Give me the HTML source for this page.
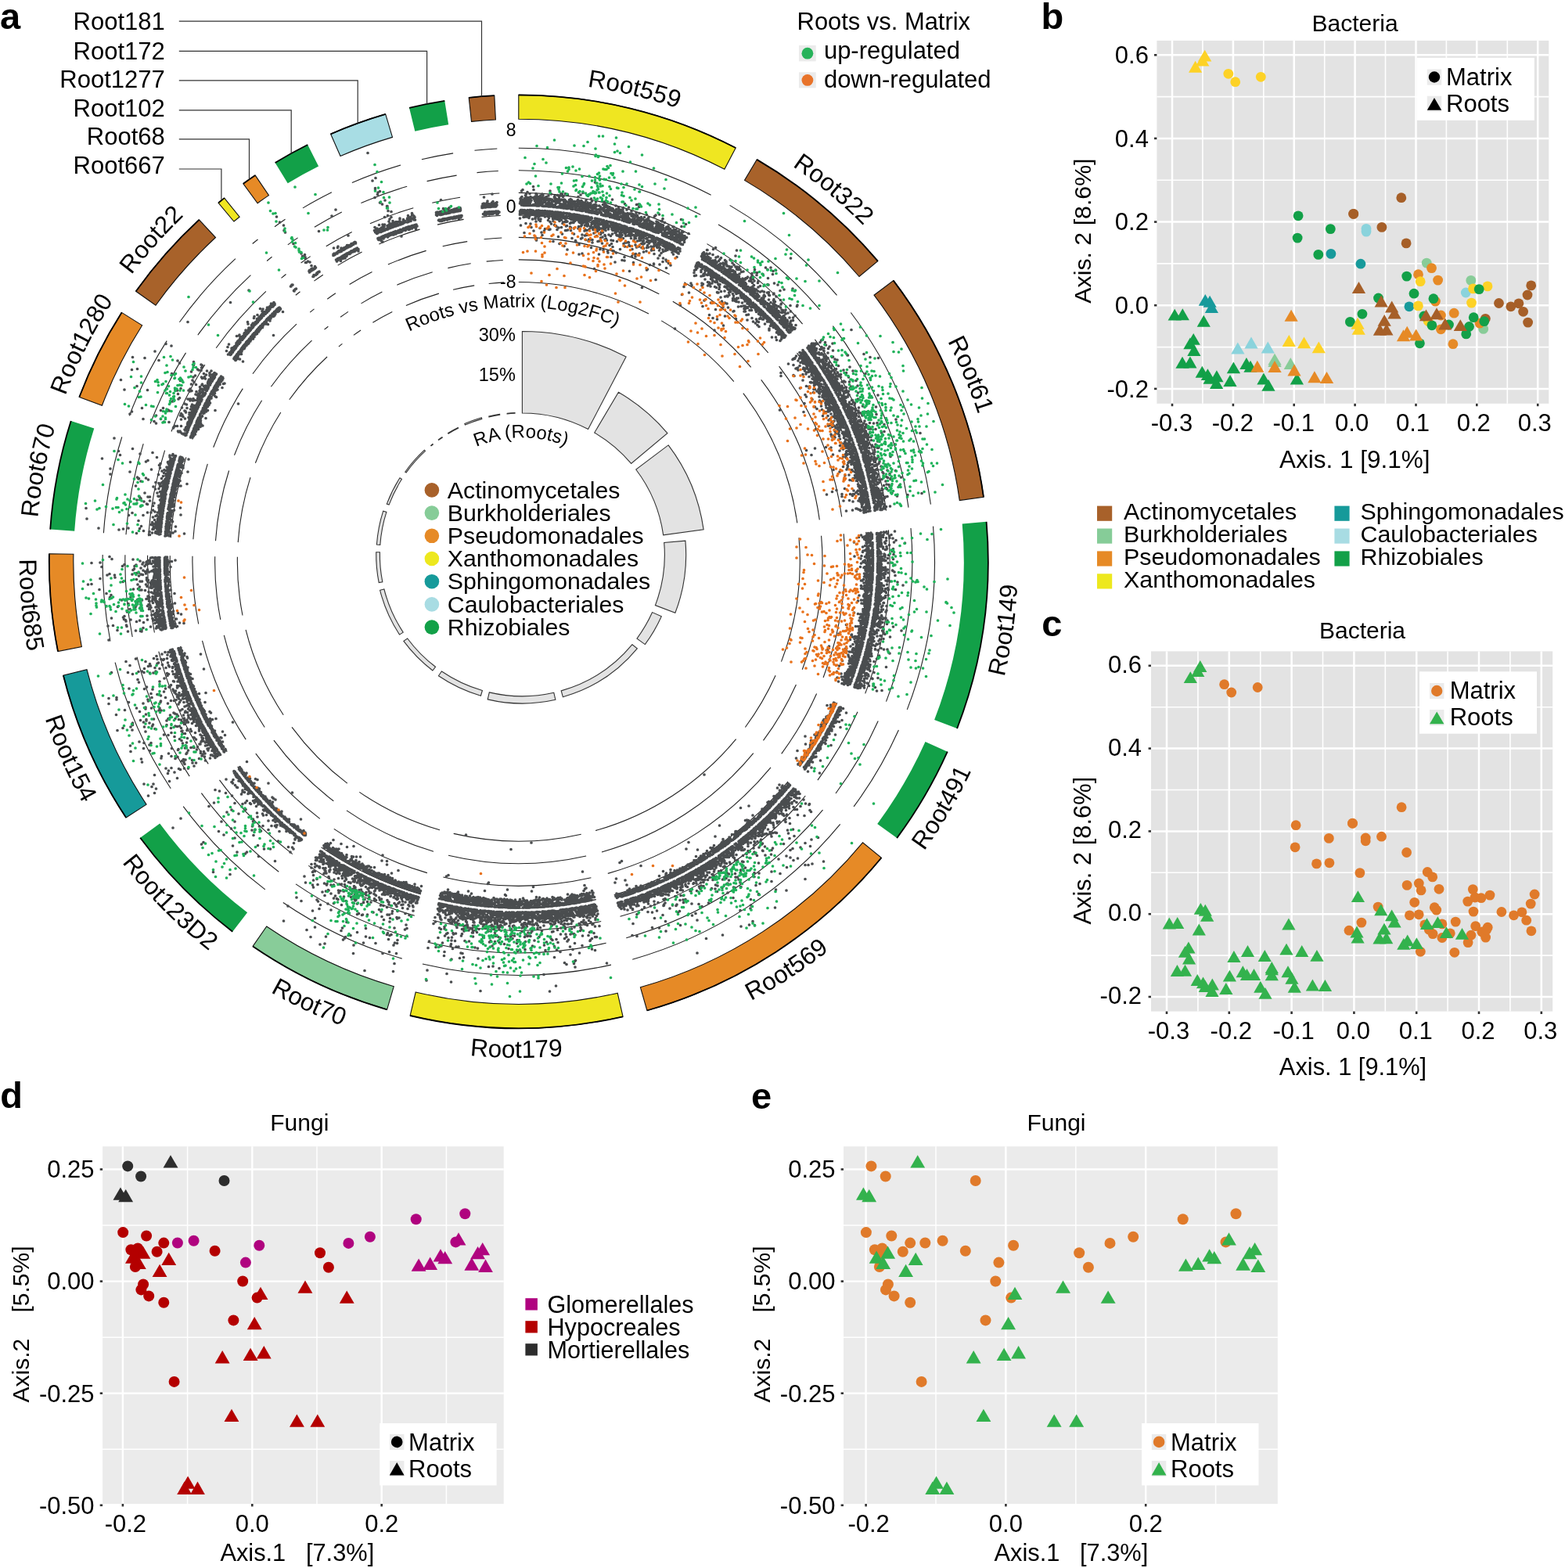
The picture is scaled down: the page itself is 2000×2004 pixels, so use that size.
<!DOCTYPE html><html><head><meta charset="utf-8"><title>Figure</title>
<style>html,body{margin:0;padding:0;background:#fff;}svg{display:block;}text{font-family:"Liberation Sans",Arial,sans-serif;fill:#000;}</style></head><body>
<svg xmlns="http://www.w3.org/2000/svg" width="2000" height="2004" viewBox="0 0 2000 2004">
<defs><path id="lp0" d="M149.9 376.9A617 613.3 0 0 1 1276.2 651.2"/><path id="lp1" d="M356.1 185.6A617 613.3 0 0 1 1241.9 929.5"/><path id="lp2" d="M636 105.1A617 613.3 0 0 1 1079.6 1170"/><path id="lp3" d="M795.2 1338.2A638 634.2 0 0 0 962.6 158"/><path id="lp4" d="M550 1342A638 634.2 0 0 0 1152.8 311.7"/><path id="lp5" d="M280.9 1225.8A638 634.2 0 0 0 1283.9 572.6"/><path id="lp6" d="M62.3 931.9A638 634.2 0 0 0 1261.3 937.4"/><path id="lp7" d="M27.6 658.3A638 634.2 0 0 0 1110.9 1169.2"/><path id="lp8" d="M87.6 443.5A638 634.2 0 0 0 926.1 1295.4"/><path id="lp9" d="M222.1 259.3A638 634.2 0 0 0 703.9 1350.6"/><path id="lp10" d="M392.6 143.3A638 634.2 0 0 0 498.3 1330.5"/><path id="lp11" d="M347.3 1244.9A617 613.3 0 0 1 563.6 112.5"/><path id="lp12" d="M215.5 1140.3A617 613.3 0 0 1 732.2 108.4"/><path id="lp13" d="M121.9 1012.8A617 613.3 0 0 1 886.4 146.2"/><path id="tt1" d="M339 669.1A327.5 325.5 0 0 1 983.8 653.5"/><path id="tt2" d="M518.9 684.5A150.5 149.6 0 0 1 815.3 681.4"/></defs>
<rect width="2000" height="2004" fill="#fff"/>
<path d="M662.8 121.4A600 596.4 0 0 1 940.2 189L925.9 216.3A569 565.6 0 0 0 662.8 152.2Z" fill="#efe621" stroke="#111" stroke-width="1.1"/>
<path d="M662.8 121.4A600 596.4 0 0 1 940.2 189" fill="none" stroke="#000" stroke-width="1.8"/>
<path d="M967.2 203.9A600 596.4 0 0 1 1121.8 333.7L1098 353.5A569 565.6 0 0 0 951.5 230.4Z" fill="#a8622a" stroke="#111" stroke-width="1.1"/>
<path d="M967.2 203.9A600 596.4 0 0 1 1121.8 333.7" fill="none" stroke="#000" stroke-width="1.8"/>
<path d="M1141.8 358.6A600 596.4 0 0 1 1257 635.3L1226.3 639.6A569 565.6 0 0 0 1117 377.2Z" fill="#a8622a" stroke="#111" stroke-width="1.1"/>
<path d="M1141.8 358.6A600 596.4 0 0 1 1257 635.3" fill="none" stroke="#000" stroke-width="1.8"/>
<path d="M1260.6 666.8A600 596.4 0 0 1 1223.1 931.1L1194.1 920.1A569 565.6 0 0 0 1229.7 669.4Z" fill="#12a048"/>
<path d="M1260.6 666.8A600 596.4 0 0 1 1223.1 931.1" fill="none" stroke="#000" stroke-width="1.8"/>
<path d="M1210.8 960.7A600 596.4 0 0 1 1146.2 1071.1L1121.2 1052.9A569 565.6 0 0 0 1182.5 948.1Z" fill="#12a048"/>
<path d="M1210.8 960.7A600 596.4 0 0 1 1146.2 1071.1" fill="none" stroke="#000" stroke-width="1.8"/>
<path d="M1126.4 1096.3A600 596.4 0 0 1 826.9 1291.5L818.4 1261.8A569 565.6 0 0 0 1102.5 1076.8Z" fill="#e68a26" stroke="#111" stroke-width="1.1"/>
<path d="M1126.4 1096.3A600 596.4 0 0 1 826.9 1291.5" fill="none" stroke="#000" stroke-width="1.8"/>
<path d="M796.1 1299.3A600 596.4 0 0 1 524.1 1298L531.2 1268A569 565.6 0 0 0 789.2 1269.2Z" fill="#efe621" stroke="#111" stroke-width="1.1"/>
<path d="M796.1 1299.3A600 596.4 0 0 1 524.1 1298" fill="none" stroke="#000" stroke-width="1.8"/>
<path d="M494.6 1290.3A600 596.4 0 0 1 323.1 1209.4L340.7 1184A569 565.6 0 0 0 503.3 1260.7Z" fill="#88cc99" stroke="#111" stroke-width="1.1"/>
<path d="M494.6 1290.3A600 596.4 0 0 1 323.1 1209.4" fill="none" stroke="#000" stroke-width="1.8"/>
<path d="M297.2 1190.7A600 596.4 0 0 1 179.2 1070.8L204.2 1052.5A569 565.6 0 0 0 316.1 1166.3Z" fill="#12a048"/>
<path d="M297.2 1190.7A600 596.4 0 0 1 179.2 1070.8" fill="none" stroke="#000" stroke-width="1.8"/>
<path d="M161.1 1045A600 596.4 0 0 1 80.9 863.2L111 855.7A569 565.6 0 0 0 187.1 1028.1Z" fill="#169a9a" stroke="#111" stroke-width="1.1"/>
<path d="M161.1 1045A600 596.4 0 0 1 80.9 863.2" fill="none" stroke="#000" stroke-width="1.8"/>
<path d="M74 832.5A600 596.4 0 0 1 62.9 707.7L93.9 708.2A569 565.6 0 0 0 104.4 826.6Z" fill="#e68a26" stroke="#111" stroke-width="1.1"/>
<path d="M74 832.5A600 596.4 0 0 1 62.9 707.7" fill="none" stroke="#000" stroke-width="1.8"/>
<path d="M64.2 676.6A600 596.4 0 0 1 90.7 538.1L120.3 547.4A569 565.6 0 0 0 95.2 678.7Z" fill="#12a048"/>
<path d="M64.2 676.6A600 596.4 0 0 1 90.7 538.1" fill="none" stroke="#000" stroke-width="1.8"/>
<path d="M101.3 507.5A600 596.4 0 0 1 155.5 399.4L181.7 415.8A569 565.6 0 0 0 130.4 518.3Z" fill="#e68a26" stroke="#111" stroke-width="1.1"/>
<path d="M101.3 507.5A600 596.4 0 0 1 155.5 399.4" fill="none" stroke="#000" stroke-width="1.8"/>
<path d="M173.7 372.3A600 596.4 0 0 1 254.4 280.9L275.5 303.5A569 565.6 0 0 0 199 390.2Z" fill="#a8622a" stroke="#111" stroke-width="1.1"/>
<path d="M173.7 372.3A600 596.4 0 0 1 254.4 280.9" fill="none" stroke="#000" stroke-width="1.8"/>
<path d="M279.1 259.3A600 596.4 0 0 1 286.7 253.1L306.1 277.2A569 565.6 0 0 0 298.9 283Z" fill="#efe621" stroke="#111" stroke-width="1.1"/>
<path d="M279.1 259.3A600 596.4 0 0 1 286.7 253.1" fill="none" stroke="#000" stroke-width="1.8"/>
<path d="M310.9 234.8A600 596.4 0 0 1 326.2 224.1L343.5 249.6A569 565.6 0 0 0 329.1 259.7Z" fill="#e68a26" stroke="#111" stroke-width="1.1"/>
<path d="M310.9 234.8A600 596.4 0 0 1 326.2 224.1" fill="none" stroke="#000" stroke-width="1.8"/>
<path d="M351.6 207.9A600 596.4 0 0 1 393.2 185L407.1 212.5A569 565.6 0 0 0 367.7 234.2Z" fill="#12a048"/>
<path d="M351.6 207.9A600 596.4 0 0 1 393.2 185" fill="none" stroke="#000" stroke-width="1.8"/>
<path d="M422.6 171.3A600 596.4 0 0 1 492.7 145.9L501.5 175.4A569 565.6 0 0 0 435 199.5Z" fill="#a8dde4" stroke="#111" stroke-width="1.1"/>
<path d="M422.6 171.3A600 596.4 0 0 1 492.7 145.9" fill="none" stroke="#000" stroke-width="1.8"/>
<path d="M523 137.8A600 596.4 0 0 1 568.3 128.9L573.2 159.3A569 565.6 0 0 0 530.3 167.8Z" fill="#12a048"/>
<path d="M523 137.8A600 596.4 0 0 1 568.3 128.9" fill="none" stroke="#000" stroke-width="1.8"/>
<path d="M599.2 124.8A600 596.4 0 0 1 631.8 122.2L633.4 153A569 565.6 0 0 0 602.5 155.4Z" fill="#a8622a" stroke="#111" stroke-width="1.1"/>
<path d="M599.2 124.8A600 596.4 0 0 1 631.8 122.2" fill="none" stroke="#000" stroke-width="1.8"/>
<path d="M662.8 360.5A359.5 357.3 0 0 1 829 401M662.8 331.9A388.2 385.9 0 0 1 842.3 375.7M662.8 303.4A416.9 414.4 0 0 1 855.6 350.4M662.8 274.9A445.6 442.9 0 0 1 868.8 325.1M662.8 246.4A474.3 471.4 0 0 1 882.1 299.8M662.8 217.8A503 500 0 0 1 895.4 274.5M662.8 189.3A531.7 528.5 0 0 1 908.6 249.2M845.2 409.9A359.5 357.3 0 0 1 937.8 487.6M859.8 385.3A388.2 385.9 0 0 1 959.7 469.3M874.3 360.7A416.9 414.4 0 0 1 981.7 450.9M888.9 336.1A445.6 442.9 0 0 1 1003.6 432.5M903.5 311.6A474.3 471.4 0 0 1 1025.6 414.1M918 287A503 500 0 0 1 1047.6 395.8M932.6 262.4A531.7 528.5 0 0 1 1069.5 377.4M949.8 502.6A359.5 357.3 0 0 1 1018.8 668.4M972.7 485.4A388.2 385.9 0 0 1 1047.3 664.4M995.6 468.2A416.9 414.4 0 0 1 1075.7 660.5M1018.5 451.1A445.6 442.9 0 0 1 1104.1 656.5M1041.4 433.9A474.3 471.4 0 0 1 1132.5 652.6M1064.4 416.7A503 500 0 0 1 1161 648.7M1087.3 399.5A531.7 528.5 0 0 1 1189.4 644.7M1021 687.2A359.5 357.3 0 0 1 998.5 845.6M1049.6 684.8A388.2 385.9 0 0 1 1025.3 855.8M1078.2 682.3A416.9 414.4 0 0 1 1052.1 866M1106.8 679.9A445.6 442.9 0 0 1 1078.9 876.2M1135.4 677.4A474.3 471.4 0 0 1 1105.7 886.4M1164 675A503 500 0 0 1 1132.5 896.6M1192.5 672.6A531.7 528.5 0 0 1 1159.3 906.9M991.1 863.3A359.5 357.3 0 0 1 952.4 929.5M1017.4 874.9A388.2 385.9 0 0 1 975.5 946.4M1043.6 886.5A416.9 414.4 0 0 1 998.7 963.3M1069.8 898.2A445.6 442.9 0 0 1 1021.8 980.2M1096 909.8A474.3 471.4 0 0 1 1044.9 997.1M1122.2 921.4A503 500 0 0 1 1068 1014M1148.4 933A531.7 528.5 0 0 1 1091.1 1030.9M940.6 944.6A359.5 357.3 0 0 1 761.1 1061.5M962.8 962.7A388.2 385.9 0 0 1 769 1089M985 980.8A416.9 414.4 0 0 1 776.8 1116.4M1007.1 998.9A445.6 442.9 0 0 1 784.7 1143.8M1029.3 1017A474.3 471.4 0 0 1 792.5 1171.3M1051.5 1035.1A503 500 0 0 1 800.3 1198.7M1073.7 1053.3A531.7 528.5 0 0 1 808.2 1226.2M742.7 1066.2A359.5 357.3 0 0 1 579.7 1065.4M749.1 1094A388.2 385.9 0 0 1 573 1093.2M755.4 1121.8A416.9 414.4 0 0 1 566.4 1121M761.8 1149.6A445.6 442.9 0 0 1 559.8 1148.7M768.2 1177.5A474.3 471.4 0 0 1 553.1 1176.5M774.6 1205.3A503 500 0 0 1 546.5 1204.2M781 1233.1A531.7 528.5 0 0 1 539.9 1232M562 1060.8A359.5 357.3 0 0 1 459.3 1012.4M554 1088.2A388.2 385.9 0 0 1 443 1035.9M545.9 1115.6A416.9 414.4 0 0 1 426.8 1059.4M537.9 1143A445.6 442.9 0 0 1 410.5 1082.9M529.8 1170.3A474.3 471.4 0 0 1 394.3 1106.4M521.8 1197.7A503 500 0 0 1 378 1129.9M513.7 1225.1A531.7 528.5 0 0 1 361.8 1153.5M443.8 1001.1A359.5 357.3 0 0 1 373 929.3M426.3 1023.8A388.2 385.9 0 0 1 349.9 946.2M408.8 1046.4A416.9 414.4 0 0 1 326.8 963.1M391.3 1069A445.6 442.9 0 0 1 303.6 979.9M373.8 1091.6A474.3 471.4 0 0 1 280.5 996.8M356.3 1114.2A503 500 0 0 1 257.4 1013.7M338.8 1136.9A531.7 528.5 0 0 1 234.2 1030.6M362.2 913.8A359.5 357.3 0 0 1 314.1 804.9M338.2 929.5A388.2 385.9 0 0 1 286.3 811.9M314.2 945.1A416.9 414.4 0 0 1 258.5 818.8M290.2 960.8A445.6 442.9 0 0 1 230.6 825.8M266.2 976.4A474.3 471.4 0 0 1 202.8 832.7M242.2 992.1A503 500 0 0 1 175 839.7M218.2 1007.7A531.7 528.5 0 0 1 147.1 846.6M310 786.5A359.5 357.3 0 0 1 303.4 711.8M281.8 792A388.2 385.9 0 0 1 274.7 711.3M253.7 797.5A416.9 414.4 0 0 1 246 710.8M225.5 803A445.6 442.9 0 0 1 217.3 710.3M197.4 808.5A474.3 471.4 0 0 1 188.6 709.8M169.2 814A503 500 0 0 1 159.9 709.3M141 819.5A531.7 528.5 0 0 1 131.2 708.9M304.2 693.1A359.5 357.3 0 0 1 320 610.1M275.5 691.2A388.2 385.9 0 0 1 292.6 601.5M246.9 689.2A416.9 414.4 0 0 1 265.3 592.9M218.3 687.2A445.6 442.9 0 0 1 237.9 584.3M189.6 685.2A474.3 471.4 0 0 1 210.6 575.7M161 683.3A503 500 0 0 1 183.2 567.1M132.4 681.3A531.7 528.5 0 0 1 155.8 558.5M326.4 591.8A359.5 357.3 0 0 1 358.8 527M299.5 581.7A388.2 385.9 0 0 1 334.6 511.8M272.7 571.7A416.9 414.4 0 0 1 310.3 496.6M245.8 561.6A445.6 442.9 0 0 1 286 481.3M219 551.5A474.3 471.4 0 0 1 261.8 466.1M192.1 541.5A503 500 0 0 1 237.5 450.9M165.3 531.4A531.7 528.5 0 0 1 213.2 435.6M369.8 510.8A359.5 357.3 0 0 1 418.1 456M346.4 494.3A388.2 385.9 0 0 1 398.5 435.1M323 477.8A416.9 414.4 0 0 1 379 414.2M299.6 461.2A445.6 442.9 0 0 1 359.5 393.3M276.2 444.7A474.3 471.4 0 0 1 339.9 372.4M252.8 428.2A503 500 0 0 1 320.4 351.6M229.4 411.7A531.7 528.5 0 0 1 300.9 330.7M432.9 443.1A359.5 357.3 0 0 1 437.4 439.4M414.5 421.2A388.2 385.9 0 0 1 419.4 417.2M396.2 399.2A416.9 414.4 0 0 1 401.5 394.9M377.8 377.3A445.6 442.9 0 0 1 383.5 372.7M359.5 355.4A474.3 471.4 0 0 1 365.5 350.5M341.1 333.5A503 500 0 0 1 347.5 328.3M322.7 311.5A531.7 528.5 0 0 1 329.5 306M451.9 428.4A359.5 357.3 0 0 1 461.1 422M435.1 405.3A388.2 385.9 0 0 1 445 398.4M418.3 382.2A416.9 414.4 0 0 1 428.9 374.8M401.4 359.1A445.6 442.9 0 0 1 412.8 351.2M384.6 336A474.3 471.4 0 0 1 396.7 327.6M367.8 312.9A503 500 0 0 1 380.6 303.9M351 289.8A531.7 528.5 0 0 1 364.5 280.3M476.4 412.3A359.5 357.3 0 0 1 501.3 398.6M461.5 387.9A388.2 385.9 0 0 1 488.4 373.1M446.6 363.5A416.9 414.4 0 0 1 475.5 347.6M431.7 339.1A445.6 442.9 0 0 1 462.6 322.1M416.8 314.7A474.3 471.4 0 0 1 449.7 296.6M401.9 290.3A503 500 0 0 1 436.8 271.1M387 265.9A531.7 528.5 0 0 1 423.9 245.7M518.9 390.4A359.5 357.3 0 0 1 560.9 375.1M507.4 364.2A388.2 385.9 0 0 1 552.7 347.8M495.9 338.1A416.9 414.4 0 0 1 544.6 320.4M484.4 311.9A445.6 442.9 0 0 1 536.5 293.1M472.9 285.8A474.3 471.4 0 0 1 528.3 265.7M461.4 259.6A503 500 0 0 1 520.2 238.3M449.9 233.5A531.7 528.5 0 0 1 512.1 211M579.1 370.3A359.5 357.3 0 0 1 606.2 364.9M572.4 342.6A388.2 385.9 0 0 1 601.7 336.8M565.7 314.8A416.9 414.4 0 0 1 597.2 308.6M559 287.1A445.6 442.9 0 0 1 592.6 280.4M552.3 259.3A474.3 471.4 0 0 1 588.1 252.2M545.6 231.6A503 500 0 0 1 583.6 224.1M538.9 203.8A531.7 528.5 0 0 1 579.1 195.9M624.7 362.5A359.5 357.3 0 0 1 644.2 360.9M621.7 334.1A388.2 385.9 0 0 1 642.8 332.5M618.6 305.7A416.9 414.4 0 0 1 641.3 304M615.6 277.4A445.6 442.9 0 0 1 639.8 275.5M612.6 249A474.3 471.4 0 0 1 638.3 247M609.5 220.6A503 500 0 0 1 636.8 218.5M606.5 192.3A531.7 528.5 0 0 1 635.3 190" fill="none" stroke="#222" stroke-width="1.1"/>
<path d="M667.4 423.5A287.1 285.4 0 0 1 800.1 455.9L751.6 548.5A182 180.9 0 0 0 667.4 528Z" fill="#e3e3e3" stroke="#333" stroke-width="1.1"/>
<path d="M790.4 501.2A242.5 241 0 0 1 852.9 553.6L806.6 592.4A182 180.9 0 0 0 759.7 553Z" fill="#e3e3e3" stroke="#333" stroke-width="1.1"/>
<path d="M854.1 568.9A233.9 232.5 0 0 1 899.1 676.7L847.7 683.9A182 180.9 0 0 0 812.7 600Z" fill="#e3e3e3" stroke="#333" stroke-width="1.1"/>
<path d="M875.9 691.1A209.3 208 0 0 1 862.9 783.3L837.4 773.6A182 180.9 0 0 0 848.7 693.4Z" fill="#e3e3e3" stroke="#333" stroke-width="1.1"/>
<path d="M845.3 787.7A194.8 193.6 0 0 1 824.3 823.6L814 816.1A182 180.9 0 0 0 833.6 782.6Z" fill="#e3e3e3" stroke="#333" stroke-width="1.1"/>
<path d="M814.3 828.8A190.1 189 0 0 1 719.4 890.7L717.2 882.9A182 180.9 0 0 0 808 823.7Z" fill="#e3e3e3" stroke="#333" stroke-width="1.1"/>
<path d="M709.9 894.3A191.3 190.1 0 0 1 623.2 893.9L625.3 884.9A182 180.9 0 0 0 707.8 885.3Z" fill="#e3e3e3" stroke="#333" stroke-width="1.1"/>
<path d="M614.4 889.2A189 187.9 0 0 1 560.4 863.8L564.4 858A182 180.9 0 0 0 616.4 882.5Z" fill="#e3e3e3" stroke="#333" stroke-width="1.1"/>
<path d="M552.9 857A187.9 186.8 0 0 1 515.9 819.4L520.7 816A182 180.9 0 0 0 556.5 852.3Z" fill="#e3e3e3" stroke="#333" stroke-width="1.1"/>
<path d="M510.6 811.1A187.5 186.4 0 0 1 485.6 754.3L490.9 753A182 180.9 0 0 0 515.2 808.1Z" fill="#e3e3e3" stroke="#333" stroke-width="1.1"/>
<path d="M484.2 744.6A186.7 185.6 0 0 1 480.7 705.8L485.4 705.8A182 180.9 0 0 0 488.8 743.7Z" fill="#e3e3e3" stroke="#333" stroke-width="1.1"/>
<path d="M481.4 696.1A186.4 185.3 0 0 1 489.7 653.1L493.9 654.4A182 180.9 0 0 0 485.8 696.4Z" fill="#e3e3e3" stroke="#333" stroke-width="1.1"/>
<path d="M494.3 644.1A185 183.9 0 0 1 511 610.7L513.5 612.3A182 180.9 0 0 0 497.1 645.1Z" fill="#e3e3e3" stroke="#333" stroke-width="1.1"/>
<path d="M517.7 603.2A183.6 182.5 0 0 1 542.4 575.2L543.5 576.4A182 180.9 0 0 0 519 604.1Z" fill="#e3e3e3" stroke="#333" stroke-width="1.1"/>
<path d="M550.6 569.4A182.6 181.5 0 0 1 552.9 567.5L553.3 568A182 180.9 0 0 0 551 569.8Z" fill="#e3e3e3" stroke="#333" stroke-width="1.1"/>
<path d="M560.3 561.9A182.6 181.5 0 0 1 564.9 558.7L565.3 559.2A182 180.9 0 0 0 560.7 562.4Z" fill="#e3e3e3" stroke="#333" stroke-width="1.1"/>
<path d="M572.6 553.5A182.8 181.7 0 0 1 585.3 546.6L585.6 547.3A182 180.9 0 0 0 573 554.2Z" fill="#e3e3e3" stroke="#333" stroke-width="1.1"/>
<path d="M593.8 541.5A183.8 182.7 0 0 1 615.3 533.7L615.8 535.4A182 180.9 0 0 0 594.5 543.1Z" fill="#e3e3e3" stroke="#333" stroke-width="1.1"/>
<path d="M624.8 532A183 181.9 0 0 1 638.6 529.3L638.7 530.3A182 180.9 0 0 0 625 533Z" fill="#e3e3e3" stroke="#333" stroke-width="1.1"/>
<path d="M648.1 528.4A182.6 181.5 0 0 1 658 527.6L658 528.2A182 180.9 0 0 0 648.1 529Z" fill="#e3e3e3" stroke="#333" stroke-width="1.1"/>
<g transform="scale(.5)" fill="none" stroke-linecap="round" stroke-width="7.4">
<path stroke="#4a4d4f" d="M1325 2350h0m0-10h0m-1 6h0m0-14h0m0-18h0m0-8h0m-1 125h0m0-79h0m0-9h0m0-10h0m0-1h0m-1 72h0m0-1h0m0-55h0m0-5h0m0-11h0m0-12h0m0-2h0m0-8h0m0-1h0m-1 102h0m0-67h0m0-3h0m0-2h0m0-19h0m-1 21h0m0-3h0m0-3h0m0-2h0m0-13h0m0-11h0m-1 45h0m0-2h0m0-42h0m0-5h0m-1 38h0m0-3h0m0-1h0m0-2h0m0-2h0m0-15h0m0-2h0m0-7h0m0-3h0m-1 47h0m0-15h0m0-34h0m0-6h0m-1 37h0m0-1h0m0-20h0m0-2h0m0-9h0m-1 87h0m0-48h0m0-27h0m0-7h0m0-5h0m-1 62h0m0-11h0m0-5h0m0-31h0m0-4h0m0-6h0m-1 59h0m0-3h0m0-21h0m0-3h0m0-10h0m0-12h0m0-3h0m0-4h0m0-9h0m-1 65h0m0-15h0m0-2h0m0-2h0m0-15h0m0-16h0m-1 48h0m0-21h0m-1 53h0m1-63h0m-1 15h0m0-7h0m0-4h0m-1 42h0m1-62h0m0-5h0m0-11h0m-1 52h0m0-6h0m0-7h0m-1 48h0m1-59h0m0-19h0m0-10h0m-1 30h0m0-1h0m-1 43h0m1-66h0m0-8h0m-1 41h0m0-4h0m0-2h0m0-16h0m0-9h0m-1 45h0m0-2h0m0-2h0m-1 43h0m1-53h0m0-3h0m-1 37h0m1-56h0m-1 35h0m1-51h0m-2 56h0m0-4h0m0-6h0m0-5h0m1-44h0m-1 39h0m0-3h0m0-17h0m0-12h0m-1 33h0m1-41h0m-2 67h0m1-50h0m0-2h0m0-2h0m-1 38h0m1-41h0m-3 115h0m2-78h0m0-1h0m1-39h0m-1 36h0m0-11h0m4-161h0m-4 149h0m0-3h0m0-10h0m-1 32h0m0-2h0m0-5h0m-1 11h0m1-41h0m-3 99h0m2-86h0m0-4h0m0-1h0m0-4h0m0-4h0m-1 18h0m-1 27h0m1-41h0m-2 13h0m0-9h0m0-10h0m-1 19h0m-1 24h0m0-6h0m1-33h0m-1 29h0m2-59h0m-2 58h0m-1 29h0m2-62h0m-1 17h0m-3 78h0m3-87h0m-1 28h0m0-16h0m-1 24h0m0-10h0m0-1h0m1-30h0m-2 47h0m0-4h0m1-30h0m-1 19h0m-3 79h0m2-64h0m1-30h0m-1 24h0m2-54h0m-2 50h0m-1 24h0m1-28h0m1-33h0m-1 16h0m-1 25h0m1-31h0m0-4h0m-2 39h0m2-60h0m-2 48h0m-1 22h0m2-54h0m-2 47h0m-1-1h0m2-51h0m-2 42h0m1-27h0m-2 26h0m1-27h0m0-11h0m-3 67h0m1-28h0m1-23h0m0-3h0m-2 44h0m1-24h0m-1 21h0m2-50h0m-1 14h0m-1 15h0m1-31h0m0-3h0m-2 36h0m0-1h0m0-4h0m-7 144h0m6-129h0m0-5h0m1-22h0m0-3h0m-3 52h0m3-63h0m-3 60h0m2-46h0m0-3h0m-1 18h0m-2 35h0m1-23h0m-1 19h0m1-24h0m-1 16h0m1-20h0m1-21h0m-1 17h0m1-21h0m-1 19h0m-4 78h0m4-90h0m1-20h0m-2 38h0m2-39h0m-2 36h0m0-2h0m-1 18h0m-2 26h0m2-45h0m-4 64h0m4-79h0m-3 55h0m2-40h0m-1 7h0m1-19h0m1-21h0m-1 14h0m-3 42h0m1-18h0m1-20h0m-3 51h0m1-18h0m1-18h0m-1 11h0m2-36h0m-2 34h0m0-3h0m1-18h0m1-19h0m-4 67h0m3-57h0m-2 33h0m2-35h0m0-6h0m0-2h0m-2 31h0m1-19h0m-3 50h0m1-18h0m-1 13h0m3-54h0m-2 32h0m-1 7h0m2-34h0m-4 63h0m2-40h0m-4 62h0m3-53h0m2-36h0m-3 48h0m-4 55h0m1-17h0m1-19h0m2-34h0m1-20h0m-1 14h0m-9 139h0m8-130h0m-3 44h0m4-69h0m1-17h0m-4 49h0m-1 14h0m3-46h0m-3 42h0m2-39h0m0-3h0m-3 40h0m2-37h0m-4 57h0m0-7h0m1-16h0m3-45h0m0-2h0m-2 27h0m-6 86h0m7-105h0m-2 25h0m1-20h0m1-20h0m-1 13h0m-2 28h0m2-31h0m-2 22h0m2-29h0m-5 67h0m4-56h0m0-2h0m-2 25h0m0-1h0m-1 11h0m2-35h0m-3 34h0m2-33h0m-7 94h0m3-41h0m4-55h0m-12 162h0m13-176h0m-3 40h0m-3 35h0m1-18h0m3-42h0m-3 34h0m-3 36h0m5-70h0m-2 20h0m-6 78h0m3-41h0m2-28h0m-1 6h0m-1 11h0m2-26h0m1-13h0m-2 22h0m-1 12h0m0-7h0m3-39h0m-2 25h0m2-30h0m-3 37h0m0-7h0m1-13h0m1-15h0m-1 10h0m-5 56h0m3-37h0m0-1h0m1-16h0m-3 34h0m3-42h0m-4 46h0m3-38h0m-3 33h0m0-2h0m-3 36h0m4-49h0m0-1h0m2-27h0m-1 9h0m0-4h0m-2 20h0m1-18h0m-4 46h0m1-14h0m-1 10h0m2-24h0m1-14h0m-2 18h0m1-16h0m1-12h0m-1 11h0m-3 30h0m4-46h0m-5 52h0m2-23h0m-3 31h0m1-16h0m-1 11h0m2-24h0m-18 202h0m15-171h0m-1 11h0m3-34h0m2-26h0m-4 43h0m3-40h0m1-17h0m-3 30h0m-1 10h0m-3 32h0m5-59h0m-3 31h0m-1 9h0m4-44h0m0-4h0m-1 9h0m0-2h0m5-55h0m-5 51h0m-1 9h0m-3 30h0m4-43h0m-4 41h0m3-33h0m-8 84h0m8-91h0m-1 10h0m0-2h0m5-53h0m-10 104h0m1-11h0m5-54h0m-3 30h0m2-27h0m-6 62h0m5-53h0m-6 58h0m3-32h0m3-32h0m-3 29h0m0-5h0m1-12h0m-3 28h0m0-1h0m4-44h0m0-2h0m-4 37h0m-1 10h0m4-41h0m-1 6h0m-3 29h0m3-30h0m-3 25h0m-1 9h0m4-40h0m-3 27h0m2-23h0m-5 49h0m4-40h0m-3 29h0m3-31h0m-14 137h0m10-100h0m2-22h0m5-51h0m-9 84h0m5-50h0m-1 4h0m2-20h0m-6 53h0m0-1h0m1-11h0m2-24h0m-12 112h0m10-95h0m-3 25h0m1-10h0m5-48h0m-6 54h0m5-47h0m-6 55h0m2-23h0m0-2h0m3-29h0m-8 71h0m8-75h0m-5 46h0m3-31h0m1-12h0m-3 24h0m-1 8h0m-1 9h0m4-39h0m0-7h0m-1 9h0m-3 27h0m-1 6h0m0-7h0m2-19h0m-8 69h0m8-73h0m-13 112h0m14-124h0m-5 44h0m1-9h0m0-4h0m2-22h0m-3 26h0m3-29h0m1-10h0m-6 50h0m5-44h0m-2 13h0m2-18h0m-6 47h0m5-45h0m-4 33h0m2-20h0m-8 68h0m5-45h0m-5 36h0m3-29h0m3-26h0m-4 32h0m1-10h0m-1 7h0m2-17h0m2-19h0m-1 7h0m0-2h0m2-19h0m-1 8h0m-1 8h0m-7 57h0m3-27h0m3-25h0m-10 80h0m12-100h0m-5 38h0m2-19h0m0-2h0m-9 73h0m7-58h0m-4 32h0m1-10h0m-4 31h0m6-50h0m4-33h0m-4 30h0m-1 8h0m0-2h0m-1 8h0m-2 16h0m6-50h0m-1 7h0m-9 71h0m7-56h0m3-25h0m-8 63h0m9-72h0m-8 63h0m7-56h0m-5 39h0m3-27h0m-3 23h0m5-41h0m-4 31h0m-6 47h0m6-48h0m2-17h0m-1 5h0m1-8h0m-3 23h0m-3 23h0m5-40h0m2-16h0m-1 6h0m-10 73h0m5-39h0m5-40h0m-4 30h0m-1 5h0m-2 15h0m5-42h0m-5 38h0m4-32h0m-13 97h0m13-100h0m-5 36h0m2-17h0m3-25h0m0-1h0m-10 74h0m8-62h0m-2 14h0m3-23h0m-5 37h0m1-8h0m4-34h0m-2 15h0m-3 19h0m-1 7h0m1-8h0m-3 19h0m5-40h0m2-16h0m-1 6h0m-11 79h0m4-33h0m2-17h0m4-30h0m-1 6h0m-3 20h0m-3 17h0m2-17h0m3-23h0m-2 11h0m2-16h0m-21 151h0m20-146h0m0-1h0m-10 71h0m8-59h0m-2 14h0m4-29h0m0-1h0m-10 70h0m5-39h0m-2 12h0m5-36h0m-6 40h0m2-15h0m-5 35h0m-6 42h0m17-121h0m-9 63h0m5-37h0m-4 25h0m5-35h0m-4 27h0m-16 110h0m16-114h0m-5 34h0m-2 9h0m6-43h0m-1 6h0m-3 18h0m1-7h0m4-29h0m1-7h0m2-14h0m-5 33h0m-1 5h0m-4 27h0m3-21h0m-3 20h0m6-43h0m-4 27h0m5-35h0m0-2h0m-20 135h0m20-137h0m-12 81h0m8-55h0m-4 25h0m2-14h0m4-27h0m-10 67h0m12-81h0m-23 154h0m21-142h0m-9 60h0m9-63h0m-1 6h0m-10 64h0m11-74h0m-6 37h0m4-27h0m-2 13h0m3-21h0m-5 33h0m-2 10h0m1-9h0m6-40h0m-14 91h0m9-60h0m7-49h0m-5 31h0m-2 13h0m-4 26h0m3-20h0m-10 64h0m10-67h0m3-21h0m-11 71h0m6-39h0m4-26h0m2-13h0m-4 25h0m-1 4h0m-2 11h0m2-13h0m5-33h0m-8 51h0m0-2h0m0-1h0m-2 11h0m9-58h0m-20 128h0m14-91h0m1-7h0m3-25h0m0-1h0m-1 3h0m-6 36h0m5-32h0m-1 6h0m2-14h0m0-3h0m-6 36h0m6-38h0m-1 6h0m-8 49h0m3-19h0m-3 17h0m7-44h0m-34 211h0m26-162h0m8-51h0m-5 29h0m-2 12h0m7-44h0m-9 53h0m7-44h0m-1 6h0m-18 111h0m13-81h0m2-13h0m-1 4h0m-1 4h0m-5 28h0m10-63h0m-8 48h0m4-25h0m0-1h0m-1 5h0m-3 18h0m6-40h0m1-7h0m-2 11h0m-9 54h0m5-33h0m-1 6h0m6-37h0m-1 5h0m-7 41h0m3-20h0m3-18h0m-5 29h0m1-6h0m-13 76h0m13-78h0m1-7h0m2-12h0m2-13h0m0-1h0m-13 77h0m3-18h0m-17 99h0m11-66h0m16-95h0m-5 29h0m2-12h0m-9 53h0m10-60h0m2-13h0m-6 35h0m-18 102h0m20-121h0m-11 62h0m13-76h0m-3 17h0m-9 51h0m3-18h0m1-9h0m5-33h0m-5 27h0m-29 164h0m17-101h0m15-86h0m-4 22h0m4-23h0m-8 45h0m-1 2h0m-2 11h0m7-40h0m4-24h0m-16 90h0m-5 28h0m22-125h0m-23 129h0m2-13h0m12-69h0m-4 22h0m9-51h0m-16 90h0m18-102h0m-7 39h0m8-46h0m-7 39h0m0-2h0m4-24h0m-1 5h0m3-18h0m-12 65h0m6-34h0m-6 33h0m11-62h0m-6 33h0m5-30h0m-6 33h0m3-19h0m1-10h0m-2 10h0m1-7h0m-6 32h0m0-1h0m5-28h0m4-22h0m-14 73h0m10-56h0m-4 21h0m-8 43h0m6-33h0m7-38h0m-3 15h0m4-22h0m-13 69h0m9-49h0m-10 54h0m7-39h0m-2 10h0m4-23h0m1-6h0m-1 5h0m2-13h0m-6 32h0m-14 74h0m13-70h0m7-41h0m-12 62h0m8-43h0m1-7h0m-1 4h0m-4 20h0m-23 121h0m16-85h0m10-53h0m2-13h0m-8 42h0m3-16h0m-22 115h0m21-111h0m7-37h0m-8 40h0m-4 19h0m11-58h0m-19 99h0m10-55h0m2-14h0m-2 10h0m37-192h0m-42 217h0m3-19h0m3-16h0m-1 5h0m-13 66h0m19-98h0m-1 4h0m-12 61h0m5-26h0m8-43h0m-10 51h0m1-8h0m2-12h0m-7 35h0m9-47h0m0-1h0m-5 24h0m-13 65h0m14-71h0m3-18h0m-6 30h0m-1 4h0m3-17h0m0-5h0m-1 5h0m-18 90h0m18-94h0m6-31h0m-3 14h0m3-15h0m-27 134h0m26-131h0m-18 87h0m15-76h0m-1 4h0m2-10h0m-5 23h0m-11 54h0m10-50h0m-2 8h0m-3 12h0m3-16h0m5-25h0m-25 121h0m26-127h0m-6 27h0m5-25h0m2-10h0m-13 62h0m6-32h0m-5 23h0m10-49h0m-2 9h0m-4 19h0m5-25h0m2-10h0m-5 21h0m-3 12h0m-4 18h0m1-5h0m8-39h0m-2 9h0m-1 4h0m1-5h0m-4 18h0m0-1h0m-4 16h0m-10 46h0m13-62h0m3-18h0m1-5h0m-5 23h0m-1 3h0m4-20h0m2-10h0m1-5h0m-3 14h0m-22 102h0m20-96h0m-26 120h0m19-89h0m11-52h0m1-6h0m-17 77h0m8-39h0m-13 60h0m19-90h0m-4 18h0m-3 12h0m4-19h0m-6 25h0m-2 9h0m-5 22h0m0-1h0m12-55h0m0-2h0m2-10h0m-8 35h0m-42 190h0m41-187h0m-6 26h0m0-3h0m9-44h0m-3 13h0m4-18h0m2-9h0m-11 44h0m-34 152h0m54-243h0m-13 58h0m-5 21h0m8-36h0m-7 31h0m-4 16h0m1-5h0m6-27h0m-5 21h0m-5 22h0m6-27h0m-1 4h0m-4 15h0m4-19h0m3-14h0m3-14h0m-7 30h0m4-18h0m1-5h0m-2 8h0m-7 30h0m4-18h0m-2 8h0m-5 19h0m3-14h0m19-83h0m-12 52h0m1-5h0m-2 8h0m-4 16h0m-11 45h0m17-74h0m-10 43h0m6-28h0m1-5h0m1-5h0m-9 36h0m3-14h0m-1 3h0m3-15h0m3-13h0m-33 139h0m18-78h0m13-56h0m-17 72h0m-11 45h0m-31-98h0m4-14h0m5-17h0m-7 22h0m5-17h0m1-5h0m-5 16h0m-3 10h0m11-38h0m-10 33h0m5-19h0m-9 29h0m8-27h0m-5 14h0m-10 33h0m9-32h0m6-20h0m-6 16h0m6-20h0m-31 101h0m30-99h0m-2 6h0m1-4h0m-13 42h0m7-23h0m0-1h0m-58 189h0m63-207h0m-5 16h0m-1 1h0m-1 3h0m-6 19h0m7-23h0m0-1h0m5-17h0m-9 28h0m-23 74h0m-27 87h0m51-165h0m1-4h0m-14 45h0m21-68h0m-29 93h0m19-62h0m10-33h0m-11 35h0m4-13h0m4-15h0m-1 3h0m-5 15h0m-1 3h0m-44 140h0m45-147h0m-4 11h0m9-29h0m-6 19h0m0-1h0m-6 18h0m1-5h0m3-10h0m0-1h0m-3 9h0m2-7h0m0-1h0m-1 3h0m7-23h0m-11 34h0m4-13h0m-7 22h0m12-39h0m-4 12h0m-39 122h0m37-117h0m6-19h0m-10 30h0m12-38h0m-1 3h0m-8 25h0m-9 28h0m9-29h0m-35 109h0m31-97h0m11-35h0m-2 5h0m-12 37h0m7-22h0m4-15h0m-19 59h0m24-75h0m-12 36h0m2-7h0m6-19h0m-2 6h0m2-7h0m-6 18h0m6-19h0m-7 21h0m4-14h0m-4 12h0m-40 123h0m-3 6h0m42-129h0m-1 3h0m-3 9h0m2-8h0m5-16h0m-4 12h0m-1 2h0m-3 8h0m10-32h0m-3 9h0m-5 14h0m-2 4h0m1-5h0m-3 9h0m-1 3h0m8-25h0m-53 159h0m55-166h0m-1 0h0m-7 21h0m-6 18h0m12-37h0m0-2h0m-10 29h0m9-27h0m1-3h0m-10 29h0m-9 26h0m17-51h0m-26 76h0m17-52h0m7-21h0m1-3h0m1-3h0m-8 23h0m2-6h0m4-12h0m3-9h0m-17 49h0m9-28h0m6-20h0m-7 20h0m5-15h0m1-3h0m1-3h0m-37 109h0m28-83h0m8-25h0m0-1h0m-29 85h0m19-56h0m7-22h0m-6 17h0m-9 26h0m-26 76h0m42-123h0m-13 38h0m5-15h0m-20 56h0m25-74h0m2-6h0m0-1h0m-10 28h0m-38 109h0m47-137h0m-10 29h0m-34 98h0m42-123h0m-5 14h0m4-12h0m-5 14h0m-5 14h0m13-38h0m-24 69h0m20-59h0m-58 167h0m51-147h0m3-9h0m-4 9h0m8-23h0m-7 18h0m-2 5h0m2-6h0m1-3h0m4-12h0m-13 37h0m4-12h0m11-33h0m2-6h0m-20 54h0m-27 76h0m37-105h0m7-20h0m-3 8h0m-43 121h0m25-72h0m13-37h0m4-12h0m-5 14h0m6-17h0m-9 24h0m7-22h0m-6 15h0m1-3h0m4-13h0m-17 47h0m11-31h0m1-3h0m-1 2h0m-27 75h0m21-59h0m15-42h0m-5 12h0m0-1h0m-12 33h0m-13 36h0m26-73h0m-7 19h0m6-17h0m-30 83h0m29-81h0m-8 22h0m9-25h0m1-3h0m-25 69h0m24-67h0m1-3h0m-7 19h0m-3 8h0m-2 5h0m4-13h0m0-1h0m6-17h0m-11 30h0m-7 19h0m11-31h0m-7 19h0m4-12h0m10-29h0m-8 21h0m-23 61h0m30-82h0m-2 5h0m-6 16h0m7-20h0m0-1h0m-3 8h0m1-4h0m-6 16h0m-5 12h0m4-12h0m4-12h0m-9 24h0m-10 27h0m19-53h0m2-6h0m-14 37h0m5-14h0m-22 59h0m20-54h0m-1 2h0m-3 8h0m11-31h0m2-7h0m-2 5h0m2-6h0m-11 29h0m11-30h0m-3 8h0m-5 13h0m-51 136h0m51-137h0m6-16h0m-7 16h0m-29 77h0m-49 130h0m41-109h0m44-117h0m-9 22h0m6-16h0m-20 51h0m20-54h0m-6 15h0m-3 7h0m7-19h0m-8 21h0m3-10h0m-13 34h0m-5 13h0m22-58h0m-12 29h0m-1 1h0m3-8h0m4-11h0m-13 33h0m17-45h0m-8 19h0m3-8h0m-2 5h0m-26 67h0m32-84h0m-7 18h0m10-26h0m-2 3h0m1-4h0m-13 33h0m-7 18h0m19-49h0m-9 23h0m-2 3h0m2-6h0m-1 2h0m19-49h0m-11 28h0m-2 5h0m0-2h0m1-3h0m-10 25h0m3-8h0m-2 4h0m6-16h0m-11 28h0m11-29h0m-23 58h0m-6 15h0m21-54h0m9-23h0m-7 17h0m0-1h0m-2 4h0m-5 12h0m-45 112h0m57-144h0m-6 15h0m7-18h0m-3 7h0m-10 25h0m11-28h0m-7 16h0m6-16h0m-9 22h0m12-31h0m-10 24h0m5-13h0m-6 15h0m1-4h0m8-20h0m-1 1h0m-31 77h0m28-70h0m-13 32h0m-11 27h0m17-43h0m8-20h0m-2 4h0m-6 13h0m-5 12h0m10-25h0m4-10h0m-11 27h0m7-18h0m-13 32h0m6-15h0m-1 2h0m-1 0h0m1-3h0m8-20h0m-1 2h0m-19 46h0m13-32h0m9-23h0m-68 167h0m52-128h0m2-5h0m2-5h0m2-5h0m6-15h0m-58 142h0m66-162h0m-19 43h0m13-32h0m-14 34h0m2-5h0m11-27h0m-17 41h0m15-37h0m-21 51h0m14-36h0m-2 4h0m-3 7h0m0-1h0m9-22h0m-1 0h0m-7 16h0m-27 64h0m15-38h0m10-25h0m13-32h0m-15 36h0m12-29h0m-10 24h0m2-5h0m7-17h0m-53 127h0m54-132h0m-1 2h0m-13 31h0m5-12h0m5-12h0m-9 21h0m3-9h0m-3 4h0m-15 35h0m-58 136h0m73-173h0m-6 12h0m4-11h0m2-5h0m6-15h0m0-1h0m-2 4h0m-7 16h0m-3 7h0m11-26h0m-24 56h0m17-40h0m8-20h0m-1 2h0m-1 2h0m-19 44h0m8-19h0m14-33h0m-5 11h0m-21 49h0m12-29h0m-30 70h0m44-103h0m-1 2h0m-22 51h0m12-29h0m5-12h0m-73 169h0m63-147h0m-2 1h0m10-24h0m2-5h0m-10 22h0m1-3h0m-20 46h0m28-66h0m13-30h0m-15 34h0m-18 41h0m-43 98h0m46-107h0m8-19h0m9-22h0m-19 43h0m3-7h0m11-26h0m3-7h0m-8 18h0m8-20h0m15-35h0m-24 54h0m-1 2h0m5-14h0m-42 95h0m34-77h0m-1 2h0m-35 76h0m33-75h0m-19 41h0m18-41h0m-13 29h0m-2 4h0m15-34h0m4-9h0m-6 13h0m15-34h0m-22 49h0m20-45h0m-10 21h0m7-16h0m4-9h0m0-1h0m-1 1h0m-22 49h0m13-29h0m-2 4h0m-12 26h0m6-14h0m-55 122h0m62-138h0m-1 2h0m-3 5h0m12-28h0m-4 8h0m-7 15h0m7-16h0m-6 13h0m-3 6h0m8-18h0m-18 38h0m19-42h0m-45 99h0m38-84h0m-5 11h0m-21 45h0m0-1h0m25-55h0m-22 48h0m14-31h0m4-9h0m9-21h0m-23 50h0m40-88h0m-27 59h0m4-9h0m-40 87h0m48-105h0m-12 26h0m-2 4h0m13-29h0m-17 37h0m5-12h0m11-24h0m-13 27h0m-23 50h0m33-73h0m-20 43h0m4-9h0m-57 123h0m67-146h0m-69 149h0m65-141h0m-2 4h0m13-29h0m-13 28h0m34-74h0m-34 73h0m4-9h0m6-13h0m3-7h0m-13 28h0m-67 144h0m54-118h0m13-28h0m10-24h0m-7 15h0m-2 4h0m-2 4h0m2-5h0m10-22h0m-9 19h0m5-11h0m-24 51h0m25-54h0m-7 14h0m-4 8h0m-6 12h0m15-32h0m-12 23h0m19-41h0m-44 93h0m30-64h0m-5 9h0m-12 25h0m15-32h0m-2 4h0m8-18h0m-6 11h0m9-20h0m-13 26h0m-51 106h0m61-128h0m-1 2h0m-1 2h0m-8 16h0m8-18h0m-12 25h0m4-9h0m-14 27h0m10-21h0m-3 6h0m6-13h0m-26 54h0m-38 79h0m3-7h0m70-146h0m-37 76h0m26-54h0m10-21h0m0-1h0m-16 33h0m14-29h0m-16 33h0m10-21h0m12-25h0m-17 35h0m13-27h0m-1 2h0m-2 4h0m2-5h0m-8 16h0m-32 66h0m41-85h0m-13 26h0m11-23h0m-24 49h0m5-11h0m-17 34h0m23-48h0m-1 2h0m5-11h0m-23 47h0m18-37h0m10-22h0m-7 14h0m7-15h0m-11 22h0m10-21h0m-11 22h0m-5 10h0m10-21h0m5-11h0m7-15h0m-38 77h0m2-5h0m29-59h0m-13 25h0m-3 6h0m9-19h0m8-17h0m-3 6h0m3-7h0m-1 2h0m4-9h0m-2 4h0m-18 35h0m15-31h0m-1 2h0m-7 14h0m-5 10h0m-13 26h0m29-59h0m-5 10h0m-1 2h0m1-3h0m-1 2h0m-7 14h0m12-25h0m-1 2h0m-2 4h0m-1 2h0m-2 3h0m-8 16h0m-1 2h0m-2 4h0m15-31h0m-4 8h0m-13 26h0m-21 42h0m22-45h0m11-22h0m-6 11h0m-16 31h0m16-32h0m10-20h0m-11 21h0m6-12h0m-16 31h0m3-6h0m14-28h0m-32 63h0m21-42h0m2-4h0m1-2h0m8-18h0m-29 57h0m2-4h0m28-56h0m-31 61h0m17-34h0m-12 22h0m13-26h0m2-4h0m-90 177h0m86-170h0m11-23h0m-43 84h0m33-66h0m1-3h0m8-16h0m3-6h0m-15 29h0m0-2h0m-8 15h0m5-10h0m4-8h0m8-16h0m-16 31h0m7-14h0m-18 35h0m20-39h0m-83 161h0m77-150h0m5-12h0m-42 81h0m33-65h0m-3 5h0m17-33h0m-15 29h0m19-37h0m2-4h0m-12 23h0m-5 9h0m-4 7h0m16-31h0m-27 52h0m29-56h0m-10 19h0m-95 183h0m103-200h0m-13 25h0m10-20h0m-11 21h0m-28 52h0m38-73h0m4-9h0m-25 47h0m0-1h0m5-10h0m15-29h0m-2-1h0m-1 1h0m-7 13h0m7-14h0m3-6h0m1-2h0m-1 1h0m-12 22h0m-25 47h0m27-51h0m-15 28h0m27-52h0m-40 75h0m34-64h0m-29 53h0m27-52h0m-6 11h0m9-18h0m-13 24h0m9-17h0m-45 84h0m39-73h0m-5 9h0m11-21h0m4-8h0m-14 26h0m10-19h0m2-4h0m1-2h0m9-17h0m-25 46h0m4-8h0m8-16h0m-62 114h0m35-65h0m14-26h0m14-26h0m1-2h0m-11 20h0m-4 7h0m-34 63h0m39-73h0m5-11h0m-6 11h0m-46 85h0m55-102h0m-38 70h0m24-45h0m15-28h0m-24 44h0m8-15h0m-3 5h0m-24 44h0m32-59h0m7-14h0m5-10h0m-29 53h0m22-41h0m-19 34h0m18-34h0m-15 27h0m17-32h0m-3 5h0m1-2h0m-10 18h0m-27 49h0m37-68h0m-45 82h0m35-64h0m-19 34h0m-20 36h0m51-93h0m-16 29h0m6-11h0m17-31h0m-23 41h0m-6 10h0m17-31h0m-10 18h0m13-24h0m1-2h0m-18 32h0m7-13h0m-98 174h0m93-168h0m2-5h0m1-2h0m-2 3h0m-8 14h0m10-18h0m6-11h0m-29 52h0m22-40h0m-14 25h0m-70 125h0m83-149h0m-50 89h0m49-88h0m-4 6h0m16-29h0m-16 28h0m5-9h0m11-20h0m4-8h0m-16 27h0m-8 14h0m14-25h0m-11 19h0m-8 14h0m23-41h0m-16 28h0m18-32h0m-22 39h0m7-13h0m-4 7h0m12-22h0m2-4h0m2-4h0m-12 21h0m-2 3h0m-36 63h0m45-80h0m8-15h0m-20 34h0m4-8h0m7-13h0m-10 17h0m-15 26h0m25-44h0m-9 15h0m-3 5h0m2-4h0m1-3h0m-76 133h0m70-123h0m-22 38h0m21-38h0m2-4h0m4-7h0m6-11h0m-18 31h0m-52 90h0m60-105h0m1-2h0m1-2h0m-94 163h0m101-176h0m-7 11h0m6-11h0m-65 112h0m21-37h0m35-61h0m8-14h0m-15 25h0m4-7h0m11-19h0m-9 15h0m30-52h0m-65 112h0m7-13h0m29-50h0m-21 36h0m-24 41h0m56-98h0m-3 5h0m-20 34h0m4-7h0m18-31h0m-16 27h0m4-7h0m-3 5h0m3-6h0m-13 22h0m9-16h0m15-26h0m-3 5h0m-48 82h0m51-88h0m-17 29h0m16-28h0m-17 29h0m20-35h0m-6 9h0m-2 3h0m-10 17h0m-7 11h0m16-28h0m-8 13h0m11-19h0m-81 137h0m69-117h0m-55 93h0m53-91h0m10-17h0m-22 34h0m-19 32h0m-11 18h0m35-59h0m-23 38h0m20-34h0m20-34h0m-9 15h0m6-11h0m-63 105h0m63-106h0m-15 25h0m19-32h0m-5 7h0m-9 15h0m-2 3h0m1-2h0m10-17h0m-8 13h0m-23 38h0m13-22h0m8-14h0m10-17h0m-15 24h0m30-50h0m-26 43h0m-4 5h0m15-25h0m-32 53h0m19-32h0m-30 49h0m32-53h0m1-2h0m12-20h0m-17 27h0m14-24h0m-10 16h0m-2 3h0m8-14h0m6-10h0m-6 9h0m-13 21h0m6-10h0m8-14h0m-13 21h0m3-6h0m-16 26h0m27-45h0m-4 6h0m-21 34h0m11-18h0m-2 3h0m-3 4h0m-8 13h0m22-36h0m3-5h0m-17 27h0m6-10h0m10-18h0m1-2h0m-2 3h0m-13 21h0m-4 6h0m16-26h0m-2 3h0m5-9h0m-13 21h0m-10 16h0m3-5h0m-13 21h0m15-25h0m-6 9h0m11-18h0m11-18h0m-15 24h0m11-18h0m1-4h0m-17 27h0m-4 6h0m18-29h0m-15 24h0m8-13h0m-40 64h0m51-82h0m-21 33h0m-12 19h0m28-45h0m-26 41h0m26-42h0m-30 48h0m33-53h0m-10 16h0m-19 30h0m14-23h0m11-18h0m1-2h0m8-13h0m-22 35h0m6-10h0m7-12h0m6-10h0m-17 27h0m-2 3h0m-1 1h0m20-32h0m-22 35h0m20-32h0m-31 49h0m42-67h0m-24 38h0m-9 14h0m4-7h0m5-8h0m-16 25h0m-31 49h0m53-85h0m5-8h0m-13 20h0m-4 6h0m-4 6h0m3-5h0m17-27h0m-20 30h0m22-35h0m-20 31h0m12-19h0m-7 11h0m10-16h0m-3 4h0m-42 66h0m31-49h0m10-16h0m-16 25h0m18-29h0m-11 17h0m14-22h0m-57 89h0m45-71h0m-18 28h0m29-47h0m-4 6h0m-12 18h0m-69 107h0m80-125h0m5-8h0m-13 20h0m12-19h0m-2 3h0m-4 6h0m-12 18h0m5-8h0m-1 0h0m9-14h0m-11 17h0m14-22h0m-51 79h0m51-80h0m-24 37h0m23-36h0m-4 6h0m-21 32h0m20-31h0m3-5h0m-22 34h0m20-31h0m-11 17h0m-8 11h0m20-31h0m-3 4h0m6-10h0m-7 10h0m-27 41h0m16-26h0m-6 9h0m-10 15h0m18-28h0m-19 29h0m0-2h0m-91 139h0m100-153h0m20-31h0m-44 67h0m26-40h0m15-23h0m-20 29h0m9-14h0m-6 9h0m-20 29h0m26-40h0m10-16h0m-10 15h0m9-14h0m1-2h0m-1 1h0m2-4h0m-84 127h0m80-121h0m-18 27h0m19-30h0m-12 18h0m-6 9h0m-20 30h0m9-14h0m7-11h0m-18 27h0m-18 27h0m40-61h0m17-26h0m-9 13h0m-4 6h0m27-41h0m-29 43h0m-18 26h0m22-33h0m10-15h0m-15 22h0m18-27h0m-21 31h0m6-9h0m20-30h0m-22 32h0m16-24h0m-103 153h0m85-127h0m16-24h0m4-6h0m-17 25h0m-3 4h0m4-6h0m14-21h0m-3 4h0m0-1h0m-11 16h0m12-18h0m-13 19h0m14-21h0m-5 7h0m-28 41h0m12-18h0m6-9h0m-3 4h0m-10 14h0m13-20h0m-9 13h0m22-33h0m-40 59h0m27-40h0m-13 19h0m25-37h0m-3 4h0m5-8h0m-19 28h0m11-17h0m-7 10h0m-15 22h0m25-37h0m-15 22h0m-39 56h0m51-76h0m-9 12h0m-11 16h0m10-16h0m13-19h0m-36 52h0m32-47h0m-21 30h0m21-31h0m-47-27h0m-10 12h0m9-12h0m-11 13h0m-1 1h0m10-13h0m3-4h0m-11 14h0m9-12h0m-29 37h0m19-26h0m-27 34h0m22-29h0m13-17h0m3-4h0m-3 3h0m-2 2h0m-8 10h0m-3 2h0m-17 21h0m29-37h0m-2 2h0m-9 11h0m8-11h0m-8 10h0m7-12h0m-21 26h0m25-32h0m-4 5h0m-10 12h0m9-12h0m2-3h0m-1 1h0m-13 15h0m11-14h0m-16 19h0m16-20h0m-16 18h0m-17 21h0m21-27h0m-2 0h0m10-13h0m-10 12h0m12-15h0m-1 1h0m-11 13h0m-53 65h0m63-80h0m-3 2h0m1-2h0m-12 14h0m2-3h0m8-10h0m-10 12h0m1-3h0m9-11h0m-1-1h0m-2 1h0m2-3h0m1-2h0m-4 4h0m1-2h0m-11 13h0m12-15h0m-11 13h0m8-10h0m2-3h0m2-3h0m-13 15h0m10-12h0m-11 13h0m-1 1h0m0-1h0m9-14h0m-10 11h0m-2 2h0m9-12h0m-11 13h0m3-4h0m25-30h0m-15 16h0m-2 2h0m-10 10h0m-2 2h0m-1 1h0m12-15h0m-10 11h0m11-13h0m-1 0h0m-3 3h0m-8 9h0m10-12h0m-12 13h0m9-11h0m-9 9h0m-27 31h0m35-41h0m-14 16h0m2-3h0m12-15h0m-1 1h0m-54 62h0m43-51h0m-2 1h0m11-13h0m-8 9h0m-2 2h0m1-2h0m-1 1h0m0-1h0m0-1h0m-1 1h0m-2 1h0m2-4h0m-2-1h0m8-10h0m-77 87h0m78-89h0m-13 14h0m-51 56h0m51-58h0m-12 13h0m22-25h0m-9 10h0m10-12h0m-10 11h0m8-9h0m-9 9h0m-3 3h0m16-18h0m-3 3h0m-2 2h0m-12 13h0m3-4h0m8-11h0m-12 13h0m11-13h0m-10 11h0m12-14h0m-14 13h0m-3 3h0m13-15h0m-9 9h0m-3 3h0m13-15h0m-12 13h0m1-2h0m-2 2h0m10-12h0m-12 13h0m2-3h0m0-1h0m10-11h0m-22 23h0m20-22h0m2-3h0m0-1h0m-20 21h0m-49 52h0m45-51h0m-1 1h0m-115 124h0m126-137h0m-2 2h0m1-3h0m10-11h0m-2 1h0m-9 9h0m-3 2h0m12-13h0m-1 1h0m-12 12h0m-22 23h0m34-37h0m-16 17h0m-10 10h0m-63 67h0m-4 4h0m91-98h0m-9 9h0m8-9h0m2-3h0m-14 13h0m14-15h0m-3 3h0m-11 11h0m13-14h0m-2 2h0m-1 1h0m-9 9h0m10-11h0m-1 1h0m-13 13h0m14-15h0m-11 11h0m-1 1h0m16-17h0m-22 23h0m17-18h0m-10 10h0m11-12h0m-3 3h0m-10 10h0m11-12h0m-10 10h0m10-12h0m-2 1h0m-45 47h0m44-46h0m-9 9h0m0-1h0m11-12h0m-1 1h0m-2 2h0m0-1h0m-11 11h0m10-11h0m1-2h0m-24 24h0m-14 13h0m-24 24h0m62-64h0m-1 1h0m-2 2h0m-101 104h0m90-93h0m11-13h0m-1 1h0m-9 9h0m-1 1h0m-1 0h0m-1 1h0m11-12h0m-10 10h0m-1 1h0m-1 0h0m12-13h0m-1 1h0m-11 11h0m-30 30h0m44-45h0m40-41h0m-54 55h0m0-1h0m-41 41h0m-107 108h0m148-151h0m11-12h0m-3 3h0m-9 9h0m0-1h0m-3 1h0m-45 44h0m46-47h0m9-10h0m-18 18h0m17-18h0m-9 9h0m-1 1h0m-2 2h0m13-14h0m-12 12h0m1-2h0m9-9h0m-10 8h0m11-11h0m-15 14h0m12-12h0m-100 99h0m50-50h0m28-28h0m21-22h0m1-1h0m1-3h0m-15 14h0m2-2h0m1-1h0m-3 2h0m-10 9h0m12-12h0m-3 2h0m2-2h0m12-12h0m-14 13h0m11-11h0m1-1h0m2-2h0m1-1h0m-5 4h0m3-3h0m-46 45h0m57-56h0m-29 28h0m5-5h0m12-12h0m1-1h0m4-4h0m-39 38h0m22-22h0m-2 1h0m2-2h0m9-9h0m-89 86h0m73-72h0m5-5h0m1-1h0m9-9h0m-41 39h0m31-31h0m9-9h0m1-1h0m11-12h0m-22 21h0m9-9h0m3-3h0m-13 11h0m9-9h0m2-2h0m1-1h0m2-2h0m-33 31h0m29-28h0m-12 11h0m10-11h0m-12 11h0m24-23h0m-22 21h0m8-10h0m2-3h0m-3 2h0m2-2h0m-13 12h0m12-12h0m-2 1h0m3-3h0m-15 14h0m13-13h0m-2 0h0m2-2h0m-14 13h0m11-12h0m-10 9h0m10-10h0m-11 10h0m12-12h0m1-1h0m-4 3h0m1-1h0m-11 10h0m10-10h0m-14 13h0m4-4h0m-11 10h0m5-5h0m6-6h0m10-10h0m-14 13h0m12-12h0m-14 13h0m-69 64h0m72-67h0m1-1h0m1-1h0m9-9h0m4-4h0m-106 98h0m101-94h0m-9 8h0m-4 3h0m15-14h0m-12 10h0m-3 1h0m14-13h0m-12 11h0m-4 3h0m14-13h0m-11 9h0m9-9h0m-70 64h0m72-66h0m-12 10h0m12-11h0m-15 13h0m12-11h0m-19 17h0m4-4h0m16-15h0m-11 10h0m-3 2h0m13-12h0m1-1h0m-13 11h0m1-1h0m-30 27h0m28-26h0m11-10h0m-10 9h0m-3 2h0m-13 11h0m11-10h0m4-6h0m-9 8h0m-37 33h0m45-41h0m12-11h0m-108 97h0m80-72h0m27-25h0m-3 1h0m2-2h0m2-2h0m-4 3h0m2-2h0m-13 10h0m-137 122h0m5-5h0m128-116h0m2-2h0m36-33h0m-26 23h0m3-3h0m-14 11h0m10-9h0m-32 28h0m32-29h0m-28 24h0m17-15h0m0-1h0m-28 24h0m43-39h0m-97 84h0m90-79h0m2-2h0m-12 10h0m14-14h0m-15 13h0m10-9h0m-1 0h0m5-5h0m-15 12h0m-52 44h0m61-53h0m-10 8h0m-3 2h0m1-1h0m-1 0h0m15-13h0m-75 63h0m71-61h0m-13 11h0m2-2h0m1-1h0m-7 6h0m16-16h0m-12 10h0m11-10h0m-13 11h0m15-13h0m-13 10h0m-38 32h0m49-42h0m-11 9h0m-2 0h0m12-11h0m-11 9h0m10-9h0m-12 9h0m-10 7h0m7-6h0m13-11h0m-10 8h0m10-9h0m-28 23h0m33-28h0m-6 5h0m-12 10h0m16-14h0m-14 11h0m9-8h0m-11 9h0m13-11h0m13-11h0m-38 31h0m22-19h0m-10 8h0m-5 4h0m15-13h0m-13 10h0m2-2h0m13-11h0m-15 12h0m-9 7h0m8-7h0m15-13h0m-13 10h0m23-19h0m-27 21h0m1-1h0m1-1h0m1-1h0m11-10h0m0-1h0m1-1h0m-4 2h0m-10 8h0m13-11h0m-47 38h0m33-28h0m-3 2h0m13-11h0m-15 11h0m2-2h0m12-10h0m-10 8h0m11-9h0m2-2h0m-4 2h0m5-5h0m-6 4h0m3-3h0m-16 12h0m-13 10h0m27-22h0m-15 12h0m13-11h0m0-1h0m-27 21h0m16-13h0m-3 2h0m13-11h0m2-2h0m-3 2h0m1-1h0m-12 9h0m-2 1h0m2-2h0m10-9h0m-12 9h0m11-9h0m-81 64h0m71-57h0m-84 66h0m43-34h0m37-30h0m-13 10h0m26-21h0m-12 9h0m1-1h0m11-9h0m-11 8h0m-4 3h0m15-13h0m-17 13h0m15-12h0m-13 10h0m16-13h0m-13 10h0m9-8h0m-11 8h0m17-15h0m-17 13h0m-18 13h0m15-13h0m2-2h0m11-9h0m1-1h0m-13 10h0m10-8h0m-10 7h0m-169 130h0m166-128h0m-15 11h0m16-13h0m13-10h0m-30 23h0m18-14h0m13-10h0m-62 47h0m61-47h0m-16 12h0m13-11h0m2-2h0m-25 19h0m12-10h0m10-8h0m-12 9h0m-2 1h0m-142 107h0m157-120h0m-12 9h0m-1-1h0m-2 1h0m1-1h0m0-1h0m-3 2h0m3-3h0m13-10h0m-68 51h0m64-49h0m-10 7h0m11-9h0m1-2h0m-3 2h0m1-1h0m2-2h0m-15 11h0m0-1h0m-23 17h0m36-27h0m-15 11h0m15-12h0m-3 2h0m-10 7h0m12-9h0m-13 8h0m13-11h0m-15 11h0m33-25h0m-33 24h0m-35-42h0m-13 8h0m23-15h0m-18 11h0m18-12h0m-14 9h0m3-2h0m15-10h0m-5 3h0m-12 7h0m12-8h0m-11 7h0m-11 7h0m11-8h0m-5 3h0m20-13h0m-23 14h0m23-15h0m-20 12h0m0-1h0m3-2h0m-22 14h0m14-9h0m3-2h0m-9 5h0m-150 95h0m130-83h0m-72 45h0m105-67h0m11-7h0m0-1h0m-190 120h0m189-120h0m-18 11h0m-8 5h0m26-17h0m-72 45h0m52-33h0m19-12h0m-134 84h0m106-67h0m29-19h0m-20 12h0m6-4h0m-155 97h0m169-106h0m3-2h0m-90 56h0m74-47h0m-54 33h0m65-41h0m-17 10h0m3-2h0m2-2h0m11-7h0m-42 26h0m25-16h0m17-12h0m-94 58h0m75-47h0m6-4h0m-60 37h0m50-31h0m-33 20h0m43-27h0m11-7h0m-12 7h0m11-7h0m-18 11h0m-83 51h0m-73 44h0m128-79h0m32-20h0m-102 62h0m119-73h0m-41 25h0m37-23h0m-15 9h0m-24 14h0m-4 2h0m-61 37h0m-65 39h0m177-108h0m-20 12h0m-5 3h0m-53 32h0m74-45h0m-5 3h0m-28 17h0m16-10h0m15-10h0m-91 55h0m89-54h0m-2 1h0m-14 8h0m14-9h0m-130 78h0m117-71h0m-25 15h0m21-13h0m18-11h0m-27 16h0m-20 12h0m31-19h0m-5 3h0m21-13h0m-30 18h0m-60 36h0m69-42h0m21-13h0m-15 9h0m1-1h0m16-10h0m-92 55h0m73-44h0m-1 0h0m-111 66h0m82-49h0m46-28h0m-16 9h0m-2 1h0m16-10h0m-83 49h0m-36 21h0m106-63h0m-176 104h0m187-111h0m-14 8h0m25-15h0m-22 13h0m-9 5h0m-70 41h0m89-53h0m21-13h0m-36 21h0m15-9h0m5-3h0m5-3h0m-95 56h0m71-42h0m-11 6h0m12-8h0m-16 9h0m17-10h0m14-9h0m-161 94h0m29-17h0m109-64h0m6-5h0m-36 21h0m32-19h0m18-11h0m3-2h0m-16 9h0m-6 3h0m-3 1h0m5-3h0m18-11h0m-21 12h0m17-10h0m-14 8h0m3-2h0m-2 1h0m-61 35h0m57-33h0m17-10h0m1-1h0m-26 15h0m27-16h0m-14 8h0m-33 19h0m46-27h0m-73 42h0m54-32h0m37-22h0m-21 12h0m-100 57h0m64-37h0m-16 9h0m-42 24h0m74-43h0m19-11h0m5-3h0m-42 24h0m24-14h0m-53 30h0m70-40h0m-57 32h0m42-24h0m-6 3h0m17-10h0m-27 15h0m-32 17h0m58-33h0m-32 18h0m36-21h0m-22 12h0m-1 0h0m-11 6h0m17-10h0m-6 3h0m7-4h0m-17 9h0m28-16h0m-12 6h0m14-8h0m48-27h0m-51 28h0m-106 59h0m94-53h0m-13 7h0m8-5h0m-54 30h0m75-42h0m-5 2h0m5-3h0m-6 3h0m7-4h0m-18 9h0m-4 2h0m-11 6h0m-40 22h0m54-30h0m-2 1h0m14-8h0m2-2h0m-2 1h0m-87 48h0m88-49h0m-20 11h0m7-4h0m-4 2h0m18-10h0m-88 48h0m45-25h0m28-16h0m-13 7h0m27-15h0m-131 72h0m111-62h0m-92 50h0m110-61h0m-17 9h0m17-10h0m-14 7h0m-114 62h0m64-35h0m50-28h0m-15 8h0m9-5h0m-24 13h0m29-16h0m13-8h0m-44 23h0m24-13h0m-52 28h0m72-39h0m-14 6h0m-86 46h0m98-53h0m-12 6h0m-3 1h0m19-11h0m-24 12h0m5-3h0m-4 2h0m-39 20h0m39-21h0m1-1h0m-156 83h0m159-85h0m1-1h0m-6 3h0m-53 28h0m54-29h0m20-11h0m-29 15h0m13-7h0m-23 12h0m34-18h0m3-2h0m-16 7h0m12-7h0m-14 7h0m-3 1h0m20-11h0m-18 9h0m-8 4h0m-50 26h0m61-32h0m-4 2h0m-155 81h0m170-89h0m-18 9h0m24-13h0m-4 1h0m-15 7h0m34-18h0m-63 32h0m49-26h0m-29 14h0m23-12h0m-18 9h0m-2 1h0m31-16h0m-70 36h0m60-31h0m-16 8h0m11-6h0m-18 9h0m-1 0h0m5-3h0m-131 67h0m146-75h0m-62 31h0m60-31h0m-40 20h0m40-21h0m-25 12h0m35-18h0m-59 30h0m51-26h0m-2 1h0m-16 8h0m-65 33h0m55-28h0m13-7h0m17-9h0m-2 1h0m-2 1h0m-15 7h0m-33 16h0m35-18h0m-7 3h0m-2 1h0m9-5h0m-10 5h0m21-11h0m-20 10h0m5-3h0m-44 22h0m-2 1h0m65-33h0m-2 1h0m-1 0h0m-2 1h0m-20 8h0m8-4h0m-9 4h0m-1 0h0m2-1h0m-137 68h0m142-71h0m2-2h0m-129 64h0m143-71h0m-3 1h0m-31 15h0m20-10h0m-81 40h0m94-47h0m-19 9h0m17-9h0m-136 67h0m77-38h0m32-16h0m10-5h0m-67 33h0m83-41h0m-19 9h0m8-4h0m29-15h0m-38 18h0m20-10h0m4-2h0m-19 9h0m14-7h0m-186 91h0m166-82h0m26-13h0m-31 15h0m-76 37h0m104-51h0m2-1h0m-17 8h0m-37 17h0m2-1h0m8-4h0m55-27h0m-17 8h0m4-2h0m-64 31h0m48-24h0m-29 14h0m-110 53h0m126-61h0m12-6h0m1-1h0m-54 26h0m68-33h0m-23 11h0m8-4h0m-14 6h0m29-14h0m-15 7h0m-15 7h0m27-13h0m-13 6h0m12-6h0m-48 23h0m29-14h0m2-1h0m6-3h0m-19 9h0m31-15h0m2-1h0m2-1h0m-74 35h0m48-23h0m4-2h0m-63 30h0m56-27h0m5-3h0m18-9h0m-38 18h0m44-21h0m-19 9h0m-30 14h0m48-23h0m2-1h0m-30 14h0m-28 13h0m39-19h0m-148 70h0m160-76h0m-183 86h0m162-77h0m6-3h0m-3 1h0m4-2h0m16-8h0m-36 17h0m33-16h0m-13 6h0m19-9h0m-39 18h0m21-10h0m16-8h0m-24 11h0m7-4h0m-39 18h0m51-24h0m-43 20h0m44-21h0m-27 12h0m13-7h0m-9 4h0m6-3h0m1-1h0m19-9h0m-37 17h0m17-8h0m-41 19h0m43-20h0m17-8h0m-26 12h0m-65 30h0m75-35h0m-7 3h0m18-9h0m-12 5h0m11-6h0m-11 5h0m14-7h0m-118 54h0m99-46h0m4-2h0m-30 13h0m26-12h0m4-2h0m13-6h0m-18 8h0m-46 21h0m62-29h0m-21 9h0m-117 53h0m140-64h0m-33 15h0m19-9h0m17-8h0m-4 1h0m-14 6h0m-42 19h0m55-25h0m-20 9h0m22-10h0m-27 12h0m24-11h0m-20 9h0m24-11h0m-40 18h0m15-7h0m-62 28h0m64-29h0m4-3h0m2-1h0m-1 0h0m-21 9h0m-85 38h0m100-45h0m35-16h0m-94 42h0m77-35h0m-55 24h0m57-26h0m2-1h0m-30 13h0m29-13h0m-119 53h0m121-54h0m0-1h0m-6 2h0m-12 5h0m17-8h0m-64 28h0m47-21h0m-125 55h0m141-63h0m-75 33h0m49-22h0m-23 10h0m49-22h0m-44 19h0m-22 9h0m60-27h0m-21 9h0m-101 44h0m109-48h0m16-7h0m-1 0h0m-14 6h0m-154 67h0m169-74h0m-15 6h0m-15 6h0m-5 2h0m9-4h0m-1 0h0m4-2h0m23-10h0m-21 9h0m22-10h0m2-1h0m-7 3h0m-110 47h0m89-39h0m24-11h0m-5 1h0m-12 5h0m-122 52h0m121-52h0m18-8h0m-17 7h0m-115 49h0m128-55h0m-13 5h0m-155 66h0m171-73h0m-5 1h0m-12 5h0m-114 48h0m127-54h0m-162 68h0m139-59h0m27-12h0m-18 7h0m-187 78h0m14-6h0m171-72h0m14-6h0m-17 7h0m-12 5h0m56-24h0m-167 70h0m126-53h0m-29 12h0m-117 48h0m148-62h0m16-7h0m-5 2h0m-17 7h0m2-1h0m-5 2h0m7-3h0m14-6h0m-87 36h0m67-28h0m2-1h0m21-9h0m-22 9h0m20-9h0m-41 17h0m38-16h0m4-2h0m-95 39h0m79-33h0m12-5h0m12-5h0m-13 5h0m-17 7h0m19-8h0m2-1h0m-22 9h0m7-3h0m14-6h0m-20 8h0m17-7h0m6-3h0m-27 11h0m9-4h0m-22 9h0m19-8h0m-5 2h0m-103 42h0m96-40h0m9-4h0m17-7h0m-87 35h0m73-30h0m-14 5h0m16-7h0m-5 1h0m16-7h0m-65 26h0m21-9h0m-5 2h0m37-15h0m-25 10h0m42-17h0m-5 2h0m6-3h0m-4 1h0m-3 1h0m1-1h0m-13 5h0m-10 4h0m-15 6h0m37-15h0m-25 10h0m-31 12h0m39-16h0m5-2h0m15-6h0m-109 43h0m109-44h0m-3 0h0m-13 5h0m-8 3h0m22-9h0m-33 13h0m10-4h0m-114 45h0m96-38h0m27-11h0m15-6h0m-3 1h0m-120 47h0m119-47h0m-26 10h0m5-2h0m10-4h0m-23 9h0m34-14h0m-23 9h0m5-2h0m-3 1h0m5-2h0m-18 7h0m40-16h0m-23 9h0m-64 25h0m86-34h0m-24 9h0m-18 7h0m38-15h0m-2 0h0m-13 5h0m-105 41h0m120-47h0m-81 31h0m79-31h0m-16 5h0m15-6h0m-19 7h0m-12 4h0m-8 3h0m18-7h0m5-2h0m16-7h0m5-2h0m-21 8h0m18-7h0m-3 1h0m-65 25h0m65-26h0m-139 53h0m146-56h0m-19 7h0m13-5h0m-1 0h0m5-2h0m-21 8h0m-3 0h0m18-7h0m-190 72h0m178-68h0m-29 11h0m41-16h0m2-1h0m-1 0h0m4-2h0m-126 47h0m124-47h0m-3 1h0m-168 63h0m130-49h0m21-8h0m-3 1h0m21-8h0m-109 41h0m95-36h0m-8 3h0m8-4h0m-63 23h0m54-21h0m8-3h0m-30 11h0m29-11h0m13-5h0m-14 5h0m2-1h0m-95 35h0m87-33h0m8-3h0m15-6h0m-100 37h0m98-37h0m-14 5h0m-19 7h0m-11 4h0m46-17h0m-25 9h0m5-2h0m16-6h0m4-2h0m-4 1h0m-30 11h0m-52 19h0m83-31h0m-66 24h0m67-25h0m-22 8h0m19-7h0m-14 5h0m-11 4h0m26-10h0m-29 10h0m16-6h0m-3 1h0m-15 5h0m31-12h0m-16 5h0m17-7h0m-3 1h0m-153 55h0m157-57h0m-18 6h0m-45 16h0m11-4h0m58-21h0m-106 38h0m75-27h0m5-2h0m-34 12h0m54-20h0m-20 7h0m16-6h0m-21 7h0m22-8h0m1-1h0m-23 8h0m25-9h0m-20 7h0m-6 2h0m8-3h0m-31 11h0m48-18h0m-17 6h0m14-5h0m5-2h0m-7 2h0m5-2h0m-5 1h0m-26 9h0m31-11h0m-3 1h0m-20 7h0m17-6h0m-20 7h0m-3 1h0m28-10h0m-20 7h0m-3 0h0m-3 1h0m21-8h0m-89 31h0m77-27h0m-22 7h0m13-5h0m23-8h0m-24 8h0m23-8h0m-202 70h0m186-65h0m-21 7h0m14-5h0m5-2h0m15-6h0m-13 4h0m-6 2h0m19-7h0m-179 61h0m166-57h0m23-8h0m-10 3h0m-12 4h0m-7 2h0m20-7h0m-18 6h0m61-21h0m-59 20h0m-7 2h0m-86 29h0m113-39h0m-6 2h0m-12 4h0m-9 3h0m23-8h0m5-2h0m-3 1h0m-27 9h0m11-4h0m-15 5h0m-151 51h0m183-62h0m-106 35h0m88-30h0m0-1h0m0-1h0m-15 5h0m32-11h0m-72 24h0m-130 43h0m184-62h0m-9 2h0m21-7h0m-16 5h0m4-2h0m-42 13h0m37-13h0m-4 1h0m6-2h0m18-6h0m-28 9h0m6-2h0m24-8h0m-23 7h0m4-2h0m-130 42h0m113-37h0m12-4h0m-1 0h0m-26 8h0m32-11h0m12-4h0m-12 3h0m-8 2h0m27-9h0m-7 2h0m-41 13h0m40-14h0m3-1h0m-19 6h0m25-8h0m-21 6h0m0-1h0m-104 33h0m72-23h0m28-9h0m3-1h0m-17 5h0m34-11h0m-24 6h0m5-2h0m19-6h0m-26 8h0m6-2h0m15-5h0m4-2h0m-2 0h0m-20 6h0m5-2h0m12-4h0m5-2h0m-4 1h0m-14 4h0m-104 32h0m122-38h0m-18 5h0m-1 0h0m-1 0h0m19-6h0m-17 5h0m12-4h0m-27 8h0m32-10h0m-20 6h0m3-1h0m-8 2h0m3-1h0m4-2h0m-63 19h0m59-18h0m-10 3h0m13-4h0m15-5h0m-14 4h0m-1 0h0m-4 1h0m25-8h0m-27 8h0m-50 15h0m69-21h0m-84 25h0m72-22h0m-31 9h0m9-3h0m33-10h0m-18 5h0m18-6h0m-17 5h0m19-6h0m-60 17h0m59-18h0m6-2h0m-7 2h0m3-1h0m-24 7h0m-14 4h0m37-11h0m-22 6h0m-78 23h0m101-30h0m-22 6h0m18-6h0m2-2h0m-15 4h0m-56 16h0m68-20h0m-125 36h0m24-7h0m116-34h0m34-10h0m-46 13h0m-16 4h0m-97 28h0m110-32h0m-49 14h0m51-15h0m-14 4h0m-23 6h0m38-11h0m-18 5h0m29-9h0m-36 10h0m-1 0h0m10-3h0m-82 23h0m80-23h0m17-5h0m-2 0h0m-25 7h0m6-2h0m-5 1h0m-113 32h0m112-32h0m-54 15h0m83-24h0m-18 5h0m14-4h0m-85 24h0m23-7h0m48-14h0m-4 1h0m-41 11h0m66-19h0m-22 6h0m-3 0h0m-4 1h0m0-1h0m24-7h0m-83 23h0m81-23h0m-47 13h0m10-4h0m-8 2h0m43-12h0m10-3h0m-30 8h0m5-2h0m18-5h0m-26 7h0m25-7h0m-4 1h0m-48 13h0m28-8h0m-4 1h0m-151 41h0m175-48h0m-21 5h0m1-1h0m-38 10h0m37-10h0m7-2h0m17-5h0m-26 7h0m22-7h0m-12 3h0m-75 20h0m74-20h0m18-5h0m-132 35h0m127-34h0m3-1h0m-34 8h0m11-3h0m7-2h0m-53 14h0m49-13h0m21-6h0m2-1h0m-24 6h0m-1 0h0m-2-1h0m21-6h0m-59 15h0m57-15h0m-12 3h0m-8 2h0m25-7h0m-5 1h0m-43 11h0m19-5h0m27-7h0m2-1h0m-32 8h0m29-8h0m-20 5h0m-1 0h0m19-5h0m3-1h0m-1 0h0m-37 9h0m34-9h0m6-2h0m-25 6h0m19-5h0m-16 4h0m-4 1h0m-114 29h0m113-29h0m3-1h0m-91 23h0m94-24h0m0-55h0m-163 31h0m135-26h0m25-5h0m4-1h0m-19 3h0m-6 1h0m-6 1h0m42-8h0m-11 2h0m-1 0h0m-19 3h0m21-4h0m5-1h0m-38 7h0m5-1h0m9-2h0m-3 0h0m18-4h0m5-1h0m-20 3h0m-1 0h0m-61 11h0m58-11h0m50-10h0m-71 13h0m21-4h0m16-3h0m-77 14h0m86-16h0m-22 4h0m-18 3h0m-43 7h0m53-10h0m33-6h0m-7 1h0m-1 0h0m-17 3h0m36-7h0m-112 20h0m61-11h0m4-1h0m11-2h0m20-4h0m-23 4h0m-17 3h0m38-7h0m-40 7h0m22-4h0m-96 17h0m110-20h0m-29 5h0m27-5h0m-50 8h0m56-10h0m-35 6h0m11-2h0m-51 9h0m41-8h0m28-5h0m-23 4h0m28-5h0m-2 0h0m-19 3h0m-6 1h0m31-6h0m-1 0h0m-33 5h0m33-6h0m-37 6h0m16-3h0m15-3h0m-137 23h0m122-21h0m-1 0h0m17-3h0m-4 0h0m-13 2h0m-25 4h0m23-4h0m-6 1h0m28-5h0m-7 1h0m-24 4h0m29-5h0m-31 5h0m-6 1h0m10-2h0m-8 1h0m47-8h0m-35 5h0m5-1h0m-7 1h0m-3 0h0m24-4h0m-111 18h0m77-13h0m17-3h0m-9 1h0m12-2h0m-7 1h0m6-1h0m13-3h0m-32 5h0m-34 5h0m74-12h0m-118 19h0m85-14h0m-1 0h0m-15 2h0m18-3h0m-13 2h0m-3 0h0m10-2h0m29-5h0m5-1h0m-21 3h0m3-1h0m-9 1h0m24-4h0m-146 23h0m143-23h0m-83 13h0m89-14h0m-39 6h0m37-6h0m-160 25h0m101-16h0m55-9h0m6-1h0m25-4h0m-73 11h0m45-7h0m-78 12h0m50-8h0m25-4h0m-13 2h0m-12 1h0m32-5h0m-20 3h0m13-2h0m-33 5h0m38-6h0m-38 5h0m32-5h0m-34 5h0m12-2h0m-87 13h0m78-12h0m3-1h0m52-8h0m-14 2h0m-27 4h0m-80 11h0m99-15h0m6-1h0m-27 4h0m24-4h0m-115 17h0m114-17h0m-17 2h0m-7 1h0m4-1h0m16-3h0m-21 3h0m-15 2h0m11-2h0m-89 13h0m121-18h0m-62 9h0m26-4h0m-14 2h0m30-5h0m-14 2h0m-44 6h0m76-11h0m-42 6h0m39-6h0m-3 0h0m13-2h0m-28 4h0m-12 1h0m32-5h0m-37 5h0m33-5h0m-116 16h0m102-15h0m0-1h0m-15 2h0m-117 16h0m121-17h0m-1 0h0m-87 12h0m89-13h0m9-2h0m-2 0h0m-4 0h0m22-3h0m-23 3h0m-8 1h0m-10 1h0m44-6h0m-3 0h0m5-1h0m-36 4h0m34-5h0m-5 0h0m7-1h0m-21 1h0m23-3h0m-23 2h0m-55 7h0m45-6h0m31-4h0m-9 1h0m-47 6h0m-56 7h0m111-15h0m-8 1h0m-12 1h0m-2 0h0m17-3h0m-16 2h0m-17 2h0m-16 2h0m4-1h0m16-2h0m31-4h0m-21 2h0m24-3h0m-33 4h0m32-4h0m-33 4h0m12-2h0m-9 1h0m23-3h0m6-1h0m-26 3h0m32-4h0m-108 13h0m96-12h0m-21 2h0m24-3h0m16-2h0m-18 2h0m-2 0h0m-83 10h0m65-8h0m-1 0h0m-31 3h0m50-6h0m-43 5h0m-38 4h0m57-7h0m8-1h0m-3 0h0m7-1h0m13-2h0m-26 3h0m-1 0h0m14-2h0m18-3h0m-26 3h0m-27 3h0m30-4h0m25-3h0m-87 10h0m83-10h0m-71 8h0m42-5h0m25-3h0m-13 1h0m-23 2h0m-90 10h0m112-13h0m-14 1h0m35-4h0m-27 3h0m7-1h0m17-2h0m-18 1h0m18-2h0m-30 3h0m27-3h0m-30 3h0m36-4h0m-20 2h0m18-2h0m-20 2h0m-2 0h0m24-3h0m-20 2h0m-86 9h0m54-6h0m7-1h0m9-1h0m-1 0h0m17-2h0m-2 0h0m-31 3h0m47-5h0m-2 0h0m-13 1h0m18-2h0m-79 8h0m56-6h0m19-2h0m-29 3h0m31-4h0m-2 0h0m-32 3h0m38-4h0m-40 3h0m-30 3h0m67-7h0m-20 2h0m-20 2h0m8-1h0m29-3h0m-29 2h0m36-4h0m-60 6h0m59-6h0m-20 2h0m-62 6h0m79-8h0m-52 5h0m47-5h0m8-1h0m-22 2h0m17-2h0m-15 1h0m16-2h0m-32 3h0m28-3h0m-114 11h0m71-7h0m30-3h0m-14 1h0m27-3h0m-12 1h0m-32 3h0m30-3h0m-21 2h0m37-4h0m-23 2h0m21-2h0m-27 2h0m-1 0h0m28-3h0m7-1h0m-54 5h0m53-5h0m-25 2h0m-3 0h0m43-4h0m-14 1h0m-6 0h0m-1 0h0m-13 1h0m-11 1h0m-67 6h0m96-9h0m-5 0h0m-24 2h0m11-1h0m-9 0h0m22-2h0m-27 2h0m-1 0h0m11-1h0m-127 10h0m111-10h0m0-1h0m11-1h0m23-2h0m-14 1h0m-14 1h0m26-3h0m6-1h0m-43 3h0m8-1h0m29-3h0m-29 2h0m-111 9h0m96-8h0m56-5h0m-41 3h0m10-1h0m-2 0h0m24-2h0m-18 1h0m-6 0h0m-1 0h0m2-1h0m25-2h0m-4 0h0m-1 0h0m-29 2h0m-123 9h0m153-12h0m-1 0h0m-53 4h0m40-4h0m13-1h0m-62 4h0m62-5h0m-67 5h0m52-4h0m-1 0h0m-5 0h0m-4 0h0m28-3h0m-2 0h0m-16 1h0m-21 1h0m41-3h0m-2 0h0m-28 2h0m-58 4h0m12-1h0m70-5h0m-16 1h0m-2 0h0m-21 1h0m27-2h0m-12 0h0m27-2h0m-33 2h0m14-1h0m25-2h0m-46 2h0m10-1h0m14-1h0m13-1h0m-47 3h0m-122 8h0m149-10h0m-46 3h0m43-3h0m-3 0h0m13-1h0m-16 1h0m29-2h0m-46 3h0m29-2h0m-20 1h0m45-3h0m-31 2h0m10-1h0m-11 0h0m-1 0h0m-6-1h0m31-2h0m-33 2h0m9-1h0m11-1h0m-37 2h0m50-4h0m-71 4h0m52-4h0m-1 0h0m-18 1h0m46-3h0m-36 2h0m15-1h0m-19 1h0m15-1h0m-1 0h0m-6 0h0m34-2h0m-24 1h0m13-1h0m-37 2h0m9-1h0m28-2h0m-22 1h0m-22 1h0m49-3h0m-20 1h0m15-1h0m-25 1h0m27-2h0m-28 1h0m-171 9h0m205-11h0m-1 0h0m-19 1h0m-22 1h0m-154 8h0m189-10h0m-20 1h0m19-1h0m-59 3h0m-5 0h0m19-1h0m19-1h0m14-1h0m-2 0h0m-1 0h0m17-1h0m-20 1h0m-90 4h0m118-6h0m-2 0h0m-40 2h0m13-1h0m19-1h0m-43 2h0m12-1h0m39-2h0m-3 0h0m-52 2h0m54-3h0m-80 2h0m80-4h0m-1 0h0m-19 0h0m-1 0h0m-3 0h0m18-1h0m-26 1h0m10-1h0m18-1h0m-23 1h0m-1 0h0m-26 1h0m18-1h0m16-1h0m-3 0h0m-1 0h0m-4-1h0m8-1h0m-153 6h0m150-7h0m-2 0h0m-110 4h0m100-4h0m11-1h0m-1 0h0m21-1h0m-70 2h0m75-3h0m-28 1h0m25-1h0m-1 0h0m-29 1h0m-1 0h0m26-1h0m-13 0h0m-1 0h0m-4 0h0m20-1h0m-22 0h0m24-1h0m-61 2h0m44-2h0m-2 0h0m-2 0h0m-2 0h0m-8 0h0m-34 1h0m-68 2h0m45-2h0m-64 2h0m151-5h0m-2 0h0m-2 0h0m-48 1h0m56-2h0m-5 0h0m-25 0h0m-1 0h0m25-1h0m-74 2h0m-69 2h0m151-5h0m-3 0h0m-1 0h0m-72 2h0m67-2h0m-16 0h0m17-1h0m-2 0h0m-40 1h0m28-1h0m-16 0h0m36-1h0m-3 0h0m-55 1h0m35-1h0m-2 0h0m-7 0h0m29-1h0m-39 1h0m34-1h0m-46 1h0m34-1h0m-6 0h0m-14 0h0m33-2h0m-56 1h0m36-1h0m-5 0h0m24-1h0m-12 0h0m-3 0h0m-5 0h0m-8 0h0m-53 1h0m88-2h0m-51 1h0m32-1h0m19-1h0m-4-1h0m-2 0h0m-1 0h0m-23 0h0m-55 1h0m79-3h0m-1 0h0m-61 1h0m46-1h0m21-1h0m-19 0h0m28-1h0m-11 0h0m-1 0h0m-1 0h0m4-1h0m-19 0h0m-16 0h0m36-1h0m-168 2h0m143-2h0m-6 0h0m-27 0h0m-26 0h0m80-1h0m-3 0h0m-13 0h0m-2 0h0m-1 0h0m-92 1h0m85-1h0m25-1h0m-1 0h0m-25 0h0m24-1h0m-13 0h0m-1 0h0m-10 0h0m-49 0h0m81-1h0m-8 0h0m-17 0h0m-1 0h0m-30 0h0m-55 0h0m111-1h0m-8 0h0m-13 0h0m-3 0h0m-41 0h0m57-1h0m-18 0h0m-1 0h0m-5 0h0m-10 0h0m-7 0h0m47-1h0m-6 0h0m1-1h0m-1 0h0m-13 0h0m-7 0h0m-4 0h0m-163 0h0m187-1h0m-13 0h0m-6 0h0m-9 0h0m-1 0h0m-26 0h0m-110 0h0m176-1h0m-11 0h0m-13 0h0m-2 0h0m-23 0h0m-9 0h0m54-1h0m-2 0h0m-5 0h0m-13 0h0m-32-1h0m17 0h0m2 0h0m5 0h0m4 0h0m27 0h0m8 0h0m-81-1h0m25 0h0m8 0h0m6 0h0m11 0h0m13 0h0m-41-1h0m17 0h0m-15-1h0m22 0h0m1 0h0m3 0h0m13 0h0m27 0h0m-51-1h0m6 0h0m2 0h0m3 0h0m13 0h0m-81-1h0m64 0h0m1 0h0m2 0h0m14 0h0m3 0h0m4 0h0m-142-1h0m121 0h0m19 0h0m-5-1h0m3 0h0m0-1h0m-39-1h0m8 0h0m2 0h0m1 0h0m5 0h0m20 0h0m1 0h0m-33-1h0m8 0h0m8 0h0m3 0h0m14 0h0m-142-2h0m143 1h0m4 0h0m-5-54h0m-39-3h0m50 3h0m-52-4h0m44 3h0m-76-6h0m80 5h0m1 0h0m3 0h0m-26-2h0m3-1h0m14 1h0m-22-2h0m3 0h0m18 1h0m-22-2h0m-12-1h0m8 0h0m-145-12h0m152 12h0m-100-8h0m94 7h0m27 2h0m-43-4h0m41 3h0m-21-2h0m-35-3h0m61 5h0m-23-2h0m-7-1h0m-83-7h0m121 10h0m6 0h0m-31-3h0m12 1h0m48 4h0m-46-4h0m6 0h0m-7-1h0m-96-9h0m83 7h0m12 1h0m9 0h0m-7-1h0m-68-6h0m47 4h0m-14-2h0m58 5h0m-44-4h0m26 2h0m1 0h0m-22-2h0m-16-2h0m8 0h0m-10-1h0m12 1h0m2 0h0m6 0h0m14 1h0m5 0h0m1 0h0m-30-3h0m1 0h0m22 2h0m8 0h0m-30-3h0m-41-4h0m48 4h0m-10-1h0m4 0h0m-10-1h0m32 3h0m-18-2h0m21 2h0m1 0h0m5 0h0m-4-1h0m-18-2h0m14 1h0m-2-1h0m1 0h0m-20-2h0m23 2h0m-29-3h0m-177-18h0m202 20h0m-16-2h0m1 0h0m-19-2h0m10 1h0m-14-2h0m26 2h0m22 2h0m-27-3h0m2 0h0m40 4h0m-54-6h0m30 3h0m-19-2h0m23 2h0m-19-2h0m-19-2h0m21 2h0m-4-1h0m17 1h0m10 1h0m-8-1h0m-37-4h0m45 4h0m-9-1h0m-28-3h0m-9-1h0m38 4h0m-25-3h0m11 1h0m-7-1h0m-17-2h0m-35-4h0m48 5h0m30 3h0m-7-1h0m-26-3h0m28 3h0m-14-2h0m-5-1h0m1 0h0m19 2h0m-15-3h0m0-1h0m21 2h0m-25-3h0m19 2h0m-25-3h0m24 2h0m-32-4h0m31 3h0m-22-3h0m9 1h0m-8-1h0m36 4h0m-33-4h0m-5-1h0m8 0h0m1 0h0m17 2h0m-18-3h0m-8-1h0m-74-9h0m85 10h0m23 2h0m-30-4h0m29 3h0m-24-3h0m-21-3h0m43 5h0m1 0h0m-8-1h0m-20-3h0m5 0h0m-7-1h0m-185-23h0m146 18h0m46 5h0m2 0h0m-8-1h0m1 0h0m20 2h0m2 0h0m-31-4h0m9 1h0m8 1h0m-6-1h0m-71-9h0m76 9h0m0-1h0m-13-2h0m32 4h0m-6-1h0m-15-3h0m16 2h0m10 1h0m-23-3h0m17 2h0m-3-1h0m-14-2h0m13 1h0m-51-7h0m53 7h0m-22-3h0m0-1h0m-22-3h0m23 3h0m6 0h0m23 3h0m-22-3h0m15 2h0m-3-1h0m8 1h0m-20-3h0m-13-2h0m31 4h0m-6-1h0m-12-2h0m-20-3h0m35 4h0m-20-3h0m22 3h0m29 4h0m-50-7h0m-5-1h0m29 4h0m-7-1h0m6 0h0m-19-3h0m22 3h0m-28-4h0m-19-3h0m44 6h0m-26-4h0m30 4h0m-22-4h0m-8-2h0m8 1h0m17 2h0m-27-4h0m7 1h0m-6-1h0m9 1h0m23 3h0m-24-4h0m-5-1h0m30 4h0m-81-12h0m57 8h0m21 3h0m-27-4h0m2 0h0m-6-1h0m4 0h0m21 3h0m-24-4h0m37 5h0m-39-6h0m28 4h0m-24-4h0m20 3h0m-24-4h0m2 0h0m7 1h0m15 2h0m-13-2h0m1 0h0m-27-5h0m19 2h0m-2-1h0m26 4h0m-57-9h0m35 5h0m-37-6h0m34 5h0m22 3h0m-25-4h0m27 4h0m4 0h0m-18-3h0m22 2h0m20 3h0m-43-7h0m1 0h0m-51-9h0m26 4h0m25 4h0m13 2h0m7 1h0m-89-15h0m63 10h0m32 5h0m-34-6h0m25 4h0m-17-3h0m13 2h0m-12-3h0m13 2h0m2 0h0m-52-9h0m62 10h0m-11-2h0m-14-3h0m-3-1h0m-57-10h0m60 10h0m-8-2h0m24 4h0m6 1h0m-84-15h0m56 9h0m6 1h0m-5-1h0m25 4h0m-19-4h0m12 2h0m7 1h0m-28-5h0m-56-10h0m53 9h0m25 4h0m-23-4h0m31 5h0m-21-4h0m12 2h0m2 0h0m-14-3h0m-4-1h0m-39-7h0m56 9h0m-51-9h0m29 5h0m6 1h0m-5-1h0m29 5h0m-4-1h0m1 0h0m-4-1h0m9 1h0m-22-4h0m12 2h0m-16-3h0m4 0h0m16 2h0m-16-3h0m-5-1h0m18 3h0m-22-4h0m28 5h0m-5-1h0m-19-4h0m-11-2h0m29 5h0m-15-3h0m-16-3h0m33 6h0m-15-3h0m13 2h0m6 1h0m-71-14h0m52 9h0m-10-3h0m6 0h0m1 0h0m27 5h0m-10-2h0m-19-4h0m-5-1h0m4 0h0m3 0h0m25 4h0m-42-8h0m22 4h0m17 3h0m-26-5h0m24 4h0m-15-3h0m12 2h0m1 0h0m-25-5h0m34 6h0m-10-2h0m1-1h0m-15-3h0m17 3h0m-30-6h0m32 6h0m-4-1h0m5 0h0m-19-4h0m-5-1h0m-5-1h0m31 6h0m-3-1h0m-19-4h0m-75-15h0m99 19h0m-29-6h0m32 6h0m-25-5h0m-27-6h0m41 8h0m-20-5h0m2 0h0m-4-1h0m9 1h0m-19-4h0m16 3h0m22 4h0m-28-6h0m31 6h0m-2-1h0m-53-11h0m49 10h0m-19-4h0m17 3h0m9 1h0m-9-2h0m-12-3h0m-2-1h0m-8-2h0m10 2h0m0-1h0m-4-1h0m-14-3h0m34 7h0m-23-5h0m29 6h0m-22-5h0m-8-2h0m1 0h0m20 4h0m-18-4h0m19 4h0m-14-3h0m-14-3h0m29 6h0m-14-3h0m21 4h0m-89-19h0m57 12h0m33 7h0m-27-6h0m-13-3h0m38 8h0m-8-2h0m-18-4h0m-140-30h0m146 31h0m-20-5h0m17 3h0m16 3h0m-22-5h0m29 6h0m-30-7h0m-64-14h0m52 11h0m42 9h0m-50-11h0m46 10h0m-26-6h0m28 6h0m-91-20h0m95 20h0m-22-5h0m-9-2h0m7 1h0m-13-3h0m-62-14h0m100 22h0m-9-2h0m-63-14h0m68 15h0m-20-5h0m-4-1h0m19 4h0m9 2h0m-22-5h0m27 6h0m-14-4h0m-12-3h0m18 4h0m14 3h0m-89-20h0m72 16h0m-3-1h0m-12-3h0m23 5h0m-28-7h0m-8-2h0m29 6h0m-3-1h0m-161-37h0m138 31h0m23 5h0m-20-5h0m28 6h0m-20-5h0m0-1h0m13 3h0m-112-26h0m115 26h0m9 2h0m-30-7h0m27 6h0m-24-6h0m-16-4h0m9 2h0m22 5h0m9 2h0m-30-7h0m2 0h0m1 0h0m52 12h0m-34-8h0m0-1h0m-16-4h0m26 6h0m-2-1h0m-20-5h0m13 3h0m-15-4h0m-2-1h0m18 4h0m14 3h0m-12-3h0m-15-4h0m21 5h0m-29-7h0m26 6h0m-4-1h0m-2-1h0m9 2h0m-37-9h0m39 9h0m-51-13h0m42 10h0m6 1h0m-7-3h0m-12-3h0m-4-1h0m-6-2h0m10 2h0m-4-1h0m-2-1h0m6 1h0m-6-2h0m-167-42h0m186 46h0m5 1h0m-27-8h0m34 8h0m-40-10h0m33 8h0m-3-1h0m-62-16h0m40 10h0m4 1h0m4 1h0m13 3h0m4 1h0m-18-5h0m1 0h0m16 4h0m-21-6h0m20 5h0m9 2h0m-23-6h0m12 3h0m-34-9h0m36 9h0m-21-6h0m29 7h0m-23-6h0m1 0h0m-103-27h0m125 32h0m-3-1h0m-23-6h0m17 4h0m-15-4h0m-11-3h0m28 7h0m-23-6h0m21 5h0m-29-8h0m11 2h0m28 7h0m-23-6h0m-7-2h0m24 6h0m-44-12h0m50 13h0m-7-2h0m-23-7h0m31 8h0m4 1h0m-33-9h0m19 5h0m8 2h0m-29-8h0m9 2h0m-10-3h0m32 8h0m-3-1h0m-18-5h0m-9-3h0m9 2h0m-3-1h0m15 4h0m-14-4h0m15 4h0m-145-39h0m150 40h0m-18-5h0m-66-18h0m34 9h0m19 5h0m34 9h0m-5-2h0m-3-2h0m-20-6h0m48 13h0m-24-7h0m-20-6h0m4 1h0m-62-17h0m55 15h0m20 5h0m-43-12h0m26 7h0m4 1h0m-7-2h0m20 5h0m2 0h0m-18-5h0m16 4h0m-14-4h0m-136-38h0m138 38h0m-2-1h0m2 0h0m0-1h0m18 5h0m-28-8h0m33 9h0m4 1h0m-14-4h0m-21-6h0m1 0h0m29 8h0m-21-6h0m15 4h0m-3-1h0m10 2h0m-3-1h0m-7-2h0m-21-6h0m1 0h0m8 2h0m-13-4h0m8 2h0m18 5h0m4 1h0m-24-7h0m-6-2h0m4 1h0m-75-22h0m85 24h0m25 7h0m-13-4h0m-23-7h0m11 3h0m18 5h0m-3-1h0m-2-1h0m-17-5h0m-2-1h0m28 8h0m-26-8h0m-38-11h0m34 9h0m9 2h0m16 3h0m1 0h0m-122-36h0m100 29h0m24 7h0m-27-8h0m23 6h0m-20-6h0m-2-1h0m-1-1h0m7 2h0m17 5h0m-20-6h0m18 5h0m7 2h0m-19-6h0m19 5h0m-23-7h0m-6-2h0m-46-14h0m71 21h0m-3-1h0m7 2h0m-19-6h0m16 4h0m-28-9h0m10 3h0m24 7h0m-9-4h0m4 1h0m-16-5h0m20 6h0m-8-3h0m2 0h0m-27-9h0m-142-44h0m177 54h0m-9-3h0m-12-4h0m12 3h0m-19-6h0m23 7h0m1 0h0m-22-7h0m17 5h0m1 0h0m-12-4h0m13 4h0m4 1h0m-2-1h0m-3-1h0m21 6h0m-40-13h0m45-43h0m-13-5h0m-108-42h0m-34-13h0m137 52h0m1 0h0m-5-2h0m24 9h0m-13-5h0m16 6h0m-2-1h0m-34-13h0m-57-22h0m77 29h0m12 4h0m-13-5h0m-13-5h0m-7-3h0m16 6h0m2 0h0m-79-31h0m66 25h0m34 13h0m-18-7h0m-33-14h0m52 20h0m-18-7h0m-140-55h0m153 58h0m-46-18h0m52 20h0m-1-1h0m-16-7h0m13 5h0m3 1h0m-4-2h0m-18-8h0m18 7h0m8 3h0m-25-10h0m-55-22h0m28 11h0m44 17h0m3 1h0m-22-9h0m23 9h0m2 0h0m-44-18h0m45 17h0m-17-7h0m-70-28h0m21 8h0m48 19h0m1 0h0m-4-2h0m20 8h0m-17-7h0m13 5h0m-30-13h0m36 14h0m-24-10h0m-76-31h0m102 41h0m-19-8h0m-6-3h0m6 2h0m16 6h0m-2-1h0m3 1h0m-22-9h0m18 7h0m5 2h0m-2-1h0m-3-2h0m-12-5h0m-120-49h0m135 55h0m-16-7h0m-1-1h0m20 8h0m-18-8h0m18 7h0m3 1h0m-8-4h0m5 2h0m2 0h0m-4-2h0m-14-6h0m22 9h0m-9-4h0m8 3h0m-2-1h0m-24-10h0m-1-1h0m22 9h0m3 1h0m-24-10h0m5 2h0m14 5h0m-19-8h0m24 10h0m-2-1h0m3 1h0m-6-3h0m-1-1h0m-11-5h0m13 5h0m-16-7h0m3 1h0m-7-3h0m-17-8h0m36 15h0m-16-7h0m5 2h0m-7-3h0m24 10h0m-94-40h0m100 42h0m-28-12h0m5 2h0m24 10h0m-27-12h0m4 1h0m-3-2h0m-2-1h0m19 8h0m-14-7h0m19 8h0m-24-11h0m-11-5h0m17 7h0m-2-1h0m-2-1h0m32 13h0m-16-7h0m3 1h0m10 4h0m-11-5h0m-71-31h0m51 22h0m-67-29h0m44 19h0m7 3h0m-38-17h0m74 32h0m-13-6h0m-25-11h0m37 16h0m7 3h0m-23-10h0m16 6h0m-18-8h0m23 10h0m-18-8h0m13 5h0m-18-8h0m-167-73h0m195 85h0m-9-4h0m3 1h0m-25-11h0m-16-7h0m23 10h0m3 1h0m16 6h0m-2-1h0m-2-1h0m-41-18h0m30 12h0m15 6h0m-2-1h0m-1-1h0m-17-8h0m3 1h0m16 7h0m-20-9h0m26 11h0m-3-2h0m-4-2h0m-11-5h0m-1-1h0m1 0h0m-11-5h0m23 10h0m3 1h0m-15-7h0m12 5h0m-11-5h0m-6-3h0m18 8h0m-13-6h0m-20-9h0m32 14h0m-11-6h0m16 7h0m-2-1h0m-13-6h0m16 7h0m-22-10h0m-17-8h0m-2-1h0m38 17h0m-13-6h0m-13-6h0m10 4h0m-2-1h0m5 2h0m1 0h0m-11-5h0m10 4h0m-2-1h0m3 1h0m15 6h0m-204-94h0m204 93h0m-48-22h0m46 21h0m-19-9h0m7 3h0m-4-2h0m31 14h0m-28-13h0m19 8h0m-26-12h0m-141-65h0m161 74h0m-17-8h0m-1-1h0m19 8h0m-135-63h0m64 29h0m37 17h0m22 10h0m1 0h0m11 5h0m-17-8h0m-8-4h0m11 5h0m15 6h0m-70-33h0m59 27h0m-4-2h0m1 0h0m-7-4h0m9 3h0m16 7h0m-23-11h0m21 9h0m7 3h0m-50-24h0m43 20h0m-38-18h0m26 12h0m-4-2h0m-10-5h0m15 7h0m15 7h0m3 1h0m-6-3h0m-12-6h0m-4-2h0m19 9h0m-14-8h0m-6-3h0m-6-3h0m-37-18h0m67 32h0m-2-1h0m-20-10h0m26 11h0m-31-15h0m-2-1h0m24 11h0m-27-13h0m9 3h0m23 11h0m-64-31h0m48 23h0m-7-4h0m3 1h0m28 12h0m-6-3h0m-6-3h0m-16-9h0m1 0h0m3 1h0m-21-11h0m23 11h0m-29-15h0m47 23h0m-20-10h0m19 9h0m-71-35h0m55 27h0m0-1h0m-6-3h0m-11-6h0m-8-4h0m43 21h0m-6-3h0m-11-6h0m-24-12h0m37 18h0m-2-1h0m-185-92h0m189 93h0m-2-1h0m26 12h0m-42-21h0m-10-5h0m33 16h0m-6-3h0m-77-40h0m46 23h0m34 17h0m-79-40h0m4 2h0m51 25h0m20 10h0m5 1h0m-15-8h0m11 5h0m-174-88h0m163 82h0m20 10h0m-7-4h0m-19-10h0m18 9h0m4 2h0m-17-9h0m2 1h0m-10-6h0m4 1h0m23 11h0m-1-1h0m-15-8h0m12 6h0m2 1h0m-68-35h0m48 24h0m18 9h0m-21-11h0m6 3h0m18 9h0m6 3h0m-26-14h0m18 9h0m-15-8h0m15 7h0m3 1h0m-32-17h0m29 15h0m-25-13h0m31 16h0m-3-2h0m2 1h0m-52-27h0m4 2h0m45 23h0m-1-1h0m-17-9h0m2 1h0m16 7h0m-21-11h0m4 2h0m4 2h0m-28-15h0m43 21h0m-26-14h0m25 13h0m-22-12h0m8 4h0m2 1h0m-34-18h0m46 24h0m1 0h0m-31-17h0m31 16h0m-15-8h0m4 2h0m-11-6h0m23 12h0m1 0h0m-196-104h0m197 103h0m-13-7h0m17 9h0m-29-16h0m23 12h0m6 2h0m-22-12h0m-57-31h0m75 40h0m-26-14h0m6 3h0m2 1h0m21 11h0m-18-10h0m15 8h0m-11-6h0m0-1h0m-60-33h0m53 26h0m-79-43h0m50 27h0m23 12h0m26 14h0m-23-13h0m23 12h0m15 8h0m-183-100h0m180 98h0m-34-19h0m25 13h0m-20-11h0m24 13h0m-17-10h0m-1-1h0m-16-9h0m11 6h0m24 13h0m-45-25h0m28 15h0m11 6h0m4 2h0m-18-10h0m17 9h0m-16-9h0m20 11h0m-18-10h0m12 6h0m3 1h0m2 1h0m2 1h0m-7-4h0m-18-10h0m-27-15h0m48 26h0m4 2h0m-7-4h0m6 3h0m-18-10h0m20 11h0m-18-11h0m-39-22h0m39 21h0m15 8h0m-25-14h0m27 15h0m-16-9h0m-16-9h0m27 15h0m-16-9h0m2 1h0m3 1h0m-1-1h0m-125-70h0m111 61h0m9 5h0m-1-1h0m20 10h0m64 36h0m-76-43h0m-1-1h0m16 9h0m2 0h0m2 1h0m-19-11h0m-3-2h0m-36-21h0m55 29h0m2 1h0m-4-3h0m-14-8h0m23 13h0m-24-14h0m4 2h0m18 10h0m-17-10h0m-5-3h0m5 2h0m-3-2h0m-3-2h0m6 3h0m-38-22h0m54 31h0m-19-11h0m16 9h0m-1-1h0m-12-7h0m-141-83h0m154 89h0m-16-10h0m-17-10h0m33 19h0m-18-11h0m-43-25h0m50 29h0m-5-3h0m19 11h0m-38-23h0m42 24h0m-24-14h0m-13-8h0m18 10h0m-13-8h0m9 5h0m23 13h0m-17-10h0m12 7h0m-93-55h0m79 46h0m30 17h0m-26-16h0m-3-2h0m-5-3h0m24 14h0m-22-13h0m-13-8h0m19 11h0m-88-52h0m86 50h0m17 10h0m-3-2h0m-11-7h0m11 6h0m8 4h0m-1-1h0m-6-4h0m7 4h0m-5-3h0m-13-8h0m17 10h0m-20-12h0m3 1h0m-1-1h0m-4-3h0m-18-11h0m39 23h0m-15-9h0m-5-3h0m-13-8h0m32 19h0m-51-31h0m-3-2h0m52 31h0m-11-7h0m-1-1h0m-1-1h0m15 9h0m-14-9h0m2 1h0m-33-20h0m22 13h0m35 21h0m-26-16h0m19 11h0m-69-43h0m70 42h0m-21-13h0m15 9h0m15 9h0m-25-16h0m-3-2h0m-10-7h0m24 14h0m-18-11h0m21 12h0m-16-10h0m15 9h0m-26-16h0m-21-13h0m46 28h0m-16-10h0m23 14h0m-39-24h0m15 9h0m5 3h0m18 11h0m-19-12h0m18 11h0m-71-45h0m67 41h0m-14-9h0m18 11h0m2 1h0m-17-11h0m18 11h0m-3-2h0m-142-88h0m126 77h0m1 0h0m19 11h0m-53-33h0m-3-2h0m34 21h0m-8-5h0m13 8h0m-3-2h0m18 11h0m-130-81h0m130 80h0m-3-2h0m37-41h0m-4-4h0m3 2h0m-18-13h0m17 12h0m3 2h0m-4-3h0m-1-1h0m3 2h0m-1-1h0m-1-2h0m-10-8h0m11 7h0m-12-9h0m-1-1h0m3 2h0m10 7h0m-11-8h0m-2-2h0m-8-6h0m27 19h0m-15-11h0m17 12h0m-2-2h0m-19-14h0m-107-78h0m122 88h0m1 0h0m18 13h0m-8-6h0m-9-7h0m-1-1h0m2 0h0m3 2h0m-14-11h0m14 10h0m-4-3h0m-13-10h0m14 10h0m-10-8h0m13 9h0m-16-12h0m15 11h0m-1-1h0m-11-9h0m-3-3h0m14 10h0m-24-18h0m11 8h0m4 1h0m13 8h0m2 1h0m-20-15h0m7 4h0m-1-1h0m11 8h0m-14-12h0m15 11h0m7 5h0m-17-13h0m14 10h0m-16-12h0m-13-10h0m15 11h0m12 9h0m4 3h0m-18-14h0m3 2h0m1 0h0m10 7h0m4 3h0m-18-14h0m4 3h0m-2-3h0m3 2h0m11 8h0m1 0h0m-14-11h0m-1-1h0m18 13h0m-17-13h0m3 2h0m-1-1h0m15 11h0m-14-11h0m11 8h0m1 0h0m-13-10h0m1-1h0m15 11h0m-1-1h0m0-1h0m-1-1h0m-10-8h0m-3-3h0m2 1h0m-1-1h0m13 10h0m3 2h0m-2-2h0m3 2h0m-15-12h0m12 9h0m-15-12h0m15 11h0m2 1h0m-14-11h0m17 13h0m-19-15h0m3 2h0m1 0h0m-2-2h0m18 14h0m-14-11h0m-3-3h0m13 10h0m-9-9h0m-5-4h0m15 11h0m4 3h0m-3-3h0m-14-11h0m-1-1h0m18 14h0m-14-11h0m2 0h0m-3-3h0m14 11h0m-1-1h0m-10-8h0m-3-3h0m-1-1h0m17 13h0m-2-2h0m3 2h0m1 0h0m-3-3h0m4 3h0m-17-15h0m14 11h0m-14-12h0m4 2h0m-12-10h0m24 19h0m3 2h0m-17-14h0m4 3h0m11 8h0m-16-13h0m15 11h0m5 4h0m-17-14h0m14 11h0m-11-9h0m10 8h0m1 0h0m-11-9h0m-9-8h0m10 8h0m0-1h0m10 8h0m5 4h0m-18-15h0m-1-1h0m3 2h0m-8-7h0m21 17h0m-10-9h0m-3-3h0m16 13h0m-3-3h0m4 3h0m-13-11h0m12 9h0m-1-1h0m-14-12h0m4 2h0m12 9h0m3 2h0m-14-12h0m11 9h0m-1-1h0m-9-9h0m0-1h0m-1-1h0m11 9h0m4 3h0m-17-16h0m2 0h0m14 11h0m-15-13h0m5 4h0m-1-1h0m15 11h0m-13-11h0m0-1h0m10 8h0m6 5h0m-15-13h0m-4-4h0m17 14h0m-14-12h0m12 9h0m-10-9h0m-2-2h0m-1-1h0m16 12h0m-2-2h0m-14-12h0m5 4h0m-7-6h0m4 3h0m16 13h0m-3-3h0m5 4h0m-15-13h0m-1-1h0m12 10h0m4 3h0m-1-1h0m-3-3h0m-11-10h0m11 9h0m-9-8h0m10 8h0m3 2h0m-14-12h0m11 9h0m-9-8h0m10 8h0m-10-9h0m-3-3h0m4 3h0m-2-2h0m12 10h0m1 0h0m-1-1h0m4 3h0m-3-4h0m-9-8h0m10 8h0m-15-13h0m5 4h0m-1-1h0m15 13h0m-13-13h0m15 12h0m-17-15h0m2 1h0m1 0h0m11 8h0m1 0h0m-10-9h0m-11-10h0m21 18h0m3 2h0m-2-3h0m-11-10h0m-1-1h0m3 2h0m14 12h0m-28-25h0m13 11h0m-3-3h0m14 12h0m3 2h0m-12-11h0m14 12h0m-17-16h0m17 15h0m-3-4h0m-12-12h0m-1-2h0m15 12h0m-12-11h0m-2-2h0m18 16h0m-13-12h0m-63-57h0m73 64h0m2 1h0m3 1h0m-12-12h0m-1-1h0m-1-1h0m3 1h0m11 10h0m-2-2h0m-12-11h0m3 1h0m-1-1h0m11 10h0m5 4h0m-2-2h0m-14-13h0m3 2h0m13 11h0m-12-12h0m-10-10h0m10 9h0m12 11h0m-1-1h0m2 1h0m27 24h0m-27-26h0m-2-2h0m-9-9h0m-4-4h0m-7-7h0m11 10h0m-4-4h0m5 4h0m-1-2h0m11 10h0m2 1h0m-15-14h0m15 13h0m-10-10h0m12 11h0m1 0h0m-2-3h0m-10-10h0m-1-1h0m15 14h0m1 0h0m-1-1h0m-14-14h0m11 10h0m-9-9h0m-4-4h0m14 13h0m-19-18h0m23 21h0m4 3h0m-20-20h0m4 3h0m-2-2h0m13 9h0m-13-13h0m2 1h0m12 11h0m-10-10h0m11 8h0m-8-9h0m-1-1h0m10 9h0m-13-13h0m2 1h0m18 17h0m-5-5h0m-13-13h0m3 2h0m11 10h0m2 1h0m-2-3h0m-9-9h0m-1-1h0m11 10h0m-17-17h0m4 3h0m-9-9h0m26 25h0m-12-12h0m13 12h0m-2-2h0m-11-11h0m-3-4h0m16 14h0m-2-2h0m-10-10h0m11 10h0m-11-11h0m-8-8h0m19 18h0m-9-9h0m10 9h0m-1-1h0m-9-9h0m1 0h0m0-1h0m-2-2h0m12 11h0m5 3h0m-17-17h0m5 3h0m10 9h0m4 4h0m-13-14h0m10 10h0m-61-62h0m60 60h0m-12-13h0m13 13h0m-9-10h0m14 14h0m-19-20h0m15 15h0m1 1h0m2 2h0m-14-15h0m12 11h0m-12-13h0m2 2h0m1 1h0m0-2h0m13 13h0m1 1h0m-16-17h0m14 14h0m-1-2h0m2 2h0m-1-2h0m-11-12h0m-1-2h0m3 2h0m11 11h0m0-1h0m-11-12h0m1 1h0m-2-3h0m15 15h0m-11-12h0m10 10h0m-9-10h0m9 9h0m3 3h0m1 1h0m-1-2h0m-12-13h0m12 12h0m-14-15h0m1 1h0m1 1h0m-4-5h0m6 6h0m-2-3h0m11 11h0m4 4h0m1 1h0m-17-18h0m3 3h0m11 11h0m-12-13h0m2 1h0m14 14h0m-15-16h0m13 13h0m1 1h0m-11-12h0m-3-4h0m3 3h0m10 9h0m2 2h0m-12-13h0m-2-3h0m23 24h0m-6-7h0m-3-4h0m1 1h0m36-44h0m1 1h0m-9-12h0m9 10h0m-8-10h0m9 10h0m-8-12h0m9 10h0m-8-11h0m9 10h0m-9-11h0m2 0h0m9 10h0m34-42h0m0-1h0m9 12h0m-10-14h0m2 2h0m9 12h0m-10-16h0m11 15h0m0-1h0m0-1h0m0-1h0m1 1h0m0-1h0m-9-13h0m-13-19h0m15 21h0m-13-21h0m-54-77h0m67 94h0m-46-65h0m-24-34h0m47 66h0m34 48h0m-11-16h0m3 3h0m-29-42h0m28 39h0m1 1h0m-84-120h0m94 133h0m-28-40h0m19 27h0m1 1h0m-2-3h0m-20-29h0m-72-103h0m80 114h0m22 31h0m-29-42h0m22 31h0m-6-9h0m15 21h0m-1-2h0m-85-122h0m86 122h0m-19-28h0m12 17h0m-25-36h0m25 35h0m8 11h0m-7-11h0m7 10h0m1 0h0m1-1h0m-7-11h0m-2-3h0m11 14h0m0-1h0m45-26h0m-9-15h0m7 11h0m-44-73h0m46 74h0m-9-15h0m2 2h0m1-1h0m9 14h0m-10-17h0m2 3h0m8 13h0m-1-3h0m3-1h0m5 7h0m-4-7h0m1 1h0m-8-14h0m1 1h0m-1-2h0m-7-12h0m15 25h0m-6-11h0m10 13h0m-1-3h0m1 0h0m-8-15h0m9 13h0m3 5h0m-10-19h0m10 17h0m-1-2h0m-9-16h0m2 3h0m7 12h0m0-1h0m-7-13h0m-5-9h0m15 25h0m-2-4h0m-6-11h0m-1-2h0m8 13h0m2 3h0m-8-14h0m-7-13h0m7 12h0m-1-2h0m1 1h0m11 19h0m-4-7h0m-6-11h0m0-1h0m7 12h0m-6-11h0m9 14h0m-1-2h0m-9-16h0m9 13h0m2 3h0m-11-20h0m11 19h0m1 1h0m2 1h0m-8-16h0m8 14h0m-1-2h0m0-2h0m2 2h0m-9-17h0m8 14h0m-6-11h0m-1-3h0m2 3h0m1-1h0m0-1h0m-1-2h0m8 14h0m-7-14h0m8 14h0m-7-14h0m9 16h0m-1-2h0m-7-13h0m8 13h0m-7-13h0m7 12h0m-8-15h0m10 18h0m-8-15h0m8 14h0m-1-3h0m1 1h0m-7-14h0m8 14h0m-7-14h0m0-1h0m9 15h0m-10-19h0m3 5h0m-1-2h0m8 13h0m-49-91h0m49 90h0m-7-13h0m9 15h0m-9-17h0m2 3h0m7 12h0m-6-12h0m8 14h0m-7-14h0m6 11h0m-5-11h0m-1-2h0m1 1h0m-1-2h0m8 14h0m-6-12h0m-1-2h0m10 16h0m-7-15h0m6 11h0m-5-12h0m8 15h0m-2-4h0m-7-15h0m8 15h0m1-1h0m2 3h0m-19-38h0m19 35h0m-6-12h0m-1-2h0m7 13h0m-7-14h0m-44-86h0m52 100h0m1 1h0m1 1h0m-8-16h0m8 13h0m4 7h0m-10-20h0m7 13h0m0-1h0m-6-12h0m0-1h0m-1-2h0m2 3h0m8 15h0m-9-18h0m2 3h0m-1-3h0m1 1h0m57-10h0m1 2h0m-10-23h0m2 4h0m7 16h0m2 4h0m-8-19h0m7 15h0m2 4h0m0-1h0m-9-21h0m2 4h0m1 2h0m7 15h0m-6-15h0m-2-5h0m7 16h0m-11-27h0m6 13h0m-3-7h0m1 2h0m10 23h0m-1-4h0m-5-13h0m6 14h0m3 7h0m-10-24h0m1 2h0m7 16h0m-9-22h0m10 23h0m4 7h0m-14-34h0m4 9h0m6 13h0m-4-13h0m-2-5h0m3 3h0m6 14h0m-5-12h0m-2-6h0m10 23h0m-7-17h0m5 11h0m-4-11h0m-3-8h0m3 7h0m-2-6h0m3 6h0m0-1h0m-6-16h0m13 31h0m-6-15h0m5 12h0m-6-15h0m0-1h0m8 19h0m-6-15h0m-2-9h0m4 8h0m5 12h0m-7-18h0m3 6h0m-2-5h0m0-1h0m7 17h0m-5-13h0m6 13h0m-8-21h0m10 22h0m-5-13h0m-4-11h0m11 27h0m-10-25h0m1 2h0m-3-8h0m13 32h0m-2-6h0m-7-21h0m9 20h0m-5-13h0m7 16h0m1 1h0m-7-18h0m1 2h0m-5-13h0m10 24h0m-35-93h0m32 81h0m0-2h0m1 2h0m-1-3h0m6 14h0m2 4h0m-1-3h0m0-1h0m-7-20h0m1 2h0m7 17h0m-5-13h0m-10-28h0m16 41h0m1 2h0m-5-14h0m-3-8h0m-21-58h0m24 61h0m2 4h0m-38-99h0m37 96h0m6 15h0m2 5h0m-8-22h0m-31-81h0m-6-16h0m45 117h0m-52-136h0m52 133h0m2 5h0m-1-3h0m-8-22h0m-1-3h0m-19-50h0m23 60h0m-6-16h0m4 10h0m-32-84h0m39 102h0m-7-19h0m9 23h0m-1-5h0m2 4h0m-17-46h0m8 21h0m8 21h0m2 5h0m-8-22h0m2 5h0m0-2h0m-7-19h0m14 35h0m-5-15h0m-34-91h0m41 109h0m-1-6h0m-51-137h0m46 123h0m-1-3h0m6 16h0m-19-52h0m13 34h0m-1-3h0m2 4h0m2 5h0m-19-52h0m25 67h0m-30-82h0m23 62h0m-7-19h0m4 10h0m10 27h0m-24-65h0m-50-136h0m66 177h0m4 9h0m-2-6h0m8 21h0m-5-14h0m6 15h0m1 2h0m-6-17h0m-1-3h0m-2-6h0m3 8h0m5 13h0m-5-14h0m-2-6h0m-10-29h0m11 28h0m3 8h0m-2-6h0m8 22h0m-1-4h0m-6-19h0m-1-3h0m10 27h0m-1-3h0m5 13h0m-12-34h0m8 20h0m-5-14h0m6 16h0m-6-18h0m-2-6h0m9 25h0m-6-17h0m0-1h0m7 18h0m-2-6h0m2 4h0m1 2h0m-2-6h0m2 4h0m-8-24h0m3 7h0m2 0h0m6 16h0m-1-3h0m-5-15h0m6 17h0m-8-23h0m3 8h0m-2-8h0m8 19h0m-5-15h0m-3-10h0m0-2h0m9 26h0m-5-16h0m6 17h0m0-1h0m-4-12h0m5 14h0m-4-14h0m5 14h0m-6-18h0m7 20h0m1 1h0m-7-21h0m7 19h0m-1-3h0m2 4h0m-1-3h0m0-2h0m-4-13h0m0-1h0m5 13h0m-5-16h0m-1-3h0m7 19h0m-7-21h0m8 23h0m-6-18h0m-1-3h0m7 19h0m-4-14h0m5 13h0m-5-16h0m7 20h0m0-4h0m2 5h0m1 1h0m-2-7h0m1 3h0m1 3h0m0-2h0m-4-16h0m4 12h0m2 6h0m-1-7h0m2 4h0m-7-22h0m0-2h0m3 8h0m5 15h0m-5-16h0m-2-9h0m8 24h0m-6-20h0m2 2h0m5 15h0m2 6h0m-8-26h0m-2-7h0m3 9h0m2 5h0m-2-8h0m7 20h0m1 3h0m-7-23h0m2 6h0m1 2h0m4 12h0m-4-13h0m-2-7h0m0-1h0m7 22h0m0-1h0m1 1h0m-7-23h0m8 24h0m-7-23h0m8 23h0m-6-20h0m7 22h0m-1-5h0m-5-18h0m6 19h0m4 8h0m-8-27h0m8 25h0m-2-7h0m-8-26h0m8 25h0m-5-17h0m2 4h0m5 16h0m-10-33h0m1 3h0m5 14h0m0-1h0m5 14h0m0-1h0m-3-12h0m-3-10h0m1 3h0m7 23h0m-6-23h0m55-6h0m0-5h0m0-1h0m2 8h0m0-4h0m4 16h0m1-1h0m-4-20h0m5 21h0m1 2h0m0-3h0m-3-14h0m0-1h0m4 16h0m1-1h0m-2-14h0m4 17h0m-5-23h0m2 7h0m4 16h0m-5-23h0m1 3h0m1 4h0m-1-8h0m2 8h0m-1-7h0m5 22h0m-3-16h0m3 12h0m1 3h0m0-1h0m-3-14h0m3 12h0m1 0h0m-4-20h0m2 8h0m3 13h0m0-1h0m1 3h0m0-1h0m-3-15h0m-1-5h0m5 21h0m-3-16h0m3 13h0m-3-14h0m3 13h0m1 1h0m-4-19h0m-6-30h0m7 31h0m1 1h0m-2-10h0m6 26h0m-2-13h0m0-4h0m-1-5h0m5 23h0m-3-17h0m5 19h0m-3-16h0m3 12h0m-3-16h0m1 4h0m0-1h0m0-1h0m-1-6h0m1 3h0m2 4h0m1-2h0m3 14h0m-2-12h0m4 15h0m-3-15h0m3 12h0m-3-16h0m-1-5h0m2 8h0m-2-10h0m2 9h0m4 14h0m-3-19h0m4 18h0m-2-12h0m3 14h0m-5-27h0m6 25h0m-3-16h0m1 2h0m3 15h0m-3-16h0m3 15h0m-3-18h0m1 4h0m4 17h0m0-1h0m-3-17h0m3 15h0m-3-19h0m2 5h0m0-2h0m0-3h0m4 18h0m1 3h0m-3-16h0m3 13h0m0-1h0m-2-12h0m-1-6h0m1 4h0m3 16h0m-2-14h0m3 16h0m-3-23h0m2 5h0m3 16h0m0-1h0m0-1h0m1 3h0m-3-17h0m-1-6h0m2 7h0m1-2h0m3 14h0m2 1h0m0-1h0m-2-13h0m-1-7h0m1 5h0m5 21h0m-3-19h0m-1-6h0m4 18h0m-3-20h0m1 5h0m3 15h0m-2-13h0m3 17h0m-3-20h0m4 17h0m0-1h0m1 4h0m0-1h0m-3-19h0m3 17h0m-3-18h0m4 21h0m0-1h0m-3-20h0m3 16h0m-2-12h0m0-8h0m1 6h0m0-3h0m3 18h0m0-1h0m52-20h0m0-4h0m1 4h0m2 16h0m-1-17h0m0-7h0m0-2h0m1 8h0m0-1h0m1 2h0m2 19h0m0-1h0m-1-20h0m2 18h0m0-1h0m0-3h0m-2-22h0m3 25h0m0-1h0m0-2h0m-1-12h0m0-2h0m0-1h0m-2-23h0m2 18h0m2 20h0m-1-12h0m2 19h0m-1-19h0m2 18h0m1-4h0m1-2h0m-1-13h0m0-3h0m0-2h0m2 21h0m-2-26h0m1 2h0m0-2h0m1 10h0m2 13h0m-1-13h0m-1-15h0m1 9h0m0-3h0m3 28h0m0-4h0m-1-23h0m2 23h0m0-3h0m-1-13h0m0-2h0m0-4h0m1 7h0m0-5h0m2 21h0m-1-16h0m2 18h0m-1-18h0m0-6h0m1 6h0m0-5h0m2 18h0m0-1h0m-1-20h0m2 24h0m0-3h0m-1-14h0m0-3h0m0-4h0m2 26h0m0-1h0m0-2h0m-1-16h0m2 18h0m-2-28h0m2 23h0m0-18h0m2 23h0m0-5h0m-3-45h0m2 22h0m2 27h0m-2-30h0m2 27h0m0-1h0m-1-17h0m1 4h0m0-1h0m0-5h0m1 4h0m1-5h0m1 5h0m0-4h0m1 3h0m1 15h0m1 4h0m-1-16h0m0-1h0m0-8h0m1 8h0m1 15h0m0-2h0m-1-16h0m2 24h0m-1-24h0m0-4h0m1 4h0m0-7h0m3 29h0m0-6h0m1 1h0m2 1h0m53-22h0m0 20h0m0 5h0m0 3h0m0 10h0m1-50h0m0 8h0m0 3h0m0 20h0m0 1h0m0 3h0m0 1h0m1-35h0m0 4h0m0 5h0m0 19h0m0 1h0m0 8h0m0 30h0m1-71h0m0 1h0m0 14h0m0 17h0m1-49h0m0 35h0m0 1h0m0 13h0m1-34h0m0 7h0m0 2h0m0 5h0m0 28h0m1-35h0m0 5h0m0 1h0m0 8h0m0 13h0m0 6h0m1-58h0m0 59h0m0 1h0m1-34h0m0 26h0m1-18h0m0 2h0m0 4h0m0 19h0m0 11h0m1-30h0m0 13h0m0 4h0m0 13h0m1-16h0m1-32h0m0 4h0m0 9h0m0 4h0m0 1h0m-1 70h0m1-58h0m0 9h0m1-37h0m0 6h0m0 7h0m0 19h0m1-42h0m0 26h0m0 18h0m1-45h0m-1 51h0m1-47h0m-1 52h0m1-33h0m0 4h0m1-29h0m-1 51h0m1-43h0m-1 67h0m1-46h0m0 16h0m0 3h0m1-32h0m0 6h0m0 4h0m0 2h0m0 16h0m0 3h0m0 3h0m0 3h0m1-41h0m1-17h0m-1 48h0m1-33h0m-1 48h0m1-41h0m0 9h0m0 3h0m0 12h0m1-18h0m1-14h0m1 2h0m-1 37h0m0 3h0m0 5h0m1-34h0m1-5h0m1-8h0m0 4h0m0 3h0m-1 36h0m1-26h0m-1 35h0m1-32h0m1-30h0m-1 42h0m1-32h0m0 1h0m-1 38h0m0 7h0m0 2h0m1-28h0m0 12h0m1-30h0m-1 33h0m0 5h0m0 2h0m1-30h0m0 2h0m1-16h0m0 2h0m-1 32h0m0 4h0m0 5h0m1-30h0m-1 33h0m1-24h0m0 13h0m2-33h0m-1 32h0m0 2h0m1-27h0m-2 60h0m1-26h0m1-21h0m0 13h0m0 11h0m1-8h0m0 6h0m1-22h0m-2 56h0m2-43h0m0 4h0m0 5h0m3-70h0m-2 61h0m2-33h0m1-20h0m-3 75h0m2-37h0m0 2h0m0 13h0m0 7h0m2-37h0m0 16h0m1-15h0m0 1h0m-1 30h0m0 2h0m0 7h0m2-36h0m-3 77h0m4-88h0m0 4h0m0 1h0m-1 36h0m0 2h0m1-21h0m0 1h0m-1 25h0m3-55h0m-1 24h0m-1 26h0m1-20h0m-1 32h0m0 2h0m3-60h0m0 12h0m1-14h0m-1 22h0m-1 25h0m2-39h0m0 11h0m0 1h0m-1 21h0m1-16h0m0 1h0m1-18h0m-1 21h0m-2 40h0m3-53h0m0 4h0m-1 23h0m1-18h0m1-19h0m0 1h0m0 3h0m-2 39h0m0 5h0m0 2h0m3-50h0m-2 40h0m1-17h0m-1 21h0m2-29h0m0 3h0m-1 19h0m2-35h0m-2 39h0m2-32h0m-5 97h0m0 1h0m4-72h0m1-17h0m-5 93h0m4-69h0m2-33h0m0 1h0m-2 36h0m2-34h0m-1 23h0m1-13h0m1-17h0m-2 42h0m1-12h0m-1 21h0m3-52h0m-1 19h0m1-12h0m0 5h0m1-15h0m-1 18h0m1-17h0m-2 39h0m-1 18h0m4-62h0m-3 53h0m1-4h0m3-44h0m-2 34h0m2-29h0m0 3h0m-2 33h0m3-42h0m-2 35h0m1-16h0m1-15h0m-2 40h0m2-25h0m1-7h0m-2 33h0m-1 16h0m-1 18h0m5-73h0m1-14h0m-4 64h0m1-14h0m0 2h0m3-39h0m-1 17h0m-1 25h0m2-30h0m-1 18h0m0 1h0m3-41h0m-3 48h0m2-27h0m0 6h0m2-21h0m-2 34h0m1-12h0m-4 67h0m4-49h0m2-28h0m-2 30h0m3-39h0m-1 19h0m1-14h0m0 1h0m-2 31h0m0 4h0m0 2h0m2-24h0m-5 74h0m7-94h0m-3 43h0m3-41h0m-1 17h0m0 1h0m-1 14h0m2-27h0m-2 33h0m0 1h0m0 1h0m1-10h0m2-25h0m1-10h0m-2 35h0m1-13h0m-1 14h0m1-13h0m-1 19h0m2-19h0m-2 27h0m1-13h0m3-38h0m-1 17h0m0 4h0m-5 66h0m4-47h0m3-35h0m-1 13h0m1-10h0m-1 16h0m-1 13h0m2-20h0m-2 27h0m-3 38h0m5-59h0m-1 21h0m3-37h0m-1 13h0m-1 17h0m0 1h0m0 3h0m4-44h0m-3 40h0m3-32h0m-3 42h0m3-33h0m-2 26h0m3-35h0m0 2h0m0 3h0m-3 38h0m2-23h0m-1 12h0m-1 13h0m3-35h0m-2 25h0m2-22h0m0 1h0m3-34h0m-4 59h0m-1 16h0m2-13h0m4-41h0m-4 48h0m3-29h0m-1 12h0m4-44h0m-4 47h0m3-32h0m-1 16h0m-5 59h0m7-74h0m-3 34h0m2-20h0m0 2h0m-1 13h0m2-20h0m1-8h0m0 4h0m0 2h0m-2 22h0m3-31h0m-7 77h0m2-20h0m5-53h0m-2 27h0m2-17h0m-2 23h0m3-25h0m-6 64h0m5-45h0m-1 11h0m1-3h0m-2 23h0m3-31h0m3-27h0m-1 13h0m0 2h0m-2 21h0m0 1h0m0 1h0m4-39h0m-4 41h0m5-51h0m-4 41h0m4-39h0m1-4h0m-1 11h0m-1 13h0m1-10h0m-4 42h0m1-10h0m-1 12h0m3-30h0m2-16h0m-4 41h0m5-48h0m-2 21h0m0 2h0m-3 36h0m5-42h0m-2 20h0m4-35h0m-4 43h0m1-9h0m-1 10h0m4-38h0m-3 33h0m4-38h0m-1 11h0m1-5h0m-1 14h0m-1 13h0m5-43h0m-8 76h0m2-16h0m2-17h0m2-12h0m-2 20h0m-7 67h0m12-105h0m-4 40h0m1-9h0m0 2h0m3-27h0m1-9h0m-5 47h0m3-27h0m-2 21h0m-1 10h0m5-43h0m2-14h0m-1 10h0m-7 64h0m4-35h0m4-34h0m-1 9h0m-4 37h0m3-26h0m-2 20h0m-3 31h0m6-49h0m4-30h0m-5 44h0m-1 11h0m3-25h0m-1 13h0m0 1h0m3-24h0m-1 9h0m4-34h0m-2 18h0m-4 36h0m0 1h0m1-7h0m-1 9h0m-1 9h0m-3 26h0m7-60h0m0 3h0m4-33h0m-3 28h0m-2 18h0m2-16h0m0 3h0m-3 30h0m1-8h0m5-42h0m2-14h0m-4 34h0m-2 18h0m3-25h0m1-1h0m-1 9h0m-4 34h0m-2 17h0m4-33h0m6-48h0m-5 42h0m2-16h0m-2 17h0m2-16h0m4-25h0m-3 25h0m-3 25h0m0 2h0m-6 50h0m10-81h0m3-23h0m-1 10h0m-5 42h0m3-23h0m1-8h0m-4 34h0m1-4h0m0 1h0m5-40h0m-2 18h0m1-2h0m-4 33h0m6-47h0m-2 16h0m-2 18h0m5-39h0m-2 19h0m-3 25h0m4-30h0m-1 8h0m5-37h0m-3 24h0m-1 8h0m-2 17h0m0 3h0m0 1h0m3-22h0m-7 55h0m9-70h0m-5 40h0m4-31h0m-4 32h0m-9 71h0m10-75h0m1-4h0m0 1h0m-3 26h0m2-15h0m0 1h0m-1 11h0m6-45h0m1-5h0m0 4h0m-1 10h0m-3 23h0m6-40h0m-11 83h0m6-44h0m0 2h0m8-59h0m-8 61h0m2-13h0m2-13h0m1-4h0m-4 31h0m-1 8h0m6-43h0m-1 9h0m-3 24h0m4-24h0m1-3h0m-3 22h0m0 1h0m4-26h0m-2 18h0m2-14h0m1-7h0m1-7h0m0 1h0m-2 15h0m-3 22h0m4-27h0m-5 36h0m8-53h0m-6 46h0m-1 10h0m3-21h0m2-14h0m-8 57h0m9-61h0m-7 50h0m11-69h0m-8 57h0m3-20h0m-6 43h0m2-12h0m10-67h0m-2 15h0m-15 104h0m11-76h0m7-43h0m-1 7h0m-1 7h0m-3 23h0m4-26h0m-4 29h0m6-39h0m-3 21h0m-2 14h0m5-32h0m-1 7h0m-4 32h0m1-6h0m-6 41h0m8-54h0m2-10h0m0 1h0m0 1h0m-3 21h0m2-13h0m-3 22h0m6-36h0m1-1h0m-6 40h0m2-11h0m5-33h0m-3 20h0m-2 14h0m-3 22h0m7-43h0m-1 7h0m-3 20h0m4-26h0m0 1h0m-4 27h0m4-25h0m2-13h0m-5 34h0m5-32h0m-9 59h0m3-19h0m4-26h0m-3 21h0m-2 13h0m3-17h0m6-37h0m-10 66h0m5-32h0m-1 7h0m7-41h0m-5 33h0m-14 90h0m11-69h0m-2 13h0m9-56h0m-4 30h0m-5 33h0m11-69h0m0 1h0m0 4h0m-5 33h0m2-10h0m-2 14h0m6-37h0m-4 29h0m1-6h0m-3 21h0m6-37h0m-2 16h0m2-12h0m-5 31h0m1-6h0m-1 8h0m9-55h0m-7 44h0m11-66h0m-6 37h0m-1 7h0m-2 15h0m8-48h0m-3 20h0m2-12h0m-1 7h0m-5 31h0m-2 16h0m-7 44h0m15-89h0m-10 64h0m11-66h0m-5 31h0m2-12h0m-3 19h0m5-29h0m-5 31h0m4-21h0m-2 12h0m-2 12h0m2-10h0m-1 7h0m0 2h0m2-11h0m-8 49h0m17-100h0m-6 36h0m3-17h0m-3 20h0m4-23h0m-1 8h0m-2 12h0m0 1h0m3-16h0m-7 43h0m6-32h0m-1 7h0m4-23h0m-7 41h0m1-5h0m6-33h0m-2 15h0m-3 18h0m6-34h0m-1 6h0m-6 35h0m6-34h0m0 1h0m2-11h0m-4 25h0m8-45h0m-12 69h0m2-10h0m3-15h0m-2 13h0m3-16h0m-3 18h0m-1 6h0m6-33h0m1-4h0m-2 13h0m-3 17h0m-1 7h0m-10 57h0m14-77h0m2-11h0m-7 40h0m3-16h0m-2 12h0m5-28h0m2-11h0m1-4h0m-1 6h0m-6 35h0m-4 23h0m12-67h0m-8 45h0m-10 56h0m7-39h0m8-40h0m2-11h0m-1 7h0m-6 34h0m8-43h0m-1 6h0m1-5h0m-1 6h0m-4 24h0m6-31h0m1-5h0m-8 45h0m2-9h0m1-5h0m-2 12h0m7-38h0m-6 33h0m-2 11h0m2-10h0m4-21h0m2-9h0m-4 22h0m4-18h0m3-16h0m-1 6h0m-6 36h0m-1 6h0m-2 12h0m11-58h0m2-8h0m-7 40h0m-4 23h0m2-10h0m8-42h0m0 4h0m-1 6h0m-4 24h0m6-31h0m-8 44h0m9-47h0m-19 102h0m12-63h0m6-31h0m-7 37h0m3-15h0m3-14h0m0 1h0m-4 21h0m2-7h0m5-26h0m2-10h0m-8 42h0m7-36h0m-3 17h0m1-5h0m0 1h0m-14 73h0m10-51h0m4-18h0m-2 12h0m-9 47h0m8-41h0m8-39h0m0 4h0m-7 36h0m-9 48h0m8-40h0m-16 82h0m19-96h0m5-25h0m-6 31h0m-3 16h0m2-10h0m6-30h0m1-3h0m-4 21h0m3-14h0m2-10h0m-5 26h0m-1 6h0m5-23h0m-10 51h0m13-65h0m-6 31h0m3-14h0m1-5h0m6-29h0m-2 11h0m-4 21h0m-6 31h0m-3 16h0m5-24h0m-2 10h0m4-19h0m18-88h0m-11 55h0m-7 36h0m4-19h0m-6 30h0m-1 5h0m10-48h0m-3 15h0m3-12h0m-15 74h0m12-59h0m6-29h0m-9 47h0m-2 12h0m-1 5h0m10-47h0m-5 27h0m-3 15h0m-3 16h0m6-29h0m-18 88h0m19-92h0m-9 44h0m5-24h0m10-48h0m-2 10h0m-5 26h0m7-33h0m-5 26h0m3-14h0m-12 58h0m9-43h0m6-28h0m-17 83h0m17-80h0m-5 25h0m4-19h0m-1 5h0m-3 16h0m8-36h0m-1 6h0m-5 26h0m5-23h0m2-9h0m-8 38h0m4-18h0m-2 12h0m-6 30h0m12-53h0m1-4h0m-6 29h0m3-14h0m1-4h0m-8 39h0m12-56h0m-12 57h0m14-64h0m-2 12h0m-11 52h0m11-51h0m1-4h0m-1 5h0m1-4h0m-1 5h0m-9 42h0m-1 5h0m8-37h0m3-12h0m-8 38h0m6-26h0m4-17h0m-20 92h0m1-4h0m9-40h0m10-45h0m-12 55h0m11-48h0m-2 11h0m-4 20h0m5-22h0m-8 38h0m10-44h0m-1 5h0m-5 25h0m0 1h0m-3 14h0m10-44h0m-1 5h0m-6 28h0m3-13h0m-2 9h0m-10 45h0m17-76h0m-2 10h0m-4 18h0m0 2h0m-4 21h0m6-23h0m-1 5h0m10-43h0m-7 33h0m-4 18h0m2-8h0m5-22h0m5-21h0m-2 9h0m-8 40h0m-2 9h0m6-25h0m-4 18h0m8-34h0m-16 70h0m4-17h0m6-26h0m1-4h0m2-6h0m6-25h0m-2 9h0m1-3h0m3-12h0m-21 91h0m-3 13h0m12-51h0m11-47h0m-7 33h0m0 3h0m-2 9h0m-1 5h0m5-21h0m0 2h0m1-4h0m1-2h0m6-25h0m-6 26h0m5-19h0m-5 23h0m-4 17h0m14-59h0m-12 54h0m13-54h0m-9 38h0m4-16h0m-6 28h0m10-41h0m-4 17h0m-10 42h0m18-75h0m-13 57h0m6-25h0m-3 13h0m-10 42h0m13-54h0m-7 32h0m15-62h0m-13 55h0m9-37h0m-8 34h0m10-39h0m1-4h0m-8 34h0m-6 25h0m12-48h0m-2 10h0m-5 21h0m5-20h0m3-11h0m-6 25h0m9-35h0m-5 21h0m-8 34h0m3-12h0m12-48h0m-1 5h0m-2 9h0m-7 29h0m4-16h0m-5 22h0m8-32h0m-5 22h0m3-12h0m-3 13h0m-13 53h0m25-101h0m-13 53h0m2-6h0m3-12h0m-8 33h0m4-16h0m-1 5h0m1-4h0m1-4h0m5-20h0m0 1h0m-6 25h0m2-8h0m-2 9h0m9-35h0m-14 57h0m16-64h0m1-3h0m-18 72h0m7-26h0m0 2h0m6-23h0m-16 64h0m19-75h0m1-3h0m-9 36h0m-3 12h0m3-11h0m-1 4h0m12-47h0m-2 8h0m-7 28h0m-10 40h0m6-23h0m9-35h0m2-7h0m-7 29h0m1-3h0m-4 17h0m11-43h0m-7 28h0m0 1h0m8-31h0m-13 53h0m11-42h0m6-23h0m-14 56h0m5-19h0m6-23h0m-9 36h0m8-30h0m-9 35h0m5-19h0m-1 4h0m-2 8h0m-1 4h0m12-46h0m-12 47h0m-27 105h0m21-81h0m25-96h0m-15 60h0m-3 12h0m4-15h0m-4 16h0m12-46h0m-7 29h0m-2 9h0m-16 62h0m16-61h0m-19 74h0m30-114h0m-3 12h0m-1 4h0m4-14h0m-22 84h0m9-33h0m15-57h0m-3 14h0m-6 23h0m-3 12h0m8-30h0m-13 50h0m6-20h0m7-26h0m-5 19h0m7-24h0m-1 4h0m-13 49h0m18-67h0m-5 19h0m6-22h0m-9 34h0m8-28h0m-19 73h0m21-77h0m-5 20h0m-6 24h0m8-29h0m-9 34h0m0 2h0m-6 24h0m16-57h0m-7 26h0m3-11h0m8-29h0m-8 30h0m-19 70h0m27-98h0m-4 15h0m-3 12h0m12-42h0m-13 49h0m10-36h0m-2 8h0m-6 22h0m-12 45h0m16-58h0m-4 15h0m1-2h0m5-18h0m4-13h0m-17 62h0m15-54h0m-8 30h0m2-6h0m-1 4h0m11-39h0m-9 34h0m4-14h0m1-3h0m5-17h0m-6 22h0m2-7h0m-6 22h0m7-23h0m0 1h0m1-3h0m-3 11h0m-7 26h0m2-6h0m-2 8h0m10-35h0m2-7h0m-2 8h0m-5 18h0m-3 12h0m3-10h0m4-14h0m4-14h0m4-14h0m-6 22h0m-6 22h0m-8 29h0m14-48h0m2-6h0m-1 4h0m3-10h0m-13 46h0m14-49h0m-13 47h0m11-37h0m1-2h0m-3 11h0m-11 39h0m18-62h0m-12 42h0m0 1h0m-18 63h0m24-83h0m-8 29h0m5-17h0m-2 7h0m11-38h0m-25 87h0m20-69h0m-4 14h0m-12 42h0m18-62h0m4-13h0m-6 21h0m7-24h0m-6 22h0m-4 15h0m-4 14h0m-17 59h0m25-86h0m5-14h0m-11 38h0m2-6h0m-3 11h0m9-30h0m1-3h0m-1 4h0m-6 21h0m-12 42h0m15-50h0m11-37h0m-17 59h0m15-51h0m1-3h0m0 1h0m-21 73h0m16-54h0m-9 31h0m17-56h0m-12 42h0m14-47h0m-18 62h0m17-57h0m-5 17h0m-10 34h0m4-13h0m6-20h0m10-33h0m-21 71h0m12-40h0m-8 27h0m8-24h0m-9 31h0m13-43h0m-9 31h0m-17 57h0m27-89h0m-17 58h0m3-10h0m5-16h0m-8 27h0m1 0h0m16-53h0m-2 7h0m1-3h0m-15 50h0m17-56h0m-11 37h0m8-25h0m-25 83h0m24-78h0m-5 18h0m-23 76h0m34-111h0m-2 7h0m2-5h0m-8 28h0m-3 10h0m10-31h0m3-9h0m-1 4h0m-28 92h0m15-48h0m-7 23h0m25-81h0m-13 44h0m-7 23h0m14-44h0m1-3h0m-13 43h0m11-34h0m-5 18h0m-3 10h0m12-38h0m-7 23h0m15-48h0m-23 76h0m2-6h0m6-19h0m5-16h0m-4 13h0m5-16h0m2-6h0m2-6h0m-11 36h0m13-41h0m-4 13h0m-1 4h0m-10 32h0m13-41h0m-8 26h0m6-19h0m1-3h0m2-6h0m-1 5h0m-1 4h0m4-12h0m-3 10h0m3-9h0m-17 54h0m7-22h0m1-3h0m4-12h0m-11 35h0m-14 45h0m22-68h0m-11 35h0m19-60h0m-4 13h0m-5 16h0m-6 19h0m4-12h0m1-3h0m-1 5h0m9-28h0m-1 4h0m-6 19h0m2-6h0m11-34h0m-14 44h0m14-43h0m-20 63h0m17-53h0m-3 10h0m2-6h0m-9 29h0m10-27h0m-8 25h0m9-27h0m1-3h0m-36 112h0m29-90h0m13-40h0m-9 28h0m-9 28h0m16-49h0m-11 36h0m1-3h0m-9 29h0m6-18h0m1-1h0m9-27h0m-24 74h0m18-54h0m5-15h0m-9 28h0m12-35h0m3-9h0m-12 37h0m14-42h0m-7 22h0m2-5h0m4-12h0m-16 50h0m0 1h0m4-11h0m10-30h0m-10 31h0m24-70h0m-33 100h0m23-69h0m2-6h0m-13 41h0m-1 4h0m10-30h0m4-11h0m1-3h0m-11 34h0m10-30h0m-4 13h0m2-5h0m3-9h0m-3 11h0m-1 3h0m-12 36h0m-6 18h0m13-37h0m-1 4h0m22-65h0m-25 78h0m-10 30h0m29-86h0m-16 48h0m-1 3h0m4-11h0m-6 18h0m-6 18h0m23-68h0m-3 9h0m1-2h0m-13 39h0m11-32h0m-2 6h0m-4 12h0m0 1h0m19-56h0m-22 65h0m15-44h0m-17 51h0m13-38h0m-3 9h0m-4 12h0m-5 15h0m3-8h0m8-23h0m-1 5h0m-4 12h0m-1 3h0m12-35h0m-14 41h0m14-40h0m-6 19h0m3-8h0m5-14h0m-39 114h0m16-46h0m17-49h0m-1 3h0m-4 12h0m-6 18h0m4-11h0m-3 9h0m6-16h0m-12 35h0m27-75h0m-5 16h0m-1 3h0m3-8h0m-35 101h0m23-66h0m-3 9h0m-3 9h0m15-43h0m-12 35h0m15-42h0m-1 3h0m2-5h0m0 1h0m-24 69h0m0 1h0m14-40h0m6-17h0m3-7h0m-2 6h0m-33 96h0m38-108h0m-5 15h0m6-15h0m-10 30h0m-1 4h0m-13 37h0m21-59h0m3-8h0m-9 26h0m13-33h0m-14 40h0m8-22h0m-11 31h0m12-33h0m-11 31h0m5-13h0m-5 14h0m16-44h0m-2 6h0m-15 43h0m-2 6h0m16-44h0m-2 7h0m-5 14h0m7-19h0m-6 17h0m9-25h0m-14 39h0m11-30h0m1 0h0m-10 28h0m9-24h0m0 1h0m-11 31h0m7-19h0m11-30h0m-15 42h0m11-30h0m-10 28h0m2-5h0m6-16h0m-21 58h0m15-41h0m2-4h0m7-19h0m7-18h0m-13 36h0m-3 9h0m9-22h0m-8 22h0m3-6h0m-1 3h0m2-5h0m6-16h0m-8 22h0m10-27h0m-20 55h0m17-46h0m-5 14h0m1-2h0m10-27h0m6-16h0m-19 52h0m8-21h0m-13 36h0m9-24h0m11-29h0m-34 92h0m20-53h0m8-21h0m6-16h0m-31 84h0m21-56h0m-5 15h0m3-7h0m8-21h0m3-8h0m-14 38h0m18-48h0m-17 46h0m14-36h0m-1 3h0m-1 3h0m-10 27h0m17-45h0m-27 72h0m14-37h0m5-13h0m7-17h0m-6 17h0m-7 19h0m2-5h0m-7 19h0m13-34h0m-7 19h0m16-42h0m-15 40h0m16-42h0m-14 38h0m-21 56h0m15-39h0m16-42h0m-11 30h0m14-36h0m-19 51h0m2-5h0m-15 40h0m26-68h0m-9 24h0m10-26h0m-6 16h0m-13 35h0m-24 63h0m33-86h0m0 1h0m13-34h0m-3 8h0m-28 74h0m23-60h0m-3 8h0m9-22h0m7-18h0m-41 107h0m34-88h0m-6 16h0m6-15h0m0 1h0m-6 16h0m-8 22h0m6-15h0m16-41h0m-13 34h0m11-28h0m-9 24h0m-7 20h0m15-38h0m-2 7h0m2-5h0m-13 34h0m5-12h0m2-5h0m5-12h0m6-15h0m-1 3h0m3-7h0m-12 31h0m6-15h0m2-4h0m-27 69h0m6-15h0m14-35h0m-21 54h0m11-28h0m18-45h0m1-1h0m10-25h0m-27 69h0m14-35h0m6-14h0m-19 49h0m21-53h0m-16 41h0m24-60h0m-9 23h0m-11 28h0m12-28h0m-14 36h0m12-30h0m1-2h0m-9 23h0m6-15h0m6-15h0m-12 31h0m12-30h0m-25 64h0m23-56h0m-15 39h0m12-29h0m-6 15h0m2-3h0m-2 5h0m10-22h0m-8 20h0m-16 40h0m11-27h0m7-15h0m22-54h0m-17 42h0m-10 25h0m20-49h0m-21 53h0m6-14h0m-5 13h0m11-27h0m8-19h0m-22 55h0m9-22h0m7-17h0m-6 15h0m-12 30h0m20-49h0m-18 45h0m18-43h0m-2 6h0m-6 15h0m14-34h0m-20 49h0m8-19h0m10-24h0m-10 25h0m10-24h0m-2 5h0m7-17h0m-30 74h0m21-51h0m7-17h0m-18 44h0m1-1h0m-6 15h0m18-43h0m8-19h0m-14 34h0m12-29h0m-16 39h0m17-40h0m-7 17h0m2-4h0m5-12h0m-17 42h0m17-41h0m-7 17h0m-6 15h0m-1 3h0m15-36h0m1-2h0m-17 41h0m10-24h0m-7 17h0m8-19h0m-7 17h0m11-26h0m-13 32h0m16-38h0m-17 41h0m13-31h0m-12 29h0m12-28h0m-10 24h0m6-14h0m7-16h0m-12 30h0m18-43h0m-12 29h0m8-19h0m-17 41h0m12-28h0m1-2h0m-12 29h0m11-26h0m-17 41h0m24-57h0m-18 43h0m24-57h0m-10 25h0m2-4h0m-15 36h0m22-50h0m-8 19h0m-1 3h0m-13 31h0m17-39h0m-5 13h0m0 2h0m9-20h0m-14 33h0m-4 10h0m-8 19h0m6-14h0m4-9h0m12-28h0m-23 54h0m21-49h0m3-7h0m4-9h0m-4 10h0m-14 33h0m12-28h0m-8 19h0m13-30h0m-2 5h0m-14 33h0m-5 12h0m19-44h0m-20 47h0m3-7h0m20-45h0m2-4h0m-14 33h0m13-30h0m5-10h0m-5 12h0m-4 10h0m-8 19h0m8-17h0m5-11h0m-24 57h0m23-53h0m-17 40h0m18-41h0m-12 28h0m12-26h0m-15 37h0m-2 5h0m1-2h0m7-16h0m-3 9h0m-30 70h0m29-66h0m11-25h0m-14 32h0m7-15h0m-2 5h0m11-25h0m-7 16h0m5-11h0m-21 48h0m16-36h0m-33 75h0m31-69h0m16-36h0m-22 50h0m23-52h0m-4 10h0m-38 86h0m29-64h0m5-11h0m-10 23h0m17-38h0m-13 30h0m14-31h0m-7 16h0m4-9h0m6-13h0m-15 34h0m-5 12h0m13-29h0m-2 5h0m1-2h0m-11 25h0m21-47h0m-16 36h0m-8 18h0m13-29h0m-7 16h0m1-2h0m-2 5h0m4-8h0m5-11h0m1 0h0m10-21h0m-9 21h0m3-6h0m-62 138h0m59-131h0m-5 12h0m-8 18h0m14-30h0m-8 18h0m-8 18h0m24-53h0m-14 31h0m1-2h0m6-12h0m2-4h0m3-6h0m-36 80h0m25-54h0m7-15h0m-32 71h0m36-79h0m-9 20h0m15-32h0m-4 9h0m-5 12h0m1-2h0m-8 18h0m8-16h0m7-14h0m-16 35h0m1-1h0m1-2h0m9-19h0m-11 24h0m-14 31h0m25-54h0m-6 14h0m-15 33h0m15-32h0m12-26h0m-11 24h0m18-39h0m-21 47h0m-5 11h0m19-41h0m-23 50h0m27-58h0m-8 19h0m13-28h0m-20 44h0m1-2h0m14-30h0m-6 13h0m8-16h0m-14 31h0m13-27h0m-18 39h0m15-32h0m-20 43h0m21-44h0m1-2h0m-5 11h0m-7 15h0m7-14h0m2-4h0m-10 22h0m19-40h0m-1 4h0m-7 16h0m-11 24h0m3-5h0m2-4h0m16-33h0m-23 49h0m17-36h0m-16 34h0m18-38h0m-6 13h0m-14 30h0m22-46h0m-17 36h0m19-40h0m-6 13h0m-3 7h0m-5 11h0m11-23h0m6-12h0m-17 36h0m-25 53h0m55-115h0m-14 30h0m-15 32h0m-6 13h0m3-6h0m-14 30h0m23-48h0m-10 21h0m3-6h0m16-32h0m-21 44h0m3-6h0m11-23h0m9-18h0m-3 7h0m-4 9h0m-11 23h0m17-35h0m-17 36h0m-17 37h0m17-34h0m14-28h0m3-6h0m1-2h0m-12 26h0m0 1h0m11-22h0m7-14h0m-17 36h0m7-14h0m4-8h0m-13 27h0m1-2h0m18-37h0m-11 23h0m18-36h0m-66 136h0m39-80h0m4-8h0m-5 11h0m19-38h0m-18 37h0m5-10h0m-18 37h0m28-57h0m6-12h0m-10 21h0m-5 12h0m9-17h0m-13 27h0m16-31h0m-15 31h0m3-6h0m1-2h0m12-23h0m-30 61h0m16-32h0m-1 3h0m2-4h0m14-28h0m-11 23h0m6-12h0m-10 21h0m3-6h0m15-30h0m2-4h0m4-8h0m9-18h0m-30 61h0m10-20h0m10-20h0m-25 51h0m6-12h0m8-16h0m5-10h0m1-1h0m-6 13h0m-9 20h0m12-24h0m3-6h0m8-16h0m-3 7h0m-7 15h0m5-8h0m-16 32h0m-1 2h0m19-36h0m-34 68h0m-6 12h0m42-83h0m-17 34h0m-2 4h0m-5 10h0m18-35h0m-11 22h0m-1 2h0m17-32h0m-7 14h0m-11 22h0m20-38h0m-18 36h0m10-19h0m-6 12h0m15-29h0m-14 28h0m-2 4h0m-3 6h0m11-21h0m6-11h0m-1 2h0m-10 21h0m16-31h0m-2 4h0m-18 37h0m11-20h0m-5 11h0m-22 43h0m28-54h0m-5 11h0m-1 2h0m14-27h0m-7 14h0m-11 22h0m17-33h0m2-3h0m-13 26h0m6-11h0m1 0h0m4-7h0m11-21h0m-5 10h0m-6 12h0m-15 29h0m-4 9h0m8-15h0m58 6h0m-1 2h0m-13 22h0m15-25h0m-18 31h0m14-23h0m6-10h0m-1 2h0m-20 35h0m7-11h0m-6 10h0m-31 52h0m37-61h0m10-16h0m-10 17h0m-10 18h0m20-33h0m-9 15h0m14-23h0m7-11h0m-9 15h0m-15 25h0m13-21h0m-9 15h0m-6 10h0m16-26h0m11-18h0m-23 38h0m11-18h0m-18 30h0m9-14h0m-1 2h0m-12 20h0m5-8h0m16-26h0m-13 22h0m19-31h0m-15 25h0m2-3h0m11-18h0m7-10h0m-7 12h0m-12 20h0m-44 73h0m59-96h0m-3 6h0m4-6h0m-12 20h0m17-27h0m-9 15h0m-24 40h0m18-29h0m-2 4h0m10-16h0m-11 18h0m15-24h0m-3 5h0m-1 2h0m-7 12h0m13-21h0m-3 5h0m-3 5h0m-35 58h0m13-20h0m35-56h0m-11 19h0m1-1h0m-10 17h0m29-46h0m-19 31h0m7-11h0m-1 4h0m-42 68h0m24-38h0m3-4h0m34-54h0m-31 50h0m12-19h0m2-3h0m-12 20h0m-8 14h0m-53 85h0m62-98h0m12-19h0m-1 3h0m-10 16h0m7-11h0m7-11h0m-1 2h0m7-11h0m-20 32h0m-41 65h0m51-78h0m-8 13h0m1 0h0m-1 2h0m8-12h0m5-7h0m-14 22h0m-1 2h0m4-6h0m-14 22h0m10-15h0m4-6h0m-3 5h0m2-3h0m9-14h0m-7 12h0m9-14h0m0 1h0m1-1h0m-19 30h0m6-9h0m11-17h0m-7 11h0m-3 5h0m2-3h0m13-20h0m-14 22h0m2-3h0m-7 11h0m8-12h0m-9 14h0m22-34h0m-25 39h0m10-15h0m12-18h0m-2 4h0m-8 14h0m-9 14h0m30-46h0m-12 19h0m-9 14h0m1-1h0m13-19h0m-11 17h0m8-12h0m4-6h0m-13 20h0m8-12h0m6-9h0m3-4h0m7-9h0m-9 14h0m-1 2h0m-11 17h0m-1 2h0m8-12h0m3-4h0m-1 2h0m6-9h0m-17 26h0m10-15h0m-15 23h0m4-6h0m4-6h0m-3 5h0m10-15h0m2-2h0m6-9h0m-36 55h0m31-47h0m-17 26h0m8-12h0m-3 5h0m17-25h0m-28 43h0m28-42h0m-19 30h0m14-21h0m7-10h0m-13 21h0m-25 38h0m20-30h0m12-18h0m-29 44h0m33-49h0m7-10h0m3-4h0m-13 20h0m16-24h0m-15 23h0m-7 12h0m7-10h0m-8 12h0m-1 2h0m12-17h0m-2 3h0m3-4h0m-10 15h0m-97 145h0m95-140h0m-3 5h0m14-20h0m6-8h0m-6 9h0m3-4h0m-1 2h0m-12 19h0m-12 18h0m32-47h0m-3 5h0m-14 21h0m18-26h0m-2 3h0m-14 21h0m-8 12h0m5-7h0m15-22h0m-16 24h0m-5 8h0m-6 9h0m9-13h0m5-7h0m12-17h0m-2 3h0m6-7h0m-28 41h0m14-20h0m-5 8h0m26-38h0m5-7h0m-15 22h0m-15 22h0m14-20h0m-28 41h0m33-48h0m-12 18h0m-1 2h0m-1 2h0m-15 23h0m1-1h0m29-42h0m6-8h0m-10 15h0m16-23h0m-24 35h0m14-20h0m-13 19h0m-11 16h0m7-10h0m-6 9h0m18-26h0m16-23h0m-1 3h0m-5 8h0m-18 26h0m16-23h0m8-11h0m-2 3h0m-9 13h0m-25 37h0m23-33h0m0 1h0m5-7h0m-18 26h0m5-7h0m21-30h0m-40 58h0m28-40h0m-13 19h0m5-7h0m13-18h0m-15 23h0m17-24h0m15-21h0m17-24h0m-56 80h0m10-14h0m8-11h0m-7 10h0m-4 7h0m24-34h0m-23 33h0m3-4h0m-4 6h0m-2 3h0m-3 5h0m29-41h0m-6 9h0m-14 20h0m12-16h0m4-5h0m-1 2h0m1-1h0m-14 20h0m40-55h0m-31 44h0m3-4h0m-12 17h0m-7 10h0m20-28h0m-53 75h0m52-73h0m-2 3h0m2-2h0m-2 3h0m6-8h0m8-10h0m-37 52h0m37-51h0m-20 28h0m-2 3h0m-2 3h0m16-22h0m-15 21h0m31-43h0m-27 38h0m14-19h0m1-1h0m-19 27h0m16-22h0m-15 21h0m3-4h0m-4 6h0m17-23h0m-22 31h0m18-25h0m10-13h0m-18 25h0m13-18h0m-23 32h0m31-43h0m-20 28h0m8-11h0m8-11h0m-67 93h0m50-69h0m-15 21h0m24-33h0m12-16h0m3-4h0m-12 18h0m-12 17h0m-8 12h0m38-52h0m-36 50h0m24-32h0m-6 9h0m-7 10h0m-2 3h0m15-20h0m-5 7h0m-12 17h0m19-26h0m-14 20h0m18-24h0m-19 26h0m1-1h0m-13 18h0m14-18h0m-4 6h0m12-16h0m12-15h0m-8 11h0m-27 37h0m42-57h0m-8 11h0m-10 14h0m-29 40h0m32-42h0m-9 13h0m-22 30h0m30-40h0m20-26h0m-20 27h0m6-8h0m6-8h0m-22 30h0m16-21h0m6-8h0m-20 27h0m-20 27h0m29-39h0m-11 15h0m-37 50h0m52-70h0m-13 18h0m2-2h0m12-16h0m-4 6h0m-7 10h0m12-16h0m6-8h0m6-8h0m-16 22h0m8-10h0m-5 7h0m9-12h0m-22 30h0m16-21h0m16-21h0m-20 27h0m-26 35h0m9-12h0m1-1h0m19-25h0m-11 15h0m25-33h0m-12 16h0m-5 7h0m18-23h0m-16 22h0m-9 12h0m8-10h0m10-13h0m-2 3h0m-3 4h0m-14 19h0m19-25h0m-9 12h0m4-5h0m-2 3h0m-2 3h0m-12 16h0m-3 4h0m7-9h0m1-1h0m-6 8h0m21-27h0m-3 4h0m-3 4h0m-15 20h0m17-22h0m-18 24h0m35-46h0m-19 26h0m-12 16h0m17-22h0m-17 23h0m-9 12h0m14-18h0m-3 4h0m21-27h0m-17 23h0m15-19h0m-40 53h0m33-43h0m7-9h0m-14 19h0m14-18h0m-6 8h0m-9 12h0m15-19h0m-22 29h0m30-39h0m-21 28h0m11-14h0m-3 4h0m18-23h0m-34 45h0m8-10h0m-3 4h0m12-15h0m-11 15h0m17-21h0m-71 92h0m69-89h0m7-9h0m-17 23h0m-3 4h0m31-40h0m-20 26h0m-13 17h0m14-17h0m7-9h0m-18 24h0m12-15h0m-17 22h0m4-5h0m4-5h0m-20 26h0m18-23h0m2-2h0m1-1h0m-3 4h0m11-14h0m-9 12h0m-7 9h0m-21 27h0m44-56h0m-3 4h0m-57 73h0m44-56h0m-3 4h0m-7 9h0m28-35h0m-5 7h0m-28 36h0m33-42h0m-5 7h0m5-6h0m-24 31h0m20-25h0m4-5h0m-14 18h0m-4 6h0m-13 18h0m15-18h0m-11 14h0m14-17h0m20-25h0m-21 27h0m-3 4h0m23-29h0m-6 8h0m4-5h0m-15 19h0m12-15h0m-43 55h0m1-1h0m31-38h0m-31 39h0m27-33h0m12-15h0m11-13h0m-47 59h0m-31 39h0m79-99h0m-11 14h0m4-4h0m8-10h0m-19 24h0m-10 13h0m10-12h0m13-16h0m1-1h0m9-11h0m-4 5h0m-4 5h0m1-1h0m-20 25h0m0 1h0m26-32h0m-57 71h0m45-55h0m18-22h0m-2 3h0m-9 12h0m-6 8h0m-36 45h0m44-54h0m27-33h0m-46 57h0m-8 10h0m22-27h0m5-6h0m-4 5h0m24-29h0m-34 43h0m15-18h0m-21 27h0m23-28h0m-4 5h0m-12 15h0m-4 5h0m-12 15h0m14-17h0m1-1h0m-3 4h0m1-1h0m36-44h0m-17 21h0m-30 37h0m14-17h0m40-49h0m-39 48h0m14-17h0m-15 19h0m15-18h0m14-17h0m2-2h0m-21 26h0m-9 11h0m-57 70h0m68-83h0m-13 16h0m19-23h0m-4 5h0m-13 16h0m-17 21h0m19-22h0m23-28h0m-15 19h0m-23 28h0m28-34h0m15-17h0m-42 51h0m43-52h0m-60 73h0m64-77h0m10-12h0m-42 52h0m-10 13h0m24-29h0m1-1h0m-4 5h0m-9 11h0m-2 3h0m1-1h0m1-1h0m25-30h0m5-6h0m-46 56h0m25-30h0m30-36h0m-52 63h0m22-26h0m4-4h0m-3 4h0m-18 22h0m18-21h0m7-8h0m-19 23h0m16-19h0m-3 4h0m3-3h0m-27 33h0m25-29h0m16-19h0m-24 29h0m11-13h0m18-21h0m29-34h0m-104 124h0m45-53h0m3-2h0m-4 5h0m12-14h0m-14 17h0m15-17h0m3-3h0m-87 103h0m88-104h0m-16 19h0m20-23h0m1-1h0m-21 25h0m-10 12h0m29-34h0m0 1h0m3-3h0m30-35h0m-26 31h0m3-3h0m-8 10h0m-16 19h0m1-1h0m58-68h0m-58 69h0m-3 4h0m37-43h0m-23 27h0m7-8h0m-21 25h0m1-1h0m1-1h0m3-3h0m13-15h0m-16 19h0m67-78h0m-96 112h0m63-73h0m-30 35h0m11-12h0m-42 49h0m49-57h0m-6 7h0m1-1h0m-17 21h0m2-2h0m-18 21h0m18-20h0m23-26h0m-31 36h0m26-30h0m-18 22h0m13-15h0m-8 10h0m13-15h0m-5 6h0m2-2h0m-71 82h0m58-66h0m20-23h0m-23 27h0m7-8h0m14-16h0m0 1h0m-5 6h0m-26 30h0m15-17h0m16-18h0m-13 15h0m-4 5h0m30-34h0m-5 6h0m-12 14h0m1 0h0m3-3h0m51-58h0m-33 38h0m-13 15h0m-17 20h0m-2 3h0m3-3h0m-14 16h0m15-17h0m-5 6h0m53-60h0m-50 57h0m1-1h0m1-1h0m15-17h0m-6 7h0m-8 10h0m67-75h0m-58 66h0m50-56h0m-38 43h0m-20 23h0m10-11h0m-23 26h0m6-6h0m16-18h0m2-2h0m-10 12h0m11-12h0m-12 14h0m-3 4h0m1-1h0m20-22h0m-20 23h0m2-2h0m-15 17h0m26-29h0m1-1h0m2-2h0m-13 15h0m17-19h0m-16 18h0m-5 6h0m-9 11h0m-24 27h0m52-58h0m10-11h0m-6 7h0m-32 36h0m116-129h0m-91 102h0m4-4h0m28-31h0m-52 58h0m9-10h0m13-14h0m16-17h0m-17 19h0m4-4h0m-16 18h0m-17 19h0m62-68h0m-53 59h0m5-5h0m21-23h0m-1 2h0m4-4h0m-35 39h0m20-22h0m15-16h0m-15 17h0m28-29h0m-18 20h0m1-1h0m0 2h0m1-1h0m-17 20h0m3-3h0m1-1h0m13-14h0m-13 15h0m55-59h0m-54 59h0m2-2h0m-11 12h0m23-25h0m-11 12h0m2-2h0m23-24h0m-13 15h0m12-13h0m-5 6h0m-21 23h0m18-19h0m-36 39h0m53-57h0m-18 20h0m-16 18h0m3-3h0m-9 10h0m31-33h0m-24 26h0m27-29h0m-22 24h0m32-34h0m-16 18h0m3-3h0m-39 42h0m18-19h0m16-17h0m-1 2h0m-2 4h0m-9 10h0m53-56h0m-57 61h0m3-3h0m15-16h0m-14 15h0m30-32h0m-13 15h0m-7 8h0m-10 11h0m-4 5h0m1-1h0m2-2h0m32-34h0m-18 20h0m2-2h0m17-18h0m-31 33h0m2-2h0m9-9h0m-12 13h0m17-18h0m-2 3h0m-11 12h0m-29 31h0m27-28h0m19-19h0m-18 19h0m15-15h0m2-2h0m-22 24h0m45-47h0m-26 28h0m25-26h0m-40 42h0m5-4h0m23-24h0m-25 27h0m15-15h0m-15 16h0m2-2h0m-20 21h0m30-31h0m1 0h0m-9 10h0m17-17h0m-16 17h0m0 1h0m9-9h0m40-41h0m-51 53h0m-2 3h0m1-1h0m2-2h0m2-2h0m9-9h0m-16 17h0m1-1h0m3-3h0m2-2h0m17-17h0m2-2h0m-20 21h0m2-2h0m1-1h0m16-16h0m-23 24h0m44-45h0m-22 23h0m8-8h0m8-8h0m-33 34h0m19-19h0m-15 16h0m55-56h0m-38 39h0m11-11h0m-28 29h0m-24 25h0m19-19h0m19-19h0m-14 15h0m-16 17h0m11-11h0m7-7h0m9-9h0m3-3h0m4-4h0m-4 5h0m-16 18h0m1-1h0m20-20h0m10-10h0m3-3h0m-5 6h0m-27 28h0m13-13h0m2-2h0m7-7h0m-7 8h0m4-4h0m-33 34h0m6-6h0m3-3h0m6-6h0m13-13h0m1-1h0m6-6h0m8-8h0m-47 48h0m12-12h0m12-12h0m22-21h0m1-1h0m2-2h0m-13 14h0m6-6h0m-22 23h0m4-3h0m40-39h0m-14 14h0m-2 2h0m-13 13h0m-9 9h0m-18 18h0m34-33h0m-6 6h0m59-58h0m-48 48h0m6-5h0m-16 16h0m-19 19h0m20-18h0m-18 18h0m-15 15h0m37-36h0m-4 4h0m-13 13h0m19-18h0m-14 14h0m15-14h0m-3 3h0m9-8h0m-4 4h0m-3 3h0m-13 13h0m-3 3h0m15-14h0m23-22h0m-7 7h0m-5 5h0m-9 9h0m-2 2h0m-2 2h0m24-23h0m-11 11h0m-6 6h0m2-1h0m-18 18h0m-3 3h0m25-24h0m-45 44h0m24-23h0m15-14h0m-1 1h0m-13 13h0m-4 4h0m20-19h0m-15 16h0m-3 3h0m12-11h0m20-19h0m-19 19h0m-9 9h0m-4 4h0m23-22h0m-5 5h0m-3 4h0m-1 1h0m-9 9h0m-4 4h0m-3 3h0m-6 6h0m22-21h0m-14 14h0m27-26h0m-7 7h0m-14 14h0m-1 1h0m11-10h0m0 1h0m-9 9h0m-4 5h0m23-22h0m-4 4h0m13-12h0m-27 26h0m-2 2h0m23-22h0m-24 23h0m14-13h0m-2 2h0m5-3h0m-2 2h0m18-16h0m-16 16h0m-12 12h0m17-16h0m-20 19h0m13-12h0m-9 9h0m17-16h0m-1 1h0m-6 6h0m14-13h0m-24 23h0m25-23h0m-27 26h0m12-11h0m16-15h0m8-7h0m-36 34h0m-1 1h0m49-46h0m-35 33h0m8-7h0m-5 5h0m-3 3h0m6-5h0m-19 19h0m-1 1h0m15-14h0m7-6h0m13-12h0m-32 30h0m-5 5h0m7-6h0m-3 4h0m22-20h0m-16 15h0m9-8h0m-9 9h0m-13 13h0m42-38h0m-6 6h0m-2 2h0m4-3h0m-23 22h0m-15 14h0m10-9h0m4-3h0m13-12h0m-27 25h0m11-10h0m-1 1h0m38-35h0m-15 14h0m-2 2h0m-15 14h0m56-50h0m-39 36h0m22-20h0m-19 18h0m-25 23h0m2-1h0m23-21h0m35-32h0m-40 37h0m-13 12h0m10-9h0m-1 1h0m1 0h0m-14 13h0m20-18h0m-4 4h0m11-10h0m-6 6h0m-6 6h0m-9 9h0m9-8h0m3-1h0m-11 10h0m18-16h0m-5 5h0m-1 1h0m8-7h0m-23 21h0m21-19h0m-22 20h0m5-4h0m16-13h0m-6 6h0m-13 12h0m18-16h0m-2 2h0m-12 11h0m29-26h0m-6 6h0m-23 21h0m2 1h0m18-16h0m-3 3h0m7-6h0m-24 24h0m43-38h0m-46 41h0m16-14h0m-10 9h0m17-15h0m18-16h0m-20 18h0m5-4h0m-9 8h0m-18 16h0m22-19h0m-1 1h0m-18 16h0m24-21h0m-19 17h0m-20 18h0m35-31h0m-17 16h0m14-12h0m17-15h0m-27 24h0m15-13h0m-5 5h0m16-14h0m-13 12h0m-3 3h0m-9 8h0m-7 7h0m6-5h0m24-21h0m8-7h0m-18 16h0m-13 12h0m-6 7h0m4-3h0m20-17h0m-24 21h0m27-23h0m-18 16h0m-16 14h0m29-24h0m-1 1h0m-17 15h0m2-1h0m21-18h0m6-5h0m-23 20h0m-4 4h0m15-13h0m-14 13h0m-1 1h0m5-4h0m22-19h0m-24 21h0m12-10h0m-11 10h0m21-18h0m-8 7h0m-11 10h0m-4 4h0m0 1h0m4-3h0m-17 15h0m14-12h0m-1 1h0m24-20h0m-8 7h0m6-5h0m-6 6h0m-16 14h0m18-15h0m-1 1h0m-1 1h0m-10 9h0m-4 4h0m34-29h0m-15 13h0m-14 12h0m17-14h0m-7 6h0m13-11h0m-29 25h0m20-17h0m6-5h0m-7 6h0m-12 11h0m-8 7h0m20-17h0m-2 2h0m10-8h0m-20 17h0m11-9h0m-14 12h0m18-15h0m3-2h0m-20 17h0m13-11h0m-20 17h0m11-9h0m-5 5h0m17-14h0m-26 22h0m38-32h0m-26 22h0m25-20h0m21 54h0m-8 6h0m31-23h0m-8 6h0m7-4h0m-6 5h0m-33 25h0m30-22h0m-1 1h0m15-11h0m-31 24h0m-20 15h0m26-19h0m18-13h0m-46 34h0m6-4h0m21-15h0m31-22h0m-53 39h0m49-36h0m-28 21h0m33-24h0m-34 25h0m15-11h0m10-7h0m-61 45h0m66-48h0m-27 20h0m26-19h0m-34 25h0m37-27h0m-27 20h0m43-31h0m-42 31h0m14-10h0m-26 19h0m58-42h0m-52 38h0m-4 3h0m29-21h0m6-4h0m7-5h0m-16 12h0m-15 11h0m17-12h0m21-15h0m-38 28h0m-11 8h0m24-17h0m3-2h0m-20 15h0m21-15h0m-4 3h0m6-4h0m-8 6h0m7-5h0m-33 24h0m36-26h0m3-2h0m-11 9h0m-11 8h0m10-7h0m-20 15h0m28-20h0m-18 13h0m21-15h0m-5 4h0m7-5h0m-4 3h0m3-2h0m-11 8h0m-75 54h0m59-42h0m-15 11h0m21-15h0m0 1h0m1 0h0m-12 9h0m35-25h0m24-17h0m-81 58h0m45-32h0m14-10h0m-32 23h0m24-17h0m-22 16h0m16-11h0m13-9h0m-28 20h0m27-19h0m-1 1h0m-33 24h0m27-19h0m-25 18h0m6-4h0m17-12h0m-18 13h0m17-12h0m10-7h0m-22 16h0m23-16h0m-27 20h0m41-29h0m-35 25h0m10-7h0m-24 17h0m-55 39h0m65-46h0m-15 12h0m3-2h0m27-19h0m-24 17h0m30-21h0m29-20h0m-28 20h0m13-9h0m-44 31h0m10-7h0m16-11h0m-1 1h0m20-14h0m-44 31h0m47-33h0m-17 12h0m-18 13h0m-7 5h0m20-14h0m-24 17h0m3-2h0m10-7h0m-9 7h0m3-2h0m19-13h0m5-3h0m-7 5h0m-21 15h0m6-4h0m43-30h0m-18 13h0m-20 14h0m-10 8h0m26-18h0m92-64h0m-132 92h0m-10 7h0m59-41h0m-40 28h0m15-10h0m12-8h0m-43 30h0m19-13h0m13-9h0m59-41h0m-89 62h0m16-11h0m37-25h0m-23 16h0m-5 4h0m-2 2h0m58-40h0m-39 27h0m3-2h0m-2 2h0m-1 1h0m-10 7h0m-13 9h0m48-33h0m-24 17h0m13-8h0m-13 9h0m35-24h0m-17 12h0m-28 20h0m-5 4h0m-27 19h0m47-32h0m13-8h0m-29 20h0m-8 6h0m5-2h0m2-1h0m-16 11h0m31-21h0m-10 7h0m30-20h0m-16 11h0m-23 16h0m-38 26h0m34-23h0m31-21h0m-40 28h0m15-10h0m5-3h0m3-2h0m-13 9h0m5-3h0m48-32h0m-58 40h0m-28 19h0m61-41h0m-3 3h0m-16 11h0m57-38h0m-68 46h0m45-30h0m-32 22h0m22-14h0m14-9h0m-13 9h0m-22 15h0m-18 13h0m21-14h0m12-8h0m20-13h0m-12 8h0m-3 2h0m-24 16h0m26-17h0m-21 14h0m14-9h0m-12 8h0m29-19h0m-4 3h0m5-3h0m-12 8h0m-3 2h0m-27 18h0m35-23h0m-1 1h0m-24 16h0m1 0h0m35-23h0m-9 6h0m8-5h0m-12 8h0m-18 12h0m-9 6h0m4-2h0m27-17h0m-21 14h0m-30 20h0m41-27h0m23-15h0m-36 24h0m31-20h0m-6 4h0m-44 29h0m20-13h0m-3 2h0m35-23h0m-30 20h0m-15 10h0m37-24h0m-3 2h0m-35 23h0m7-4h0m-8 6h0m2-1h0m5-3h0m22-14h0m-35 23h0m43-28h0m24-15h0m-55 36h0m40-26h0m17-11h0m-44 29h0m20-13h0m-26 17h0m5-3h0m-6 4h0m18-11h0m-20 14h0m30-19h0m-20 13h0m19-12h0m-20 13h0m-6 4h0m25-16h0m-20 13h0m-3 2h0m16-10h0m-18 12h0m31-20h0m-23 15h0m11-7h0m-15 10h0m-4 3h0m3-1h0m28-18h0m-34 22h0m22-14h0m1 0h0m13-8h0m-3 2h0m11-7h0m-9 6h0m-31 20h0m25-16h0m-28 18h0m11-7h0m11-7h0m11-7h0m-23 15h0m47-30h0m-34 22h0m11-7h0m7-4h0m-3 2h0m-26 17h0m11-7h0m-48 31h0m22-14h0m35-22h0m-41 27h0m41-26h0m-8 6h0m-11 7h0m-5 4h0m19-12h0m-28 18h0m7-4h0m19-12h0m38-24h0m-52 33h0m17-10h0m13-8h0m2-1h0m-28 18h0m18-11h0m-22 14h0m15-9h0m15-8h0m48-30h0m-82 52h0m83-52h0m-76 48h0m13-8h0m23-14h0m-12 8h0m-25 16h0m-1 1h0m5-3h0m1 0h0m-19 12h0m4-2h0m15-9h0m-8 5h0m37-23h0m-11 7h0m-4 3h0m-3 2h0m-16 10h0m1 0h0m25-15h0m-37 23h0m28-17h0m-21 13h0m39-24h0m-29 18h0m20-12h0m2-1h0m-29 18h0m18-11h0m-11 7h0m-51 32h0m43-26h0m20-12h0m10-6h0m-47 29h0m43-26h0m-27 17h0m5-3h0m-19 12h0m12-7h0m58-35h0m-70 43h0m18-11h0m18-11h0m7-4h0m4-2h0m-29 18h0m30-18h0m-39 24h0m10-6h0m-31 19h0m38-23h0m-6 4h0m-8 5h0m43-26h0m-3 2h0m-3 2h0m10-6h0m-21 13h0m-18 11h0m-13 8h0m50-30h0m-13 8h0m20-12h0m-49 30h0m-4 3h0m40-24h0m-28 17h0m-16 10h0m35-21h0m-3 2h0m10-6h0m10-6h0m-38 23h0m25-15h0m-18 11h0m17-10h0m-29 18h0m30-18h0m-3 2h0m-48 29h0m32-19h0m-16 10h0m15-9h0m14-8h0m5-3h0m90-54h0m-111 67h0m5-3h0m-13 8h0m8-4h0m27-16h0m-10 6h0m-30 18h0m49-29h0m-18 11h0m2-1h0m-3 2h0m-11 7h0m-15 9h0m-20 12h0m36-21h0m-20 12h0m-3 2h0m34-20h0m-23 14h0m25-14h0m12-7h0m-35 21h0m-1 1h0m12-7h0m19-11h0m17-10h0m-25 15h0m-11 7h0m14-8h0m17-10h0m-30 18h0m-15 9h0m34-20h0m-8 5h0m6-3h0m-5 3h0m38-22h0m-39 23h0m12-7h0m-37 22h0m36-21h0m2-1h0m42-24h0m-45 27h0m-30 18h0m2-1h0m-5 3h0m31-18h0m2-1h0m-30 18h0m41-24h0m-30 18h0m-10 6h0m-3 2h0m24-14h0m14-8h0m-53 31h0m43-25h0m2-1h0m-17 10h0m12-7h0m-22 13h0m38-22h0m9-5h0m-12 7h0m-36 21h0m-3 2h0m-36 21h0m62-36h0m2-1h0m2-1h0m-29 17h0m-12 7h0m141-82h0m-115 67h0m40-23h0m-43 25h0m21-12h0m-29 17h0m-105 61h0m155-90h0m-1 1h0m-24 14h0m19-11h0m-48 28h0m28-15h0m1 0h0m2-1h0m9-5h0m29-16h0m-31 18h0m-10 6h0m14-8h0m-25 15h0m-19 11h0m11-6h0m9-5h0m-33 19h0m54-31h0m-5 3h0m-5 3h0m-62 36h0m51-29h0m28-16h0m-5 3h0m14-8h0m-54 31h0m33-18h0m2-1h0m-42 24h0m39-22h0m9-5h0m44-25h0m-77 44h0m32-18h0m-28 16h0m6-3h0m11-6h0m-15 9h0m16-8h0m10-5h0m-21 12h0m131-74h0m-111 63h0m5-2h0m-44 25h0m13-7h0m18-10h0m-10 7h0m16-9h0m-39 22h0m41-23h0m-32 18h0m25-14h0m2-1h0m2-1h0m-24 14h0m9-5h0m11-6h0m-14 8h0m-12 7h0m36-20h0m-3 2h0m-5 3h0m-12 7h0m52-29h0m-41 23h0m13-7h0m-46 26h0m11-6h0m4-2h0m18-10h0m3-1h0m13-7h0m-5 3h0m-32 18h0m45-25h0m-23 13h0m9-5h0m-23 13h0m42-23h0m-25 14h0m-14 8h0m24-13h0m-12 7h0m-74 41h0m56-31h0m3-1h0m-7 4h0m11-6h0m-9 5h0m29-16h0m-63 35h0m29-16h0m29-16h0m-21 12h0m6-3h0m11-6h0m15-8h0m15-8h0m-27 15h0m-29 16h0m33-18h0m3-1h0m2-1h0m2-1h0m-7 4h0m-43 24h0m48-26h0m-8 5h0m6-3h0m-31 17h0m-7 4h0m11-6h0m8-4h0m-14 8h0m39-21h0m-9 5h0m-15 9h0m24-13h0m-33 18h0m39-21h0m-33 18h0m26-14h0m-11 6h0m37-20h0m-33 18h0m-22 12h0m17-9h0m-31 17h0m37-20h0m2-1h0m-3 2h0m74-40h0m-110 60h0m39-21h0m-20 11h0m-7 4h0m26-14h0m-3 2h0m4-2h0m-33 18h0m38-20h0m-23 13h0m27-14h0m-26 14h0m-6 4h0m19-10h0m17-9h0m34-18h0m-39 21h0m-7 4h0m-5 3h0m-24 13h0m-7 4h0m15-8h0m15-8h0m-41 22h0m30-16h0m-7 4h0m38-20h0m-9 5h0m-11 6h0m10-5h0m15-8h0m-43 23h0m-1 1h0m-1 1h0m47-25h0m-11 6h0m-15 8h0m-11 6h0m-1 1h0m-18 10h0m38-20h0m-18 10h0m-1 1h0m-17 9h0m29-15h0m8-4h0m-47 25h0m26-13h0m29-15h0m21-11h0m-51 27h0m21-11h0m2-1h0m-30 16h0m8-4h0m18-9h0m-89 47h0m102-53h0m-32 17h0m48-25h0m-10 6h0m-19 10h0m-3 2h0m-15 8h0m-42 22h0m33-17h0m6-3h0m6-3h0m14-7h0m-12 7h0m31-16h0m-48 25h0m2-1h0m31-16h0m2-1h0m-38 20h0m53-27h0m29-15h0m-17 9h0m-49 26h0m33-17h0m2-1h0m-41 22h0m37-19h0m12-6h0m-59 31h0m14-7h0m-7 4h0m10-5h0m2-1h0m37-19h0m-23 12h0m-11 6h0m-33 17h0m18-9h0m15-7h0m20-10h0m4-2h0m-68 35h0m41-21h0m24-12h0m-40 21h0m20-10h0m-9 5h0m4-2h0m4-2h0m21-10h0m1 0h0m-43 22h0m8-4h0m6-3h0m7-3h0m-5 3h0m18-9h0m10-5h0m-27 14h0m24-12h0m-33 17h0m16-8h0m14-7h0m10-5h0m-33 17h0m20-10h0m10-5h0m12-6h0m2-1h0m-51 26h0m28-14h0m14-7h0m-33 17h0m18-9h0m-27 14h0m11-5h0m24-12h0m-7 4h0m-11 6h0m14-7h0m-49 25h0m28-14h0m26-13h0m12-6h0m-55 28h0m24-12h0m20-10h0m6-3h0m-5 3h0m-9 5h0m-14 7h0m-12 6h0m36-17h0m-28 14h0m63-31h0m-62 31h0m4-1h0m-17 9h0m12-5h0m-8 4h0m33-16h0m-20 10h0m-4 2h0m8-3h0m-10 5h0m-2 1h0m-10 5h0m41-20h0m-40 20h0m43-21h0m-1 1h0m-24 12h0m23-11h0m-4 2h0m-4 2h0m-18 9h0m26-12h0m-4 2h0m5-2h0m-2 1h0m-49 24h0m43-21h0m-12 6h0m-4 2h0m25-12h0m-32 16h0m12-5h0m-14 7h0m-2 1h0m-10 5h0m21-10h0m21-10h0m-16 8h0m-4 2h0m-16 8h0m56-27h0m-37 18h0m-6 3h0m-16 8h0m17-8h0m19-9h0m25-12h0m-37 18h0m-10 5h0m3-1h0m-2 1h0m38-18h0m-33 16h0m23-11h0m-6 3h0m-12 6h0m17-8h0m-2 1h0m-16 8h0m22-10h0m-27 13h0m23-11h0m-57 28h0m90-43h0m-50 24h0m-2 1h0m-4 2h0m21-10h0m-27 13h0m40-18h0m-14 7h0m-23 11h0m5-2h0m42-20h0m-25 12h0m1 0h0m5-2h0m-23 11h0m28-13h0m-4 2h0m7-3h0m-8 4h0m-6 3h0m1 0h0m-14 7h0m-19 9h0m53-25h0m-10 5h0m18-8h0m-40 19h0m-29 14h0m30-14h0m11-5h0m28-13h0m-46 22h0m20-9h0m-25 12h0m4-1h0m7-3h0m-6 3h0m-6 3h0m37-17h0m-23 11h0m22-10h0m-10 5h0m14-6h0m11-5h0m-17 8h0m-34 16h0m9-4h0m34-15h0m-28 13h0m-2 1h0m98-45h0m-110 51h0m26-12h0m12-5h0m-23 11h0m13-6h0m-2 1h0m9-4h0m-41 19h0m36-16h0m-17 8h0m-6 3h0m20-9h0m-17 8h0m35-16h0m-30 14h0m12-5h0m-17 8h0m5-2h0m27-12h0m-2 1h0m-37 17h0m-2 1h0m-13 6h0m46-21h0m9-4h0m-15 7h0m-15 7h0m27-12h0m-56 26h0m44-20h0m23-10h0m-15 7h0m3-1h0m-4 2h0m-35 16h0m44-20h0m-35 16h0m3-1h0m5-2h0m18-8h0m-24 11h0m40-18h0m-48 22h0m-2 1h0m31-14h0m9-4h0m20-9h0m-28 13h0m38-17h0m-39 18h0m-24 11h0m32-14h0m-33 15h0m5-2h0m20-9h0m7-3h0m5-2h0m-2 1h0m-31 14h0m1 0h0m18-8h0m-11 5h0m34-15h0m-42 19h0m27-11h0m-6 3h0m-40 18h0m45-20h0m7-3h0m-13 6h0m-11 5h0m-22 10h0m-47 21h0m81-36h0m12-5h0m-35 16h0m36-16h0m-26 12h0m41-18h0m-54 24h0m41-18h0m-33 15h0m7-3h0m-29 13h0m59-26h0m-36 16h0m-20 9h0m40-17h0m-27 12h0m34-15h0m-1 1h0m7-3h0m-29 13h0m14-6h0m12-5h0m-2 1h0m-36 16h0m41-18h0m-65 29h0m51-22h0m-50 22h0m71-31h0m-18 8h0m-22 10h0m-25 11h0m30-13h0m-9 4h0m-2 1h0m42-18h0m-41 18h0m53-23h0m-41 18h0m1 0h0m-6 3h0m5-2h0m19-8h0m12-5h0m-16 7h0m-16 7h0m30-13h0m-16 7h0m14-6h0m6-2h0m-59 26h0m44-19h0m65-28h0m-57 25h0m21-9h0m-60 26h0m44-19h0m15-6h0m-55 24h0m8-3h0m59-25h0m-65 28h0m10-4h0m-32 14h0m12-5h0m35-15h0m-18 8h0m28-12h0m-9 4h0m-1 1h0m-40 18h0m47-20h0m14-5h0m-35 15h0m-14 6h0m6-2h0m52-22h0m-32 14h0m-18 8h0m34-14h0m-35 15h0m-2 1h0m24-10h0m8-3h0m5-2h0m-52 22h0m13-5h0m12-5h0m27-11h0m-52 22h0m22-9h0m22-9h0m-19 8h0m-19 8h0m17-7h0m24-10h0m-25 11h0m-9 4h0m-7 3h0m6-2h0m-4 2h0m32-13h0m-2 1h0m-26 11h0m36-15h0m-4 2h0m-26 11h0m1 0h0m8-3h0m22-9h0m11-4h0m-43 18h0m22-9h0m18-6h0m-29 12h0m34-14h0m-57 24h0m-7 3h0m52-21h0m-29 12h0m34-14h0m5-2h0m44-18h0m-51 22h0m-24 10h0m-17 7h0m13-5h0m3-1h0m35-14h0m-21 9h0m5-2h0m5-2h0m-64 27h0m20-8h0m47-19h0m-2 1h0m-27 11h0m20-8h0m10-4h0m18-7h0m-44 18h0m-3 2h0m-19 8h0m41-16h0m-49 20h0m50-20h0m8-3h0m-27 11h0m-42 17h0m38-15h0m15-6h0m-14 6h0m20-8h0m-17 7h0m21-7h0m10-4h0m10-4h0m-14 6h0m-62 25h0m30-12h0m-7 3h0m13-5h0m-25 10h0m48-19h0m-10 4h0m-55 22h0m62-24h0m-20 8h0m33-13h0m-5 2h0m-40 16h0m48-19h0m-20 8h0m-4 2h0m-15 6h0m23-9h0m-35 14h0m1 0h0m8-3h0m33-13h0m8-3h0m-45 18h0m32-12h0m33-13h0m-78 31h0m13-5h0m56-22h0m-47 19h0m18-7h0m18-7h0m-33 13h0m-10 4h0m21-8h0m3-1h0m-50 20h0m36-14h0m-14 6h0m26-10h0m21-8h0m-33 13h0m-25 10h0m57-22h0m-38 15h0m24-9h0m24-9h0m-41 16h0m62-24h0m-50 20h0m13-5h0m-28 11h0m-41 16h0m34-13h0m32-12h0m11-4h0m-41 16h0m8-3h0m29-11h0m-139 54h0m181-70h0m-31 12h0m-28 11h0m-18 7h0m-5 2h0m56-21h0m1 0h0m-28 11h0m4-1h0m-30 12h0m34-13h0m-26 10h0m-13 5h0m48-18h0m-39 15h0m21-8h0m16-6h0m-13 5h0m-1 1h0m-107 41h0m89-34h0m16-6h0m-15 6h0m-26 10h0m-4 2h0m45-17h0m-31 12h0m16-6h0m-7 3h0m24-9h0m-5 2h0m-18 7h0m53-20h0m-17 7h0m-30 12h0m24-9h0m6-2h0m6-2h0m16-6h0m65-24h0m-92 35h0m1 0h0m14-5h0m-26 10h0m1 0h0m72-27h0m-60 23h0m-11 5h0m6-2h0m-34 13h0m35-13h0m-85 32h0m60-22h0m27-10h0m-24 9h0m-2 1h0m-8 3h0m47-17h0m-35 13h0m62-23h0m-45 17h0m3-1h0m-20 8h0m-2 1h0m14-5h0m11-4h0m11-4h0m-18 7h0m19-7h0m-40 15h0m19-7h0m25-9h0m-65 24h0m74-27h0m-35 13h0m15-5h0m-27 10h0m30-11h0m-48 18h0m34-12h0m6-2h0m-5 2h0m9-3h0m-30 11h0m-49 18h0m47-17h0m25-9h0m-2 1h0m-16 6h0m-8 3h0m44-16h0m-140 51h0m144-52h0m-27 10h0m14-5h0m14-5h0m-62 23h0m14-5h0m42-15h0m-21 8h0m-22 8h0m40-14h0m-63 23h0m50-18h0m3-1h0m15-5h0m-22 8h0m-2 1h0m25-9h0m-5 2h0m-11 4h0m-35 13h0m-2 1h0m53-19h0m-61 22h0m15-5h0m32-11h0m-30 11h0m20-7h0m-36 13h0m48-17h0m-24 9h0m40-14h0m40-14h0m-87 31h0m-14 5h0m6-2h0m31-11h0m57-20h0m-61 22h0m16-5h0m18-6h0m-25 9h0m6-2h0m-14 5h0m15-5h0m9-3h0m-47 17h0m35-12h0m-51 18h0m40-14h0m6-2h0m-19 7h0m-2 1h0m23-8h0m-37 13h0m43-15h0m-54 19h0m23-8h0m-10 4h0m33-11h0m6-2h0m12-4h0m-36 13h0m23-8h0m-45 16h0m-5 3h0m25-8h0m-14 5h0m-20 7h0m55-19h0m9-3h0m4-1h0m-40 14h0m38-13h0m15-5h0m-31 11h0m-26 9h0m-2 1h0m6-2h0m21-7h0m9-3h0m3-1h0m9-3h0m-42 15h0m38-13h0m-29 11h0m-8 3h0m9-3h0m-55 19h0m53-18h0m28-9h0m-26 9h0m-14 5h0m27-9h0m23-7h0m-56 20h0m21-7h0m30-10h0m-35 12h0m18-6h0m22-7h0m-14 5h0m-8 3h0m6-2h0m39-13h0m-80 27h0m7-2h0m16-5h0m12-4h0m12-4h0m9-3h0m-34 12h0m30-10h0m-2 1h0m-15 5h0m19-6h0m-32 11h0m-3 1h0m-6 2h0m22-7h0m-11 4h0m-11 4h0m25-8h0m-15 5h0m-9 3h0m22-7h0m-12 4h0m42-13h0m-18 6h0m-2 1h0m-24 8h0m-3 1h0m-21 7h0m52-17h0m-12 4h0m37-12h0m-35 12h0m13-4h0m-39 13h0m-5 2h0m-6 2h0m22-7h0m-14 5h0m56-18h0m-64 21h0m22-7h0m-26 9h0m16-5h0m44-14h0m-12 4h0m-37 12h0m28-9h0m-46 15h0m59-19h0m-52 17h0m19-6h0m8-2h0m26-8h0m-3 1h0m23-7h0m-24 9h0m141-45h0m-162 52h0m-4 2h0m16-5h0m-12 4h0m-28 9h0m41-13h0m39-12h0m-30 10h0m-22 7h0m19-6h0m-31 10h0m32-10h0m-3 1h0m-3 1h0m-28 9h0m70-22h0m-2 1h0m-53 17h0m29-9h0m-56 18h0m13-4h0m31-9h0m-34 11h0m61-19h0m-19 6h0m-25 8h0m-9 3h0m4-1h0m4-1h0m16-5h0m10-3h0m-6 2h0m78-23h0m-106 33h0m29-9h0m-3 1h0m14-4h0m-16 5h0m-15 5h0m17-5h0m-29 9h0m13-4h0m14-4h0m-15 5h0m30-9h0m-12 4h0m4-1h0m23-7h0m-58 18h0m11-3h0m33-10h0m-65 20h0m49-15h0m-13 4h0m-14 5h0m46-14h0m-13 4h0m-19 6h0m-13 4h0m8-2h0m43-13h0m-42 13h0m23-7h0m-26 8h0m25-7h0m-26 8h0m23-7h0m-36 11h0m20-6h0m-3 1h0m17-5h0m-26 8h0m-6 2h0m14-4h0m-13 4h0m43-13h0m-3 1h0m-3 1h0m-42 13h0m64-19h0m-54 17h0m7-2h0m7-2h0m20-6h0m1 0h0m5-1h0m-13 4h0m-39 12h0m39-11h0m11-3h0m-30 9h0m7-2h0m-20 6h0m41-12h0m4-1h0m8-2h0m-35 11h0m17-5h0m-3 1h0m-16 5h0m27-8h0m-10 3h0m7-2h0m-22 7h0m21-6h0m-36 11h0m17-5h0m22-6h0m7-2h0m-39 12h0m11-3h0m-30 9h0m14-4h0m7-2h0m48-14h0m-27 8h0m4-1h0m-17 5h0m1 0h0m-41 12h0m21-6h0m69-20h0m-58 17h0m8-2h0m-65 19h0m83-24h0m-2 1h0m7-2h0m-3 1h0m14-4h0m-41 12h0m31-9h0m-10 3h0m14-4h0m-10 3h0m-46 14h0m25-7h0m-3 1h0m28-8h0m-31 9h0m7-2h0m32-9h0m-9 3h0m-31 9h0m28-8h0m28-8h0m-45 13h0m28-8h0m-31 9h0m19-5h0m21-6h0m-23 7h0m28-8h0m-48 14h0m35-10h0m-41 12h0m7-2h0m7-2h0m-32 10h0m67-19h0m-35 10h0m40-11h0m-42 12h0m-10 3h0m36-9h0m54-15h0m-60 17h0m0 1h0m4-1h0m-21 6h0m-35 10h0m57-16h0m-7 2h0m-24 7h0m5-1h0m4-1h0m-7 2h0m43-12h0m-14 4h0m-25 7h0m-50 14h0m43-12h0m34-9h0m-39 11h0m29-8h0m8-1h0m-25 7h0m-7 2h0m26-7h0m-25 7h0m58-16h0m-36 10h0m8-2h0m-24 7h0m29-8h0m-13 4h0m-21 6h0m-14 4h0m48-13h0m-28 8h0m33-9h0m-7 2h0m-29 8h0m23-6h0m-18 5h0m-7 2h0m26-7h0m-18 5h0m-7 2h0m26-7h0m-21 6h0m15-4h0m8-2h0m-32 9h0m5-1h0m52-14h0m-51 14h0m-15 5h0m16-4h0m41-11h0m-44 12h0m49-13h0m-50 14h0m23-6h0m1 0h0m-22 6h0m41-11h0m5-1h0m-38 11h0m-2 1h0m-11 3h0m34-9h0m6-1h0m-7 2h0m-36 10h0m5-1h0m4-1h0m-7 2h0m34-9h0m4-1h0m-11 3h0m-14 4h0m-11 3h0m-30 8h0m103-27h0m-11 4h0m-37 10h0m-45 12h0m52-13h0m-19 5h0m20-5h0m1 0h0m-30 8h0m31-8h0m-26 7h0m5-1h0m27-7h0m-11 3h0m-30 8h0m31-8h0m-25 7h0m8-2h0m16-4h0m-30 8h0m51-13h0m-45 12h0m-6 2h0m40-10h0m8-2h0m-35 9h0m1 0h0m-19 5h0m32-8h0m-18 5h0m-2 1h0m47-12h0m-39 10h0m12-3h0m16-4h0m-38 10h0m5-1h0m24-6h0m28-7h0m-47 12h0m16-4h0m0 1h0m-22 6h0m-5 2h0m4-1h0m20-5h0m12-3h0m-41 11h0m16-4h0m-6 2h0m-3 1h0m36-9h0m6-1h0m-20 5h0m-12 3h0m-22 6h0m-4 1h0m53-13h0m-44 11h0m-4 1h0m33-8h0m50-12h0m-34 9h0m-27 7h0m-8 2h0m41-10h0m-8 2h0m-36 9h0m-24 6h0m47-11h0m37-9h0m-22 6h0m-36 9h0m25-6h0m-19 5h0m-8 2h0m33-8h0m-10 3h0m-41 10h0m21-5h0m-7 2h0m1 0h0m5-1h0m46-11h0m-24 6h0m-12 3h0m-8 2h0m-4 1h0m62-15h0m-37 9h0m-28 7h0m29-7h0m13-3h0m54-13h0m-81 20h0m-12 3h0m34-8h0m-10 3h0m-12 3h0m-4 1h0m1 0h0m-16 4h0m38-9h0m6-1h0m-29 7h0m-5 2h0m44-10h0m31-7h0m-75 18h0m22-5h0m15-3h0m6-1h0m-34 8h0m13-2h0m9-2h0m-28 7h0m35-8h0m-29 7h0m-8 2h0m31-6h0m-21 5h0m23-5h0m-11 3h0m44-10h0m-56 13h0m23-5h0m-30 7h0m1 0h0m35-8h0m-17 4h0m18-4h0m-34 8h0m30-6h0m-13 3h0m-13 3h0m18-4h0m-35 8h0m54-12h0m22-5h0m-39 9h0m-26 6h0m50-11h0m-15 4h0m9-2h0m-43 10h0m23-5h0m-17 4h0m18-4h0m-91 21h0m68-15h0m5-1h0m-4 1h0m-48 11h0m117-26h0m-79 18h0m27-6h0m-97 22h0m77-17h0m-7 2h0m37-8h0m-40 9h0m82-18h0m-81 18h0m47-10h0m-18 4h0m-12 3h0m91-20h0m-56 13h0m-45 10h0m5-1h0m37-8h0m-45 10h0m65-14h0m-18 4h0m-40 9h0m29-6h0m-122 27h0m115-25h0m15-3h0m-31 7h0m-9 2h0m2 0h0m5-1h0m33-7h0m-46 10h0m40-8h0m-12 3h0m14-3h0m-26 6h0m19-4h0m-19 5h0m13-2h0m-13 3h0m-31 7h0m44-9h0m6-1h0m-6 2h0m-23 5h0m24-5h0m-28 6h0m67-14h0m-52 11h0m20-4h0m-41 9h0m-41 9h0m59-12h0m48-10h0m-28 6h0m-28 6h0m30-6h0m39-8h0m-43 9h0m-38 8h0m50-10h0m-42 9h0m34-7h0m6-1h0m1 0h0m-33 7h0m-4 1h0m5-1h0m20-4h0m-29 6h0m1 0h0m-12 3h0m20-4h0m5-1h0m-14 3h0m-26 6h0m72-14h0m-18 4h0m5-1h0m-19 4h0m20-4h0m-29 6h0m70-14h0m-94 19h0m55-11h0m-83 17h0m31-6h0m71-14h0m-54 11h0m15-3h0m50-10h0m-24 5h0m58-11h0m-65 13h0m1 0h0m-5 1h0m12-2h0m-14 3h0m-34 7h0m46-9h0m-30 6h0m46-9h0m-40 8h0m-10 2h0m41-8h0m-45 9h0m26-5h0m-14 3h0m-5 1h0m-30 6h0m26-5h0m62-12h0m-39 8h0m26-5h0m-14 3h0m-10 2h0m1 0h0m-15 3h0m32-6h0m-40 8h0m26-5h0m-5 1h0m-15 3h0m21-4h0m-29 6h0m42-8h0m-15 3h0m7-1h0m-36 7h0m11-2h0m26-5h0m-35 7h0m-5 1h0m28-5h0m-28 6h0m16-3h0m26-5h0m-31 6h0m21-4h0m-31 6h0m27-5h0m2 0h0m-25 5h0m28-5h0m-5 1h0m1 0h0m-13 3h0m-5 1h0m-10 2h0m38-7h0m-36 7h0m11-2h0m16-3h0m6-1h0m6-1h0m-26 5h0m32-6h0m4 0h0m-97 19h0m51-9h0m11-2h0m12-2h0m-32 6h0m51-9h0m-5 1h0m-5 1h0m-68 13h0m33-6h0m38-7h0m11-2h0m-15 3h0m-37 7h0m-4 1h0m83-15h0m-43 8h0m17-3h0m-10 2h0m11-2h0m-38 7h0m16-2h0m-21 4h0m30-5h0m-11 2h0m-33 6h0m36-6h0m-20 4h0m34-6h0m-35 7h0m-33 6h0m51-9h0m-37 7h0m41-7h0m17-3h0m-11 2h0m-22 4h0m-11 2h0m-4 1h0m3 0h0m7-1h0m34-6h0m-45 8h0m51-9h0m-45 8h0m34-6h0m1 0h0m1 0h0m23-4h0m-5 1h0m-49 9h0m34-5h0m-39 7h0m6-1h0m35-6h0m-45 8h0m-5 1h0m55-9h0m-23 4h0m-23 4h0m52-9h0m-55 10h0m87-15h0m-92 16h0m53-9h0m-34 6h0m-4 1h0m-5 1h0m48-8h0m-52 9h0m113-19h0m-75 13h0m9-1h0m-17 3h0m-4 1h0m-15 3h0m-16 3h0m18-3h0m136-23h0m-110 19h0m-32 6h0m-9 2h0m15-2h0m36-6h0m-7 2h0m-6 1h0m-29 5h0m37-6h0m-18 3h0m-12 2h0m25-4h0m-26 5h0m-6 1h0m7-1h0m-18 3h0m49-8h0m-17 3h0m-15 3h0m1 0h0m28-4h0m-35 6h0m7-1h0m-6 1h0m40-6h0m-5 1h0m-5 2h0m-24 4h0m19-3h0m13-2h0m-4 1h0m-46 8h0m19-3h0m-6 1h0m-4 1h0m41-6h0m-31 5h0m-12 2h0m8-1h0m20-3h0m-50 8h0m20-3h0m39-6h0m13-2h0m-70 11h0m32-5h0m26-4h0m-11 2h0m-19 3h0m26-4h0m-6 1h0m-18 3h0m-12 2h0m39-6h0m1 0h0m-6 1h0m-6 1h0m8-1h0m-81 13h0m60-9h0m27-4h0m-71 11h0m39-6h0m33-5h0m-57 9h0m46-6h0m-5 1h0m-26 4h0m14-2h0m21-3h0m-46 7h0m15-2h0m47-7h0m-46 7h0m-5 1h0m-2 1h0m15-2h0m21-3h0m-6 1h0m1 0h0m27-4h0m-6 1h0m-60 9h0m14-2h0m-13 2h0m75-11h0m-39 6h0m15-1h0m-9 2h0m-30 5h0m1 0h0m29-4h0m-6 1h0m21-3h0m-6 1h0m10-1h0m1 0h0m-48 7h0m-6 1h0m2 0h0m14-2h0m-5 1h0m17-2h0m14-2h0m4 0h0m-41 6h0m-5 1h0m18 52h0m40-3h0m-47 4h0m40-3h0m28-2h0m-35 3h0m-35 3h0m2 0h0m2 0h0m40-3h0m-35 3h0m15-1h0m2 0h0m6 0h0m-31 3h0m26-2h0m1 0h0m-44 4h0m27-2h0m13-1h0m-12 1h0m18-1h0m-6 1h0m27-2h0m-39 4h0m-10 1h0m7 0h0m-13 1h0m45-3h0m-13 1h0m7 0h0m1 0h0m-7 1h0m32-2h0m-83 6h0m14-1h0m20-1h0m-24 2h0m15-1h0m-5 1h0m35-2h0m-36 3h0m59-4h0m-27 2h0m1 0h0m-21 2h0m16-1h0m1 0h0m-27 2h0m41-2h0m-28 2h0m16-1h0m4 0h0m2 0h0m-23 2h0m1 0h0m18-1h0m-38 3h0m33-2h0m-14 1h0m16-1h0m-26 2h0m47-3h0m-23 2h0m32-2h0m-53 4h0m27-1h0m34-2h0m-62 4h0m22-1h0m-29 2h0m2 0h0m36-2h0m-27 2h0m1 0h0m-9 1h0m36-2h0m-9 1h0m3 1h0m2 0h0m-65 4h0m37-2h0m4 0h0m41-2h0m-17 1h0m42-2h0m-68 4h0m20-1h0m3 0h0m1 0h0m-30 2h0m5 0h0m24-1h0m6 0h0m-30 2h0m9 0h0m-16 1h0m38-2h0m9 0h0m-13 1h0m-32 2h0m9 0h0m60-3h0m-55 3h0m20-1h0m-1 1h0m-19 1h0m21-1h0m12 0h0m-11 1h0m1 0h0m-10 1h0m-16 1h0m3 0h0m83-4h0m-62 3h0m-8 1h0m5 0h0m-18 1h0m14 0h0m-33 2h0m32-1h0m-21 1h0m51-2h0m-58 3h0m5 0h0m23-1h0m5 0h0m-20 1h0m25-1h0m-2 1h0m-46 2h0m46-1h0m-21 1h0m-13 1h0m49-2h0m-23 1h0m2 0h0m-15 1h0m27-1h0m-14 1h0m0 2h0m-23 1h0m37 0h0m10 0h0m-53 2h0m1 0h0m14 0h0m17 0h0m-26 1h0m63-2h0m-52 2h0m35-1h0m-53 2h0m1 0h0m49-1h0m-52 2h0m35-1h0m-15 1h0m-25 1h0m19 0h0m18 0h0m-27 1h0m7 0h0m23 0h0m-27 1h0m-14 1h0m75-2h0m-34 1h0m4 0h0m-30 2h0m5 0h0m6 0h0m12 0h0m1 0h0m-27 1h0m30 0h0m4 0h0m-30 1h0m2 0h0m-7 1h0m1 0h0m14 0h0m15 0h0m6 0h0m-9 1h0m4 0h0m13 0h0m-33 1h0m-12 1h0m69-1h0m-22 1h0m-45 1h0m54 0h0m-53 1h0m10 0h0m3 0h0m29 0h0m-58 1h0m20 0h0m7 0h0m2 0h0m13 0h0m-60 1h0m78-1h0m-43 1h0m24 0h0m9 0h0m-41 1h0m43 0h0m-32 1h0m8 0h0m16 0h0m2 0h0m6 0h0m8 0h0m-32 1h0m1 0h0m-16 1h0m5 0h0m11 0h0m15 0h0m-26 1h0m11 0h0m20 0h0m18 0h0m-69 1h0m31 0h0m13 0h0m6 0h0m-19 1h0m16 0h0m3 0h0m3 0h0m3 0h0m27 0h0m-57 1h0m20 0h0m1 0h0m-25 1h0m4 0h0m2 0h0m3 0h0m17 0h0m12 0h0m-50 1h0m11 0h0m9 0h0m14 0h0m14 0h0m-46 1h0m19 0h0m13 0h0m9 0h0m8 0h0m3 0h0m-11 1h0m-47 1h0m16 0h0m6 0h0m3 0h0m13 0h0m0 1h0m-22 0h0m29 1h0m-23 0h0m-7 0h0m-14 0h0m37 1h0m-17 0h0m-10 0h0m53 1h0m-26 0h0m-13 0h0m-6 0h0m-12 0h0m32 1h0m-2 0h0m-12 0h0m-3 0h0m-3 0h0m-7 0h0m-4 0h0m-13 0h0m45 1h0m-15 0h0m-7 0h0m29 1h0m-10 0h0m6 1h0m-1 0h0m-17 0h0m-10 0h0m65 1h0m-70 0h0m15 1h0m-8 0h0m-1 0h0m-1 0h0m25 1h0m-2 0h0m-29 0h0m32 1h0m-3 0h0m-1 0h0m-12 0h0m-9 0h0m-1 0h0m31 1h0m-1 0h0m-8 0h0m-25 0h0m35 1h0m-1 0h0m-9 0h0m-25 0h0m-2 0h0m-6 0h0m-11 0h0m64 1h0m-10 0h0m-22 0h0m-2 0h0m29 1h0m-9 0h0m-23 0h0m-4 0h0m-12 0h0m-2 0h0m40 1h0m-17 0h0m-2 1h0m-4 0h0m-1 0h0m-2 0h0m41 1h0m-9 0h0m-11 0h0m-14 0h0m-9 0h0m-1 0h0m44 1h0m-2 0h0m-13 0h0m-1 0h0m-4 0h0m-12 0h0m38 1h0m-2 0h0m-54-1h0m-1 0h0m31 1h0m-13 0h0m-3 0h0m-1 0h0m-2 0h0m-4 0h0m38 1h0m-13 0h0m36 1h0m-28 0h0m-3 0h0m32 1h0m-53-1h0m-9 0h0m33 1h0m-41-1h0m31 1h0m-12 0h0m33 1h0m-39-1h0m-10 0h0m29 1h0m-15 0h0m-8 0h0m-7 0h0m72 2h0m-43-1h0m-14 0h0m-40-1h0m28 1h0m27 1h0m-1 0h0m-15 0h0m22 1h0m-7 0h0m27 1h0m-42-1h0m23 1h0m-21 0h0m31 1h0m-11 0h0m-5 0h0m-17 0h0m29 1h0m-6 0h0m-36-1h0m48 2h0m-33-1h0m-6 0h0m27 1h0m-2 0h0m-40-1h0m45 2h0m-2 0h0m-4 0h0m-18 0h0m22 1h0m-31-1h0m-1 0h0m-9 0h0m77 3h0m-58-2h0m-1 0h0m-5 0h0m24 1h0m11 1h0m-15 0h0m-14 0h0m-6 0h0m-4 0h0m23 1h0m-26-1h0m-1 0h0m14 1h0m17 1h0m-3 0h0m-28-1h0m44 2h0m-30-1h0m-1 0h0m23 1h0m-26-1h0m24 1h0m-3 0h0m5 1h0m-30-1h0m20 1h0m-25-1h0m-6 0h0m-2 0h0m21 1h0m18 1h0m22 1h0m-25-1h0m-25-1h0m22 1h0m-26-1h0m44 2h0m-30-1h0m-15 0h0m38 2h0m-1 0h0m-22-1h0m-5 0h0m17 1h0m8 1h0m-27-1h0m-1 0h0m20 1h0m-28-1h0m16 1h0m21 2h0m-21-1h0m19 1h0m-26-1h0m19 1h0m27 2h0m-24-1h0m-3 0h0m-21-1h0m9 1h0m-1 0h0m-22-1h0m57 3h0m-39-2h0m18 1h0m-16 0h0m19 1h0m-2 0h0m-2 0h0m33 2h0m-7 0h0m-39-2h0m-1 0h0m14 1h0m52 3h0m-74-4h0m-5 0h0m-1 0h0m29 2h0m-39-2h0m17 1h0m-20-1h0m17 1h0m-4 0h0m15 1h0m15 1h0m-25-1h0m-3 0h0m13 1h0m15 1h0m-1 0h0m-1 0h0m-26-1h0m-2 0h0m34 2h0m-1 0h0m-18-1h0m-14 0h0m14 1h0m-1 0h0m14 1h0m11 1h0m-4 0h0m-1 0h0m-34-2h0m-1 0h0m16 1h0m16 1h0m-17-1h0m15 1h0m-20-1h0m26 2h0m59 4h0m-100-6h0m16 1h0m-3 0h0m-2 0h0m32 2h0m16 1h0m-52-3h0m11 1h0m25 2h0m-10 0h0m8 1h0m-23-1h0m29 2h0m-32-2h0m-4 0h0m-1 0h0m27 2h0m14 1h0m-37-2h0m27 2h0m-2 0h0m0 1h0m-30-2h0m29 2h0m-30-2h0m-2 0h0m14 1h0m-2 0h0m24 2h0m-32-2h0m-8 0h0m41 3h0m-1 0h0m-1 0h0m-32-2h0m-16-1h0m12 1h0m13 1h0m-1 0h0m-16-1h0m8 1h0m11 1h0m41 3h0m-28-2h0m3 1h0m-42-3h0m26 2h0m13 1h0m5 1h0m-1 0h0m-17-1h0m27 2h0m-14-1h0m-28-2h0m50 4h0m-14-1h0m40 3h0m-42-3h0m-2 0h0m-4 0h0m-19-1h0m25 2h0m-1 0h0m25 2h0m-27-2h0m-3 0h0m29 3h0m-55-4h0m25 2h0m9 1h0m-39-3h0m37 3h0m8 1h0m-27-2h0m-1 0h0m-13-1h0m-13-1h0m44 4h0m-39-3h0m12 1h0m10 1h0m-3 0h0m-5 0h0m21 2h0m-13-1h0m12 1h0m-26-2h0m12 1h0m34 3h0m-17-1h0m10 1h0m-25-2h0m35 3h0m-50-4h0m9 1h0m5 1h0m16 2h0m10 1h0m-42-3h0m34 3h0m20 2h0m-38-3h0m-1 0h0m22 2h0m-30-2h0m22 2h0m11 1h0m-25-2h0m17 2h0m-26-2h0m9 1h0m21 2h0m-6 0h0m-23-2h0m31 3h0m-4 0h0m-30-2h0m32 3h0m-8 0h0m-12-1h0m43 4h0m-57-5h0m14 2h0m20 2h0m-8 0h0m-12-1h0m21 2h0m-33-3h0m-5 0h0m53 5h0m-23-2h0m-1 1h0m10 1h0m-25-2h0m-11-1h0m38 4h0m-12-1h0m-31-2h0m5 1h0m30 3h0m20 2h0m-44-4h0m20 2h0m8 1h0m-21-2h0m33 4h0m-2 0h0m-61-6h0m57 6h0m-32-3h0m20 2h0m18 2h0m-40-4h0m-11-1h0m-1 0h0m15 2h0m16 2h0m-21-2h0m7 1h0m-10-1h0m9 1h0m-1 0h0m-2 0h0m-1 0h0m29 3h0m-4 0h0m-33-3h0m-1 0h0m37 4h0m-29-3h0m28 3h0m8 1h0m-29-3h0m14 2h0m8 1h0m-22-2h0m14 2h0m-22-2h0m-2 0h0m34 4h0m-24-2h0m26 3h0m-39-4h0m-1 0h0m27 3h0m-19-2h0m6 1h0m-12-1h0m25 3h0m9 1h0m-22-2h0m-13-1h0m-2 0h0m33 4h0m-19-2h0m24 3h0m-2 0h0m-2 0h0m-27-3h0m8 1h0m-18-2h0m35 4h0m-41-4h0m14 2h0m44 5h0m-45-5h0m44 5h0m-34-3h0m19 3h0m-22-2h0m24 3h0m-52-6h0m31 4h0m13 2h0m-28-3h0m34 4h0m6 1h0m-25-2h0m-9-1h0m22 3h0m6 1h0m-27-3h0m8 1h0m-10-1h0m24 3h0m-2 0h0m6 1h0m24 3h0m-50-6h0m40 5h0m-54-6h0m5 1h0m32 4h0m-19-2h0m24 3h0m-35-4h0m15 2h0m-13-1h0m6 1h0m-3 0h0m31 4h0m8 1h0m-30-3h0m-6 0h0m-1 0h0m22 3h0m2 1h0m-17-2h0m21 3h0m-34-4h0m6 1h0m6 1h0m-10 0h0m30 4h0m-19-2h0m14 2h0m-25-3h0m45 6h0m-17-2h0m-2 0h0m15 2h0m-38-5h0m30 4h0m-23-3h0m44 6h0m-31-4h0m2 1h0m-23-3h0m6 1h0m2 1h0m-8-1h0m4 1h0m20 3h0m-23-3h0m28 4h0m-9-1h0m7 1h0m-19-2h0m13 2h0m-22-3h0m51 7h0m-22-3h0m-1 0h0m12 2h0m-47-6h0m29 4h0m-1 0h0m8 2h0m-8-1h0m13 2h0m-9-1h0m7 1h0m-1 0h0m-37-5h0m42 6h0m-3 0h0m-40-5h0m14 2h0m14 2h0m-15-2h0m27 4h0m-8-1h0m6 1h0m-29-4h0m4 1h0m24 4h0m-31-4h0m27 4h0m-1 0h0m4 1h0m-36-5h0m6 1h0m2 1h0m-2 0h0m-2 0h0m23 4h0m-23-3h0m27 4h0m-3 0h0m-14-2h0m33 5h0m-34-5h0m-7-1h0m-4 0h0m26 4h0m-1 0h0m-14-2h0m24 4h0m-25-3h0m36 6h0m-34-5h0m19 3h0m-34-5h0m5 1h0m-27-4h0m57 9h0m-7-1h0m11 2h0m-33-5h0m-10-1h0m19 3h0m13 2h0m-40-6h0m71 11h0m-13-2h0m-39-6h0m-13-2h0m5 1h0m56 9h0m-21-3h0m-7-1h0m13 3h0m-40-6h0m38 6h0m2 1h0m-32-5h0m31 5h0m-1 0h0m4 1h0m-16-2h0m25 4h0m-7-1h0m-17-2h0m-13-2h0m49 8h0m-19-3h0m-15-2h0m-28-4h0m31 5h0m2 1h0m-26-4h0m18 3h0m-31-5h0m13 3h0m-10-1h0m-1 0h0m11 2h0m18 3h0m-13-2h0m-20-3h0m38 7h0m-26-4h0m41 7h0m-43-7h0m-2 0h0m12 2h0m12 2h0m6 1h0m12 2h0m-1 0h0m-37-6h0m46 8h0m-26-4h0m-24-4h0m-1 0h0m47 8h0m-44-7h0m28 5h0m-1 0h0m16 3h0m-37-6h0m53 9h0m-37-6h0m5 1h0m-18-3h0m-6-1h0m19 4h0m-24-4h0m-1 0h0m39 7h0m-1 1h0m-47-8h0m5 1h0m28 5h0m-12-2h0m33 6h0m33 6h0m-47-8h0m-19-3h0m-18-3h0m38 7h0m-30-5h0m7 2h0m-12-2h0m27 5h0m11 2h0m8 2h0m-36-6h0m19 4h0m-23-4h0m28 5h0m-30-5h0m39 7h0m-2 0h0m-29-5h0m-14-2h0m55 10h0m-39-7h0m16 3h0m72 13h0m-57-10h0m-42-7h0m30 6h0m15 3h0m-22-4h0m-17-3h0m4 1h0m15 4h0m-29-5h0m28 7h0m29 6h0m-44-8h0m-3 0h0m-12-2h0m31 6h0m-16-3h0m13 3h0m-1 0h0m29 6h0m-48-9h0m35 7h0m-12-2h0m-37-7h0m52 10h0m-43-8h0m25 5h0m-1 0h0m-39-7h0m19 4h0m35 7h0m-78-15h0m65 13h0m30 6h0m-57-11h0m31 6h0m-22-3h0m20 4h0m3 1h0m-31-6h0m-2 0h0m-3 0h0m9 2h0m30 6h0m24 5h0m-62-12h0m15 3h0m49 10h0m-66-13h0m29 6h0m15 3h0m-28-5h0m29 6h0m-36-7h0m4 1h0m-8-1h0m23 5h0m-20-4h0m-6-1h0m14 3h0m-16-3h0m13 3h0m-5-1h0m-7-1h0m29 6h0m49 10h0m-71-14h0m29 6h0m-27-5h0m29 6h0m-5-1h0m-2 0h0m-1 0h0m23 5h0m3 1h0m-50-10h0m27 6h0m-1 0h0m-6-1h0m-21-4h0m9 2h0m-6-1h0m-6-1h0m24 5h0m19 4h0m-47-9h0m28 6h0m-18-3h0m-11-2h0m14 3h0m2 1h0m48 11h0m-34-7h0m-25-5h0m1 1h0m31 7h0m-1 0h0m-5-1h0m-15-3h0m23 5h0m16 4h0m-42-9h0m20 5h0m-24-4h0m4 1h0m23 5h0m-6-1h0m-15-3h0m-14-3h0m14 4h0m-32-7h0m54 12h0m15 4h0m-42-9h0m4 1h0m-32-7h0m54 12h0m-23-5h0m18 4h0m-32-7h0m36 8h0m-21-4h0m-6-1h0m-10-2h0m-5-1h0m17 4h0m22 5h0m-41-9h0m35 8h0m-25-5h0m39 9h0m-32-7h0m26 6h0m-27-6h0m7 2h0m22 5h0m-10-2h0m-76-17h0m53 12h0m-9-2h0m-9-2h0m48 11h0m4 1h0m-11-2h0m-27-6h0m55 13h0m-45-10h0m-9-2h0m25 6h0m-27-5h0m27 7h0m-35-8h0m56 13h0m2 1h0m-24-4h0m-18-4h0m3 1h0m-9-2h0m34 8h0m-5-1h0m4 1h0m-5-1h0m-19-4h0m-13-3h0m16 4h0m-9-2h0m-6-1h0m-18-4h0m59 14h0m-14-3h0m3 1h0m-17-4h0m33 8h0m-43-10h0m24 6h0m-13-3h0m-6-1h0m29 7h0m-43-10h0m83 20h0m-51-12h0m-26-6h0m61 15h0m-47-11h0m54 14h0m-42-9h0m-29-7h0m37 9h0m-5-1h0m-21-5h0m17 5h0m-24-5h0m24 6h0m7 2h0m-26-6h0m28 7h0m12 3h0m-37-9h0m4 1h0m12 3h0m11 3h0m-26-6h0m36 9h0m7 2h0m-45-11h0m20 5h0m55 14h0m-85-21h0m32 8h0m-41-10h0m20 5h0m20 5h0m-21-4h0m4 1h0m-13-3h0m8 2h0m25 7h0m-8-2h0m-24-6h0m2 1h0m-2 0h0m-2 0h0m7 2h0m-8-2h0m38 10h0m-28-7h0m-5-1h0m-5-1h0m11 3h0m15 4h0m-12-3h0m-4-1h0m26 7h0m-50-12h0m47 12h0m-4-1h0m-17-4h0m1 1h0m-4-1h0m3 1h0m-6-1h0m-5 0h0m-8-2h0m7 2h0m-1 0h0m11 3h0m23 6h0m-35-9h0m41 11h0m-8-2h0m-20-5h0m-16-4h0m64 17h0m-31-8h0m-4-1h0m-16-4h0m22 6h0m-28-7h0m37 10h0m-46-12h0m19 5h0m15 4h0m3 1h0m-39-10h0m45 12h0m-42-11h0m11 3h0m29 8h0m-4-1h0m-29-7h0m34 9h0m-31-8h0m7 2h0m17 5h0m-17-4h0m-38-10h0m26 7h0m30 8h0m-6-1h0m7 2h0m-31-8h0m41 11h0m-35-9h0m22 6h0m-4-1h0m-21-5h0m33 9h0m-30-8h0m28 8h0m-23-6h0m-18-4h0m-4-1h0m65 18h0m-23-6h0m-27-7h0m7 2h0m-34-9h0m7 2h0m40 11h0m-92-25h0m69 19h0m9 3h0m-4-1h0m-1 0h0m3 1h0m-12-3h0m14 4h0m16 5h0m-22-6h0m18 5h0m7 2h0m3 1h0m-5-1h0m-22-6h0m25 7h0m-8-2h0m-22-6h0m-3 0h0m12 4h0m27 8h0m-8-2h0m-4-1h0m2 1h0m-4-1h0m7 2h0m-8-2h0m-12-3h0m38 11h0m-26-7h0m-21-5h0m28 8h0m-47-13h0m56 16h0m-46-13h0m6 2h0m7 3h0m20 6h0m-4-1h0m7 2h0m-99-28h0m73 21h0m-4-1h0m3 1h0m-7-2h0m37 11h0m48 14h0m-81-23h0m10 3h0m-25-7h0m38 11h0m-25-7h0m27 8h0m3 1h0m-18-5h0m-7-2h0m3 1h0m3 1h0m16 5h0m-21-6h0m6 2h0m-1 0h0m24 7h0m-38-11h0m10 3h0m17 5h0m-28-8h0m37 11h0m-25-7h0m3 1h0m17 5h0m-38-11h0m17 5h0m-11-3h0m41 12h0m-14-4h0m2 1h0m17 6h0m-45-13h0m1 1h0m12 4h0m-1 0h0m27 9h0m-34-10h0m22 7h0m-34-10h0m20 6h0m-4-1h0m16 5h0m-14-4h0m23 7h0m-36-10h0m10 3h0m23 7h0m13 4h0m-17-5h0m-35-10h0m11 4h0m23 7h0m-17-5h0m3 1h0m13 4h0m-20-6h0m6 2h0m-10-3h0m1 1h0m21 7h0m9 3h0m8 3h0m-30-9h0m-1 0h0m-11-3h0m26 8h0m-24-7h0m29 9h0m5 2h0m-23-7h0m-17-5h0m-20-6h0m55 17h0m13 4h0m-39-11h0m19 6h0m17 6h0m-49-15h0m15 5h0m24 8h0m-7-2h0m2 1h0m2 1h0m19 6h0m-14-4h0m-29-9h0m19 6h0m6 2h0m3 1h0m25 8h0m-46-14h0m19 6h0m-7-2h0m5 2h0m-1 0h0m-16-5h0m15 5h0m-20-6h0m3 1h0m22 7h0m-7-2h0m-14-4h0m22 7h0m-10-3h0m-24-7h0m24 8h0m-14-4h0m-13-4h0m28 9h0m-16-5h0m15 5h0m5 2h0m-30-9h0m31 10h0m-22-7h0m18 6h0m-27-8h0m25 8h0m-22-7h0m21 7h0m17 6h0m-7-2h0m-2 0h0m5 2h0m-26-8h0m34 11h0m-16-5h0m41 14h0m-62-20h0m-4-1h0m3 1h0m18 6h0m3 1h0m-28-9h0m9 3h0m18 6h0m-28-9h0m-28-9h0m52 17h0m5 2h0m15 5h0m-37-12h0m2 1h0m-13-4h0m51 17h0m-23-7h0m-13-4h0m-16-5h0m14 5h0m14 5h0m15 5h0m-14-4h0m2 1h0m30 10h0m-46-15h0m12 4h0m-22-7h0m6 2h0m51 17h0m-56-18h0m9 3h0m-4-1h0m16 6h0m9 3h0m-37-12h0m30 11h0m-15-5h0m-15-5h0m49 17h0m-45-15h0m-6-2h0m47 16h0m-36-12h0m26 9h0m-3-1h0m-1 0h0m-18-6h0m14 5h0m-22-7h0m2 1h0m35 13h0m-33-11h0m-10-3h0m35 12h0m-24-8h0m16 6h0m-12-4h0m-3-1h0m2 1h0m-9-3h0m23 8h0m-19-6h0m-15-5h0m32 11h0m-25-8h0m32 11h0m-30-10h0m23 8h0m-27-9h0m29 10h0m15 7h0m-9-3h0m-61-21h0m40 14h0m-13-4h0m-6-2h0m46 16h0m-15-5h0m-41-14h0m28 10h0m19 7h0m20 7h0m-23-8h0m-4-1h0m28 10h0m-49-17h0m-6-2h0m34 12h0m-29-10h0m42 15h0m22 8h0m-41-14h0m-23-8h0m-1 1h0m31 11h0m39 14h0m-60-21h0m14 5h0m-24-8h0m31 11h0m-41-14h0m11 4h0m-6-2h0m59 21h0m-51-18h0m84 30h0m-65-23h0m-13-4h0m14 5h0m-39-13h0m51 19h0m-31-11h0m38 14h0m-12-4h0m-9-3h0m-17-6h0m-6-2h0m11 4h0m-16-5h0m27 10h0m-12-4h0m66 24h0m-37-13h0m-17-6h0m-14-5h0m-6-2h0m35 13h0m-12-4h0m8 3h0m-34-12h0m33 12h0m-6-2h0m-1 0h0m-50-18h0m46 17h0m-33-12h0m8 3h0m-3-1h0m30 11h0m-14-5h0m35 13h0m-39-14h0m27 10h0m-12-4h0m-14-5h0m-3-1h0m-11-4h0m34 13h0m-6-2h0m-21-7h0m27 10h0m5 2h0m-11-4h0m-25-9h0m27 10h0m-14-5h0m-11-4h0m8 3h0m-3-1h0m32 12h0m-34-12h0m-3-1h0m35 13h0m-38-14h0m13 5h0m-6-2h0m-8-2h0m33 13h0m-30-11h0m32 12h0m-9-3h0m2 1h0m-43-15h0m24 9h0m-15-4h0m5 2h0m-26 47h0m2 1h0m-1 0h0m-1 1h0m4 2h0m-3 0h0m17 8h0m6 3h0m-21-9h0m15 7h0m-3-1h0m-14-6h0m1 1h0m-1 0h0m13 6h0m2 1h0m-1 0h0m2 1h0m-18-8h0m15 7h0m-1 0h0m-11-5h0m-2 0h0m1 1h0m13 6h0m-22-10h0m8 4h0m1 1h0m-3-1h0m17 8h0m17 8h0m-14-6h0m-18-7h0m-1 0h0m12 6h0m-14-6h0m-14-6h0m12 6h0m2 1h0m2 1h0m11 6h0m4 2h0m-18-8h0m-5-2h0m19 9h0m2 1h0m-16-7h0m2 1h0m11 6h0m1 2h0m-15-7h0m13 7h0m-13-6h0m15 8h0m-14-6h0m19 10h0m-21-10h0m1 2h0m-3-1h0m14 7h0m-11-5h0m16 9h0m-17-8h0m11 6h0m-13-6h0m14 7h0m2 1h0m-3-1h0m-13-6h0m1 1h0m11 6h0m6 4h0m-19-9h0m13 7h0m-1 1h0m18 9h0m-18-8h0m-13-6h0m13 7h0m2 3h0m-5 0h0m-15-7h0m2 1h0m-1 0h0m28 14h0m-13-6h0m-15-7h0m17 9h0m5 3h0m-6-3h0m-16-8h0m13 7h0m3 2h0m1 1h0m-16-8h0m-6-3h0m6 4h0m-1 0h0m-2-1h0m21 11h0m-6-3h0m1 1h0m5 3h0m-24-12h0m3 2h0m0 1h0m-2-1h0m14 8h0m5 3h0m-2-1h0m-14-7h0m-2-1h0m17 9h0m-2-1h0m-2-1h0m-12-5h0m33 18h0m-34-17h0m-1 0h0m-7-3h0m19 10h0m3 3h0m-16-8h0m15 8h0m-2-1h0m-12-6h0m11 6h0m-11-5h0m-1 0h0m-8-4h0m5 3h0m15 8h0m7 4h0m-6-3h0m-16-6h0m-1 0h0m2 2h0m13 7h0m-2-1h0m-12-6h0m15 8h0m-2-1h0m-14-7h0m13 7h0m-14-7h0m15 8h0m1 1h0m-14-7h0m-2-1h0m-3-1h0m1 1h0m18 10h0m-16-8h0m1 1h0m18 10h0m-19-10h0m-2-1h0m1 1h0m1 2h0m11 6h0m-19-10h0m4 3h0m23 13h0m-20-10h0m15 9h0m-2-1h0m-3-1h0m1 1h0m-1 0h0m3 2h0m-4-1h0m20 11h0m-37-20h0m21 12h0m-4-2h0m-1 1h0m-11-6h0m11 7h0m3 3h0m-19-10h0m1 1h0m3 2h0m18 10h0m-4-1h0m-4-2h0m-11-6h0m-1 0h0m12 7h0m3 2h0m-15-7h0m14 8h0m-1 0h0m-2-1h0m0 1h0m-1 0h0m-11-6h0m14 8h0m-1 0h0m-2 2h0m-13-7h0m-4-2h0m21 13h0m-18-10h0m-1 0h0m15 9h0m-16-8h0m-3-1h0m15 9h0m-14-8h0m17 10h0m-15-8h0m-2-1h0m2 2h0m-1 0h0m15 9h0m-2-1h0m1 1h0m1 1h0m-16-9h0m12 7h0m-11-6h0m12 7h0m6 4h0m-7-4h0m-14-8h0m13 8h0m-14-8h0m15 9h0m-12-6h0m-10-5h0m22 13h0m-16-9h0m15 9h0m-12-7h0m12 8h0m-12-7h0m33 20h0m-37-21h0m-1 0h0m22 14h0m-22-13h0m3 3h0m-4-2h0m25 15h0m-24-13h0m13 8h0m-12-7h0m15 9h0m-16-9h0m1 1h0m14 9h0m-2-1h0m-12-7h0m12 8h0m-13-7h0m0 1h0m11 7h0m3 2h0m-17-10h0m1 1h0m-1 0h0m16 10h0m-15-9h0m1 1h0m10 7h0m3 2h0m-14-8h0m11 7h0m3 2h0m-17-10h0m-23-13h0m36 22h0m1 1h0m-12-7h0m11 7h0m-1 0h0m-20-12h0m23 15h0m-2-1h0m-2-1h0m1 1h0m4 4h0m-5-3h0m-12-6h0m11 7h0m-15-9h0m1 1h0m20 13h0m-18-11h0m0 1h0m12 8h0m-2 0h0m1 1h0m1 2h0m1 1h0m-16-10h0m-5-2h0m22 14h0m-5-3h0m-12-7h0m11 7h0m0 2h0m1 1h0m-16-10h0m3 2h0m-1 0h0m13 9h0m-16-10h0m-12-7h0m13 9h0m2 2h0m10 7h0m-13-7h0m-1 1h0m14 9h0m-2-1h0m3 3h0m-14-9h0m12 8h0m-12-7h0m-4-2h0m13 10h0m-11-6h0m-2-1h0m-1 0h0m13 10h0m-14-9h0m3 2h0m10 7h0m-10-6h0m18 12h0m-22-14h0m-1 1h0m21 14h0m-5-3h0m18 12h0m-32-21h0m-1 0h0m-2 0h0m3 2h0m-1 0h0m14 10h0m1 1h0m-2-1h0m-2-1h0m1 1h0m-2 0h0m-12-8h0m1 1h0m11 8h0m-11-7h0m-3-2h0m-2 0h0m17 12h0m-13-8h0m11 8h0m-13-7h0m13 10h0m-3-2h0m1 1h0m-33-22h0m22 15h0m13 10h0m-14-9h0m18 13h0m-5-3h0m-2-1h0m-12-8h0m-2-1h0m1 1h0m1 1h0m13 10h0m-17-11h0m13 9h0m3 3h0m-4-2h0m-13-8h0m2 2h0m10 7h0m-16-11h0m20 14h0m-4-2h0m-13-9h0m1 1h0m1 1h0m14 10h0m-14-9h0m10 8h0m1 2h0m-13-9h0m14 10h0m-3-2h0m-12-8h0m1 1h0m14 10h0m2 2h0m-6-4h0m-10-7h0m-3-2h0m2 2h0m44 31h0m-33-23h0m12 9h0m-26-18h0m15 12h0m-3-1h0m-25-17h0m26 19h0m-12-8h0m-3-2h0m13 10h0m2 3h0m-17-12h0m3 3h0m11 8h0m0 1h0m-1 0h0m-12-8h0m11 8h0m3 3h0m-3-2h0m-1 0h0m4 3h0m-17-12h0m3 3h0m-5-2h0m17 13h0m8 6h0m-25-18h0m1 70h0m-25-20h0m17 14h0m-14-11h0m-5-4h0m2 2h0m16 14h0m12 10h0m-28-23h0m12 10h0m-10-8h0m25 21h0m-5-4h0m-10-8h0m2 2h0m6 5h0m-2-1h0m-17-14h0m-1 0h0m19 16h0m-22-18h0m25 21h0m-22-18h0m-2-1h0m12 10h0m43 36h0m-41-34h0m-12-10h0m13 12h0m25 21h0m-18-14h0m-24-20h0m56 47h0m-55-46h0m1 2h0m10 9h0m-1 0h0m-11-9h0m31 27h0m-31-26h0m47 40h0m-51-43h0m16 14h0m7 6h0m-7-5h0m9 8h0m-12-10h0m5 5h0m-5-4h0m-21-17h0m29 25h0m-19-16h0m27 23h0m-29-24h0m27 23h0m-26-21h0m21 18h0m40 35h0m-61-52h0m21 18h0m-27-23h0m15 13h0m55 48h0m-69-59h0m15 13h0m-27-23h0m31 27h0m-6-5h0m-19-16h0m22 19h0m-19-16h0m3 3h0m-4-2h0m16 14h0m-10-8h0m9 9h0m-10-8h0m31 28h0m-33-28h0m1 1h0m26 23h0m16 14h0m-33-28h0m9 8h0m-7-6h0m-12-10h0m-4-2h0m18 16h0m-5-4h0m-11-9h0m-14-12h0m25 22h0m-19-16h0m2 2h0m3 3h0m3 3h0m-5-4h0m22 20h0m-8-7h0m-10-8h0m24 22h0m-27-23h0m18 16h0m-17-15h0m1 1h0m18 16h0m7 8h0m-26-23h0m-5-4h0m18 16h0m-3-2h0m1 1h0m2 2h0m3 3h0m1 1h0m41 37h0m-61-54h0m1 1h0m10 9h0m-9-8h0m-6-5h0m46 41h0m-45-39h0m1 1h0m19 17h0m5 5h0m11 10h0m-14-12h0m2 2h0m-22-19h0m12 11h0m1 1h0m1 2h0m2 2h0m-19-17h0m40 36h0m-28-25h0m-10-8h0m-6-5h0m4 4h0m14 13h0m12 11h0m-10-9h0m5 5h0m-20-18h0m-2-1h0m2 2h0m18 17h0m-21-19h0m27 25h0m-9-8h0m-21-19h0m22 20h0m-20-18h0m16 15h0m2 2h0m33 30h0m-52-47h0m13 12h0m5 5h0m-21-19h0m1 1h0m14 13h0m2 2h0m-2-1h0m-10-9h0m14 13h0m14 13h0m-18-16h0m-14-12h0m3 3h0m18 17h0m3 3h0m-9-8h0m-3-2h0m13 12h0m-24-22h0m16 15h0m1 1h0m-18-16h0m-7-6h0m4 4h0m18 17h0m5 5h0m-24-22h0m27 25h0m-25-23h0m108 100h0m-112-101h0m25 24h0m-24-22h0m3 3h0m1 1h0m11 11h0m-2-1h0m-14-13h0m30 28h0m-17-15h0m-14-13h0m2 2h0m16 15h0m-13-12h0m-5-4h0m13 13h0m0 1h0m7 7h0m-6-5h0m2 2h0m-14-13h0m1 1h0m9 9h0m7 7h0m-8-6h0m4 4h0m-16-15h0m16 16h0m18 17h0m-35-33h0m19 18h0m3 3h0m-10-9h0m4 4h0m19 19h0m7 7h0m-30-28h0m2 2h0m-15-14h0m20 19h0m-23-21h0m102 97h0m-97-92h0m20 19h0m-11-10h0m-13-12h0m0 2h0m1 1h0m28 27h0m-27-25h0m25 24h0m-16-15h0m14 14h0m6 6h0m-19-18h0m-13-12h0m28 27h0m-17-16h0m1 1h0m5 5h0m-24-23h0m4 4h0m20 20h0m-6-5h0m-19-18h0m44 44h0m-27-26h0m38 37h0m-27-25h0m-30-29h0m3 3h0m6 6h0m12 12h0m1 1h0m4 4h0m-7-6h0m-14-13h0m12 12h0m-13-12h0m39 38h0m-25-24h0m28 29h0m19 19h0m44 43h0m-103-100h0m16 16h0m-22-21h0m0 1h0m1 1h0m4 4h0m9 9h0m-9-8h0m91 90h0m-96-94h0m1 1h0m142 140h0m-140-137h0m-2-1h0m16 16h0m1 2h0m2 2h0m1 1h0m-20-19h0m1 1h0m9 9h0m1 1h0m2 2h0m4 4h0m-18-17h0m21 21h0m-24-23h0m13 13h0m-13-12h0m2 2h0m15 15h0m7 7h0m-21-20h0m14 14h0m54 54h0m-60-59h0m22 22h0m-31-30h0m12 12h0m40 40h0m-57-56h0m17 17h0m9 9h0m-4-3h0m-2-2h0m-7-7h0m-9-9h0m-5-5h0m22 23h0m-3-2h0m-18-18h0m32 33h0m-2-2h0m-10-10h0m-8-8h0m47 48h0m-42-42h0m-2-2h0m-4-4h0m-9-9h0m15 16h0m14 15h0m-21-21h0m-9-9h0m-3-3h0m19 20h0m-16-16h0m89 91h0m-81-82h0m5 6h0m-15-15h0m-4-4h0m-3-3h0m5 7h0m16 17h0m-15-15h0m64 66h0m-54-55h0m-2-1h0m-9-9h0m-1 0h0m24 25h0m-10-10h0m-3-3h0m-11-11h0m16 17h0m-1-1h0m9 10h0m100 103h0m-111-114h0m-5-5h0m-14-14h0m3 4h0m16 17h0m-15-15h0m27 28h0m-31-32h0m23 24h0m-21-21h0m22 23h0m-12-12h0m2 3h0m-15-15h0m33 36h0m-33-33h0m19 20h0m-3-3h0m65 70h0m40 42h0m-110-115h0m-2-2h0m-9-9h0m9 10h0m7 8h0m-20-21h0m17 18h0m-5-5h0m32 34h0m-1 0h0m-32-33h0m0 1h0m29 31h0m-38-40h0m-1 0h0m116 123h0m-101-106h0m-17-18h0m-1-1h0m11 12h0m-36-38h0m27 29h0m79 84h0m19 21h0m-85-90h0m-1-1h0m5 6h0m-1-1h0m46 49h0m-63-67h0m14 15h0m-4-4h0m7 8h0m-2-2h0m-2-2h0m-15-16h0m10 11h0m27 29h0m-23-24h0m-15-16h0m14 16h0m-3-3h0m-1-1h0m-10-10h0m1 2h0m-1-1h0m26 28h0m-17-18h0m22 25h0m-33-35h0m20 22h0m-6-6h0m-13-14h0m12 14h0m22 24h0m-1-1h0m-14-15h0m-22-23h0m10 11h0m6 7h0m-1-1h0m-24-26h0m19 21h0m7 8h0m-7-7h0m-12-13h0m19 21h0m22 24h0m56 61h0m-86-93h0m1 2h0m77 84h0m-79-86h0m-13-14h0m15 18h0m-11-12h0m8 9h0m-9-9h0m20 22h0m-20-21h0m31 34h0m-33-36h0m13 15h0m17 19h0m-16-17h0m67 74h0m-72-79h0m8 9h0m-1-1h0m-19-20h0m12 14h0m1 2h0m-14-15h0m24 27h0m-22-24h0m28 31h0m-14-15h0m117 130h0m-131-145h0m27 30h0m-11-12h0m-4-4h0m-46-51h0m44 49h0m-11-11h0m13 15h0m6 7h0m-20-22h0m16 18h0m-19-21h0m24 27h0m-21-23h0m8 9h0m8 9h0m8 9h0m2 3h0m-18-20h0m2 3h0m-14-13h0m-3-3h0m16 18h0m-4-3h0m-8-9h0m-9-10h0m28 32h0m-25-28h0m5 6h0m54 61h0m-28-31h0m-18-20h0m-8-9h0m-10-11h0m7 8h0m13 15h0m-13-14h0m-9-10h0m29 33h0m5 6h0m-11-12h0m-5-5h0m4 5h0m-17-19h0m13 15h0m12 14h0m-24-26h0m-1-1h0m97 111h0m-39-44h0m-57-65h0m-10-11h0m5 6h0m21 24h0m-15-17h0m10 12h0m13 15h0m-14-16h0m65 75h0m-61-69h0m16 19h0m-14-16h0m-2-2h0m-129-148h0m115 132h0m-4-4h0m20 23h0m-1-1h0m-15-17h0m11 13h0m-14-16h0m13 15h0m-11-12h0m12 14h0m5 6h0m-7-8h0m-15-17h0m13 15h0m11 13h0m-25-28h0m17 20h0m-13-15h0m32 37h0m5 6h0m6 8h0m-45-52h0m16 19h0m-14-16h0m-3-3h0m62 72h0m-51-59h0m3 4h0m-13-15h0m-4-4h0m41 48h0m-38-44h0m10 12h0m-12-13h0m23 28h0m-12-14h0m4 5h0m-13-14h0m17 20h0m-18-21h0m22 26h0m-9-10h0m15 18h0m-13-15h0m-15-17h0m9 11h0m-13-15h0m3 5h0m14 17h0m-18-21h0m-2-2h0m5 6h0m8 10h0m-1 0h0m-8-9h0m10 12h0m35 42h0m-49-58h0m48 57h0m-45-53h0m-5-5h0m29 35h0m-6-7h0m18 22h0m-10-11h0m26 31h0m-45-53h0m-11-13h0m2 3h0m-1-1h0m93 111h0m-97-115h0m15 18h0m5 6h0m-6-7h0m4 5h0m-16-18h0m10 12h0m6 8h0m-4-4h0m-13-15h0m13 16h0m-15-18h0m12 15h0m-11-13h0m17 21h0m13 16h0m-18-21h0m-12-14h0m9 11h0m4 5h0m-15-18h0m14 17h0m1 2h0m-17-20h0m14 17h0m12 15h0m-24-29h0m14 17h0m-15-17h0m13 16h0m4 5h0m-19-23h0m17 23h0m-15-18h0m9 11h0m4 5h0m-1-1h0m20 25h0m-35-42h0m21 26h0m-5-6h0m-5-6h0m8 10h0m-8-9h0m-1-1h0m4 5h0m67 83h0m-71-87h0m-12-14h0m3 4h0m118 145h0m-101-124h0m-9-11h0m4 5h0m1 2h0m-14-17h0m21 26h0m-23-28h0m2 3h0m8 10h0m29 36h0m-26-32h0m29 36h0m-43-53h0m47 58h0m-35-43h0m-1-1h0m-11-13h0m12 15h0m-1-1h0m-1-1h0m3 5h0m-19-23h0m15 19h0m-13-16h0m28 35h0m-9-11h0m-6-6h0m-17-21h0m20 25h0m3 4h0m-17-21h0m11 14h0m-10-12h0m8 10h0m-15-18h0m4 5h0m11 14h0m-9-10h0m8 10h0m-8-9h0m-1-1h0m-4-5h0m0 2h0m58 73h0m-55-69h0m11 14h0m-11-13h0m15 19h0m-6-7h0m-10-12h0m29 37h0m-32-40h0m34 43h0m-36-45h0m12 16h0m3 4h0m79 100h0m-95-120h0m17 22h0m-12-15h0m10 13h0m-1-1h0m3 4h0m-16-19h0m10 14h0m-10-12h0m25 32h0m-12-15h0m92 118h0m-104-132h0m10 13h0m-11-14h0m-1-1h0m17 22h0m3 4h0m-26-33h0m7 10h0m38 50h0m-8-10h0m-8-10h0m-4-5h0m-4-5h0m3 4h0m-18-23h0m-1-1h0m0 1h0m12 17h0m-2-2h0m-11-14h0m21 28h0m-1 0h0m-9-11h0m54 70h0m-59-76h0m-8-10h0m8 11h0m6 8h0m3 4h0m-17-22h0m8 11h0m5 7h0m-14-18h0m10 14h0m1 2h0m-4-5h0m-13-16h0m19 25h0m-7-9h0m-14-18h0m21 28h0m2 3h0m-20-26h0m32 42h0m-31-40h0m19 25h0m-18-23h0m15 20h0m-45-59h0m28 37h0m14 19h0m-16-20h0m0 1h0m63 84h0m-47-62h0m-18-23h0m-2-1h0m3 4h0m12 17h0m-13-17h0m-1 0h0m10 14h0m-8-10h0m15 20h0m-5-6h0m-15-20h0m2 3h0m81 109h0m-42-56h0m-37-49h0m-3-4h0m68 91h0m-66-86h0m35 47h0m-28-37h0m-9-12h0m11 15h0m-10-13h0m14 19h0m-1 0h0m-6-8h0m14 19h0m-24-32h0m1 2h0m-1-1h0m123 166h0m-126-170h0m14 19h0m-9-12h0m45 61h0m-49-66h0m11 15h0m8 11h0m-21-28h0m14 19h0m-10-13h0m14 19h0m2 3h0m-6-8h0m4 6h0m-14-18h0m-3-4h0m13 18h0m-3-4h0m-17-23h0m19 26h0m7 10h0m0 1h0m22 30h0m-25-34h0m0 1h0m61 84h0m-47-64h0m-22-30h0m-14-19h0m6 9h0m16 22h0m-18-24h0m2 3h0m7 10h0m-11-15h0m23 32h0m25 35h0m-47-64h0m20 28h0m5 7h0m-29-39h0m-2-2h0m7 10h0m21 29h0m-14-19h0m-11-15h0m30 42h0m25 35h0m-45-62h0m4 6h0m2 3h0m-3-4h0m-13-17h0m2 3h0m88 122h0m-81-112h0m36 51h0m-50-69h0m23 32h0m72 100h0m-46-63h0m-49-67h0m58 81h0m-58-80h0m14 21h0m-2-2h0m-28-39h0m30 42h0m-16-22h0m14 20h0m37 52h0m-33-46h0m-13-18h0m7 10h0m-10-14h0m12 17h0m-13-18h0m0 1h0m16 23h0m4 6h0m-5-7h0m2 3h0m-20-25h0m11 16h0m6 9h0m-14-19h0m-5-7h0m12 18h0m-12-17h0m1 2h0m19 27h0m-17-24h0m-3-4h0m11 17h0m-12-17h0m16 23h0m3 5h0m9 13h0m-17-24h0m4 6h0m2 3h0m13 19h0m-15-21h0m-12-17h0m-2-2h0m9 13h0m2 4h0m1 2h0m-15-21h0m16 23h0m-5-7h0m-12-17h0m38 55h0m-27-38h0m-8-10h0m13 19h0m29 42h0m6 9h0m-41-59h0m44 65h0m-55-79h0m3 5h0m-3-4h0m59 86h0m-59-85h0m11 16h0m-13-18h0m26 38h0m-7-10h0m-25-36h0m27 40h0m28 41h0m-29-42h0m68 99h0m-77-112h0m-9-13h0m-1-1h0m-1-1h0m9 14h0m-12-17h0m14 21h0m3 5h0m-13-19h0m17 25h0m45 66h0m-63-92h0m21 31h0m-13-19h0m3 5h0m2 3h0m-13-19h0m15 22h0m47 69h0m-55-80h0m-10-14h0m17 25h0m-1-1h0m-3-4h0m2 3h0m-15-22h0m10 15h0m-1-1h0m2 4h0m-17-25h0m20 30h0m-17-24h0m29 43h0m-9-13h0m-17-25h0m24 36h0m-15-22h0m82 122h0m-93-137h0m13 21h0m24 36h0m-44-65h0m25 38h0m12 18h0m-31-46h0m14 21h0m10 16h0m-33-49h0m6 9h0m2 4h0m34 51h0m-37-55h0m-1-1h0m98 147h0m-95-140h0m9 14h0m-2-3h0m12 20h0m-20-30h0m15 24h0m41 62h0m-38-57h0m-4-6h0m20 31h0m-23-34h0m-5-7h0m47 72h0m-12-18h0m-35-52h0m-9-13h0m-4-6h0m3 6h0m7 11h0m-8-12h0m10 16h0m1 2h0m15 23h0m13 20h0m-27-40h0m0 1h0m-6-9h0m9 14h0m-17-25h0m10 16h0m27 42h0m-45-69h0m117 180h0m-112-171h0m48 74h0m-30-46h0m-19-29h0m118 182h0m-102-157h0m-13-20h0m-2-3h0m10 16h0m5 8h0m-14-21h0m7 11h0m0 1h0m-8-12h0m18 28h0m7 11h0m-15-23h0m5 8h0m-2-3h0m-14-21h0m9 14h0m-11-17h0m21 33h0m27 42h0m-30-46h0m-10-13h0m-13-20h0m43 67h0m-38-59h0m16 25h0m-9-10h0m58 91h0m-55-86h0m-5-7h0m7 11h0m-14-21h0m7 11h0m12 20h0m66 104h0m23 37h0m-102-160h0m-9-13h0m17 28h0m-23-36h0m15 24h0m47 75h0m-43-68h0m-13-20h0m-4-6h0m25 40h0m-24-38h0m9 15h0m-9-14h0m18 29h0m-9-14h0m-9-14h0m1 2h0m10 16h0m-3-4h0m-8-11h0m0 1h0m45 73h0m-46-73h0m13 21h0m2 4h0m-7-10h0m-15-23h0m-10-16h0m39 63h0m3 5h0m-28-45h0m8 13h0m-10-16h0m13 21h0m3 5h0m17 28h0m-30-48h0m-1-1h0m11 18h0m-13-21h0m11 18h0m3 5h0m-18-29h0m29 47h0m-26-42h0m13 23h0m18 30h0m-29-47h0m7 12h0m6 10h0m-1-1h0m-16-25h0m42 69h0m-21-34h0m-12-19h0m3 6h0m2 5h0m-16-26h0m3 5h0m29 48h0m-23-37h0m95 156h0m-107-175h0m14 23h0m28 46h0m-30-49h0m-7-11h0m-3-4h0m-2-3h0m3 5h0m1 2h0m17 28h0m-5-8h0m-5-8h0m-1-1h0m-11-18h0m-26-42h0m30 50h0m24 40h0m-17-28h0m6 10h0m-7-11h0m-7-11h0m-2-3h0m8 15h0m-16-26h0m54 90h0m-47-78h0m21 36h0m21 35h0m-41-68h0m6 11h0m4 7h0m-4-5h0m-9-15h0m14 24h0m-3-5h0m-3-5h0m6 11h0m-15-25h0m13 22h0m2 4h0m-15-25h0m10 17h0m-9-14h0m25 43h0m-30-50h0m19 33h0m-19-32h0m13 22h0m4 7h0m-14-23h0m11 19h0m10 17h0m-9-15h0m-12-20h0m18 31h0m-6-10h0m-12-20h0m14 24h0m23 39h0m-25-42h0m-4-6h0m-13-22h0m4 7h0m6 11h0m1 3h0m7 12h0m-5-8h0m-16-27h0m14 24h0m-1-1h0m-8-13h0m-1-1h0m7 12h0m2 4h0m-9-15h0m7 12h0m16 28h0m-17-28h0m7 12h0m-37-63h0m40 71h0m-21-36h0m11 19h0m4 7h0m-3-4h0m6 11h0m-3-5h0m-14-24h0m13 23h0m4 7h0m-10-16h0m15 26h0m-22-37h0m-1-1h0m-3-5h0m28 49h0m-19-32h0m12 21h0m-19-33h0m-2-3h0m1 2h0m8 14h0m5 9h0m-13-22h0m1 2h0m20 35h0m-5-6h0m-10-17h0m-7-12h0m8 14h0m2 4h0m-10-17h0m-4-7h0m19 34h0m-17-29h0m9 16h0m21 37h0m-31-54h0m14 25h0m-15-26h0m18 32h0m-3-5h0m-14-24h0m-2-3h0m26 46h0m-24-42h0m19 34h0m-7-12h0m-12-21h0m17 31h0m-17-30h0m10 18h0m-4-7h0m12 22h0m-19-33h0m-4-7h0m0 1h0m10 18h0m-8-14h0m28 50h0m-28-49h0m8 16h0m1 3h0m-9-16h0m10 18h0m-4-7h0m-10-17h0m3 6h0m-4-7h0m20 36h0m-21-37h0m11 20h0m21 38h0m21 40h0m-44-78h0m20 36h0m-8-14h0m11 20h0m-33-59h0m31 56h0m-21-37h0m-7-12h0m6 11h0m14 27h0m-15-27h0m-10-18h0m16 29h0m-3-5h0m6 11h0m-16-27h0m7 13h0m5 10h0m-2-3h0m-11-20h0m6 12h0m3 7h0m-4-7h0m-9-16h0m10 19h0m1 2h0m83 152h0m-80-146h0m-4-7h0m2 4h0m8 16h0m-13-23h0m-6-11h0m7 13h0m-1-1h0m7 13h0m-6-11h0m11 22h0m-19-35h0m9 17h0m19 36h0m-17-31h0m-1-1h0m-4-7h0m1 2h0m2 4h0m-5-8h0m8 15h0m-17-31h0m15 28h0m-14-26h0m10 19h0m-1-1h0m1 2h0m-13-24h0m-1-1h0m13 25h0m-4-5h0m-6-11h0m-4-7h0m17 32h0m-13-24h0m6 12h0m-9-16h0m9 17h0m1 2h0m-8-15h0m11 21h0m-12-22h0m48 91h0m-39-73h0m0 1h0m2 5h0m-16-28h0m19 36h0m-20-37h0m10 19h0m3 6h0m-9-17h0m7 14h0m35 68h0m-48-91h0m12 23h0m-8-15h0m7 15h0m-10-18h0m2 4h0m0 1h0m25 48h0m-29-55h0m15 29h0m-6-10h0m18 35h0m-12-23h0m-3-3h0m8 16h0m-13-25h0m2 4h0m-8-14h0m10 20h0m4 9h0m-7-13h0m-12-23h0m19 37h0m-16-31h0m-3-5h0m20 39h0m-9-17h0m2 4h0m-15-28h0m4 9h0m11 22h0m-6-10h0m3 6h0m2 4h0m-6-10h0m-6-11h0m-4-7h0m2 5h0m1 3h0m-3-5h0m8 16h0m5 11h0m1 3h0m25 50h0m-32-63h0m7 14h0m-16-31h0m14 28h0m-17-33h0m16 32h0m3 6h0m1 2h0m-17-33h0m2 4h0m5 11h0m2 4h0m4 8h0m4 8h0m34 68h0m-50-99h0m8 17h0m-12-23h0m9 18h0m3 6h0m-10-19h0m12 24h0m-1 0h0m-11-22h0m19 39h0m-8-16h0m-11-22h0m5 11h0m-7-14h0m58 117h0m-48-96h0m-9-18h0m80 161h0m-83-166h0m17 35h0m-6-12h0m-1-2h0m-1-2h0m-10-20h0m3 7h0m-2-4h0m19 39h0m-7-14h0m-4-8h0m-9-18h0m12 25h0m-10-20h0m10 21h0m19 39h0m-5-10h0m-33-66h0m18 37h0m-10-20h0m17 35h0m-18-36h0m9 19h0m-10-18h0m49 100h0m-52-106h0m-3-4h0m10 22h0m-8-15h0m8 17h0m-6-12h0m-1-2h0m14 29h0m-2-4h0m17 35h0m-19-39h0m-1-1h0m14 29h0m-23-47h0m9 19h0m-4-8h0m-9-18h0m34 72h0m-17-35h0m-5-9h0m-13-25h0m15 32h0m-13-27h0m-1-2h0m12 27h0m-1-2h0m-4-8h0m11 23h0m-18-37h0m8 17h0m-11-22h0m14 30h0m-15-30h0m8 17h0m5 11h0m16 34h0m-28-58h0m-2-3h0m9 21h0m-2-4h0m-12-25h0m14 30h0m-9-19h0m9 22h0m-15-31h0m3 8h0m2 5h0m-2-3h0m-3-6h0m13 28h0m-1-1h0m-1-2h0m-8-17h0m-1-2h0m22 47h0m-7-14h0m-24-50h0m17 37h0m-8-17h0m6 13h0m-6-12h0m5 11h0m4 9h0m-4-8h0m-7-15h0m1 3h0m13 28h0m-3-6h0m-2-4h0m-1-2h0m-7-15h0m9 20h0m0 1h0m-11-23h0m6 13h0m23 52h0m-32-69h0m39 86h0m-26-56h0m-4-7h0m3 7h0m-1 0h0m19 42h0m-30-65h0m9 20h0m-4-8h0m8 18h0m71 156h0m-73-160h0m-13-26h0m37 83h0m-32-70h0m-5-11h0m9 21h0m-2-4h0m-1-2h0m-2-4h0m-5-11h0m11 25h0m-3-6h0m3 8h0m-13-28h0m12 28h0m4 9h0m-10-22h0m3 7h0m-10-22h0m16 36h0m-6-13h0m-10-22h0m0 1h0m11 25h0m16 36h0m-34-75h0m11 26h0m-5-11h0m8 18h0m2 7h0m-1-2h0m39 88h0m-40-88h0m-5-11h0m2 5h0m6 15h0m-8-18h0m-6-13h0m-3-5h0m1 3h0m11 25h0m-4-9h0m-9-19h0m1 3h0m1 3h0m-1-2h0m5 14h0m0 1h0m-8-18h0m-1-2h0m9 21h0m3 7h0m-10-22h0m13 30h0m16 37h0m-31-69h0m20 46h0m-1-2h0m-10-21h0m-9-20h0m12 29h0m-13-30h0m14 33h0m-2-4h0m-13-30h0m7 18h0m-6-13h0m6 15h0m-7-15h0m21 49h0m-16-37h0m12 28h0m-8-18h0m3 7h0m0 1h0m-8-18h0m1 3h0m-2-3h0m4 10h0m1 3h0m1 3h0m0 1h0m-3-7h0m-9-21h0m-1-1h0m22 53h0m-24-56h0m2 5h0m-2-4h0m24 57h0m-17-40h0m3 9h0m-12-28h0m8 19h0m1 3h0m16 38h0m-17-38h0m2 5h0m1 3h0m-10-23h0m-2-3h0m-1-2h0m7 17h0m5 13h0m-6-12h0m-5-12h0m-2-4h0m-2-4h0m11 27h0m-4-7h0m2 5h0m-1-2h0m-6-14h0m-1-2h0m-2-4h0m2 5h0m7 17h0m-1 0h0m-2-4h0m0 1h0m-1-1h0m4 10h0m-10-24h0m18 45h0m-9-21h0m-9-22h0m37 91h0m-32-78h0m3 8h0m22 54h0m-32-78h0m10 25h0m-10-24h0m6 15h0m-5-12h0m-2-4h0m2 5h0m10 25h0m-5-12h0m-6-13h0m-1-2h0m10 26h0m-5-12h0m-5-12h0m-3-7h0m3 8h0m8 22h0m-1-2h0m-30-74h0m26 66h0m3 8h0m-3-7h0m3 8h0m-11-27h0m9 25h0m-10-25h0m17 43h0m-9-22h0m39 98h0m-40-98h0m-8-20h0m7 18h0m-5-12h0m17 44h0m-8-20h0m-5-12h0m19 48h0m-26-65h0m10 26h0m-2-5h0m-6-15h0m7 21h0m-9-20h0m7 18h0m-9-22h0m1 4h0m4 12h0m4 11h0m-4-10h0m-5-12h0m4 11h0m0 1h0m4 11h0m0 1h0m-1-2h0m-4-10h0m-5-12h0m8 23h0m-2-5h0m0 2h0m-8-19h0m-3-7h0m41 107h0m-39-101h0m11 29h0m6 16h0m-12-31h0m6 18h0m-13-33h0m29 77h0m-6-15h0m-15-38h0m-2-5h0m6 16h0m-13-34h0m14 39h0m-5-13h0m-2-5h0m0 2h0m-8-20h0m6 16h0m-10-26h0m1 4h0m7 19h0m3 9h0m3 8h0m-2-5h0m-2-5h0m1 5h0m-11-29h0m7 19h0m-1-2h0m2 6h0m-7-18h0m7 20h0m-8-21h0m-2-5h0m6 18h0m1 5h0m-9-23h0m0 2h0m22 60h0m-11-29h0m-12-32h0m8 22h0m5 14h0m-11-29h0m4 11h0m-7-19h0m8 22h0m-8-21h0m8 22h0m1 4h0m-10-27h0m2 8h0m7 20h0m27 74h0m-30-82h0m-6-16h0m10 28h0m-9-24h0m-1-2h0m8 22h0m8 22h0m-16-41h0m-5-13h0m13 36h0m-9-23h0m-3-8h0m10 28h0m-9-24h0m1 3h0m7 21h0m-1-1h0m0 1h0m-9-25h0m10 28h0m-9-24h0m5 14h0m1 3h0m3 9h0m-9-25h0m5 14h0m2 7h0m1 3h0m-2-5h0m1 3h0m-1-2h0m-9-25h0m-1-1h0m9 26h0m0 1h0m9 26h0m-11-29h0m-7-19h0m8 23h0m-10-27h0m-1-1h0m8 24h0m-8-22h0m2 7h0m4 13h0m2 6h0m-8-22h0m1 3h0m-1-2h0m9 26h0m0 1h0m3 9h0m-5-13h0m-3-8h0m-7-20h0m8 25h0m-8-23h0m2 6h0m10 30h0m0 1h0m-12-33h0m5 16h0m-33-95h0m28 82h0m-1-2h0m5 17h0m6 18h0m-4-11h0m-9-26h0m7 21h0m-6-17h0m4 12h0m-5-13h0m0 2h0m6 19h0m-2-5h0m-9-26h0m11 33h0m-8-23h0m-2-5h0m6 19h0m-6-17h0m11 33h0m-10-27h0m-27-80h0m44 132h0m-14-40h0m-16-47h0m4 12h0m7 23h0m4 12h0m1 3h0m2 7h0m-2-6h0m1 5h0m-3-8h0m-4-12h0m-1-3h0m-1-3h0m1 5h0m-3-9h0m7 22h0m-4-12h0m8 26h0m-9-26h0m-2-4h0m13 41h0m-12-36h0m12 38h0m-13-39h0m7 22h0m-1-3h0m-7-18h0m-1-1h0m0 1h0m10 31h0m-10-30h0m10 32h0m-2-6h0m-5-14h0m-4-12h0m-2-6h0m0 1h0m8 25h0m-1-3h0m-6-17h0m6 20h0m-1-3h0m-1 1h0m1 4h0m-3-9h0m-4-12h0m5 16h0m-6-18h0m6 20h0m-2-6h0m-6-17h0m0 1h0m7 23h0m-7-21h0m6 19h0m17 55h0m10 32h0m-29-91h0m-1 0h0m2 7h0m-6-19h0m5 16h0m1 4h0m-2-4h0m6 20h0m-13-40h0m9 29h0m-9-24h0m-1-3h0m7 23h0m1 4h0m-8-24h0m0 1h0m-15-46h0m12 39h0m2 7h0m6 20h0m0 2h0m-1-3h0m2 13h0m-12-39h0m6 20h0m3 10h0m23 76h0m-22-72h0m-9-28h0m-1-3h0m0 1h0m-1-1h0m6 20h0m-1-3h0m2 7h0m-18-56h0m9 30h0m1 4h0m-1-3h0m0 1h0m6 21h0m-6-20h0m7 24h0m-3-7h0m-5-15h0m7 25h0m-3-7h0m4 14h0m-9-30h0m4 14h0m-7-23h0m8 28h0m-6-19h0m6 21h0m-6-20h0m-1-3h0m0 2h0m4 14h0m2 7h0m1 4h0m-7-23h0m7 24h0m-3-7h0m-7-23h0m7 25h0m-2-6h0m2 7h0m-7-24h0m-47 37h0m-8-35h0m5 24h0m-8-35h0m12 54h0m-4-13h0m0 1h0m0 1h0m-10-44h0m-1-4h0m2 9h0m6 27h0m1 5h0m-7-30h0m17 79h0m-10-45h0m-2-8h0m-5-22h0m8 37h0m-8-36h0m4 19h0m2 10h0m1 5h0m-2-9h0m5 23h0m-11-49h0m8 37h0m29 133h0m-33-150h0m-1 4h0m3 14h0m0 2h0m-2-9h0m-1-4h0m-2-6h0m-3-13h0m10 47h0m-6-26h0m3 16h0m3 14h0m-11-51h0m6 28h0m-10-46h0m4 19h0m7 33h0m-2-7h0m-3-14h0m-5-23h0m2 10h0m-2-9h0m2 10h0m-2-9h0m0 3h0m4 19h0m4 19h0m-9-42h0m7 34h0m-2-9h0m2 10h0m-6-26h0m5 24h0m-6-28h0m6 30h0m1 6h0m0 2h0m-8-38h0m15 72h0m-17-81h0m10 48h0m-2-9h0m3 16h0m-6-28h0m-4-17h0m7 34h0m1 6h0m12 58h0m-15-69h0m-5-24h0m-2-9h0m8 39h0m-2-9h0m-11-53h0m-9-42h0m15 73h0m7 34h0m-10-48h0m7 34h0m-4-19h0m3 15h0m-7-34h0m10 49h0m6 30h0m-13-60h0m-1-4h0m3 17h0m3 16h0m13 64h0m-27-132h0m15 75h0m5 25h0m-15-73h0m2 10h0m17 85h0m-12-59h0m-11-54h0m2 14h0m2 10h0m8 40h0m-8-38h0m1 5h0m4 20h0m4 23h0m-11-54h0m8 40h0m5 25h0m-13-64h0m-1-5h0m-1-1h0m8 41h0m-2-9h0m0 2h0m-4-19h0m-5-25h0m5 26h0m7 36h0m-3-15h0m0 1h0m-5-25h0m6 32h0m-3-15h0m22 112h0m-21-105h0m-1-5h0m-3-15h0m-2-10h0m-2-9h0m8 41h0m-8-40h0m8 41h0m-1-5h0m6 31h0m-6-29h0m-1-5h0m-3-15h0m15 77h0m-13-65h0m3 16h0m13 67h0m-14-70h0m2 13h0m-11-56h0m2 12h0m9 48h0m-4-20h0m-2-9h0m3 17h0m-1-5h0m10 54h0m-10-50h0m-2-10h0m4 21h0m-8-41h0m0 1h0m-1-5h0m-2-10h0m8 43h0m-9-47h0m7 37h0m15 81h0m4 23h0m-20-105h0m-4-21h0m12 65h0m7 40h0m-20-106h0m-1-3h0m-2-9h0m8 45h0m11 59h0m-6-31h0m-8-42h0m-4-21h0m4 23h0m7 38h0m-7-37h0m-6-32h0m8 44h0m-1-5h0m2 12h0m-10-53h0m7 38h0m1 6h0m-5-26h0m5 28h0m-3-15h0m2 11h0m6 34h0m-12-65h0m5 30h0m-7-38h0m2 11h0m6 36h0m-1-5h0m2 11h0m-3-16h0m-2-9h0m6 34h0m-3-15h0m-1-4h0m-3-15h0m7 41h0m-10-53h0m-1-5h0m7 39h0m-2-10h0m-2-11h0m0 2h0m1 7h0m5 28h0m-9-50h0m-1 1h0m3 17h0m-1-5h0m-5-27h0m7 43h0m-5-28h0m4 23h0m-5-25h0m-2-11h0m-1-5h0m2 13h0m6 35h0m-6-33h0m-2-11h0m11 64h0m-10-57h0m4 24h0m-4-23h0m1 6h0m6 35h0m-7-40h0m5 30h0m-2-11h0m-3-17h0m6 35h0m-2-10h0m-4-22h0m6 36h0m-3-16h0m-4-22h0m-1-5h0m1 7h0m4 26h0m10 59h0m-15-87h0m12 71h0m-12-69h0m9 57h0m1 7h0m-11-63h0m2 13h0m-5-29h0m5 30h0m-6-34h0m7 42h0m-2-10h0m-4-23h0m0 2h0m0 2h0m10 60h0m3 18h0m-7-41h0m-8-47h0m8 49h0m-2-10h0m-7-42h0m21 129h0m-13-78h0m-1-6h0m-6-36h0m1 11h0m2 13h0m1 9h0m-4-24h0m2 15h0m-2-12h0m-2-11h0m1 8h0m3 21h0m-3-18h0m-1-5h0m3 21h0m0 1h0m-6-36h0m3 19h0m-3-18h0m-1-5h0m2 19h0m-1-5h0m1 7h0m5 33h0m-7-43h0m0 5h0m1 7h0m-3-19h0m5 32h0m3 22h0m-8-51h0m1 7h0m6 40h0m-6-38h0m1 7h0m2 13h0m17 114h0m-15-96h0m-3-18h0m-5-32h0m7 47h0m1 7h0m-3-18h0m1 8h0m-2-12h0m-4-24h0m-1-3h0m1 7h0m3 20h0m1 7h0m6 41h0m-12-77h0m2 15h0m5 33h0m-5-31h0m-1-6h0m13 86h0m-9-57h0m0 1h0m3 20h0m-3-14h0m7 49h0m-10-66h0m-3-19h0m0 2h0m12 81h0m-12-80h0m7 48h0m-5-32h0m4 29h0m-4-26h0m-6-40h0m6 41h0m0 1h0m-4-27h0m1 7h0m15 103h0m-16-108h0m1 8h0m3 23h0m-1-5h0m-5-34h0m6 43h0m-4-27h0m-1-6h0m8 56h0m-3-20h0m-6-41h0m7 49h0m3 25h0m-10-64h0m-2-13h0m1 8h0m-1-6h0m5 36h0m17 120h0m-10-69h0m-12-84h0m3 22h0m-2-13h0m-2-12h0m5 37h0m-5-35h0m1 9h0m2 17h0m-3-20h0m21 150h0m-17-119h0m-5-34h0m3 22h0m2 15h0m12 86h0m-14-100h0m20 145h0m-12-84h0m-7-49h0m-5-36h0m5 37h0m1 8h0m-5-36h0m-1-7h0m4 31h0m-1-6h0m1 8h0m-2-14h0m19 139h0m-14-101h0m-7-50h0m1 12h0m2 15h0m-4-27h0m5 37h0m-2-14h0m-1-7h0m-4-28h0m5 39h0m-4-28h0m0 1h0m5 41h0m1 9h0m-7-52h0m2 15h0m12 95h0m-12-89h0m-3-22h0m5 39h0m-1-6h0m-4-30h0m1 13h0m2 16h0m8 61h0m-12-91h0m17 129h0m-15-113h0m-2-14h0m1 12h0m1 9h0m-3-21h0m4 32h0m-5-36h0m3 25h0m-3-22h0m3 24h0m0 7h0m8 63h0m-14-109h0m4 32h0m-4-29h0m12 95h0m-11-86h0m2 16h0m6 49h0m-4-30h0m-4-31h0m5 40h0m1 8h0m3 27h0m-10-79h0m2 16h0m5 43h0m-3-23h0m-6-46h0m5 44h0m-4-32h0m2 17h0m0 2h0m0 3h0m-1-7h0m-4-32h0m5 41h0m-3-22h0m6 51h0m-3-23h0m-4-32h0m2 17h0m-2-16h0m0 3h0m10 86h0m-11-90h0m2 17h0m1 9h0m-1-5h0m2 18h0m-5-41h0m3 25h0m1 9h0m-4-32h0m2 17h0m3 30h0m-4-30h0m3 29h0m13 110h0m-18-151h0m-2-15h0m4 36h0m-5-40h0m5 43h0m1 11h0m-1-8h0m-1-7h0m-3-25h0m-1-8h0m7 60h0m-6-49h0m-2-17h0m0 1h0m5 43h0m-5-38h0m5 44h0m3 27h0m-8-69h0m-1-3h0m1 11h0m4 35h0m13 115h0m-18-154h0m3 31h0m-1-6h0m-4-35h0m1 11h0m9 80h0m-7-59h0m-2-15h0m-1-8h0m3 29h0m2 22h0m-5-42h0m-1-7h0m-1-9h0m5 47h0m-1-8h0m-3-26h0m3 28h0m-3-27h0m3 28h0m0 1h0m1 10h0m-3-22h0m0 1h0m-2-16h0m-2-16h0m5 51h0m-5-41h0m13 124h0m-10-92h0m0 2h0m0 4h0m-2-18h0m5 48h0m-5-46h0m1 11h0m1 10h0m-2-19h0m-2-19h0m-2-19h0m5 48h0m-6-47h0m0 4h0m4 39h0m1 11h0m-4-38h0m10 97h0m-7-67h0m1 10h0m0 2h0m-5-45h0m-1-9h0m3 30h0m-2-19h0m2 23h0m-4-37h0m3 31h0m3 31h0m-7-66h0m6 63h0m-2-19h0m-4-37h0m10 101h0m-10-99h0m5 55h0m-1-10h0m-4-40h0m2 21h0m3 34h0m-6-60h0m12 126h0m-10-98h0m-2-19h0m2 22h0m-2-17h0m1 12h0m-2-14h0m4 42h0m-4-40h0m1 12h0m2 21h0m-2-19h0m-3-28h0m4 43h0m-3-30h0m2 22h0m-2-21h0m1 13h0m2 26h0m-4-39h0m6 65h0m-5-52h0m1 11h0m-3-32h0m4 46h0m6 65h0m-8-84h0m1 12h0m-4-42h0m4 44h0m-4-42h0m2 22h0m-3-30h0m6 66h0m-2-21h0m-1-8h0m0 3h0m-3-32h0m2 22h0m2 22h0m-1-10h0m2 22h0m-2-20h0m-4-44h0m13 148h0m-6-65h0m-7-77h0m3 37h0m-1-10h0m1 13h0m5 58h0m-9-99h0m4 45h0m1 13h0m-3-33h0m-2-21h0m0 2h0m3 37h0m0 1h0m-1-10h0m16 182h0m-14-159h0m-3-32h0m2 24h0m-4-40h0m2 27h0m5 60h0m-8-88h0m2 28h0m-2-23h0m1 12h0m-2-19h0m2 25h0m-1-6h0m-3-33h0m0 4h0m1 17h0m1 16h0m1 13h0m0 1h0m0 10h0m-4-43h0m-1-9h0m0 4h0m2 25h0m1 13h0m-3-37h0m2 26h0m0 1h0m-2-24h0m2 26h0m-2-24h0m2 25h0m1 17h0m-2-25h0m-3-30h0m1 13h0m0 2h0m-1-9h0m0 3h0m1 19h0m-2-23h0m-1-8h0m1 17h0m-1-12h0m3 40h0m-3-36h0m3 41h0m-4-50h0m3 41h0m0 5h0m-3-39h0m2 34h0m1 17h0m-3-39h0m2 27h0m-1-12h0m-2-27h0m-1-9h0m8 111h0m-6-78h0m0 3h0m-2-27h0m0 3h0m2 30h0m1 15h0m13 180h0m-15-204h0m1 15h0m0 3h0m-3-41h0m0 8h0m2 32h0m-4-49h0m2 32h0m-1-12h0m3 48h0m-4-55h0m8 118h0m-5-72h0m-1-14h0m-3-43h0m2 30h0m1 16h0m-2-28h0m1 16h0m0 2h0m0 8h0m-1-14h0m0 3h0m0 4h0m5 79h0m-5-71h0m0 3h0m0 7h0m-1-12h0m0 1h0m-1 0h0m-1-2h0m0 2h0m0 1h0m0 2h0m2 32h0m-5-77h0m1 16h0m-1-10h0m-1-14h0m1 17h0m0 6h0m-1-16h0m1 17h0m-1-13h0m11 186h0m-11-178h0m-1-12h0m0 2h0m2 37h0m-1-9h0m1 18h0m-3-49h0m4 71h0m-1-15h0m-4-56h0m2 41h0m0 1h0m0 4h0m0 6h0m-3-52h0m0 5h0m1 27h0m1 20h0m-2-33h0m-1-14h0m2 43h0m-1-17h0m-1-18h0m1 24h0m3 58h0m-5-86h0m0 2h0m0 1h0m1 19h0m-1-17h0m0 5h0m1 27h0m1 20h0m-4-73h0m2 40h0m1 20h0m-3-51h0m2 43h0m0 1h0m0 2h0m-1-17h0m0 1h0m2 41h0m-3-55h0m0 1h0m-1-19h0m3 64h0m-2-33h0m-1-19h0m0 4h0m0 1h0m-1-17h0m3 60h0m-3-49h0m0 4h0m0 4h0m1 23h0m0 1h0m0 1h0m0 4h0m-2-38h0m0 6h0m0 2h0m2 42h0m-3-51h0m0 7h0m0 3h0m1 24h0m0 2h0m-2-39h0m0 6h0m1 29h0m0 5h0m-2-42h0m-7-150h0m8 178h0m-3-65h0m3 68h0m0 1h0m-1-17h0m1 26h0m0 1h0m-2-44h0m0 3h0m-1 1h0m0 2h0m2 56h0m-2-46h0m1 24h0m-2-34h0m4 96h0m-3-63h0m0 3h0m-1-12h0m0 5h0m-3-59h0m1 26h0m1 28h0m1 30h0m-1-19h0m-1-24h0m2 53h0m-1-20h0m0 3h0m-2-50h0m0 4h0m0 2h0m2 53h0m-1-25h0m-1-22h0m1 30h0m-1-15h0m-1-25h0m1 34h0m-1-24h0m2 63h0m-3-77h0m1 29h0m3 86h0m-3-82h0m-1-4h0m0 3h0m-1-16h0m1 65h0m-1-27h0m-2-51h0m0 7h0m1 46h0m1 34h0m-1-31h0m-1-23h0m0 7h0m-1-26h0m-1-1h0m0 1h0m1 36h0m-1-24h0m0 2h0m-1-17h0m0 3h0m0 13h0m-1-24h0m1 47h0m-1-12h0m-1-34h0m0 3h0m0 5h0m-1-13h0m2 79h0m-2-74h0m2 82h0m-1-31h0m-1-29h0m0 1h0m0 4h0m-1-35h0m0 2h0m1 41h0m0 5h0m-1-6h0m-1-42h0m1 45h0m1 46h0m-2-73h0m1 48h0m-1-36h0m0 8h0m-1-23h0m0 15h0m0 2h0m0 10h0m0 6h0m-1-37h0m1 50h0m-1-43h0m0 12h0m0 17h0m-1-46h0m0 3h0m0 1h0m0 25h0m1 57h0m-1-44h0m0 6h0m-1-41h0m0 5h0m1 56h0m-1-39h0m0 4h0m0 10h0m1 61h0m-1-48h0m-1-56h0m0 15h0m0 14h0m0 1h0m1 94h0m-2-113h0m1 81h0m-1-59h0m0 5h0m0 18h0m-1-59h0m0 34h0m0 11h0m0 24h0m-1-67h0m0 18h0m0 14h0m0 30h0m0 6h0m-1-74h0m0 14h0m0 10h0m0 12h0m0 16h0m0 20h0m-1-36h0m0 13h0m-1-35h0m0 22h0m0 2h0m0 10h0m0 20h0m-1-57h0m0 1h0m0 24h0m0 17h0m0 13h0m0 10h0m0 9h0m-1-77h0m0 4h0m0 3h0m0 1h0m0 31h0m0 21h0m-1-51h0m0 1h0m0 20h0m0 3h0m0 7h0m-1-35h0m0 1h0m0 41h0m-1-19h0m0 12h0m0 1h0m0 2h0m0 4h0m-1-52h0m0 6h0m0 3h0m0 48h0m0 36h0m-1-81h0m0 3h0m0 18h0m0 14h0m0 82h0m-1-124h0m0 3h0m0 3h0m0 10h0m0 13h0m0 19h0m-1-46h0m0 26h0m0 2h0m0 5h0"/>
<path stroke="#e8721c" d="M1229 2233h0m-451-103h0m-66-60h0m-56-57h0m-18-28h0m-91-220h0m-77-178h0m2-3h0m37-25h0m-56 2h0m23-4h0m20-10h0m-24-1h0m-9-19h0m26-18h0m-18-33h0m-13-106h0m5-86h0m-7-4h0m881-635h0m4-41h0m7 38h0m2-61h0m4-3h0m0 19h0m4 101h0m8-96h0m2 2h0m2-30h0m-1 37h0m2-32h0m-2 63h0m12-60h0m4-5h0m-2 30h0m2 14h0m1 30h0m0 5h0m5-62h0m-7 125h0m8-89h0m0 16h0m6-62h0m4-5h0m0 2h0m4 36h0m-9 111h0m13-125h0m4-3h0m4-32h0m-14 135h0m15-126h0m15 17h0m-10 93h0m9-66h0m9-47h0m-20 161h0m16-107h0m5-21h0m3 1h0m0 14h0m11-38h0m-9 66h0m-6 55h0m21-109h0m4-13h0m3-2h0m-26 154h0m14-63h0m7-26h0m12-41h0m4-19h0m-6 40h0m7-36h0m1-5h0m10-2h0m3 29h0m4-15h0m-6 32h0m-3 24h0m16-63h0m-2 11h0m-14 79h0m11-50h0m4-13h0m4-17h0m-5 27h0m4-18h0m-14 72h0m1 1h0m8-33h0m-10 54h0m27-116h0m-17 75h0m18-68h0m-1 11h0m-4 40h0m10-41h0m4-7h0m-15 70h0m2-8h0m6-19h0m1-4h0m-18 73h0m32-119h0m-4 22h0m2 4h0m-9 45h0m-5 32h0m5-16h0m0 3h0m4-12h0m15-53h0m-4 15h0m0 14h0m5-16h0m4-6h0m-8 54h0m7-19h0m2 0h0m-7 29h0m15-49h0m6 11h0m-6 26h0m21-62h0m4 1h0m0 2h0m3-3h0m5 16h0m5-12h0m-23 84h0m27-69h0m16-15h0m-8 23h0m4-10h0m-31 88h0m9-25h0m-20 58h0m51-131h0m-6 29h0m11-18h0m6-4h0m-55 146h0m17-42h0m22-54h0m11-24h0m3 0h0m10-21h0m0 4h0m-2 24h0m-5 18h0m-8 35h0m31-66h0m11-10h0m-31 72h0m13-23h0m-16 87h0m27-55h0m21-26h0m24-24h0m5 6h0m13-13h0m24 67h0m3 0h0m-9 25h0m-6 23h0m0 1h0m35-41h0m9-9h0m-19 43h0m6-9h0m-8 15h0m29-34h0m6-6h0m4 13h0m-11 18h0m4 8h0m9-8h0m2-1h0m10-10h0m-9 26h0m-27 45h0m41-53h0m-53 73h0m54-71h0m-10 14h0m15-15h0m11-8h0m-77 108h0m81-101h0m-5 8h0m-24 32h0m-28 37h0m11-10h0m50-63h0m6-2h0m-34 46h0m32-39h0m-7 10h0m3-1h0m-11 18h0m7-4h0m13-13h0m-27 33h0m-42 54h0m21-20h0m62-67h0m-7 16h0m-15 18h0m-9 12h0m28-25h0m-38 44h0m18-16h0m0 3h0m34-38h0m-29 34h0m31-32h0m-79 99h0m54-60h0m25-23h0m6 0h0m-34 39h0m45-47h0m-3 4h0m-52 61h0m56-42h0m12 3h0m-64 68h0m41-23h0m11-4h0m15-12h0m-35 34h0m36-31h0m-4 7h0m33-17h0m-6 8h0m16 3h0m-4 5h0m-58 57h0m21-14h0m26-18h0m108 40h0m-18 16h0m18-1h0m8 3h0m-7 28h0m23-3h0m-78 49h0m78-46h0m11 0h0m-16 10h0m-31 21h0m12-6h0m-10 7h0m-23 16h0m59-34h0m9-1h0m-7 14h0m-26 19h0m27-13h0m-4 4h0m-12 11h0m24-12h0m0 1h0m-74 42h0m85-43h0m9-2h0m-23 14h0m0 1h0m19-8h0m-67 36h0m25-6h0m38-12h0m-15 8h0m25-8h0m-86 46h0m65-30h0m-38 19h0m30-14h0m29-14h0m6-1h0m-75 38h0m69-23h0m-21 10h0m28-13h0m-25 16h0m38-17h0m-60 29h0m58-22h0m-30 16h0m-80 37h0m116-49h0m-13 6h0m-35 16h0m9-3h0m33-14h0m-13 7h0m15-6h0m2 3h0m1 0h0m-32 14h0m6 0h0m20-6h0m-33 18h0m33-10h0m10-4h0m7 4h0m-35 19h0m30-11h0m-6 5h0m-11 6h0m-60 24h0m75-24h0m-5 3h0m16 0h0m-27 13h0m-67 26h0m86-31h0m1 0h0m-77 29h0m88-31h0m2 1h0m-29 15h0m-18 7h0m52-15h0m-29 12h0m25-5h0m7-1h0m-103 39h0m30-5h0m41-12h0m-8 4h0m24-5h0m14-3h0m-69 23h0m21-3h0m40-12h0m6 1h0m-59 19h0m48-15h0m23-4h0m1 2h0m-9 5h0m-2 2h0m-32 12h0m35-8h0m-28 9h0m27-8h0m-20 12h0m11 3h0m4 2h0m19-3h0m-29 11h0m-15 7h0m13-2h0m35-9h0m-15 6h0m-38 13h0m-18 5h0m24-5h0m30-5h0m3 2h0m-4 2h0m2 1h0m-3 4h0m23-5h0m2 3h0m-75 25h0m23-4h0m40-8h0m-5 10h0m14-2h0m-11 5h0m-4 11h0m-3 6h0m28-3h0m-2 5h0m-39 21h0m-19 8h0m21 66h0m-104 10h0m150-9h0m-5 6h0m-41 5h0m24 0h0m-33 3h0m55 0h0m-12 1h0m-147 14h0m155-8h0m-2 1h0m-129 8h0m106-5h0m31 10h0m-9 1h0m2 7h0m-17 3h0m-109 3h0m11 1h0m117-1h0m-84 3h0m-72 5h0m159 0h0m-21 3h0m17 8h0m-110 4h0m78 1h0m10 1h0m7 2h0m-69 1h0m32 1h0m31 1h0m-41 0h0m-4 1h0m67 5h0m-15 0h0m0 3h0m-7 0h0m18 1h0m-133-1h0m118 8h0m-33 0h0m27 1h0m-8 0h0m20 1h0m18 1h0m-6 0h0m-137-5h0m60 3h0m38 4h0m-9 0h0m-2 0h0m45 2h0m11 2h0m-12 1h0m12 3h0m-48-2h0m40 3h0m2 1h0m-60-2h0m-7 3h0m17 2h0m-18-1h0m-71-3h0m39 5h0m98 10h0m-83-5h0m33 3h0m18 4h0m-36 0h0m-64-3h0m78 7h0m-94-7h0m144 12h0m6 1h0m-2 0h0m-1 0h0m2 2h0m-7 0h0m4 1h0m-13-1h0m-13-1h0m19 4h0m13 2h0m-31-2h0m9 1h0m16 4h0m-136-12h0m104 10h0m-9 1h0m9 1h0m8 5h0m30 7h0m-53-5h0m-48-5h0m62 8h0m14 4h0m15 2h0m-92-10h0m47 8h0m13 4h0m39 6h0m-13 1h0m-31-3h0m-1 1h0m-80-8h0m103 14h0m-16-2h0m-33-3h0m52 7h0m-135-17h0m63 9h0m71 11h0m-69-9h0m11 2h0m-15-2h0m86 12h0m-48-6h0m-41-5h0m87 13h0m-96-12h0m69 10h0m14 2h0m1 1h0m-86-12h0m96 15h0m-40-3h0m-42-6h0m85 17h0m-92-14h0m5 3h0m25 4h0m35 6h0m7 2h0m-15-2h0m-10-1h0m44 8h0m-9-1h0m-15-2h0m1 1h0m-52-8h0m-62-9h0m57 10h0m11 3h0m62 13h0m4 2h0m-39-3h0m-87-15h0m73 13h0m-5 0h0m56 10h0m-53-8h0m36 7h0m-42-6h0m59 11h0m-112-20h0m113 21h0m-26-4h0m-16-2h0m7 2h0m31 6h0m-57-9h0m49 11h0m-56-9h0m-88-17h0m152 30h0m-89-16h0m95 21h0m-100-19h0m86 18h0m-28-5h0m36 8h0m-1 0h0m-36-6h0m43 9h0m-65-13h0m5 2h0m48 10h0m-25-4h0m30 8h0m-115-24h0m106 23h0m-3 1h0m-53-11h0m48 11h0m14 5h0m-52-11h0m52 12h0m-42-9h0m21 6h0m-19-2h0m-20-3h0m19 5h0m20 6h0m25 7h0m-65-14h0m34 8h0m21 6h0m-85-19h0m-13-3h0m88 21h0m-30-6h0m10 4h0m31 8h0m-3 0h0m7 4h0m-100-23h0m82 21h0m-131-30h0m145 37h0m-82-20h0m37 13h0m39 10h0m-12-2h0m-4-1h0m-49-12h0m-15-3h0m72 20h0m13 5h0m-19-4h0m-36-8h0m56 16h0m-24-4h0m-63-15h0m-27-7h0m-4-1h0m114 31h0m-15-4h0m10 3h0m-18-3h0m26 8h0m0 1h0m-23-6h0m16 5h0m3 1h0m-19-5h0m-41-11h0m64 18h0m-47-13h0m43 12h0m4 2h0m-44-12h0m10 4h0m22 8h0m-50-14h0m-81-21h0m83 24h0m52 15h0m-19-5h0m-91-26h0m101 29h0m-124-35h0m90 26h0m-26-7h0m-4-1h0m20 6h0m41 12h0m-25-6h0m-31-9h0m68 20h0m-35-10h0m20 6h0m20 6h0m-14-4h0m-58-16h0m44 15h0m-19-5h0m33 10h0m-3 1h0m-43-11h0m51 16h0m-73-22h0m-60-18h0m105 32h0m-43-13h0m-22-6h0m78 25h0m16 5h0m-60-16h0m14 5h0m25 8h0m7 3h0m-1 0h0m-50-15h0m-25-6h0m58 19h0m-30-9h0m59 19h0m6 2h0m-33-10h0m-25-7h0m33 11h0m-29-9h0m50 16h0m-93-28h0m-47-15h0m128 44h0m-7-2h0m-22-6h0m27 9h0m-22-6h0m-30-9h0m-84-26h0m113 38h0m-11-3h0m40 14h0m-36-12h0m-30-8h0m-18-6h0m-3 1h0m63 23h0m-16-3h0m37 15h0m-87-30h0m85 30h0m7 3h0m-27-9h0m13 6h0m-49-17h0m39 14h0m-72-24h0m81 31h0m-3 0h0m17 10h0m-23-7h0m-99-34h0m114 44h0m-76-28h0m76 31h0m-45-16h0m45 77h0m-2 0h0m-2 0h0m2 1h0m-5-1h0m0 2h0m1 1h0m2 5h0m-3 0h0m2 1h0m0 2h0m-3-1h0m-3 2h0m2 1h0m2 3h0m-11-5h0m11 6h0m-1 1h0m-3-1h0m3 2h0m-2 2h0m-2 0h0m-1 1h0m1 1h0m-1 3h0m-4 3h0m2 2h0m-3 2h0m-2-1h0m-1 1h0m3 5h0m-2 0h0m1 1h0m-7 1h0m5 4h0m-5-2h0m2 4h0m-2-1h0m-9 2h0m6 5h0m1 3h0m-1 0h0m-2-1h0m3 3h0m-2 3h0m-14-7h0m14 8h0m-2-1h0m-4 2h0m4 3h0m-5-2h0m4 4h0m-4-2h0m1 3h0m-2-1h0m-3 2h0m2 5h0m-2 2h0m-8-4h0m9 6h0m-2 0h0m-9-2h0m8 7h0m-2 2h0m1 1h0m-3-1h0m-1 6h0m-3 0h0m2 3h0m-14-8h0m12 9h0m-2 0h0m-5-2h0m5 5h0m1 1h0m-9-3h0m8 5h0m-1 1h0m-1 1h0m-9-4h0m5 6h0m1 1h0m-3 1h0m-1 3h0m0 2h0m-3 4h0m-4 0h0m3 2h0m-2-1h0m1 4h0m-5-2h0m3 2h0m-1 1h0m-2-1h0m1 3h0m-8-5h0m-2 0h0m9 10h0m-7-4h0m7 5h0m-2-1h0m1 1h0m-7 0h0m2 2h0m0 6h0m-8-3h0m6 6h0m-1 1h0m-2 0h0m1 1h0m-6-3h0m-3 8h0m-7-4h0m8 6h0m0 3h0m-1 1h0m-326 259h0m-50 0h0m-54 22h0"/>
<path stroke="#1fb25a" d="M1324 2419h0m-1-12h0m0-1h0m0-18h0m-2 40h0m-1-56h0m-1 104h0m-1-40h0m0-60h0m-1 83h0m-1-88h0m-1 63h0m-1 48h0m1-96h0m0-9h0m0-6h0m-1 88h0m0-51h0m-1 42h0m-4 5h0m0-28h0m0-43h0m-1-4h0m-1 47h0m0-26h0m0-15h0m-2 88h0m-2 73h0m3-148h0m-1 1h0m0-11h0m-1 11h0m0-27h0m-1 31h0m-2 54h0m1-42h0m-1-10h0m0-2h0m-1 37h0m-3 72h0m0-27h0m1-93h0m-1 22h0m-3 8h0m-2 45h0m2-79h0m0-6h0m-1 18h0m-1-12h0m-3 80h0m0-19h0m0-14h0m2-59h0m-1 4h0m-3 79h0m-1 25h0m1-51h0m-4 19h0m0-46h0m1-36h0m-4 42h0m1-34h0m-2 18h0m-2 4h0m-6 95h0m3-64h0m0-8h0m-1 4h0m0-23h0m-5 78h0m2-92h0m-1-12h0m-3 32h0m1-40h0m0-2h0m-6 93h0m5-82h0m-9 136h0m4-70h0m-1 1h0m2-34h0m-1 11h0m2-33h0m-8 101h0m5-96h0m-2-3h0m-2 14h0m2-34h0m-6 79h0m4-61h0m-3 29h0m-1 1h0m3-41h0m-5 66h0m2-48h0m-1-4h0m-1-2h0m-3 33h0m4-56h0m-6 64h0m4-63h0m-7 81h0m6-82h0m-1 6h0m-1 6h0m1-12h0m-6 48h0m1-33h0m1-17h0m-9 88h0m7-85h0m-4 27h0m0-5h0m2-22h0m-4 43h0m-7 61h0m5-68h0m-2-5h0m1-11h0m-2 19h0m3-35h0m-17 140h0m10-108h0m0-17h0m-12 112h0m3-34h0m5-101h0m-14 99h0m10-96h0m-1 7h0m-9 45h0m6-52h0m-8 52h0m-1-9h0m-1-19h0m-9 27h0m-3-12h0m-11 69h0m2-21h0m10-78h0m-3 0h0m0-7h0m-7-8h0m-6 2h0m-25 89h0m13-90h0m-10 15h0m-10 25h0m-5-27h0m-1-12h0m-12 51h0m-6 15h0m0-10h0m4-38h0m2-22h0m-12 55h0m-3-4h0m-23 91h0m-49-111h0m-4 6h0m15-55h0m-9 8h0m-17 43h0m-20 56h0m10-59h0m11-37h0m-15 28h0m5-55h0m-12 23h0m-8 20h0m-15 15h0m-2-3h0m22-67h0m-22 47h0m-26 35h0m23-72h0m3-19h0m-22 54h0m6-22h0m12-33h0m-32 47h0m8-21h0m-17 35h0m-25 44h0m29-68h0m6-30h0m-3-1h0m-3 5h0m6-18h0m-12 26h0m-20 36h0m30-71h0m-39 84h0m-11 14h0m-2 4h0m34-78h0m5-14h0m-16 30h0m14-37h0m2-7h0m-21 39h0m7-16h0m11-24h0m-36 74h0m34-75h0m-4 6h0m2-6h0m-6 12h0m1-4h0m-37 76h0m21-45h0m-15 30h0m17-36h0m-4 7h0m-6 11h0m26-54h0m-14 29h0m7-15h0m2-5h0m-29 60h0m26-54h0m2-6h0m0-2h0m-24 46h0m25-52h0m-19 39h0m6-13h0m-10 20h0m18-37h0m-32 65h0m16-35h0m12-26h0m4-9h0m-20 40h0m2-7h0m20-42h0m-11 22h0m3-7h0m-4 8h0m-10 19h0m-9 17h0m27-55h0m-23 44h0m-8 14h0m30-62h0m-19 36h0m18-36h0m-5 7h0m-14 27h0m17-34h0m-41 79h0m-35 67h0m59-118h0m14-28h0m-33 64h0m27-54h0m-36 69h0m33-65h0m-27 53h0m33-67h0m-1 0h0m-4 7h0m-54 104h0m29-57h0m24-47h0m-26 50h0m13-30h0m17-33h0m-19 32h0m1-3h0m1-3h0m8-19h0m-11 21h0m-29 55h0m27-55h0m11-22h0m3-11h0m-24 41h0m7-14h0m7-17h0m-22 32h0m9-46h0m-10 4h0m-5 1h0m-50 87h0m38-74h0m11-27h0m-4 1h0m-6 0h0m-41 37h0m21-48h0m-8 3h0m-17 12h0m-36 25h0m-108-44h0m68-86h0m-18 13h0m-1-9h0m-12 13h0m5-20h0m-17 14h0m2-5h0m13-28h0m-36 35h0m-51 55h0m-23 24h0m61-68h0m-17 11h0m41-44h0m-76 80h0m34-40h0m42-57h0m-59 60h0m-54 55h0m49-54h0m64-67h0m-96 96h0m5-9h0m77-80h0m-71 69h0m73-76h0m-34 32h0m-73 71h0m67-70h0m50-51h0m-38 35h0m22-27h0m-16 15h0m-78 77h0m94-95h0m5-5h0m-25 22h0m-10 5h0m11-12h0m-32 26h0m-31 30h0m63-62h0m-68 63h0m84-81h0m-39 35h0m-62 53h0m99-95h0m-5 3h0m-103 96h0m67-69h0m-21 12h0m43-54h0m-104 93h0m77-71h0m-15 13h0m46-43h0m-101 90h0m93-94h0m-22 11h0m-12 9h0m-36 31h0m24-26h0m17-24h0m-73 48h0m66-74h0m-24 13h0m0-10h0m-75 38h0m-1-117h0m32-21h0m-18 3h0m-118 63h0m107-68h0m15-16h0m-4 0h0m-1-14h0m-47 25h0m-40 21h0m52-30h0m17-12h0m-2-6h0m-11 6h0m10-7h0m-7 1h0m21-12h0m-17-9h0m-77 40h0m-4 1h0m57-33h0m17-9h0m-123 61h0m70-39h0m54-29h0m-64 31h0m10-7h0m-25 4h0m61-32h0m-37 15h0m-64 24h0m98-53h0m-66 30h0m85-41h0m-83 35h0m-41 17h0m99-47h0m0-2h0m-13 5h0m-8 2h0m-18 6h0m46-23h0m-58 21h0m65-30h0m-19 7h0m6-6h0m-5 2h0m-54 24h0m-50 21h0m42-30h0m-47 16h0m63-28h0m21-17h0m-72 30h0m82-35h0m15-8h0m1-1h0m-54 22h0m-64 26h0m82-36h0m-32 12h0m13-8h0m25-17h0m-85 34h0m74-33h0m13-8h0m-38 10h0m26-11h0m3-2h0m-15-6h0m-38 12h0m-41 12h0m102-38h0m1-2h0m-32 6h0m33-13h0m14-14h0m-7 1h0m-7 0h0m-70 22h0m2-2h0m51-18h0m17-7h0m-67 16h0m-24 7h0m32-12h0m-59 18h0m-27 0h0m52-18h0m-1-9h0m85-29h0m-2-2h0m4-2h0m-17 4h0m-7-6h0m-28 5h0m51-20h0m-118 21h0m-31 6h0m56-17h0m56-24h0m11-78h0m-65 11h0m50-12h0m-104 12h0m56-16h0m-10 0h0m63-29h0m-4 0h0m-12-9h0m17-5h0m-35 4h0m31-5h0m-26 0h0m-11 1h0m22-3h0m-4 0h0m21-3h0m-67 8h0m61-8h0m-125 14h0m126-16h0m4-1h0m-2 0h0m-48 4h0m30-4h0m-59 6h0m79-11h0m-18 1h0m3-2h0m-8 0h0m-10 1h0m-47 5h0m70-8h0m8-1h0m-57 6h0m47-7h0m-2 0h0m-76 8h0m46-5h0m-38 4h0m80-9h0m-113 12h0m101-11h0m-76 8h0m46-5h0m40-6h0m-67 7h0m-45 3h0m100-11h0m9-2h0m-52 5h0m48-5h0m5-1h0m-19 1h0m25-3h0m-42 3h0m-74 7h0m108-11h0m-15 1h0m-73 7h0m91-9h0m-32 2h0m9-1h0m-75 7h0m62-6h0m7-1h0m-21 2h0m8-1h0m-50 4h0m-5-2h0m20-3h0m61-6h0m-56 4h0m-40 3h0m110-10h0m-19 1h0m-1-1h0m-46 4h0m-62 4h0m113-10h0m-120 8h0m112-10h0m6-1h0m-15-6h0m-84 6h0m116-11h0m-75 5h0m54-4h0m-123-2h0m73-9h0m24-8h0m9-3h0m19-2h0m6-2h0m-129 5h0m19-4h0m79-4h0m-27 0h0m64-9h0m-40-1h0m36-3h0m10-3h0m-42-7h0m37-8h0m-23 0h0m-115-7h0m52-9h0m89-1h0m-13-70h0m16-3h0m-65-16h0m62 0h0m-27-3h0m21-22h0m-98-14h0m57 7h0m-51-10h0m58 5h0m-24-4h0m-17-5h0m-52-8h0m105 14h0m-27-4h0m5 0h0m30-1h0m-89-16h0m78 10h0m38 4h0m-43-8h0m45 6h0m3 0h0m-46-7h0m24 3h0m4 0h0m3 0h0m1-2h0m-16-4h0m-36-6h0m34 4h0m-33-7h0m27 3h0m36 4h0m-19-5h0m14 2h0m-37-13h0m35 4h0m-92-29h0m91 11h0m-2-17h0m12-2h0m-21-7h0m24-10h0m-2-3h0m-52-27h0m-11-9h0m54 10h0m-2-3h0m-62-29h0m95-80h0m29 7h0m5-1h0m-92-41h0m82 32h0m-92-37h0m78 31h0m26 7h0m0-3h0m-7-4h0m-43-29h0m50 21h0m-6-5h0m-30-13h0m5 1h0m31 13h0m4-1h0m-1-5h0m12 5h0m-83-36h0m5-1h0m-3-14h0m76 33h0m16 6h0m-105-48h0m91 38h0m0-4h0m10 0h0m-8-6h0m-34-16h0m43 20h0m-2-4h0m-83-41h0m72 32h0m-98-47h0m108 51h0m-18-9h0m2 0h0m18 8h0m-23-15h0m13 3h0m9 4h0m-39-20h0m-44-23h0m66 32h0m-30-19h0m17 8h0m34 16h0m-44-22h0m13 4h0m14 6h0m-29-16h0m45 21h0m4 2h0m1 0h0m8 4h0m9 0h0m-45-23h0m30 10h0m-113-60h0m118 59h0m5 1h0m-18-18h0m-24-14h0m25 13h0m21 11h0m-30-18h0m28 15h0m-8-5h0m4 2h0m-34-20h0m35 18h0m-17-11h0m15 8h0m-12-11h0m-23-21h0m56 30h0m6-2h0m-14-14h0m-55-35h0m51 25h0m-29-18h0m51 25h0m-56-34h0m58 28h0m7 0h0m-8-7h0m3-3h0m61-72h0m-24-27h0m-51-71h0m165 13h0m-9-28h0m75-54h0m-32-44h0m90 15h0m-65-95h0m47 64h0m22 29h0m-19-27h0m9 12h0m-74-105h0m56 79h0m-19-27h0m36 49h0m3 4h0m-69-98h0m72 99h0m-25-36h0m19 27h0m-36-52h0m20 28h0m7 9h0m-9-14h0m-42-62h0m-18-27h0m102 27h0m-34-67h0m74 110h0m9 0h0m1-7h0m-32-84h0m153-9h0m14 28h0m-6-36h0m22 52h0m-8-27h0m10 27h0m-11-41h0m-16-52h0m-6-18h0m17 44h0m21 53h0m-1-14h0m126 29h0m-3-15h0m14 23h0m7-8h0m2 5h0m11-10h0m1-1h0m20 3h0m169-127h0m4 67h0m5-4h0m4 3h0m7-39h0m4-11h0m6-46h0m-3 77h0m7 25h0m12-68h0m8 9h0m3-39h0m18-19h0m-11 135h0m2-23h0m18 9h0m2 5h0m1-5h0m1 11h0m7-46h0m-2 24h0m4 22h0m8-61h0m4 9h0m3-10h0m0 5h0m-5 63h0m19-124h0m-4 54h0m3 36h0m-1 14h0m6-40h0m-1 37h0m2-12h0m-1 26h0m9-55h0m-8 53h0m19-112h0m-12 118h0m22-128h0m-14 88h0m-6 38h0m7-12h0m3-5h0m1-3h0m-3 21h0m7 4h0m9-44h0m16-70h0m-22 119h0m31-151h0m-9 51h0m-19 102h0m20-105h0m-18 101h0m8-35h0m-6 35h0m1-1h0m4-17h0m-2 15h0m19-93h0m1-2h0m11-51h0m-20 105h0m0 7h0m-6 33h0m1-4h0m11-44h0m-3 23h0m-4 23h0m11-49h0m-5 26h0m-5 26h0m-2 12h0m4-13h0m4-18h0m4-19h0m2-6h0m-7 36h0m2-8h0m5-18h0m-10 51h0m6-28h0m13-51h0m-8 38h0m-7 38h0m4-16h0m4-16h0m-3 16h0m14-59h0m-6 42h0m4-17h0m6-25h0m2-8h0m-17 80h0m5-15h0m15-61h0m-6 30h0m22-91h0m-32 140h0m36-156h0m-33 147h0m0 1h0m-3 13h0m21-90h0m11-34h0m-14 65h0m5-11h0m-11 51h0m27-108h0m-28 119h0m-1 7h0m9-35h0m8-30h0m1-4h0m-6 40h0m-8 33h0m32-125h0m-27 109h0m12-46h0m-9 64h0m16-38h0m30-105h0m-27 106h0m12-43h0m-4 32h0m23-56h0m-21 78h0m4-13h0m-5 20h0m13-29h0m-8 31h0m-4 15h0m3 0h0m32-78h0m-25 87h0m41-129h0m-31 109h0m12-21h0m-8 28h0m20-40h0m-10 36h0m-6 25h0m16-43h0m1 0h0m6-13h0m-15 57h0m3 0h0m6-12h0m2 3h0m34-95h0m-32 98h0m35-58h0m-18 50h0m-5 23h0m10-19h0m41-65h0m-4 23h0m-14 40h0m1 13h0m-3 9h0m12 7h0m24-3h0m11 21h0m29-37h0m-13 30h0m2 8h0m2 9h0m29-49h0m-17 39h0m18-16h0m124 12h0m-53 83h0m19 18h0m24-26h0m-13 27h0m9-11h0m4 15h0m110-126h0m-82 111h0m6 4h0m-17 30h0m27-24h0m0 4h0m-9 13h0m15-10h0m5-4h0m-20 26h0m16-18h0m-19 32h0m92-108h0m-76 94h0m23-27h0m-16 32h0m34-39h0m-39 48h0m19-19h0m-11 14h0m60-66h0m-40 53h0m37-41h0m-26 40h0m40-41h0m-68 79h0m-2 3h0m32-32h0m-22 29h0m29-7h0m7 2h0m13-13h0m4 3h0m51-49h0m-66 70h0m61-56h0m-69 77h0m44-43h0m-11 30h0m-22 24h0m30-24h0m-2 2h0m27-25h0m-40 44h0m13-8h0m-7 10h0m-15 19h0m85-66h0m-55 53h0m102-74h0m-89 84h0m19 7h0m23-7h0m37 58h0m18-11h0m-32 25h0m-12 9h0m27-19h0m-30 25h0m20-7h0m33-18h0m-24 20h0m-23 18h0m25-4h0m21-11h0m45-30h0m-42 29h0m-5 4h0m-9 27h0m-18 15h0m27-16h0m63-37h0m-22 19h0m-33 23h0m-8 8h0m11-4h0m-30 21h0m4 1h0m113-67h0m-112 74h0m32-12h0m45-20h0m-66 47h0m133-73h0m-117 70h0m47-27h0m-54 35h0m42-18h0m-38 23h0m74-42h0m-50 32h0m38-21h0m-35 22h0m-21 12h0m13-6h0m35-18h0m68-38h0m-83 49h0m103-56h0m-116 65h0m109-57h0m-123 70h0m2 0h0m40-20h0m-36 22h0m48-24h0m-48 26h0m11-5h0m19-9h0m24-11h0m-63 34h0m49-26h0m-14 12h0m23-8h0m-49 27h0m20-10h0m-26 14h0m50-26h0m1 0h0m13-6h0m-64 34h0m25-10h0m-17 9h0m6-3h0m37-19h0m-46 24h0m23-9h0m47-24h0m59-27h0m-110 58h0m75-38h0m-56 29h0m-29 16h0m17-6h0m-6 7h0m5-1h0m105-52h0m-88 44h0m0 1h0m57-28h0m-49 25h0m-38 21h0m55-24h0m-43 22h0m2 3h0m-6 3h0m34-16h0m-45 23h0m67-32h0m-33 16h0m54-25h0m-70 36h0m-9 5h0m-8 4h0m34-16h0m-32 16h0m84-38h0m-19 9h0m-53 26h0m23-10h0m1 0h0m-6 3h0m5 0h0m-26 13h0m29-13h0m61-28h0m-78 37h0m3-1h0m42-17h0m-38 18h0m-4 4h0m7-3h0m-16 8h0m64-28h0m-54 25h0m2 1h0m3-1h0m-6 3h0m37-15h0m-38 18h0m-1 1h0m-3 3h0m98-41h0m-76 35h0m14-6h0m28-11h0m6 1h0m-26 12h0m-24 11h0m-25 11h0m4-1h0m-4 4h0m79-34h0m72-31h0m-101 44h0m-25 11h0m-25 11h0m7-3h0m7-3h0m44-18h0m-35 16h0m-19 9h0m14-5h0m-15 7h0m25-10h0m-16 7h0m-9 4h0m17-7h0m2 0h0m-7 4h0m44-17h0m-47 20h0m47-19h0m-26 11h0m-16 7h0m-2 1h0m-8 4h0m39-16h0m-22 10h0m91-37h0m-95 40h0m-12 6h0m65-26h0m-55 23h0m41-16h0m-35 15h0m73-29h0m-82 34h0m34-13h0m-29 12h0m51-19h0m-42 18h0m-14 6h0m137-55h0m-132 54h0m13-5h0m15-5h0m-27 11h0m82-33h0m21-6h0m-77 35h0m52-20h0m-58 25h0m19-5h0m19-7h0m-65 27h0m34-12h0m119-46h0m-152 59h0m129-48h0m-82 32h0m43-16h0m-91 35h0m35-13h0m-31 12h0m71-27h0m-44 17h0m45-17h0m-65 26h0m19-7h0m-6 3h0m26-6h0m-38 17h0m47-17h0m-31 12h0m13-4h0m-5 2h0m36-12h0m14-5h0m-81 30h0m0 3h0m7-2h0m34-12h0m89-31h0m17-4h0m-77 28h0m-42 16h0m94-31h0m-117 42h0m-2 1h0m103-36h0m-27 10h0m-65 24h0m7 0h0m10-2h0m92-32h0m-106 38h0m16-4h0m36-12h0m-47 17h0m-7 3h0m13-4h0m2 0h0m63-21h0m-46 16h0m-29 10h0m-9 5h0m107-36h0m-40 14h0m-54 19h0m30-10h0m110-36h0m-143 49h0m9-3h0m98-33h0m-103 36h0m16-5h0m45-14h0m-10 4h0m-26 9h0m12-4h0m47-15h0m-83 28h0m120-39h0m-28 10h0m-38 14h0m-40 15h0m37-10h0m-58 19h0m22-7h0m80-25h0m-83 27h0m-7 3h0m-14 5h0m15-4h0m50-16h0m-57 19h0m16-5h0m29-9h0m1 0h0m-15 7h0m-4 5h0m54-16h0m-19 6h0m-38 12h0m9-2h0m9-2h0m-36 12h0m71-22h0m-80 29h0m33-10h0m58-17h0m23-6h0m-96 30h0m7-2h0m94-28h0m-74 24h0m-38 13h0m38-10h0m-45 16h0m16-4h0m22-6h0m-29 9h0m49-14h0m7-1h0m-34 10h0m-12 4h0m12-1h0m94-26h0m-58 17h0m-34 10h0m-2 1h0m5-1h0m-32 10h0m5-1h0m1 0h0m81-22h0m-6 2h0m-81 23h0m66-16h0m44-12h0m-22 9h0m-77 22h0m41-11h0m52-14h0m-3 1h0m6 2h0m27-7h0m-124 35h0m81-20h0m-8 4h0m-61 18h0m27-7h0m-33 9h0m20-4h0m-18 5h0m-4 2h0m-7 2h0m19-3h0m58-15h0m-65 19h0m-9 3h0m59-14h0m3 0h0m12-2h0m-79 20h0m24-4h0m78-19h0m-58 15h0m-17 7h0m-10 4h0m54-12h0m35-8h0m-81 22h0m13-2h0m90-20h0m-116 28h0m93-22h0m-27 8h0m-73 18h0m137-32h0m-74 18h0m-47 12h0m-13 4h0m45-9h0m79-18h0m-127 30h0m29-6h0m-29 7h0m21-4h0m45-8h0m-26 6h0m22-3h0m-32 8h0m-2 1h0m-6 3h0m94-20h0m-105 24h0m102-22h0m-90 22h0m11 1h0m19-4h0m-31 11h0m56-8h0m5-1h0m-62 13h0m22-3h0m-25 7h0m-13 3h0m92-16h0m-77 16h0m18-3h0m6 0h0m-25 6h0m-1 1h0m-5 2h0m55-10h0m-43 11h0m-6 4h0m2 3h0m130-23h0m-83 16h0m-32 9h0m-5 1h0m73-8h0m-15 3h0m-13 7h0m56-9h0m-71 12h0m-26 15h0m-7 3h0m14 0h0m2 3h0m1 2h0m102 60h0m-52 11h0m29 1h0m-76 11h0m25-1h0m39 4h0m-58 10h0m-12 6h0m-22 11h0m5 0h0m2 5h0m16 2h0m18 0h0m9 0h0m-53 2h0m27 6h0m-13 1h0m-8 3h0m51 11h0m-39 0h0m-15 2h0m3 1h0m7 5h0m-5 2h0m20 7h0m-6 10h0m7 1h0m11 3h0m107 13h0m-94-2h0m16 5h0m44 4h0m-55-1h0m13 1h0m-59-2h0m53 3h0m-61-2h0m37 2h0m-22 6h0m68 6h0m-79 0h0m86 6h0m-88-1h0m2 1h0m38 9h0m-16 0h0m15 7h0m-23 1h0m-15 2h0m136 14h0m0 1h0m3 2h0m-84-7h0m-64-5h0m159 23h0m-146-12h0m-10 6h0m162 19h0m-157-17h0m62 8h0m-37-4h0m62 11h0m-67-8h0m36 8h0m-14 7h0m74 15h0m-94-8h0m125 21h0m-119-15h0m-29-3h0m-9 9h0m-5 0h0m15 3h0m9 4h0m24 5h0m-4 4h0m21 6h0m-1 2h0m50 11h0m-122-18h0m15 3h0m2 1h0m80 18h0m-44-6h0m-44-8h0m0 3h0m54 16h0m55 28h0m-119-22h0m117 30h0m-75-15h0m-19 1h0m62 15h0m-22-4h0m47 18h0m-69-15h0m-28-5h0m1 3h0m69 21h0m-18-3h0m-58-4h0m84 23h0m11 3h0m-77-19h0m-34-9h0m-3 0h0m96 28h0m-96-25h0m83 23h0m39 23h0m-126-26h0m-7 1h0m51 23h0m43 17h0m-84-22h0m40 17h0m-23 1h0m-10-3h0m30 21h0m-29-8h0m66 25h0m-85-27h0m40 14h0m-41-14h0m1 5h0m63 27h0m-65-18h0m-47 69h0m-13 22h0m-9-1h0m2 11h0m44 40h0m-39-4h0m-38-8h0m45 35h0m18 11h0m-9 2h0m13 15h0m-81-47h0m-2 30h0m-12 22h0m130 95h0m-84-51h0m-67-39h0m-1 7h0m96 184h0m-128-101h0m34 61h0m-8-5h0m13 29h0m-46-16h0m52 57h0m-72-59h0m51 61h0m33 37h0m-70-65h0m13 16h0m-57-33h0m7 9h0m-3 11h0m-15-4h0m3 5h0m37 56h0m-19-2h0m-22-25h0m-13-13h0m-6-5h0m-17-15h0m-1 7h0m22 31h0m-6 2h0m16 20h0m-9-9h0m-7-5h0m21 27h0m-18-20h0m-5-1h0m-25-26h0m-8 3h0m26 33h0m-33-40h0m12 29h0m-11-12h0m-10-12h0m53 68h0m21 30h0m-24-25h0m-31-40h0m-18-23h0m20 32h0m-18-21h0m28 41h0m46 61h0m-65-84h0m-3 4h0m8 11h0m-10-10h0m11 16h0m7 15h0m-23-31h0m-10-12h0m-3-3h0m-5-2h0m5 8h0m-11-13h0m21 29h0m-1 0h0m-5-6h0m-3-3h0m8 12h0m8 13h0m27 39h0m-6-8h0m-29-40h0m-24-33h0m19 29h0m-18-25h0m79 111h0m-61-81h0m-5-5h0m-3-4h0m-1 0h0m-16-20h0m8 13h0m34 52h0m-37-52h0m9 14h0m-15-21h0m1 3h0m35 51h0m-38-54h0m20 32h0m34 52h0m-30-42h0m-5-6h0m22 33h0m-44-62h0m-2-1h0m45 67h0m-43-62h0m1 7h0m39 58h0m-17-24h0m-13-19h0m43 67h0m-66-97h0m93 140h0m-69-102h0m-13-17h0m-11-15h0m19 31h0m44 69h0m-65-94h0m5 8h0m-3-4h0m-1-1h0m25 40h0m-26-38h0m-4-6h0m-1-1h0m29 44h0m-3-4h0m20 32h0m-29-42h0m-15-19h0m47 72h0m-54-82h0m68 106h0m-62-95h0m22 34h0m2 4h0m28 45h0m-41-63h0m67 104h0m-58-89h0m-30-46h0m11 17h0m72 112h0m-66-101h0m34 57h0m-55-84h0m3 6h0m40 65h0m-41-64h0m18 32h0m-6-9h0m-14-19h0m1 2h0m12 20h0m33 53h0m-15-23h0m-37-55h0m-1 1h0m2 7h0m37 60h0m-25-40h0m-16-25h0m62 100h0m18 29h0m-62-97h0m-12-19h0m-7-8h0m28 46h0m-7-11h0m-27-40h0m17 31h0m13 26h0m-6-5h0m-1 3h0m-14-19h0m12 28h0m-25-33h0m38 67h0m-49-81h0m14 28h0m14 37h0m-16-27h0m-17-28h0m34 62h0m-18-29h0m-4-2h0m-20-32h0m0 8h0m-7 3h0m1 4h0m36 79h0m-11-10h0m-34-64h0m30 57h0m-39-73h0m-3 1h0m23 44h0m1 3h0m4 12h0m-27-50h0m-9 20h0m-10-15h0m6 18h0m-3-4h0m37 79h0m-28-45h0m18 43h0m-20-40h0m-11-20h0m21 51h0m-25-51h0m-13-26h0m-3 6h0m25 63h0m-19-25h0m-4-7h0m-10-18h0m36 90h0m-48-102h0m26 61h0m-6 14h0m-18-10h0m12 45h0m-32-64h0m-16-26h0m16 61h0m-4 15h0m-52-64h0m-1 2h0m17 58h0m-22-48h0m-19 5h0m-47 150h0m-33-148h0m6 47h0m-22-17h0m-1 2h0m1 37h0m-2-4h0m-5 7h0m-14-44h0m-14 2h0m-3-17h0m-5 26h0m-1 5h0m-7-12h0m-5-8h0m0 4h0m9 79h0m-26-87h0m0 9h0m-16-12h0m4 55h0m-9-1h0m-4-9h0m-5-45h0m-3 6h0m1 20h0m-1 2h0m1 14h0m-4 13h0m-3-30h0m2 34h0m-2-14h0m0 25h0m-9-37h0m0 9h0m-1 28h0m0 1h0m-5-51h0m-1-3h0m-3 5h0m-1 32h0m0 39h0m-2-23h0m-2-31h0m-1-9h0m-3-10h0m4 106h0m0 6h0m-2-33h0m-3-32h0m-2 12h0m-4-74h0m0 3h0m1 44h0m-3-47h0m2 64h0m-5-65h0m4 124h0m-6-73h0m0 6h0m-2-54h0m0 49h0m-2-38h0m1 63h0m-2-46h0m-1 5h0m-1-2h0m1 40h0m0 18h0m-8-92h0m-2 16h0m0 28h0m0 18h0m-1-58h0m0 33h0m-1 11h0m-1-38h0m0 30h0m0 5h0m-2-5h0m0 10h0m0 32h0m-4 32h0m-2-53h0m-1-48h0m0 23h0m0 6h0m0 80h0m-1-101h0m0 35h0m0 45h0m0 61h0m-2-163h0m0 32h0"/>
</g>
<text font-size="31.5"><textPath href="#lp0" startOffset="50%" text-anchor="middle">Root559</textPath></text>
<text font-size="31.5"><textPath href="#lp1" startOffset="50%" text-anchor="middle">Root322</textPath></text>
<text font-size="31.5"><textPath href="#lp2" startOffset="50%" text-anchor="middle">Root61</textPath></text>
<text font-size="31.5"><textPath href="#lp3" startOffset="50%" text-anchor="middle">Root149</textPath></text>
<text font-size="31.5"><textPath href="#lp4" startOffset="50%" text-anchor="middle">Root491</textPath></text>
<text font-size="31.5"><textPath href="#lp5" startOffset="50%" text-anchor="middle">Root569</textPath></text>
<text font-size="31.5"><textPath href="#lp6" startOffset="50%" text-anchor="middle">Root179</textPath></text>
<text font-size="31.5"><textPath href="#lp7" startOffset="50%" text-anchor="middle">Root70</textPath></text>
<text font-size="31.5"><textPath href="#lp8" startOffset="50%" text-anchor="middle">Root123D2</textPath></text>
<text font-size="31.5"><textPath href="#lp9" startOffset="50%" text-anchor="middle">Root154</textPath></text>
<text font-size="31.5"><textPath href="#lp10" startOffset="50%" text-anchor="middle">Root685</textPath></text>
<text font-size="31.5"><textPath href="#lp11" startOffset="50%" text-anchor="middle">Root670</textPath></text>
<text font-size="31.5"><textPath href="#lp12" startOffset="50%" text-anchor="middle">Root1280</textPath></text>
<text font-size="31.5"><textPath href="#lp13" startOffset="50%" text-anchor="middle">Root22</textPath></text>
<text x="210.8" y="38.1" text-anchor="end" font-size="31">Root181</text>
<text x="210.8" y="75.5" text-anchor="end" font-size="31">Root172</text>
<text x="210.8" y="111.8" text-anchor="end" font-size="31">Root1277</text>
<text x="210.8" y="148.9" text-anchor="end" font-size="31">Root102</text>
<text x="210.8" y="185.2" text-anchor="end" font-size="31">Root68</text>
<text x="210.8" y="222.2" text-anchor="end" font-size="31">Root667</text>
<path d="M228.8 27.2H615.5V123.3M228.8 65.4H545.6V132.9M228.8 102.8H457.2V157.5M228.8 140.9H372.2V196M228.8 177.9H318.5V229.4M228.8 216H282.9V256.2" fill="none" stroke="#333" stroke-width="1.2"/>
<text x="659.5" y="173.8" text-anchor="end" font-size="23">8</text>
<text x="659.5" y="271.7" text-anchor="end" font-size="23">0</text>
<text x="659.5" y="368" text-anchor="end" font-size="23">-8</text>
<text font-size="24"><textPath href="#tt1" startOffset="50%" text-anchor="middle">Roots vs Matrix (Log2FC)</textPath></text>
<text font-size="24"><textPath href="#tt2" startOffset="50%" text-anchor="middle">RA (Roots)</textPath></text>
<text x="658.8" y="435.5" text-anchor="end" font-size="23.5">30%</text>
<text x="658.8" y="486.8" text-anchor="end" font-size="23.5">15%</text>
<circle cx="551.9" cy="626.4" r="9.3" fill="#a8612a"/>
<text x="571.8" y="636.6" font-size="30.3">Actinomycetales</text>
<circle cx="551.9" cy="655.6" r="9.3" fill="#86cc98"/>
<text x="571.8" y="665.8" font-size="30.3">Burkholderiales</text>
<circle cx="551.9" cy="684.8" r="9.3" fill="#e68a26"/>
<text x="571.8" y="695" font-size="30.3">Pseudomonadales</text>
<circle cx="551.9" cy="714" r="9.3" fill="#ede81e"/>
<text x="571.8" y="724.2" font-size="30.3">Xanthomonadales</text>
<circle cx="551.9" cy="743.2" r="9.3" fill="#169a9a"/>
<text x="571.8" y="753.4" font-size="30.3">Sphingomonadales</text>
<circle cx="551.9" cy="772.4" r="9.3" fill="#a8dce3"/>
<text x="571.8" y="782.6" font-size="30.3">Caulobacteriales</text>
<circle cx="551.9" cy="801.6" r="9.3" fill="#12a048"/>
<text x="571.8" y="811.8" font-size="30.3">Rhizobiales</text>
<text x="1018.6" y="38.4" font-size="30.9">Roots vs. Matrix</text>
<rect x="1021" y="58" width="21.7" height="20.4" fill="#ebebeb"/>
<rect x="1021" y="92.3" width="21.7" height="20.1" fill="#ebebeb"/>
<circle cx="1031.9" cy="68.2" r="7.4" fill="#27b35a"/>
<circle cx="1031.9" cy="102.4" r="7.4" fill="#e8732a"/>
<text x="1052.9" y="74.7" font-size="31">up-regulated</text>
<text x="1052.9" y="112" font-size="31">down-regulated</text>
<text x="0" y="36.6" font-size="47" font-weight="bold">a</text>
<rect x="1478.4" y="51.9" width="500.9" height="463.9" fill="#e3e3e3"/>
<line x1="1536.9" y1="51.9" x2="1536.9" y2="515.8" stroke="#fff" stroke-width="1.6"/>
<line x1="1614.8" y1="51.9" x2="1614.8" y2="515.8" stroke="#fff" stroke-width="1.6"/>
<line x1="1692.7" y1="51.9" x2="1692.7" y2="515.8" stroke="#fff" stroke-width="1.6"/>
<line x1="1770.5" y1="51.9" x2="1770.5" y2="515.8" stroke="#fff" stroke-width="1.6"/>
<line x1="1848.4" y1="51.9" x2="1848.4" y2="515.8" stroke="#fff" stroke-width="1.6"/>
<line x1="1926.3" y1="51.9" x2="1926.3" y2="515.8" stroke="#fff" stroke-width="1.6"/>
<line x1="1478.4" y1="443.6" x2="1979.3" y2="443.6" stroke="#fff" stroke-width="1.6"/>
<line x1="1478.4" y1="336.9" x2="1979.3" y2="336.9" stroke="#fff" stroke-width="1.6"/>
<line x1="1478.4" y1="230.3" x2="1979.3" y2="230.3" stroke="#fff" stroke-width="1.6"/>
<line x1="1478.4" y1="123.6" x2="1979.3" y2="123.6" stroke="#fff" stroke-width="1.6"/>
<line x1="1498" y1="51.9" x2="1498" y2="515.8" stroke="#fff" stroke-width="2.5"/>
<line x1="1575.9" y1="51.9" x2="1575.9" y2="515.8" stroke="#fff" stroke-width="2.5"/>
<line x1="1653.7" y1="51.9" x2="1653.7" y2="515.8" stroke="#fff" stroke-width="2.5"/>
<line x1="1731.6" y1="51.9" x2="1731.6" y2="515.8" stroke="#fff" stroke-width="2.5"/>
<line x1="1809.5" y1="51.9" x2="1809.5" y2="515.8" stroke="#fff" stroke-width="2.5"/>
<line x1="1887.3" y1="51.9" x2="1887.3" y2="515.8" stroke="#fff" stroke-width="2.5"/>
<line x1="1965.2" y1="51.9" x2="1965.2" y2="515.8" stroke="#fff" stroke-width="2.5"/>
<line x1="1478.4" y1="496.9" x2="1979.3" y2="496.9" stroke="#fff" stroke-width="2.5"/>
<line x1="1478.4" y1="390.2" x2="1979.3" y2="390.2" stroke="#fff" stroke-width="2.5"/>
<line x1="1478.4" y1="283.6" x2="1979.3" y2="283.6" stroke="#fff" stroke-width="2.5"/>
<line x1="1478.4" y1="176.9" x2="1979.3" y2="176.9" stroke="#fff" stroke-width="2.5"/>
<line x1="1478.4" y1="70.3" x2="1979.3" y2="70.3" stroke="#fff" stroke-width="2.5"/>
<path d="M1540.3 375.9L1548.9 390.8L1531.7 390.8Z" fill="#179a9b"/>
<path d="M1546.1 377.8L1554.7 392.8L1537.5 392.8Z" fill="#179a9b"/>
<path d="M1548.4 384.9L1557 399.9L1539.8 399.9Z" fill="#179a9b"/>
<path d="M1501.2 394.7L1509.8 409.6L1492.6 409.6Z" fill="#12a048"/>
<path d="M1511.3 394.3L1519.9 409.2L1502.7 409.2Z" fill="#12a048"/>
<path d="M1538.3 402.7L1546.9 417.7L1529.7 417.7Z" fill="#12a048"/>
<path d="M1525.2 425.9L1533.8 440.8L1516.6 440.8Z" fill="#12a048"/>
<path d="M1520.9 431.4L1529.5 446.3L1512.3 446.3Z" fill="#12a048"/>
<path d="M1525.9 440.1L1534.5 455.1L1517.3 455.1Z" fill="#12a048"/>
<path d="M1511 455.7L1519.7 470.7L1502.4 470.7Z" fill="#12a048"/>
<path d="M1520.9 455.5L1529.5 470.4L1512.3 470.4Z" fill="#12a048"/>
<path d="M1536.3 467.8L1544.9 482.7L1527.6 482.7Z" fill="#12a048"/>
<path d="M1543.4 471.2L1552 486.1L1534.8 486.1Z" fill="#12a048"/>
<path d="M1546.1 475.9L1554.7 490.8L1537.5 490.8Z" fill="#12a048"/>
<path d="M1554.9 473.3L1563.5 488.2L1546.3 488.2Z" fill="#12a048"/>
<path d="M1554.6 481.9L1563.2 496.9L1546 496.9Z" fill="#12a048"/>
<path d="M1572 478.9L1580.6 493.9L1563.4 493.9Z" fill="#12a048"/>
<path d="M1576.4 462.4L1585.1 477.3L1567.8 477.3Z" fill="#12a048"/>
<path d="M1592.9 457L1601.5 471.9L1584.3 471.9Z" fill="#12a048"/>
<path d="M1598 460.8L1606.6 475.7L1589.4 475.7Z" fill="#12a048"/>
<path d="M1614.9 476.6L1623.5 491.5L1606.3 491.5Z" fill="#12a048"/>
<path d="M1621 484.7L1629.6 499.7L1612.3 499.7Z" fill="#12a048"/>
<path d="M1657.4 476.6L1666 491.5L1648.7 491.5Z" fill="#12a048"/>
<path d="M1581.8 437.6L1590.5 452.6L1573.2 452.6Z" fill="#8ad3dc"/>
<path d="M1599 430.4L1607.6 445.4L1590.4 445.4Z" fill="#8ad3dc"/>
<path d="M1620.3 436.5L1628.9 451.4L1611.7 451.4Z" fill="#8ad3dc"/>
<path d="M1629 451.7L1637.7 466.6L1620.4 466.6Z" fill="#88cc98"/>
<path d="M1629 454L1637.7 469L1620.4 469Z" fill="#88cc98"/>
<path d="M1649.3 457L1657.9 471.9L1640.7 471.9Z" fill="#88cc98"/>
<path d="M1650.1 395.7L1658.7 410.7L1641.5 410.7Z" fill="#e68a26"/>
<path d="M1606.8 460.8L1615.4 475.7L1598.2 475.7Z" fill="#e68a26"/>
<path d="M1629 461L1637.7 476L1620.4 476Z" fill="#e68a26"/>
<path d="M1654 465.5L1662.6 480.4L1645.4 480.4Z" fill="#e68a26"/>
<path d="M1679.9 474.3L1688.5 489.2L1671.3 489.2Z" fill="#e68a26"/>
<path d="M1695.5 474.9L1704.2 489.9L1686.9 489.9Z" fill="#e68a26"/>
<path d="M1647.3 428.1L1655.9 443L1638.6 443Z" fill="#fdd226"/>
<path d="M1666.5 430.4L1675.2 445.3L1657.9 445.3Z" fill="#fdd226"/>
<path d="M1685.3 436.4L1693.9 451.3L1676.7 451.3Z" fill="#fdd226"/>
<circle cx="1790.8" cy="252.7" r="6.4" fill="#a65f28"/>
<circle cx="1729.8" cy="273.4" r="6.4" fill="#a65f28"/>
<circle cx="1765.9" cy="290.4" r="6.4" fill="#a65f28"/>
<circle cx="1797.1" cy="310.9" r="6.4" fill="#a65f28"/>
<circle cx="1956.7" cy="364.9" r="6.4" fill="#a65f28"/>
<circle cx="1952" cy="377" r="6.4" fill="#a65f28"/>
<circle cx="1915.5" cy="387.5" r="6.4" fill="#a65f28"/>
<circle cx="1930.8" cy="391.8" r="6.4" fill="#a65f28"/>
<circle cx="1940.9" cy="387.8" r="6.4" fill="#a65f28"/>
<circle cx="1946.6" cy="398.3" r="6.4" fill="#a65f28"/>
<circle cx="1952.6" cy="412.1" r="6.4" fill="#a65f28"/>
<circle cx="1898.3" cy="407.3" r="6.4" fill="#a65f28"/>
<circle cx="1746" cy="292.3" r="6.4" fill="#8ad3dc"/>
<circle cx="1746" cy="296.1" r="6.4" fill="#8ad3dc"/>
<circle cx="1873.3" cy="374" r="6.4" fill="#8ad3dc"/>
<circle cx="1738.9" cy="337.2" r="6.4" fill="#179a9b"/>
<circle cx="1800.9" cy="391.8" r="6.4" fill="#179a9b"/>
<circle cx="1823.2" cy="336.1" r="6.4" fill="#88cc98"/>
<circle cx="1879.8" cy="358.4" r="6.4" fill="#88cc98"/>
<circle cx="1895.7" cy="420.4" r="6.4" fill="#88cc98"/>
<circle cx="1829.5" cy="342.6" r="6.4" fill="#e68a26"/>
<circle cx="1812.5" cy="350.7" r="6.4" fill="#e68a26"/>
<circle cx="1837.6" cy="358.1" r="6.4" fill="#e68a26"/>
<circle cx="1834.4" cy="385.1" r="6.4" fill="#e68a26"/>
<circle cx="1841.4" cy="403" r="6.4" fill="#e68a26"/>
<circle cx="1858.2" cy="400.2" r="6.4" fill="#e68a26"/>
<circle cx="1841.4" cy="420.8" r="6.4" fill="#e68a26"/>
<circle cx="1891" cy="413.1" r="6.4" fill="#e68a26"/>
<circle cx="1856.9" cy="439.7" r="6.4" fill="#e68a26"/>
<circle cx="1815.2" cy="359.7" r="6.4" fill="#fdd226"/>
<circle cx="1882.5" cy="368.9" r="6.4" fill="#fdd226"/>
<circle cx="1901" cy="365.9" r="6.4" fill="#fdd226"/>
<circle cx="1880.5" cy="387.1" r="6.4" fill="#fdd226"/>
<circle cx="1812.4" cy="390.9" r="6.4" fill="#fdd226"/>
<circle cx="1825.2" cy="410.4" r="6.4" fill="#fdd226"/>
<circle cx="1797.7" cy="353.1" r="6.4" fill="#12a048"/>
<circle cx="1807" cy="375.2" r="6.4" fill="#12a048"/>
<circle cx="1761.5" cy="381" r="6.4" fill="#12a048"/>
<circle cx="1740.9" cy="401.3" r="6.4" fill="#12a048"/>
<circle cx="1725.4" cy="411.4" r="6.4" fill="#12a048"/>
<circle cx="1831.9" cy="381.7" r="6.4" fill="#12a048"/>
<circle cx="1819.8" cy="404" r="6.4" fill="#12a048"/>
<circle cx="1829.9" cy="415.8" r="6.4" fill="#12a048"/>
<circle cx="1851.5" cy="415" r="6.4" fill="#12a048"/>
<circle cx="1890.2" cy="369.6" r="6.4" fill="#12a048"/>
<circle cx="1883.2" cy="405.7" r="6.4" fill="#12a048"/>
<circle cx="1877.5" cy="417.5" r="6.4" fill="#12a048"/>
<circle cx="1873.7" cy="426.9" r="6.4" fill="#12a048"/>
<circle cx="1896.7" cy="410.7" r="6.4" fill="#12a048"/>
<circle cx="1814.4" cy="438.8" r="6.4" fill="#12a048"/>
<path d="M1736.5 360.1L1745.1 375L1727.8 375Z" fill="#a65f28"/>
<path d="M1765.2 377.4L1773.8 392.4L1756.6 392.4Z" fill="#a65f28"/>
<path d="M1778.7 384.5L1787.3 399.4L1770 399.4Z" fill="#a65f28"/>
<path d="M1782 392.6L1790.7 407.5L1773.4 407.5Z" fill="#a65f28"/>
<path d="M1769.2 401.9L1777.8 416.8L1760.6 416.8Z" fill="#a65f28"/>
<path d="M1763.4 413.8L1772 428.7L1754.8 428.7Z" fill="#a65f28"/>
<path d="M1771.9 413.6L1780.5 428.5L1763.3 428.5Z" fill="#a65f28"/>
<path d="M1822.5 395.4L1831.1 410.3L1813.9 410.3Z" fill="#a65f28"/>
<path d="M1836 393.3L1844.6 408.3L1827.4 408.3Z" fill="#a65f28"/>
<path d="M1846.8 406.4L1855.4 421.4L1838.2 421.4Z" fill="#a65f28"/>
<path d="M1866.3 408.2L1874.9 423.1L1857.7 423.1Z" fill="#a65f28"/>
<path d="M1735.1 405.8L1743.7 420.7L1726.5 420.7Z" fill="#fdd226"/>
<path d="M1736.2 412.9L1744.8 427.8L1727.6 427.8Z" fill="#fdd226"/>
<path d="M1793.5 421.3L1802.1 436.2L1784.9 436.2Z" fill="#e68a26"/>
<path d="M1798.2 416.7L1806.8 431.7L1789.6 431.7Z" fill="#e68a26"/>
<path d="M1809.7 420.6L1818.3 435.5L1801.1 435.5Z" fill="#e68a26"/>
<circle cx="1659.1" cy="275.8" r="6.4" fill="#12a048"/>
<circle cx="1658.1" cy="304.1" r="6.4" fill="#12a048"/>
<circle cx="1700.3" cy="292.6" r="6.4" fill="#12a048"/>
<circle cx="1684.8" cy="325.4" r="6.4" fill="#12a048"/>
<circle cx="1700.9" cy="324.4" r="6.4" fill="#179a9b"/>
<circle cx="1729.6" cy="273.3" r="6.4" fill="#a65f28"/>
<path d="M1527.6 77.8L1536.2 92.8L1519 92.8Z" fill="#fdd226"/>
<path d="M1536.8 69.7L1545.4 84.6L1528.1 84.6Z" fill="#fdd226"/>
<path d="M1539.7 63.7L1548.3 78.6L1531.1 78.6Z" fill="#fdd226"/>
<circle cx="1569.8" cy="94.3" r="6.4" fill="#fdd226"/>
<circle cx="1578.7" cy="104.7" r="6.4" fill="#fdd226"/>
<circle cx="1611.3" cy="98.3" r="6.4" fill="#fdd226"/>
<rect x="1496.7" y="515.8" width="2.6" height="3.4" fill="#333"/>
<text x="1497.5" y="551.4" text-anchor="middle" font-size="31">-0.3</text>
<rect x="1574.6" y="515.8" width="2.6" height="3.4" fill="#333"/>
<text x="1575.4" y="551.4" text-anchor="middle" font-size="31">-0.2</text>
<rect x="1652.4" y="515.8" width="2.6" height="3.4" fill="#333"/>
<text x="1653.2" y="551.4" text-anchor="middle" font-size="31">-0.1</text>
<rect x="1730.3" y="515.8" width="2.6" height="3.4" fill="#333"/>
<text x="1727.6" y="551.4" text-anchor="middle" font-size="31">0.0</text>
<rect x="1808.2" y="515.8" width="2.6" height="3.4" fill="#333"/>
<text x="1805.5" y="551.4" text-anchor="middle" font-size="31">0.1</text>
<rect x="1886" y="515.8" width="2.6" height="3.4" fill="#333"/>
<text x="1883.3" y="551.4" text-anchor="middle" font-size="31">0.2</text>
<rect x="1963.9" y="515.8" width="2.6" height="3.4" fill="#333"/>
<text x="1961.2" y="551.4" text-anchor="middle" font-size="31">0.3</text>
<rect x="1475" y="495.6" width="3.4" height="2.6" fill="#333"/>
<text x="1467.9" y="507.7" text-anchor="end" font-size="31">-0.2</text>
<rect x="1475" y="388.9" width="3.4" height="2.6" fill="#333"/>
<text x="1467.9" y="401.1" text-anchor="end" font-size="31">0.0</text>
<rect x="1475" y="282.3" width="3.4" height="2.6" fill="#333"/>
<text x="1467.9" y="294.4" text-anchor="end" font-size="31">0.2</text>
<rect x="1475" y="175.6" width="3.4" height="2.6" fill="#333"/>
<text x="1467.9" y="187.8" text-anchor="end" font-size="31">0.4</text>
<rect x="1475" y="69" width="3.4" height="2.6" fill="#333"/>
<text x="1467.9" y="81.1" text-anchor="end" font-size="31">0.6</text>
<text x="1731.6" y="40" text-anchor="middle" font-size="30">Bacteria</text>
<text x="1731.3" y="598.2" text-anchor="middle" font-size="31.5">Axis. 1 [9.1%]</text>
<text transform="translate(1393.8,295.1) rotate(-90)" text-anchor="middle" font-size="30.3">Axis. 2 [8.6%]</text>
<rect x="1810.7" y="73.8" width="150.1" height="80" fill="#fff"/>
<rect x="1823.8" y="88.5" width="18.4" height="20.2" fill="#ebebeb"/>
<rect x="1823.8" y="122.7" width="18.4" height="20.2" fill="#ebebeb"/>
<circle cx="1833" cy="98.5" r="7.2" fill="#000"/>
<path d="M1833 124.9L1842.2 140.8L1823.8 140.8Z" fill="#000"/>
<text x="1848" y="108.7" font-size="31">Matrix</text>
<text x="1848" y="142.6" font-size="31">Roots</text>
<rect x="1471" y="832.4" width="513.2" height="460.2" fill="#e3e3e3"/>
<line x1="1530.9" y1="832.4" x2="1530.9" y2="1292.6" stroke="#fff" stroke-width="1.6"/>
<line x1="1610.7" y1="832.4" x2="1610.7" y2="1292.6" stroke="#fff" stroke-width="1.6"/>
<line x1="1690.5" y1="832.4" x2="1690.5" y2="1292.6" stroke="#fff" stroke-width="1.6"/>
<line x1="1770.3" y1="832.4" x2="1770.3" y2="1292.6" stroke="#fff" stroke-width="1.6"/>
<line x1="1850.1" y1="832.4" x2="1850.1" y2="1292.6" stroke="#fff" stroke-width="1.6"/>
<line x1="1929.9" y1="832.4" x2="1929.9" y2="1292.6" stroke="#fff" stroke-width="1.6"/>
<line x1="1471" y1="1221.1" x2="1984.2" y2="1221.1" stroke="#fff" stroke-width="1.6"/>
<line x1="1471" y1="1115.3" x2="1984.2" y2="1115.3" stroke="#fff" stroke-width="1.6"/>
<line x1="1471" y1="1009.5" x2="1984.2" y2="1009.5" stroke="#fff" stroke-width="1.6"/>
<line x1="1471" y1="903.7" x2="1984.2" y2="903.7" stroke="#fff" stroke-width="1.6"/>
<line x1="1491" y1="832.4" x2="1491" y2="1292.6" stroke="#fff" stroke-width="2.5"/>
<line x1="1570.8" y1="832.4" x2="1570.8" y2="1292.6" stroke="#fff" stroke-width="2.5"/>
<line x1="1650.6" y1="832.4" x2="1650.6" y2="1292.6" stroke="#fff" stroke-width="2.5"/>
<line x1="1730.4" y1="832.4" x2="1730.4" y2="1292.6" stroke="#fff" stroke-width="2.5"/>
<line x1="1810.2" y1="832.4" x2="1810.2" y2="1292.6" stroke="#fff" stroke-width="2.5"/>
<line x1="1890" y1="832.4" x2="1890" y2="1292.6" stroke="#fff" stroke-width="2.5"/>
<line x1="1969.8" y1="832.4" x2="1969.8" y2="1292.6" stroke="#fff" stroke-width="2.5"/>
<line x1="1471" y1="1274" x2="1984.2" y2="1274" stroke="#fff" stroke-width="2.5"/>
<line x1="1471" y1="1168.2" x2="1984.2" y2="1168.2" stroke="#fff" stroke-width="2.5"/>
<line x1="1471" y1="1062.4" x2="1984.2" y2="1062.4" stroke="#fff" stroke-width="2.5"/>
<line x1="1471" y1="956.6" x2="1984.2" y2="956.6" stroke="#fff" stroke-width="2.5"/>
<line x1="1471" y1="850.8" x2="1984.2" y2="850.8" stroke="#fff" stroke-width="2.5"/>
<circle cx="1791.1" cy="1031.7" r="6.4" fill="#e07a2a"/>
<circle cx="1728.6" cy="1052.3" r="6.4" fill="#e07a2a"/>
<circle cx="1765.5" cy="1069.2" r="6.4" fill="#e07a2a"/>
<circle cx="1797.6" cy="1089.5" r="6.4" fill="#e07a2a"/>
<circle cx="1961.1" cy="1143" r="6.4" fill="#e07a2a"/>
<circle cx="1956.2" cy="1155.1" r="6.4" fill="#e07a2a"/>
<circle cx="1918.9" cy="1165.5" r="6.4" fill="#e07a2a"/>
<circle cx="1934.5" cy="1169.8" r="6.4" fill="#e07a2a"/>
<circle cx="1944.9" cy="1165.8" r="6.4" fill="#e07a2a"/>
<circle cx="1950.7" cy="1176.2" r="6.4" fill="#e07a2a"/>
<circle cx="1956.9" cy="1189.8" r="6.4" fill="#e07a2a"/>
<circle cx="1901.2" cy="1185.2" r="6.4" fill="#e07a2a"/>
<circle cx="1745.2" cy="1071" r="6.4" fill="#e07a2a"/>
<circle cx="1745.2" cy="1074.8" r="6.4" fill="#e07a2a"/>
<circle cx="1875.7" cy="1152.1" r="6.4" fill="#e07a2a"/>
<circle cx="1737.9" cy="1115.6" r="6.4" fill="#e07a2a"/>
<circle cx="1801.4" cy="1169.8" r="6.4" fill="#e07a2a"/>
<circle cx="1824.2" cy="1114.5" r="6.4" fill="#e07a2a"/>
<circle cx="1882.3" cy="1136.6" r="6.4" fill="#e07a2a"/>
<circle cx="1898.6" cy="1198.1" r="6.4" fill="#e07a2a"/>
<circle cx="1830.7" cy="1120.9" r="6.4" fill="#e07a2a"/>
<circle cx="1813.3" cy="1129" r="6.4" fill="#e07a2a"/>
<circle cx="1839" cy="1136.3" r="6.4" fill="#e07a2a"/>
<circle cx="1835.7" cy="1163.1" r="6.4" fill="#e07a2a"/>
<circle cx="1842.9" cy="1180.9" r="6.4" fill="#e07a2a"/>
<circle cx="1860.2" cy="1178.1" r="6.4" fill="#e07a2a"/>
<circle cx="1842.9" cy="1198.5" r="6.4" fill="#e07a2a"/>
<circle cx="1893.8" cy="1190.9" r="6.4" fill="#e07a2a"/>
<circle cx="1858.8" cy="1217.3" r="6.4" fill="#e07a2a"/>
<circle cx="1816.1" cy="1137.9" r="6.4" fill="#e07a2a"/>
<circle cx="1885" cy="1147" r="6.4" fill="#e07a2a"/>
<circle cx="1904" cy="1144.1" r="6.4" fill="#e07a2a"/>
<circle cx="1883" cy="1165.1" r="6.4" fill="#e07a2a"/>
<circle cx="1813.2" cy="1168.8" r="6.4" fill="#e07a2a"/>
<circle cx="1826.3" cy="1188.2" r="6.4" fill="#e07a2a"/>
<circle cx="1798.1" cy="1131.4" r="6.4" fill="#e07a2a"/>
<circle cx="1807.7" cy="1153.3" r="6.4" fill="#e07a2a"/>
<circle cx="1761.1" cy="1159.1" r="6.4" fill="#e07a2a"/>
<circle cx="1739.9" cy="1179.1" r="6.4" fill="#e07a2a"/>
<circle cx="1724" cy="1189.2" r="6.4" fill="#e07a2a"/>
<circle cx="1833.2" cy="1159.7" r="6.4" fill="#e07a2a"/>
<circle cx="1820.8" cy="1181.8" r="6.4" fill="#e07a2a"/>
<circle cx="1831.1" cy="1193.6" r="6.4" fill="#e07a2a"/>
<circle cx="1853.3" cy="1192.8" r="6.4" fill="#e07a2a"/>
<circle cx="1892.9" cy="1147.7" r="6.4" fill="#e07a2a"/>
<circle cx="1885.7" cy="1183.6" r="6.4" fill="#e07a2a"/>
<circle cx="1879.9" cy="1195.2" r="6.4" fill="#e07a2a"/>
<circle cx="1876.1" cy="1204.6" r="6.4" fill="#e07a2a"/>
<circle cx="1899.6" cy="1188.5" r="6.4" fill="#e07a2a"/>
<circle cx="1815.3" cy="1216.3" r="6.4" fill="#e07a2a"/>
<circle cx="1656.1" cy="1054.7" r="6.4" fill="#e07a2a"/>
<circle cx="1655.1" cy="1082.8" r="6.4" fill="#e07a2a"/>
<circle cx="1698.3" cy="1071.4" r="6.4" fill="#e07a2a"/>
<circle cx="1682.5" cy="1103.9" r="6.4" fill="#e07a2a"/>
<circle cx="1698.9" cy="1102.8" r="6.4" fill="#e07a2a"/>
<circle cx="1728.4" cy="1052.2" r="6.4" fill="#e07a2a"/>
<circle cx="1564.6" cy="874.7" r="6.4" fill="#e07a2a"/>
<circle cx="1573.7" cy="885" r="6.4" fill="#e07a2a"/>
<circle cx="1607.2" cy="878.5" r="6.4" fill="#e07a2a"/>
<path d="M1534.4 1153.9L1543 1168.8L1525.7 1168.8Z" fill="#33b24d"/>
<path d="M1540.3 1155.8L1548.9 1170.7L1531.7 1170.7Z" fill="#33b24d"/>
<path d="M1542.7 1162.8L1551.3 1177.8L1534 1177.8Z" fill="#33b24d"/>
<path d="M1494.3 1172.5L1502.9 1187.5L1485.7 1187.5Z" fill="#33b24d"/>
<path d="M1504.7 1172.1L1513.3 1187.1L1496 1187.1Z" fill="#33b24d"/>
<path d="M1532.3 1180.5L1540.9 1195.4L1523.7 1195.4Z" fill="#33b24d"/>
<path d="M1518.9 1203.5L1527.5 1218.4L1510.3 1218.4Z" fill="#33b24d"/>
<path d="M1514.5 1208.9L1523.1 1223.8L1505.8 1223.8Z" fill="#33b24d"/>
<path d="M1519.6 1217.6L1528.2 1232.5L1511 1232.5Z" fill="#33b24d"/>
<path d="M1504.4 1233.1L1513 1248L1495.8 1248Z" fill="#33b24d"/>
<path d="M1514.5 1232.8L1523.1 1247.7L1505.8 1247.7Z" fill="#33b24d"/>
<path d="M1530.2 1245L1538.8 1260L1521.6 1260Z" fill="#33b24d"/>
<path d="M1537.5 1248.4L1546.2 1263.3L1528.9 1263.3Z" fill="#33b24d"/>
<path d="M1540.3 1253.1L1548.9 1268L1531.7 1268Z" fill="#33b24d"/>
<path d="M1549.3 1250.5L1557.9 1265.4L1540.7 1265.4Z" fill="#33b24d"/>
<path d="M1549 1259.1L1557.6 1274L1540.4 1274Z" fill="#33b24d"/>
<path d="M1566.8 1256.1L1575.5 1271L1558.2 1271Z" fill="#33b24d"/>
<path d="M1571.4 1239.7L1580 1254.6L1562.8 1254.6Z" fill="#33b24d"/>
<path d="M1588.3 1234.3L1596.9 1249.3L1579.6 1249.3Z" fill="#33b24d"/>
<path d="M1593.5 1238.1L1602.1 1253L1584.9 1253Z" fill="#33b24d"/>
<path d="M1610.8 1253.7L1619.4 1268.7L1602.2 1268.7Z" fill="#33b24d"/>
<path d="M1617 1261.9L1625.6 1276.8L1608.4 1276.8Z" fill="#33b24d"/>
<path d="M1654.3 1253.7L1662.9 1268.7L1645.7 1268.7Z" fill="#33b24d"/>
<path d="M1576.9 1215.1L1585.6 1230L1568.3 1230Z" fill="#33b24d"/>
<path d="M1594.5 1208L1603.1 1222.9L1585.9 1222.9Z" fill="#33b24d"/>
<path d="M1616.3 1214L1624.9 1228.9L1607.7 1228.9Z" fill="#33b24d"/>
<path d="M1625.3 1229.1L1633.9 1244L1616.7 1244Z" fill="#33b24d"/>
<path d="M1625.3 1231.4L1633.9 1246.3L1616.7 1246.3Z" fill="#33b24d"/>
<path d="M1646 1234.3L1654.7 1249.3L1637.4 1249.3Z" fill="#33b24d"/>
<path d="M1646.9 1173.6L1655.5 1188.5L1638.2 1188.5Z" fill="#33b24d"/>
<path d="M1602.5 1238.1L1611.1 1253L1593.9 1253Z" fill="#33b24d"/>
<path d="M1625.3 1238.3L1633.9 1253.3L1616.7 1253.3Z" fill="#33b24d"/>
<path d="M1650.9 1242.8L1659.5 1257.7L1642.3 1257.7Z" fill="#33b24d"/>
<path d="M1677.4 1251.5L1686 1266.4L1668.8 1266.4Z" fill="#33b24d"/>
<path d="M1693.4 1252.1L1702.1 1267.1L1684.8 1267.1Z" fill="#33b24d"/>
<path d="M1644 1205.7L1652.6 1220.6L1635.3 1220.6Z" fill="#33b24d"/>
<path d="M1663.7 1207.9L1672.3 1222.9L1655.1 1222.9Z" fill="#33b24d"/>
<path d="M1682.9 1213.9L1691.6 1228.8L1674.3 1228.8Z" fill="#33b24d"/>
<path d="M1735.4 1138.2L1744 1153.1L1726.8 1153.1Z" fill="#33b24d"/>
<path d="M1764.8 1155.4L1773.4 1170.3L1756.2 1170.3Z" fill="#33b24d"/>
<path d="M1778.6 1162.4L1787.3 1177.3L1770 1177.3Z" fill="#33b24d"/>
<path d="M1782.1 1170.4L1790.7 1185.4L1773.5 1185.4Z" fill="#33b24d"/>
<path d="M1769 1179.7L1777.6 1194.6L1760.3 1194.6Z" fill="#33b24d"/>
<path d="M1763 1191.4L1771.6 1206.4L1754.4 1206.4Z" fill="#33b24d"/>
<path d="M1771.7 1191.3L1780.3 1206.2L1763.1 1206.2Z" fill="#33b24d"/>
<path d="M1823.5 1173.2L1832.2 1188.1L1814.9 1188.1Z" fill="#33b24d"/>
<path d="M1837.4 1171.2L1846 1186.1L1828.7 1186.1Z" fill="#33b24d"/>
<path d="M1848.4 1184.2L1857 1199.1L1839.8 1199.1Z" fill="#33b24d"/>
<path d="M1868.5 1185.9L1877.1 1200.8L1859.8 1200.8Z" fill="#33b24d"/>
<path d="M1734 1183.5L1742.6 1198.4L1725.4 1198.4Z" fill="#33b24d"/>
<path d="M1735.1 1190.6L1743.7 1205.5L1726.5 1205.5Z" fill="#33b24d"/>
<path d="M1793.8 1198.9L1802.5 1213.8L1785.2 1213.8Z" fill="#33b24d"/>
<path d="M1798.7 1194.4L1807.3 1209.3L1790.1 1209.3Z" fill="#33b24d"/>
<path d="M1810.4 1198.2L1819 1213.1L1801.8 1213.1Z" fill="#33b24d"/>
<path d="M1521.3 858.2L1529.9 873.1L1512.7 873.1Z" fill="#33b24d"/>
<path d="M1530.7 850.1L1539.3 865.1L1522.1 865.1Z" fill="#33b24d"/>
<path d="M1533.8 844.1L1542.4 859.1L1525.1 859.1Z" fill="#33b24d"/>
<rect x="1489.7" y="1292.6" width="2.6" height="3.4" fill="#333"/>
<text x="1493.5" y="1328.2" text-anchor="middle" font-size="31">-0.3</text>
<rect x="1569.5" y="1292.6" width="2.6" height="3.4" fill="#333"/>
<text x="1573.3" y="1328.2" text-anchor="middle" font-size="31">-0.2</text>
<rect x="1649.3" y="1292.6" width="2.6" height="3.4" fill="#333"/>
<text x="1653.1" y="1328.2" text-anchor="middle" font-size="31">-0.1</text>
<rect x="1729.1" y="1292.6" width="2.6" height="3.4" fill="#333"/>
<text x="1729.4" y="1328.2" text-anchor="middle" font-size="31">0.0</text>
<rect x="1808.9" y="1292.6" width="2.6" height="3.4" fill="#333"/>
<text x="1809.2" y="1328.2" text-anchor="middle" font-size="31">0.1</text>
<rect x="1888.7" y="1292.6" width="2.6" height="3.4" fill="#333"/>
<text x="1889" y="1328.2" text-anchor="middle" font-size="31">0.2</text>
<rect x="1968.5" y="1292.6" width="2.6" height="3.4" fill="#333"/>
<text x="1968.8" y="1328.2" text-anchor="middle" font-size="31">0.3</text>
<rect x="1467.6" y="1272.7" width="3.4" height="2.6" fill="#333"/>
<text x="1459" y="1283" text-anchor="end" font-size="31">-0.2</text>
<rect x="1467.6" y="1166.9" width="3.4" height="2.6" fill="#333"/>
<text x="1459" y="1177.2" text-anchor="end" font-size="31">0.0</text>
<rect x="1467.6" y="1061.1" width="3.4" height="2.6" fill="#333"/>
<text x="1459" y="1071.4" text-anchor="end" font-size="31">0.2</text>
<rect x="1467.6" y="955.3" width="3.4" height="2.6" fill="#333"/>
<text x="1459" y="965.6" text-anchor="end" font-size="31">0.4</text>
<rect x="1467.6" y="849.5" width="3.4" height="2.6" fill="#333"/>
<text x="1459" y="859.8" text-anchor="end" font-size="31">0.6</text>
<text x="1741" y="816.2" text-anchor="middle" font-size="30">Bacteria</text>
<text x="1729" y="1374.2" text-anchor="middle" font-size="30.8">Axis. 1 [9.1%]</text>
<text transform="translate(1393.6,1087.2) rotate(-90)" text-anchor="middle" font-size="30.9">Axis. 2 [8.6%]</text>
<rect x="1814" y="858.3" width="150" height="79.4" fill="#fff"/>
<rect x="1827" y="873" width="18.4" height="20.2" fill="#ebebeb"/>
<rect x="1827" y="907" width="18.4" height="20.2" fill="#ebebeb"/>
<circle cx="1836.2" cy="883" r="7.2" fill="#e07a2a"/>
<path d="M1836.2 909.4L1845.4 925.3L1827 925.3Z" fill="#33b24d"/>
<text x="1852.7" y="893.2" font-size="31">Matrix</text>
<text x="1852.7" y="927.1" font-size="31">Roots</text>
<rect x="1402" y="646.6" width="19.2" height="19.2" fill="#a8612a"/>
<text x="1436" y="664.2" font-size="30.4">Actinomycetales</text>
<rect x="1402" y="675.5" width="19.2" height="19.2" fill="#86cc98"/>
<text x="1436" y="693.1" font-size="30.4">Burkholderiales</text>
<rect x="1402" y="704.4" width="19.2" height="19.2" fill="#e68a26"/>
<text x="1436" y="722" font-size="30.4">Pseudomonadales</text>
<rect x="1402" y="733.3" width="19.2" height="19.2" fill="#ede81e"/>
<text x="1436" y="750.9" font-size="30.4">Xanthomonadales</text>
<rect x="1705.4" y="646.6" width="19.2" height="19.2" fill="#169a9a"/>
<text x="1738.5" y="664.2" font-size="30.4">Sphingomonadales</text>
<rect x="1705.4" y="675.5" width="19.2" height="19.2" fill="#a8dce3"/>
<text x="1738.5" y="693.1" font-size="30.4">Caulobacteriales</text>
<rect x="1705.4" y="704.4" width="19.2" height="19.2" fill="#12a048"/>
<text x="1738.5" y="722" font-size="30.4">Rhizobiales</text>
<rect x="131.1" y="1465.2" width="512.6" height="456.8" fill="#ebebeb"/>
<line x1="239.6" y1="1465.2" x2="239.6" y2="1922" stroke="#fff" stroke-width="1.5"/>
<line x1="405" y1="1465.2" x2="405" y2="1922" stroke="#fff" stroke-width="1.5"/>
<line x1="570.4" y1="1465.2" x2="570.4" y2="1922" stroke="#fff" stroke-width="1.5"/>
<line x1="131.1" y1="1852.3" x2="643.7" y2="1852.3" stroke="#fff" stroke-width="1.5"/>
<line x1="131.1" y1="1709.2" x2="643.7" y2="1709.2" stroke="#fff" stroke-width="1.5"/>
<line x1="131.1" y1="1566" x2="643.7" y2="1566" stroke="#fff" stroke-width="1.5"/>
<line x1="156.9" y1="1465.2" x2="156.9" y2="1922" stroke="#fff" stroke-width="2.4"/>
<line x1="322.3" y1="1465.2" x2="322.3" y2="1922" stroke="#fff" stroke-width="2.4"/>
<line x1="487.7" y1="1465.2" x2="487.7" y2="1922" stroke="#fff" stroke-width="2.4"/>
<line x1="131.1" y1="1780.7" x2="643.7" y2="1780.7" stroke="#fff" stroke-width="2.4"/>
<line x1="131.1" y1="1637.6" x2="643.7" y2="1637.6" stroke="#fff" stroke-width="2.4"/>
<line x1="131.1" y1="1494.5" x2="643.7" y2="1494.5" stroke="#fff" stroke-width="2.4"/>
<circle cx="163.2" cy="1490.4" r="7" fill="#2d2d2d"/>
<circle cx="180.1" cy="1503.5" r="7" fill="#2d2d2d"/>
<circle cx="286.5" cy="1509" r="7" fill="#2d2d2d"/>
<circle cx="157.2" cy="1575.1" r="7" fill="#b40000"/>
<circle cx="187.1" cy="1579.5" r="7" fill="#b40000"/>
<circle cx="167.4" cy="1597.2" r="7" fill="#b40000"/>
<circle cx="176.1" cy="1595.4" r="7" fill="#b40000"/>
<circle cx="173.2" cy="1603.4" r="7" fill="#b40000"/>
<circle cx="200.6" cy="1599.8" r="7" fill="#b40000"/>
<circle cx="209.3" cy="1588.6" r="7" fill="#b40000"/>
<circle cx="226.9" cy="1588.5" r="7" fill="#b0037f"/>
<circle cx="247.6" cy="1585.7" r="7" fill="#b0037f"/>
<circle cx="274.6" cy="1598.8" r="7" fill="#b40000"/>
<circle cx="331.3" cy="1591.8" r="7" fill="#b0037f"/>
<circle cx="313.9" cy="1613.6" r="7" fill="#b0037f"/>
<circle cx="172.9" cy="1619" r="7" fill="#b40000"/>
<circle cx="183.1" cy="1641.5" r="7" fill="#b40000"/>
<circle cx="180.4" cy="1648.4" r="7" fill="#b40000"/>
<circle cx="190.2" cy="1656.4" r="7" fill="#b40000"/>
<circle cx="209.3" cy="1664.7" r="7" fill="#b40000"/>
<circle cx="310.2" cy="1637.5" r="7" fill="#b40000"/>
<circle cx="328.6" cy="1658.6" r="7" fill="#b40000"/>
<circle cx="298.4" cy="1687.4" r="7" fill="#b40000"/>
<path d="M218 1476.3L227.5 1492.6L208.6 1492.6Z" fill="#2d2d2d"/>
<path d="M154 1517.4L163.4 1533.7L144.5 1533.7Z" fill="#2d2d2d"/>
<path d="M160.7 1519.9L170.1 1536.2L151.2 1536.2Z" fill="#2d2d2d"/>
<path d="M182.8 1592.4L192.3 1608.7L173.4 1608.7Z" fill="#b40000"/>
<path d="M169.4 1598.5L178.8 1614.8L160 1614.8Z" fill="#b40000"/>
<path d="M177.3 1605.7L186.8 1622.1L167.9 1622.1Z" fill="#b40000"/>
<path d="M215.7 1600.7L225.2 1617L206.3 1617Z" fill="#b40000"/>
<path d="M204.1 1615.7L213.5 1632L194.6 1632Z" fill="#b40000"/>
<path d="M333 1644.8L342.5 1661.1L323.6 1661.1Z" fill="#b40000"/>
<path d="M325.2 1683L334.7 1699.3L315.8 1699.3Z" fill="#b40000"/>
<circle cx="409" cy="1601.3" r="7" fill="#b40000"/>
<circle cx="419.9" cy="1619.8" r="7" fill="#b40000"/>
<circle cx="445.4" cy="1588.9" r="7" fill="#b0037f"/>
<circle cx="472.9" cy="1580.8" r="7" fill="#b0037f"/>
<circle cx="531.7" cy="1558.3" r="7" fill="#b0037f"/>
<circle cx="594.3" cy="1551.2" r="7" fill="#b0037f"/>
<circle cx="582.4" cy="1587.4" r="7" fill="#b0037f"/>
<path d="M390 1636.4L399.4 1652.7L380.5 1652.7Z" fill="#b40000"/>
<path d="M443.2 1649.5L452.7 1665.8L433.8 1665.8Z" fill="#b40000"/>
<path d="M535.1 1608.4L544.5 1624.7L525.6 1624.7Z" fill="#b0037f"/>
<path d="M549.7 1606.6L559.1 1622.9L540.2 1622.9Z" fill="#b0037f"/>
<path d="M563 1596.3L572.4 1612.6L553.6 1612.6Z" fill="#b0037f"/>
<path d="M568.7 1598.9L578.2 1615.3L559.3 1615.3Z" fill="#b0037f"/>
<path d="M586 1575.2L595.5 1591.6L576.6 1591.6Z" fill="#b0037f"/>
<path d="M610.6 1592.9L620 1609.2L601.1 1609.2Z" fill="#b0037f"/>
<path d="M616.7 1587.9L626.1 1604.2L607.3 1604.2Z" fill="#b0037f"/>
<path d="M602.8 1607.3L612.2 1623.7L593.4 1623.7Z" fill="#b0037f"/>
<path d="M620.5 1609.5L629.9 1625.9L611.1 1625.9Z" fill="#b0037f"/>
<circle cx="222.6" cy="1765.9" r="7" fill="#b40000"/>
<path d="M284.2 1726.1L293.6 1742.4L274.7 1742.4Z" fill="#b40000"/>
<path d="M320.1 1722.8L329.6 1739.1L310.7 1739.1Z" fill="#b40000"/>
<path d="M337.3 1720L346.7 1736.4L327.8 1736.4Z" fill="#b40000"/>
<path d="M296 1800.8L305.4 1817.1L286.5 1817.1Z" fill="#b40000"/>
<path d="M379.4 1807.5L388.9 1823.8L370 1823.8Z" fill="#b40000"/>
<path d="M405.8 1807.5L415.2 1823.8L396.4 1823.8Z" fill="#b40000"/>
<path d="M240.1 1886.4L249.5 1902.7L230.7 1902.7Z" fill="#b40000"/>
<path d="M235.7 1893.5L245.1 1909.9L226.2 1909.9Z" fill="#b40000"/>
<path d="M252.5 1893.5L261.9 1909.9L243.1 1909.9Z" fill="#b40000"/>
<rect x="155.6" y="1922" width="2.6" height="3.4" fill="#333"/>
<text x="160.4" y="1958" text-anchor="middle" font-size="31">-0.2</text>
<rect x="321" y="1922" width="2.6" height="3.4" fill="#333"/>
<text x="322.3" y="1958" text-anchor="middle" font-size="31">0.0</text>
<rect x="486.4" y="1922" width="2.6" height="3.4" fill="#333"/>
<text x="487.7" y="1958" text-anchor="middle" font-size="31">0.2</text>
<rect x="127.7" y="1922.5" width="3.4" height="2.6" fill="#333"/>
<text x="120.6" y="1934.6" text-anchor="end" font-size="31">-0.50</text>
<rect x="127.7" y="1779.4" width="3.4" height="2.6" fill="#333"/>
<text x="120.6" y="1791.5" text-anchor="end" font-size="31">-0.25</text>
<rect x="127.7" y="1636.3" width="3.4" height="2.6" fill="#333"/>
<text x="120.6" y="1648.4" text-anchor="end" font-size="31">0.00</text>
<rect x="127.7" y="1493.2" width="3.4" height="2.6" fill="#333"/>
<text x="120.6" y="1505.3" text-anchor="end" font-size="31">0.25</text>
<text x="382.8" y="1444.8" text-anchor="middle" font-size="30">Fungi</text>
<text x="379.8" y="1995.2" text-anchor="middle" font-size="30.8">Axis.1&#160;&#160;&#160;[7.3%]</text>
<text transform="translate(36.9,1692.5) rotate(-90)" text-anchor="middle" font-size="30">Axis.2&#160;&#160;&#160;&#160;[5.5%]</text>
<rect x="485.2" y="1819" width="149.4" height="79.4" fill="#fff"/>
<rect x="498" y="1833" width="18.4" height="20" fill="#ebebeb"/>
<rect x="498" y="1867" width="18.4" height="20" fill="#ebebeb"/>
<circle cx="507.2" cy="1842.9" r="7.3" fill="#000"/>
<path d="M507.2 1869.1L516.6 1885.4L497.8 1885.4Z" fill="#000"/>
<text x="522.1" y="1853.6" font-size="31">Matrix</text>
<text x="522.1" y="1887.5" font-size="31">Roots</text>
<rect x="1078" y="1465.2" width="554.8" height="456.8" fill="#ebebeb"/>
<line x1="1196" y1="1465.2" x2="1196" y2="1922" stroke="#fff" stroke-width="1.5"/>
<line x1="1374.8" y1="1465.2" x2="1374.8" y2="1922" stroke="#fff" stroke-width="1.5"/>
<line x1="1553.6" y1="1465.2" x2="1553.6" y2="1922" stroke="#fff" stroke-width="1.5"/>
<line x1="1078" y1="1852.3" x2="1632.8" y2="1852.3" stroke="#fff" stroke-width="1.5"/>
<line x1="1078" y1="1709.2" x2="1632.8" y2="1709.2" stroke="#fff" stroke-width="1.5"/>
<line x1="1078" y1="1566" x2="1632.8" y2="1566" stroke="#fff" stroke-width="1.5"/>
<line x1="1106.6" y1="1465.2" x2="1106.6" y2="1922" stroke="#fff" stroke-width="2.4"/>
<line x1="1285.4" y1="1465.2" x2="1285.4" y2="1922" stroke="#fff" stroke-width="2.4"/>
<line x1="1464.2" y1="1465.2" x2="1464.2" y2="1922" stroke="#fff" stroke-width="2.4"/>
<line x1="1078" y1="1780.7" x2="1632.8" y2="1780.7" stroke="#fff" stroke-width="2.4"/>
<line x1="1078" y1="1637.6" x2="1632.8" y2="1637.6" stroke="#fff" stroke-width="2.4"/>
<line x1="1078" y1="1494.5" x2="1632.8" y2="1494.5" stroke="#fff" stroke-width="2.4"/>
<circle cx="1113.4" cy="1490.4" r="7" fill="#e07a2a"/>
<circle cx="1131.7" cy="1503.5" r="7" fill="#e07a2a"/>
<circle cx="1246.7" cy="1509" r="7" fill="#e07a2a"/>
<circle cx="1106.9" cy="1575.1" r="7" fill="#e07a2a"/>
<circle cx="1139.3" cy="1579.5" r="7" fill="#e07a2a"/>
<circle cx="1117.9" cy="1597.2" r="7" fill="#e07a2a"/>
<circle cx="1127.4" cy="1595.4" r="7" fill="#e07a2a"/>
<circle cx="1124.2" cy="1603.4" r="7" fill="#e07a2a"/>
<circle cx="1153.8" cy="1599.8" r="7" fill="#e07a2a"/>
<circle cx="1163.2" cy="1588.6" r="7" fill="#e07a2a"/>
<circle cx="1182.3" cy="1588.5" r="7" fill="#e07a2a"/>
<circle cx="1204.6" cy="1585.7" r="7" fill="#e07a2a"/>
<circle cx="1233.8" cy="1598.8" r="7" fill="#e07a2a"/>
<circle cx="1295.1" cy="1591.8" r="7" fill="#e07a2a"/>
<circle cx="1276.4" cy="1613.6" r="7" fill="#e07a2a"/>
<circle cx="1123.9" cy="1619" r="7" fill="#e07a2a"/>
<circle cx="1134.9" cy="1641.5" r="7" fill="#e07a2a"/>
<circle cx="1132" cy="1648.4" r="7" fill="#e07a2a"/>
<circle cx="1142.6" cy="1656.4" r="7" fill="#e07a2a"/>
<circle cx="1163.2" cy="1664.7" r="7" fill="#e07a2a"/>
<circle cx="1272.3" cy="1637.5" r="7" fill="#e07a2a"/>
<circle cx="1292.2" cy="1658.6" r="7" fill="#e07a2a"/>
<circle cx="1259.5" cy="1687.4" r="7" fill="#e07a2a"/>
<circle cx="1379.2" cy="1601.3" r="7" fill="#e07a2a"/>
<circle cx="1390.9" cy="1619.8" r="7" fill="#e07a2a"/>
<circle cx="1418.5" cy="1588.9" r="7" fill="#e07a2a"/>
<circle cx="1448.2" cy="1580.8" r="7" fill="#e07a2a"/>
<circle cx="1511.7" cy="1558.3" r="7" fill="#e07a2a"/>
<circle cx="1579.5" cy="1551.2" r="7" fill="#e07a2a"/>
<circle cx="1566.5" cy="1587.4" r="7" fill="#e07a2a"/>
<circle cx="1177.6" cy="1765.9" r="7" fill="#e07a2a"/>
<path d="M1172.7 1476.3L1182.1 1492.6L1163.3 1492.6Z" fill="#33b24d"/>
<path d="M1103.4 1517.4L1112.8 1533.7L1094 1533.7Z" fill="#33b24d"/>
<path d="M1110.7 1519.9L1120.1 1536.2L1101.2 1536.2Z" fill="#33b24d"/>
<path d="M1134.6 1592.4L1144.1 1608.7L1125.2 1608.7Z" fill="#33b24d"/>
<path d="M1120.1 1598.5L1129.5 1614.8L1110.7 1614.8Z" fill="#33b24d"/>
<path d="M1128.7 1605.7L1138.1 1622.1L1119.3 1622.1Z" fill="#33b24d"/>
<path d="M1170.2 1600.7L1179.6 1617L1160.8 1617Z" fill="#33b24d"/>
<path d="M1157.6 1615.7L1167 1632L1148.2 1632Z" fill="#33b24d"/>
<path d="M1297 1644.8L1306.4 1661.1L1287.6 1661.1Z" fill="#33b24d"/>
<path d="M1288.6 1683L1298 1699.3L1279.1 1699.3Z" fill="#33b24d"/>
<path d="M1358.5 1636.4L1368 1652.7L1349.1 1652.7Z" fill="#33b24d"/>
<path d="M1416.1 1649.5L1425.6 1665.8L1406.7 1665.8Z" fill="#33b24d"/>
<path d="M1515.4 1608.4L1524.8 1624.7L1506 1624.7Z" fill="#33b24d"/>
<path d="M1531.2 1606.6L1540.6 1622.9L1521.7 1622.9Z" fill="#33b24d"/>
<path d="M1545.6 1596.3L1555 1612.6L1536.2 1612.6Z" fill="#33b24d"/>
<path d="M1551.8 1598.9L1561.2 1615.3L1542.4 1615.3Z" fill="#33b24d"/>
<path d="M1570.5 1575.2L1579.9 1591.6L1561.1 1591.6Z" fill="#33b24d"/>
<path d="M1597 1592.9L1606.4 1609.2L1587.6 1609.2Z" fill="#33b24d"/>
<path d="M1603.6 1587.9L1613.1 1604.2L1594.2 1604.2Z" fill="#33b24d"/>
<path d="M1588.6 1607.3L1598 1623.7L1579.2 1623.7Z" fill="#33b24d"/>
<path d="M1607.8 1609.5L1617.2 1625.9L1598.3 1625.9Z" fill="#33b24d"/>
<path d="M1244.2 1726.1L1253.6 1742.4L1234.7 1742.4Z" fill="#33b24d"/>
<path d="M1283.1 1722.8L1292.5 1739.1L1273.6 1739.1Z" fill="#33b24d"/>
<path d="M1301.6 1720L1311 1736.4L1292.2 1736.4Z" fill="#33b24d"/>
<path d="M1256.9 1800.8L1266.4 1817.1L1247.5 1817.1Z" fill="#33b24d"/>
<path d="M1347.2 1807.5L1356.6 1823.8L1337.7 1823.8Z" fill="#33b24d"/>
<path d="M1375.7 1807.5L1385.1 1823.8L1366.2 1823.8Z" fill="#33b24d"/>
<path d="M1196.6 1886.4L1206 1902.7L1187.1 1902.7Z" fill="#33b24d"/>
<path d="M1191.7 1893.5L1201.2 1909.9L1182.3 1909.9Z" fill="#33b24d"/>
<path d="M1209.9 1893.5L1219.4 1909.9L1200.5 1909.9Z" fill="#33b24d"/>
<rect x="1105.3" y="1922" width="2.6" height="3.4" fill="#333"/>
<text x="1110.1" y="1958" text-anchor="middle" font-size="31">-0.2</text>
<rect x="1284.1" y="1922" width="2.6" height="3.4" fill="#333"/>
<text x="1285.4" y="1958" text-anchor="middle" font-size="31">0.0</text>
<rect x="1462.9" y="1922" width="2.6" height="3.4" fill="#333"/>
<text x="1464.2" y="1958" text-anchor="middle" font-size="31">0.2</text>
<rect x="1074.6" y="1922.5" width="3.4" height="2.6" fill="#333"/>
<text x="1067.5" y="1934.6" text-anchor="end" font-size="31">-0.50</text>
<rect x="1074.6" y="1779.4" width="3.4" height="2.6" fill="#333"/>
<text x="1067.5" y="1791.5" text-anchor="end" font-size="31">-0.25</text>
<rect x="1074.6" y="1636.3" width="3.4" height="2.6" fill="#333"/>
<text x="1067.5" y="1648.4" text-anchor="end" font-size="31">0.00</text>
<rect x="1074.6" y="1493.2" width="3.4" height="2.6" fill="#333"/>
<text x="1067.5" y="1505.3" text-anchor="end" font-size="31">0.25</text>
<text x="1350" y="1444.8" text-anchor="middle" font-size="30">Fungi</text>
<text x="1368.9" y="1995.2" text-anchor="middle" font-size="30.8">Axis.1&#160;&#160;&#160;[7.3%]</text>
<text transform="translate(983.5,1692.5) rotate(-90)" text-anchor="middle" font-size="30">Axis.2&#160;&#160;&#160;&#160;[5.5%]</text>
<rect x="1459.1" y="1819" width="149.4" height="79.4" fill="#fff"/>
<rect x="1471.9" y="1833" width="18.4" height="20" fill="#ebebeb"/>
<rect x="1471.9" y="1867" width="18.4" height="20" fill="#ebebeb"/>
<circle cx="1481.1" cy="1842.9" r="7.3" fill="#e07a2a"/>
<path d="M1481.1 1869.1L1490.5 1885.4L1471.7 1885.4Z" fill="#33b24d"/>
<text x="1496" y="1853.6" font-size="31">Matrix</text>
<text x="1496" y="1887.5" font-size="31">Roots</text>
<rect x="671.4" y="1659.2" width="15.5" height="15.3" fill="#b0037f"/>
<text x="699.5" y="1678.3" font-size="30.6">Glomerellales</text>
<rect x="671.4" y="1688.2" width="15.5" height="15.3" fill="#b40000"/>
<text x="699.5" y="1707.3" font-size="30.6">Hypocreales</text>
<rect x="671.4" y="1717.2" width="15.5" height="15.3" fill="#2d2d2d"/>
<text x="699.5" y="1736.3" font-size="30.6">Mortierellales</text>
<text x="1330.4" y="36.8" font-size="47" font-weight="bold">b</text>
<text x="1331.2" y="812.8" font-size="47" font-weight="bold">c</text>
<text x="0.3" y="1416.3" font-size="47" font-weight="bold">d</text>
<text x="960" y="1416.8" font-size="47" font-weight="bold">e</text>
</svg></body></html>
